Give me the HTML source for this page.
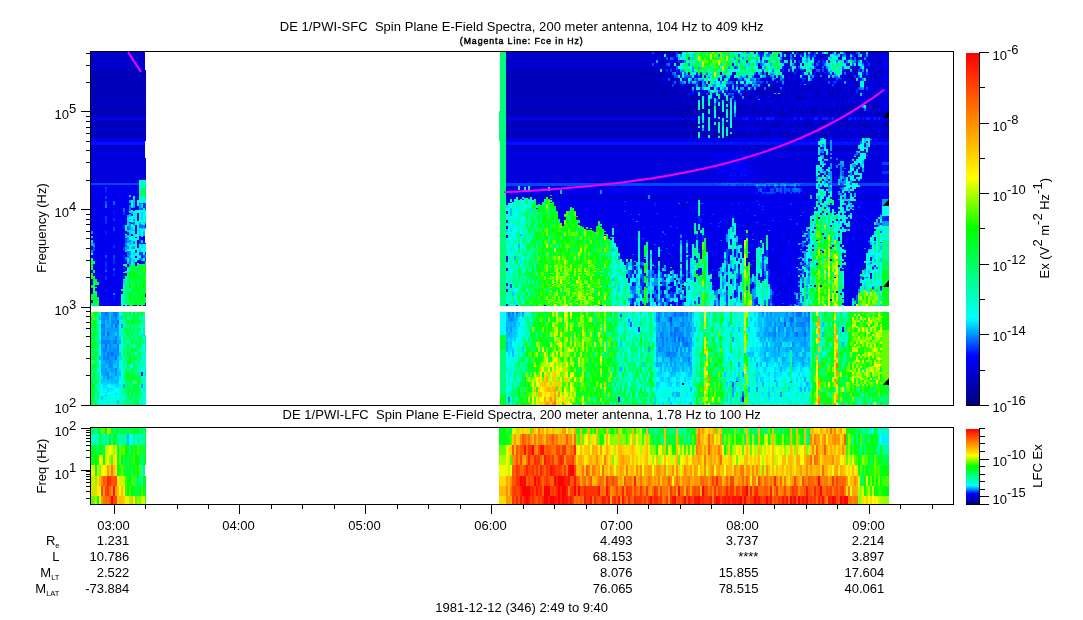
<!DOCTYPE html>
<html><head><meta charset="utf-8"><style>
html,body{margin:0;padding:0;background:#fff;width:1083px;height:620px;overflow:hidden}
#root{position:relative;width:1083px;height:620px}
svg{position:absolute;left:0;top:0}
.p{position:absolute;display:flex}
.p i{display:block;width:2px;height:100%;flex:none}
</style></head><body><div id="root">
<div class="p" style="left:91px;top:52px;height:353px"><i style="background:linear-gradient(#00c 18px,#00b 0 48px,#00c 0 51px,#00b 0 65px,#00e 0 68px,#00b 0 76px,#00c 0 79px,#00b 0 86px,#00e 0 90px,#01f 0 93px,#00c 0 99px,#00d 0 100px,#00e 0 102px,#00d 0 131px,#04f 0 133px,#00e 0 179px,#08f 0 182px,#00e 0 184px,#0cf 0 186px,#00e 0 188px,#0cf 0 190px,#0bf 0 194px,#00e 0 198px,#08f 0 201px,#0ef 0 203px,#00e 0 206px,#0f8 0 208px,#0f6 0 212px,#0f4 0 216px,#0f6 0 218px,#00e 0 221px,#2f0 0 224px,#0f1 0 227px,#00e 0 233px,#0f1 0 236px,#00e 0 242px,#0f4 0 248px,#00e 0 251px,#0f3 0 252px,#0fa 0 254px,#fff 0 260px,#7f0 0 264px,#0f3 0 268px,#2f0 0 272px,#0f3 0 276px,#0f7 0 280px,#0f2 0 292px,#0f0 0 296px,#0f3 0 300px,#0f6 0 304px,#1f0 0 308px,#4f0 0 312px,#0f5 0 316px,#0f4 0 320px,#0f5 0 321px,#0f6 0 324px,#0f3 0 328px,#0f2 0 336px,#0f3 0 340px,#1f0 0 344px,#0f5 0 348px,#0f0 0 352px,#0f3 0)"></i><i style="background:linear-gradient(#00c 18px,#00b 0 48px,#00c 0 51px,#00b 0 65px,#00e 0 68px,#00b 0 76px,#00c 0 79px,#00b 0 86px,#00e 0 90px,#01f 0 93px,#00c 0 99px,#00d 0 100px,#00e 0 102px,#00d 0 131px,#04f 0 133px,#00e 0 191px,#07f 0 193px,#09f 0 195px,#04f 0 199px,#00e 0 201px,#01f 0 203px,#00e 0 209px,#0f4 0 212px,#00e 0 218px,#0f2 0 220px,#0f3 0 221px,#00e 0 224px,#0f2 0 228px,#0f3 0 232px,#0f7 0 236px,#4f0 0 240px,#0f6 0 244px,#0f3 0 248px,#0f4 0 254px,#fff 0 260px,#0f4 0 264px,#6f0 0 268px,#0f1 0 272px,#0f0 0 276px,#0f5 0 280px,#0f2 0 284px,#0f4 0 291px,#0f5 0 292px,#2f0 0 296px,#0f6 0 300px,#0f5 0 303px,#0f6 0 304px,#0f1 0 306px,#0f2 0 308px,#0fc 0 312px,#0f2 0 316px,#0f6 0 320px,#0f2 0 324px,#0f6 0 328px,#0f8 0 332px,#0f0 0 336px,#0f9 0 340px,#0f3 0 344px,#0f5 0 348px,#0f7 0 352px,#0f4 0)"></i><i style="background:linear-gradient(#00c 18px,#00b 0 48px,#00c 0 51px,#00b 0 65px,#00e 0 68px,#00b 0 76px,#00c 0 79px,#00b 0 86px,#00e 0 90px,#01f 0 93px,#00c 0 99px,#00d 0 100px,#00e 0 102px,#00d 0 131px,#04f 0 133px,#00e 0 227px,#0f1 0 228px,#0f3 0 232px,#0f6 0 233px,#00e 0 235px,#0f6 0 236px,#00e 0 239px,#0f5 0 244px,#0f2 0 248px,#0f4 0 252px,#0f7 0 254px,#fff 0 260px,#0f0 0 264px,#0f8 0 268px,#0f5 0 272px,#0f1 0 275px,#0f2 0 276px,#0f4 0 280px,#0f3 0 284px,#0f9 0 288px,#0f2 0 292px,#0f5 0 296px,#0f6 0 299px,#0f7 0 300px,#0f0 0 304px,#0f7 0 308px,#0f4 0 312px,#0f3 0 316px,#0f4 0 320px,#0f8 0 328px,#0f1 0 332px,#0f9 0 336px,#0f4 0 340px,#0f9 0 344px,#0fa 0 348px,#0f6 0 352px,#0f2 0)"></i><i style="background:linear-gradient(#00c 18px,#00b 0 48px,#00c 0 51px,#00b 0 65px,#00e 0 68px,#00b 0 76px,#00c 0 79px,#00b 0 86px,#00e 0 90px,#01f 0 93px,#00c 0 99px,#00d 0 100px,#00e 0 102px,#00d 0 131px,#04f 0 133px,#00e 0 230px,#0f4 0 232px,#0f1 0 233px,#00e 0 245px,#0f2 0 248px,#0f3 0 254px,#fff 0 260px,#0f7 0 263px,#0f8 0 268px,#0fb 0 272px,#0f8 0 276px,#0fa 0 280px,#0f7 0 288px,#0f8 0 292px,#0f5 0 296px,#0f7 0 304px,#0f6 0 306px,#0f7 0 308px,#0fa 0 312px,#0f7 0 316px,#0fe 0 320px,#0f7 0 324px,#0f8 0 332px,#0fa 0 336px,#0f9 0 340px,#0f5 0 344px,#0f7 0 348px,#0fd 0 352px,#0f8 0)"></i><i style="background:linear-gradient(#00c 18px,#00b 0 48px,#00c 0 51px,#00b 0 65px,#00e 0 68px,#00b 0 76px,#00c 0 79px,#00b 0 86px,#00e 0 90px,#01f 0 93px,#00c 0 99px,#00d 0 100px,#00e 0 102px,#00d 0 131px,#04f 0 133px,#00e 0 254px,#fff 0 260px,#0fb 0 262px,#0fc 0 264px,#0cf 0 267px,#0bf 0 268px,#0fe 0 270px,#0ff 0 272px,#0fb 0 274px,#0fc 0 276px,#0fd 0 284px,#0ff 0 288px,#0ef 0 289px,#0df 0 292px,#0fd 0 295px,#0fe 0 298px,#0ff 0 304px,#0bf 0 308px,#0ff 0 312px,#0fd 0 320px,#0fe 0 323px,#0fd 0 324px,#0fb 0 328px,#0fc 0 332px,#0fd 0 336px,#0ff 0 337px,#0fe 0 340px,#0ef 0 341px,#0ff 0 344px,#0fd 0 348px,#0fe 0 352px,#0fb 0)"></i><i style="background:linear-gradient(#00c 18px,#00b 0 48px,#00c 0 51px,#00b 0 65px,#00e 0 68px,#00b 0 76px,#00c 0 79px,#00b 0 86px,#00e 0 90px,#01f 0 93px,#00c 0 99px,#00d 0 100px,#00e 0 102px,#00d 0 131px,#04f 0 133px,#00e 0 254px,#fff 0 260px,#08f 0 264px,#09f 0 268px,#0af 0 272px,#06f 0 276px,#09f 0 280px,#08f 0 288px,#07f 0 292px,#09f 0 300px,#0af 0 304px,#0bf 0 312px,#09f 0 314px,#0af 0 316px,#09f 0 320px,#0af 0 321px,#0bf 0 324px,#0df 0 328px,#0bf 0 330px,#0cf 0 332px,#0ef 0 334px,#0ff 0 339px,#0fe 0 340px,#0ff 0 344px,#0bf 0 346px,#0cf 0 348px,#0fe 0 352px,#0ef 0)"></i><i style="background:linear-gradient(#00c 18px,#00b 0 48px,#00c 0 51px,#00b 0 65px,#00e 0 68px,#00b 0 76px,#00c 0 79px,#00b 0 86px,#00e 0 90px,#01f 0 93px,#00c 0 99px,#00d 0 100px,#00e 0 102px,#00d 0 131px,#04f 0 133px,#00e 0 254px,#fff 0 260px,#09f 0 264px,#08f 0 272px,#07f 0 276px,#08f 0 280px,#07f 0 284px,#0af 0 288px,#07f 0 292px,#0af 0 296px,#07f 0 300px,#08f 0 304px,#07f 0 308px,#0af 0 310px,#0bf 0 312px,#09f 0 315px,#0af 0 320px,#09f 0 322px,#0af 0 328px,#0cf 0 331px,#0df 0 332px,#0cf 0 333px,#0df 0 336px,#0ef 0 339px,#0ff 0 340px,#0ef 0 341px,#0ff 0 343px,#0ef 0 344px,#0fc 0 348px,#0fe 0 352px,#0fd 0)"></i><i style="background:linear-gradient(#00c 18px,#00b 0 48px,#00c 0 51px,#00b 0 65px,#00e 0 68px,#00b 0 76px,#00c 0 79px,#00b 0 86px,#00e 0 90px,#01f 0 93px,#00c 0 99px,#00d 0 100px,#00e 0 102px,#00d 0 131px,#04f 0 133px,#00e 0 135px,#03f 0 137px,#02f 0 140px,#00e 0 144px,#04f 0 147px,#00e 0 149px,#05f 0 152px,#07f 0 156px,#00e 0 158px,#00f 0 161px,#00e 0 164px,#04f 0 166px,#03f 0 172px,#00e 0 179px,#02f 0 182px,#00e 0 200px,#00f 0 203px,#05f 0 206px,#00e 0 209px,#02f 0 211px,#03f 0 214px,#02f 0 218px,#06f 0 220px,#00f 0 224px,#03f 0 228px,#00f 0 234px,#00e 0 237px,#01f 0 240px,#00e 0 246px,#01f 0 248px,#00e 0 254px,#fff 0 260px,#06f 0 264px,#09f 0 268px,#0bf 0 276px,#0af 0 280px,#0bf 0 284px,#09f 0 288px,#08f 0 292px,#06f 0 296px,#08f 0 300px,#0af 0 304px,#08f 0 308px,#09f 0 312px,#0bf 0 315px,#0cf 0 316px,#09f 0 324px,#0bf 0 326px,#0cf 0 331px,#0df 0 332px,#0cf 0 333px,#0df 0 336px,#0ef 0 338px,#0ff 0 340px,#0df 0 341px,#0ef 0 343px,#0bf 0 344px,#0fd 0 347px,#0fc 0 348px,#0fe 0 352px,#0fd 0)"></i><i style="background:linear-gradient(#00c 18px,#00b 0 48px,#00c 0 51px,#00b 0 65px,#00e 0 68px,#00b 0 76px,#00c 0 79px,#00b 0 86px,#00e 0 90px,#01f 0 93px,#00c 0 99px,#00d 0 100px,#00e 0 102px,#00d 0 131px,#04f 0 133px,#00e 0 254px,#fff 0 260px,#08f 0 268px,#09f 0 272px,#0bf 0 276px,#09f 0 280px,#06f 0 284px,#09f 0 288px,#07f 0 292px,#0af 0 300px,#07f 0 307px,#08f 0 308px,#09f 0 312px,#0af 0 316px,#0bf 0 320px,#08f 0 328px,#0bf 0 330px,#0cf 0 332px,#0ef 0 333px,#0ff 0 336px,#0cf 0 337px,#0df 0 340px,#0fe 0 343px,#0fd 0 344px,#0fe 0 347px,#0fd 0 349px,#0fc 0 352px,#0fb 0)"></i><i style="background:linear-gradient(#00c 18px,#00b 0 48px,#00c 0 51px,#00b 0 65px,#00e 0 68px,#00b 0 76px,#00c 0 79px,#00b 0 86px,#00e 0 90px,#01f 0 93px,#00c 0 99px,#00d 0 100px,#00e 0 102px,#00d 0 131px,#04f 0 133px,#00e 0 254px,#fff 0 260px,#0bf 0 272px,#0af 0 276px,#09f 0 284px,#0af 0 288px,#08f 0 304px,#09f 0 308px,#08f 0 316px,#0af 0 320px,#0cf 0 324px,#0af 0 327px,#0bf 0 328px,#0cf 0 331px,#0df 0 332px,#0ff 0 336px,#0df 0 338px,#0ef 0 340px,#0ff 0 342px,#0fe 0 344px,#0fd 0 348px,#0fe 0)"></i><i style="background:linear-gradient(#00c 18px,#00b 0 48px,#00c 0 51px,#00b 0 65px,#00e 0 68px,#00b 0 76px,#00c 0 79px,#00b 0 86px,#00e 0 90px,#01f 0 93px,#00c 0 99px,#00d 0 100px,#00e 0 102px,#00d 0 131px,#04f 0 133px,#00e 0 254px,#fff 0 260px,#0af 0 264px,#09f 0 268px,#08f 0 276px,#09f 0 280px,#0af 0 292px,#09f 0 300px,#06f 0 304px,#09f 0 312px,#08f 0 316px,#09f 0 320px,#0af 0 322px,#0bf 0 324px,#0af 0 327px,#0bf 0 328px,#0af 0 330px,#0bf 0 332px,#0df 0 333px,#0ef 0 335px,#0ff 0 336px,#0df 0 338px,#0ef 0 340px,#0ff 0 344px,#0fe 0 345px,#0fd 0 348px,#0ff 0 349px,#0fe 0 352px,#0fb 0)"></i><i style="background:linear-gradient(#00c 18px,#00b 0 48px,#00c 0 51px,#00b 0 65px,#00e 0 68px,#00b 0 76px,#00c 0 79px,#00b 0 86px,#00e 0 90px,#01f 0 93px,#00c 0 99px,#00d 0 100px,#00e 0 102px,#00d 0 131px,#04f 0 133px,#00e 0 149px,#06f 0 153px,#00e 0 159px,#01f 0 163px,#00e 0 166px,#03f 0 169px,#00e 0 175px,#04f 0 179px,#00e 0 185px,#00f 0 193px,#03f 0 196px,#00e 0 203px,#04f 0 206px,#03f 0 210px,#02f 0 212px,#00e 0 216px,#05f 0 219px,#00f 0 221px,#02f 0 224px,#00e 0 229px,#00f 0 231px,#00e 0 237px,#00f 0 241px,#08f 0 243px,#01f 0 248px,#00e 0 254px,#fff 0 260px,#07f 0 264px,#09f 0 268px,#08f 0 272px,#0bf 0 276px,#0af 0 288px,#07f 0 292px,#0af 0 296px,#08f 0 304px,#09f 0 308px,#0af 0 312px,#0cf 0 316px,#0af 0 320px,#0bf 0 330px,#0cf 0 332px,#0ef 0 334px,#0ff 0 336px,#0ef 0 338px,#0ff 0 341px,#0fe 0 344px,#0ff 0 347px,#0fe 0 348px,#0fc 0 352px,#0fd 0)"></i><i style="background:linear-gradient(#00c 18px,#00b 0 48px,#00c 0 51px,#00b 0 65px,#00e 0 68px,#00b 0 76px,#00c 0 79px,#00b 0 86px,#00e 0 90px,#01f 0 93px,#00c 0 99px,#00d 0 100px,#00e 0 102px,#00d 0 131px,#04f 0 133px,#00e 0 254px,#fff 0 260px,#06f 0 264px,#07f 0 268px,#09f 0 272px,#06f 0 276px,#09f 0 280px,#0cf 0 284px,#08f 0 288px,#07f 0 292px,#0af 0 296px,#09f 0 304px,#06f 0 308px,#0bf 0 312px,#0cf 0 316px,#07f 0 318px,#08f 0 324px,#0cf 0 328px,#0af 0 330px,#0bf 0 332px,#0df 0 335px,#0ef 0 336px,#0ff 0 340px,#0ef 0 341px,#0df 0 343px,#0ef 0 344px,#0fc 0 347px,#0fb 0 352px,#0fc 0)"></i><i style="background:linear-gradient(#00c 18px,#00b 0 48px,#00c 0 51px,#00b 0 65px,#00e 0 68px,#00b 0 76px,#00c 0 79px,#00b 0 86px,#00e 0 90px,#01f 0 93px,#00c 0 99px,#00d 0 100px,#00e 0 102px,#00d 0 131px,#04f 0 133px,#00e 0 254px,#fff 0 260px,#09f 0 264px,#0bf 0 268px,#05f 0 272px,#09f 0 284px,#0af 0 292px,#07f 0 300px,#08f 0 304px,#0bf 0 308px,#0af 0 310px,#0bf 0 312px,#0af 0 316px,#0bf 0 330px,#0cf 0 334px,#0df 0 336px,#0ff 0 339px,#0fe 0 340px,#0ff 0 341px,#0ef 0 342px,#0ff 0 345px,#0fe 0 348px,#0bf 0 351px,#0cf 0 352px,#0fd 0)"></i><i style="background:linear-gradient(#00c 18px,#00b 0 48px,#00c 0 51px,#00b 0 65px,#00e 0 68px,#00b 0 76px,#00c 0 79px,#00b 0 86px,#00e 0 90px,#01f 0 93px,#00c 0 99px,#00d 0 100px,#00e 0 102px,#00d 0 131px,#04f 0 133px,#00e 0 254px,#fff 0 260px,#0ff 0 264px,#0df 0 268px,#0ef 0 272px,#0ff 0 276px,#0ef 0 284px,#0cf 0 288px,#0af 0 292px,#0ef 0 300px,#0cf 0 304px,#0df 0 308px,#0ef 0 314px,#0ff 0 316px,#0df 0 320px,#0bf 0 324px,#0ef 0 328px,#0ff 0 332px,#0ef 0 336px,#0fd 0 337px,#0fc 0 344px,#0fd 0 348px,#0fc 0 349px,#0fb 0 352px,#0fa 0)"></i><i style="background:linear-gradient(#00c 18px,#00b 0 48px,#00c 0 51px,#00b 0 65px,#00e 0 68px,#00b 0 76px,#00c 0 79px,#00b 0 86px,#00e 0 90px,#01f 0 93px,#00c 0 99px,#00d 0 100px,#00e 0 102px,#00d 0 131px,#04f 0 133px,#00e 0 237px,#0fb 0 239px,#00e 0 242px,#0fc 0 244px,#0fd 0 248px,#0fc 0 252px,#0fb 0 254px,#fff 0 260px,#0fa 0 264px,#0cf 0 268px,#0fb 0 272px,#08f 0 275px,#07f 0 276px,#0fa 0 280px,#0f9 0 284px,#0fe 0 285px,#0ff 0 288px,#0fd 0 300px,#0fc 0 304px,#0f7 0 308px,#0fe 0 312px,#0fd 0 313px,#0fc 0 316px,#0fd 0 320px,#0fe 0 328px,#0fc 0 332px,#0fa 0 336px,#0fb 0 337px,#0f9 0 340px,#0fa 0 344px,#0fc 0 348px,#0fb 0 352px,#0fe 0)"></i><i style="background:linear-gradient(#00c 18px,#00b 0 48px,#00c 0 51px,#00b 0 65px,#00e 0 68px,#00b 0 76px,#00c 0 79px,#00b 0 86px,#00e 0 90px,#01f 0 93px,#00c 0 99px,#00d 0 100px,#00e 0 102px,#00d 0 131px,#04f 0 133px,#00e 0 156px,#06f 0 160px,#03f 0 163px,#00f 0 171px,#00e 0 173px,#03f 0 177px,#00d 0 180px,#01f 0 182px,#00e 0 191px,#00d 0 195px,#03f 0 199px,#00e 0 203px,#02f 0 206px,#00e 0 212px,#0fa 0 214px,#00e 0 215px,#03f 0 217px,#00f 0 219px,#00e 0 220px,#0fb 0 221px,#00e 0 223px,#02f 0 226px,#01f 0 227px,#0fd 0 228px,#0bf 0 229px,#0cf 0 232px,#0fc 0 236px,#0f9 0 239px,#0f8 0 240px,#0f9 0 244px,#0fb 0 247px,#0fa 0 248px,#0fb 0 252px,#0fa 0 253px,#00e 0 254px,#fff 0 260px,#0f5 0 263px,#0f6 0 267px,#0f7 0 268px,#0fa 0 276px,#0f7 0 280px,#0f9 0 282px,#0fa 0 284px,#0f3 0 288px,#0f6 0 292px,#0f8 0 296px,#0f5 0 303px,#0f6 0 304px,#0fe 0 308px,#0f7 0 312px,#0f9 0 316px,#0fb 0 324px,#0f8 0 328px,#0fd 0 332px,#0af 0 336px,#0f9 0 340px,#0fa 0 344px,#0fc 0 348px,#0f8 0 352px,#0fa 0)"></i><i style="background:linear-gradient(#00c 18px,#00b 0 48px,#00c 0 51px,#00b 0 65px,#00e 0 68px,#00b 0 76px,#00c 0 79px,#00b 0 86px,#00e 0 90px,#01f 0 93px,#00c 0 99px,#00d 0 100px,#00e 0 102px,#00d 0 131px,#04f 0 133px,#00e 0 173px,#0ef 0 176px,#0fc 0 179px,#00e 0 182px,#0ff 0 183px,#0af 0 186px,#05f 0 191px,#08f 0 193px,#05f 0 195px,#0af 0 199px,#0df 0 200px,#00e 0 205px,#09f 0 207px,#04f 0 209px,#00e 0 212px,#0fb 0 213px,#0f7 0 215px,#00e 0 219px,#0fb 0 220px,#0f9 0 221px,#00e 0 224px,#0f8 0 228px,#0f9 0 232px,#0f6 0 236px,#0f7 0 240px,#0f8 0 244px,#0f6 0 252px,#0fa 0 254px,#fff 0 260px,#0f4 0 268px,#0f7 0 272px,#0f9 0 276px,#0f2 0 280px,#0f7 0 284px,#0f9 0 288px,#0f8 0 292px,#0f9 0 296px,#0f7 0 300px,#0f8 0 304px,#0f7 0 308px,#0f8 0 312px,#0fc 0 316px,#0f6 0 320px,#0f3 0 328px,#0f6 0 340px,#0fa 0 344px,#0f9 0 352px,#0fa 0)"></i><i style="background:linear-gradient(#00c 18px,#00b 0 48px,#00c 0 51px,#00b 0 65px,#00e 0 68px,#00b 0 76px,#00c 0 79px,#00b 0 86px,#00e 0 90px,#01f 0 93px,#00c 0 99px,#00d 0 100px,#00e 0 102px,#00d 0 131px,#04f 0 133px,#00e 0 163px,#0bf 0 166px,#0ef 0 168px,#0cf 0 171px,#0df 0 174px,#06f 0 178px,#0bf 0 180px,#01f 0 183px,#09f 0 184px,#0fd 0 185px,#09f 0 191px,#0ef 0 194px,#08f 0 197px,#0fe 0 199px,#07f 0 206px,#0ef 0 210px,#0bf 0 212px,#00e 0 215px,#0f5 0 216px,#0fd 0 220px,#0f6 0 229px,#0f5 0 232px,#0fa 0 236px,#0f8 0 240px,#0f4 0 244px,#0f7 0 253px,#00e 0 254px,#fff 0 260px,#0f8 0 264px,#0fa 0 268px,#0f1 0 272px,#0f7 0 276px,#0f6 0 280px,#0f3 0 284px,#0f6 0 288px,#0f9 0 292px,#0f4 0 296px,#0f5 0 300px,#0f2 0 304px,#0f7 0 308px,#0f3 0 312px,#0f4 0 316px,#0f7 0 320px,#0f1 0 324px,#0f2 0 328px,#0f5 0 332px,#0f4 0 336px,#0f5 0 340px,#0f1 0 344px,#0f8 0 348px,#0f6 0 352px,#0f7 0)"></i><i style="background:linear-gradient(#00c 18px,#00b 0 48px,#00c 0 51px,#00b 0 65px,#00e 0 68px,#00b 0 76px,#00c 0 79px,#00b 0 86px,#00e 0 90px,#01f 0 93px,#00c 0 99px,#00d 0 100px,#00e 0 102px,#00d 0 131px,#04f 0 133px,#00e 0 143px,#0cf 0 145px,#00e 0 148px,#0af 0 151px,#00e 0 153px,#07f 0 159px,#0df 0 161px,#00e 0 162px,#0bf 0 165px,#0ff 0 167px,#09f 0 168px,#0fe 0 170px,#00e 0 171px,#09f 0 175px,#08f 0 178px,#0df 0 181px,#0bf 0 183px,#0cf 0 185px,#0fe 0 188px,#07f 0 190px,#0bf 0 193px,#0ef 0 195px,#0fe 0 199px,#08f 0 203px,#0bf 0 206px,#08f 0 208px,#07f 0 212px,#0af 0 214px,#0f3 0 216px,#0f5 0 220px,#0f1 0 224px,#0f2 0 228px,#0f5 0 230px,#0f4 0 232px,#0f1 0 236px,#0f8 0 239px,#0f7 0 240px,#0f2 0 244px,#0f0 0 248px,#0f2 0 252px,#0f1 0 254px,#fff 0 260px,#0f2 0 264px,#0f7 0 268px,#0f6 0 272px,#0f4 0 276px,#0f5 0 280px,#0f7 0 284px,#0f5 0 288px,#0f9 0 292px,#0f8 0 300px,#0f6 0 304px,#0f1 0 312px,#0fb 0 316px,#0f8 0 320px,#0f5 0 324px,#0f4 0 332px,#0f5 0 333px,#0f6 0 336px,#0f2 0 340px,#0f8 0 344px,#0f4 0 348px,#0f8 0 352px,#0fa 0)"></i><i style="background:linear-gradient(#00c 18px,#00b 0 48px,#00c 0 51px,#00b 0 65px,#00e 0 68px,#00b 0 76px,#00c 0 79px,#00b 0 86px,#00e 0 90px,#01f 0 93px,#00c 0 99px,#00d 0 100px,#00e 0 102px,#00d 0 131px,#04f 0 133px,#00e 0 148px,#0fd 0 151px,#0fc 0 155px,#0bf 0 156px,#00e 0 158px,#0fc 0 160px,#0af 0 162px,#00e 0 164px,#0ff 0 166px,#0fd 0 170px,#0af 0 171px,#00e 0 172px,#0fd 0 175px,#0cf 0 179px,#0fb 0 182px,#00e 0 184px,#0ef 0 186px,#0fe 0 188px,#0df 0 194px,#0ef 0 195px,#0af 0 197px,#0fc 0 198px,#0ff 0 200px,#0fd 0 204px,#0fe 0 206px,#0cf 0 208px,#0fc 0 210px,#0fd 0 213px,#0f5 0 216px,#0f3 0 220px,#0f1 0 224px,#0f4 0 225px,#0f3 0 228px,#0f6 0 232px,#3f0 0 233px,#4f0 0 236px,#0f6 0 240px,#0f1 0 244px,#0f6 0 246px,#0f5 0 252px,#0f2 0 254px,#fff 0 260px,#0fc 0 264px,#0f6 0 268px,#0f1 0 272px,#0f7 0 276px,#0f6 0 280px,#0f2 0 284px,#0f7 0 288px,#0f2 0 292px,#0f8 0 296px,#0f1 0 300px,#0f7 0 304px,#0f4 0 308px,#0f6 0 312px,#0fd 0 316px,#0f3 0 320px,#0f2 0 324px,#0f1 0 328px,#0f5 0 332px,#0f9 0 336px,#0f6 0 340px,#0f4 0 344px,#0f6 0 348px,#0f9 0 352px,#0f7 0)"></i><i style="background:linear-gradient(#00c 18px,#00b 0 48px,#00c 0 51px,#00b 0 65px,#00e 0 68px,#00b 0 76px,#00c 0 79px,#00b 0 86px,#00e 0 90px,#01f 0 93px,#00c 0 99px,#00d 0 100px,#00e 0 102px,#00d 0 131px,#04f 0 133px,#00e 0 144px,#0fd 0 147px,#0bf 0 149px,#0cf 0 151px,#0bf 0 155px,#08f 0 156px,#00e 0 159px,#0ef 0 167px,#09f 0 169px,#0df 0 170px,#06f 0 172px,#08f 0 173px,#0fe 0 177px,#0cf 0 179px,#0fd 0 182px,#0df 0 185px,#0ff 0 189px,#07f 0 190px,#06f 0 192px,#0fe 0 194px,#09f 0 197px,#0fe 0 200px,#0df 0 203px,#0ef 0 208px,#0bf 0 211px,#0df 0 212px,#0f4 0 216px,#0f5 0 220px,#0f0 0 224px,#0f2 0 228px,#0f6 0 232px,#0f8 0 236px,#0f1 0 240px,#0f6 0 244px,#0f0 0 246px,#1f0 0 248px,#0f3 0 252px,#0f1 0 253px,#00e 0 254px,#fff 0 260px,#0f1 0 268px,#0f0 0 269px,#0f1 0 272px,#0f5 0 276px,#0f4 0 280px,#0f9 0 284px,#0f6 0 288px,#0f7 0 292px,#0fc 0 296px,#0f4 0 300px,#0f5 0 304px,#2f0 0 308px,#0f6 0 316px,#0f7 0 320px,#0f6 0 324px,#1f0 0 328px,#0fd 0 332px,#0f1 0 336px,#0f2 0 340px,#0f7 0 344px,#0f6 0 345px,#0f7 0 348px,#0f5 0 352px,#0f4 0)"></i><i style="background:linear-gradient(#00c 18px,#00b 0 48px,#00c 0 51px,#00b 0 65px,#00e 0 68px,#00b 0 76px,#00c 0 79px,#00b 0 86px,#00e 0 90px,#01f 0 93px,#00c 0 99px,#00d 0 100px,#00e 0 102px,#00d 0 131px,#04f 0 133px,#00e 0 158px,#0fa 0 162px,#0fb 0 169px,#0fc 0 173px,#00e 0 182px,#0ff 0 184px,#0fe 0 185px,#00e 0 186px,#0fc 0 194px,#0fd 0 198px,#00e 0 200px,#05f 0 201px,#0fc 0 204px,#00e 0 206px,#0fc 0 210px,#00e 0 214px,#0f5 0 216px,#0f4 0 220px,#0f2 0 224px,#0f3 0 228px,#0f1 0 236px,#0f4 0 240px,#0f3 0 244px,#0f5 0 248px,#0f0 0 252px,#0f4 0 253px,#00e 0 254px,#fff 0 260px,#0fa 0 264px,#0f5 0 266px,#0f6 0 272px,#0f9 0 276px,#0fb 0 280px,#0f7 0 284px,#0f8 0 288px,#0f4 0 292px,#0f7 0 296px,#0f3 0 300px,#0fb 0 304px,#0f4 0 308px,#0f9 0 312px,#0f6 0 320px,#0f9 0 324px,#0f6 0 328px,#5f0 0 332px,#0f4 0 336px,#0f5 0 344px,#0f4 0 346px,#0f5 0 352px,#0f4 0)"></i><i style="background:linear-gradient(#00c 18px,#00b 0 48px,#00c 0 51px,#00b 0 65px,#00e 0 68px,#00b 0 76px,#00c 0 79px,#00b 0 86px,#00e 0 90px,#01f 0 93px,#00c 0 99px,#00d 0 100px,#00e 0 102px,#00d 0 131px,#04f 0 133px,#00e 0 148px,#0fd 0 154px,#00e 0 158px,#0fe 0 161px,#00e 0 169px,#0fd 0 173px,#0fe 0 175px,#0ef 0 179px,#0fe 0 183px,#0ff 0 185px,#0fe 0 188px,#00e 0 196px,#0fd 0 200px,#0fe 0 204px,#0ff 0 206px,#0fd 0 208px,#00e 0 211px,#0fe 0 212px,#0f7 0 216px,#0f4 0 224px,#0f2 0 228px,#0f5 0 232px,#0f3 0 236px,#0f1 0 240px,#0f3 0 244px,#0f2 0 248px,#0f4 0 252px,#0f0 0 254px,#fff 0 260px,#0f2 0 264px,#0f4 0 268px,#0f3 0 272px,#0f6 0 276px,#0f3 0 280px,#0f5 0 283px,#0f6 0 284px,#0f7 0 288px,#0f6 0 292px,#0f4 0 296px,#0f8 0 300px,#0f5 0 304px,#0f8 0 308px,#0f9 0 312px,#0fa 0 316px,#0fb 0 320px,#0f7 0 324px,#0f5 0 332px,#0f3 0 336px,#0f5 0 340px,#0f1 0 343px,#0f2 0 344px,#0f8 0 348px,#0f4 0 352px,#0f1 0)"></i><i style="background:linear-gradient(#00c 18px,#00b 0 48px,#00c 0 51px,#00b 0 65px,#00e 0 68px,#00b 0 76px,#00c 0 79px,#00b 0 86px,#00e 0 90px,#01f 0 93px,#00c 0 99px,#00d 0 100px,#00e 0 102px,#00d 0 128px,#0fd 0 132px,#0fb 0 136px,#0f8 0 144px,#0fb 0 148px,#0fd 0 151px,#04f 0 152px,#09f 0 156px,#07f 0 158px,#0ff 0 160px,#0fe 0 164px,#0ff 0 168px,#0fe 0 170px,#0af 0 172px,#06f 0 176px,#0df 0 180px,#0cf 0 184px,#00e 0 188px,#03f 0 192px,#0fe 0 196px,#0df 0 200px,#04f 0 203px,#0bf 0 204px,#0fe 0 206px,#07f 0 208px,#00e 0 212px,#0f5 0 213px,#0f4 0 216px,#0f3 0 224px,#0f1 0 228px,#0f3 0 232px,#0f4 0 236px,#0f5 0 240px,#0f1 0 244px,#0f2 0 252px,#0f4 0 253px,#00e 0 254px,#fff 0 260px,#0f6 0 264px,#0fb 0 268px,#0f5 0 272px,#0fa 0 274px,#0fb 0 276px,#0f7 0 280px,#0fc 0 284px,#0f4 0 288px,#0f2 0 292px,#0f4 0 296px,#0fa 0 300px,#0f3 0 304px,#0f5 0 308px,#0f8 0 312px,#0f9 0 316px,#0fb 0 320px,#0f5 0 324px,#0f2 0 328px,#0f4 0 332px,#0fb 0 336px,#0f5 0 340px,#0f6 0 344px,#0f9 0 348px,#0fc 0 352px,#0f4 0)"></i><i style="background:linear-gradient(#00c 18px,#00b 0 48px,#00c 0 51px,#00b 0 65px,#00e 0 68px,#00b 0 76px,#00c 0 79px,#00b 0 86px,#00e 0 90px,#01f 0 93px,#00c 0 99px,#00d 0 100px,#00e 0 102px,#00d 0 128px,#0f9 0 132px,#0fd 0 136px,#0f6 0 144px,#0fc 0 151px,#08f 0 152px,#0cf 0 156px,#06f 0 158px,#0ff 0 160px,#0df 0 168px,#0fe 0 172px,#0bf 0 173px,#06f 0 176px,#0af 0 177px,#0ff 0 180px,#0fe 0 182px,#0fc 0 184px,#0ef 0 185px,#00f 0 188px,#0cf 0 191px,#00e 0 192px,#0df 0 196px,#0ff 0 197px,#0fe 0 200px,#03f 0 204px,#01f 0 206px,#07f 0 208px,#0df 0 209px,#00e 0 212px,#0f4 0 216px,#0f3 0 220px,#0f6 0 224px,#0f2 0 228px,#0f5 0 232px,#0f1 0 236px,#0f2 0 240px,#0f7 0 244px,#0f0 0 248px,#0f3 0 254px,#fff 0 260px,#0f1 0 261px,#0f2 0 264px,#0fa 0 268px,#0f8 0 270px,#0f9 0 272px,#0fc 0 275px,#0fd 0 276px,#0fe 0 280px,#0ff 0 281px,#0ef 0 283px,#0df 0 284px,#0f6 0 288px,#0fb 0 292px,#0fa 0 296px,#0fb 0 298px,#0fc 0 304px,#0ef 0 308px,#0fc 0 312px,#0fb 0 316px,#0ff 0 320px,#01f 0 324px,#0fd 0 328px,#0f9 0 332px,#09f 0 336px,#0ff 0 340px,#0f9 0 344px,#0fb 0 348px,#0fc 0 352px,#0f9 0)"></i><i style="background:linear-gradient(#00c 18px,#00b 0 48px,#00c 0 51px,#00b 0 65px,#00e 0 68px,#00b 0 76px,#00c 0 79px,#00b 0 86px,#00e 0 90px,#01f 0 93px,#00c 0 99px,#00d 0 100px,#00e 0 102px,#00d 0 128px,#0fc 0 132px,#0fb 0 136px,#0f6 0 144px,#0fb 0 148px,#0ef 0 151px,#00f 0 152px,#03f 0 156px,#0df 0 158px,#0fc 0 160px,#0fe 0 164px,#0fd 0 168px,#0fc 0 170px,#0fa 0 172px,#0ff 0 173px,#08f 0 176px,#0df 0 180px,#0bf 0 184px,#00f 0 188px,#01f 0 192px,#0fe 0 194px,#0fb 0 196px,#0fd 0 197px,#0fe 0 200px,#0ff 0 203px,#06f 0 206px,#0ff 0 208px,#0fd 0 209px,#00e 0 212px,#0f4 0 216px,#5f0 0 220px,#0f2 0 224px,#0f3 0 228px,#0f1 0 232px,#0f0 0 236px,#0f3 0 240px,#0f0 0 244px,#0f2 0 248px,#0f3 0 250px,#0f2 0 252px,#4f0 0 253px,#00e 0 254px,#fff 0 260px,#0f9 0 264px,#0fa 0 267px,#0fb 0 268px,#0f9 0 269px,#0fa 0 272px,#0fb 0 275px,#0fc 0 276px,#0f6 0 278px,#0f7 0 284px,#0fd 0 288px,#0f8 0 291px,#0f9 0 292px,#0fe 0 295px,#0fd 0 296px,#0fe 0 300px,#0fc 0 304px,#0fa 0 305px,#0fb 0 308px,#0fc 0 312px,#0fe 0 316px,#0fc 0 328px,#0fd 0 332px,#0fa 0 336px,#0fb 0 340px,#0ff 0 344px,#0fc 0 348px,#0fe 0 352px,#0fa 0)"></i><i style="width:1px;background:linear-gradient(#fff 18px,#00b 0 48px,#00c 0 51px,#00b 0 65px,#00e 0 68px,#00b 0 76px,#00c 0 79px,#00b 0 86px,#00e 0 89px,#fff 0 106px,#00d 0 128px,#0fa 0 136px,#0f7 0 140px,#0f5 0 144px,#0fa 0 148px,#0fc 0 151px,#07f 0 152px,#05f 0 158px,#0ef 0 160px,#0fe 0 170px,#09f 0 172px,#02f 0 176px,#0af 0 177px,#fff 0 191px,#00d 0 192px,#0ff 0 200px,#02f 0 203px,#09f 0 204px,#08f 0 206px,#02f 0 208px,#00e 0 209px,#0df 0 210px,#0f4 0 212px,#0f3 0 216px,#0f0 0 220px,#0f5 0 224px,#4f0 0 228px,#2f0 0 230px,#3f0 0 232px,#0f6 0 234px,#0f5 0 236px,#0f4 0 240px,#0f0 0 242px,#00e 0 245px,#0f4 0 248px,#0f5 0 251px,#00e 0 254px,#fff 0 283px,#0fd 0 284px,#0fa 0 288px,#0fb 0 296px,#0fc 0 300px,#0fe 0 312px,#0fd 0 316px,#0fe 0 320px,#0df 0 324px,#0fe 0 328px,#0ff 0 332px,#0fe 0 336px,#0fc 0 340px,#0fe 0 344px,#0fd 0 348px,#0fe 0 352px,#0fc 0)"></i><i style="width:353px"></i><i style="width:1px;background:linear-gradient(#fff 59px,#0f7 0 89px,#fff 0)"></i><i style="width:6px;background:linear-gradient(#0f7 254px,#fff 0 260px,#0ff 0 283px,#0f3 0 298px,#0f7 0 343px,#0f2 0)"></i><i style="background:linear-gradient(#00c 18px,#00b 0 48px,#00c 0 51px,#00b 0 65px,#00e 0 68px,#00b 0 76px,#00c 0 79px,#00b 0 86px,#00e 0 90px,#01f 0 93px,#00c 0 99px,#00d 0 100px,#00e 0 102px,#00d 0 131px,#04f 0 134px,#00d 0 136px,#00e 0 142px,#00d 0 148px,#00e 0 153px,#0df 0 156px,#0fe 0 159px,#00e 0 162px,#0ff 0 164px,#0fc 0 168px,#00e 0 171px,#0ef 0 172px,#0fc 0 174px,#00e 0 177px,#0cf 0 180px,#0fb 0 183px,#00e 0 186px,#0fc 0 192px,#0fd 0 196px,#0fa 0 204px,#00e 0 205px,#00d 0 208px,#00e 0 210px,#0fb 0 212px,#0fc 0 216px,#00d 0 217px,#00e 0 219px,#0fc 0 224px,#0fd 0 231px,#00e 0 234px,#0df 0 235px,#0ef 0 236px,#0fa 0 237px,#00e 0 240px,#0fa 0 244px,#0fb 0 248px,#0fd 0 252px,#00e 0 254px,#fff 0 260px,#0bf 0 270px,#0af 0 275px,#09f 0 280px,#0bf 0 287px,#0cf 0 290px,#0af 0 292px,#0bf 0 295px,#0af 0 298px,#0bf 0 300px,#0ff 0 305px,#0ef 0 306px,#0ff 0 310px,#0fe 0 314px,#0fd 0 315px,#0ef 0 320px,#0fe 0 325px,#0ff 0 328px,#0fe 0 330px,#0fd 0 332px,#0fc 0 335px,#0ff 0 337px,#0fe 0 340px,#0fc 0 341px,#0fb 0 345px,#0ef 0 348px,#0ff 0 350px,#0f9 0)"></i><i style="background:linear-gradient(#00c 18px,#00b 0 48px,#00c 0 51px,#00b 0 65px,#00e 0 68px,#00b 0 76px,#00c 0 79px,#00b 0 86px,#00e 0 90px,#01f 0 93px,#00c 0 99px,#00d 0 100px,#00e 0 102px,#00d 0 131px,#04f 0 134px,#00d 0 136px,#00e 0 142px,#00d 0 148px,#00e 0 151px,#0fe 0 152px,#0fc 0 153px,#0fb 0 156px,#0fd 0 160px,#0fb 0 164px,#0fd 0 168px,#0fa 0 172px,#0fd 0 176px,#0fe 0 180px,#0fd 0 184px,#0fc 0 188px,#0fa 0 192px,#0fd 0 196px,#0fc 0 200px,#0fe 0 204px,#0fb 0 206px,#0fa 0 208px,#0fd 0 216px,#0fc 0 220px,#0f9 0 224px,#0fe 0 226px,#0fd 0 228px,#0fa 0 232px,#0fb 0 236px,#0fc 0 248px,#0fb 0 252px,#0f8 0 254px,#fff 0 260px,#07f 0 265px,#09f 0 270px,#0bf 0 278px,#0cf 0 280px,#0af 0 285px,#0cf 0 286px,#0df 0 290px,#0cf 0 292px,#0df 0 295px,#0cf 0 296px,#0df 0 300px,#0cf 0 302px,#0df 0 305px,#0fe 0 306px,#0fd 0 310px,#0fe 0 315px,#0fc 0 320px,#0fa 0 325px,#0fb 0 326px,#0fa 0 330px,#0fc 0 335px,#0fd 0 336px,#0fe 0 340px,#0f9 0 341px,#0f8 0 345px,#06f 0 347px,#07f 0 349px,#08f 0 350px,#0f5 0)"></i><i style="background:linear-gradient(#00c 18px,#00b 0 48px,#00c 0 51px,#00b 0 65px,#00e 0 68px,#00b 0 76px,#00c 0 79px,#00b 0 86px,#00e 0 90px,#01f 0 93px,#00c 0 99px,#00d 0 100px,#00e 0 102px,#00d 0 131px,#04f 0 134px,#00d 0 136px,#00e 0 142px,#00d 0 147px,#0df 0 148px,#0ff 0 150px,#00e 0 151px,#0ff 0 156px,#0bf 0 164px,#0fe 0 168px,#0fd 0 172px,#0fe 0 176px,#0df 0 180px,#0fd 0 184px,#0ef 0 185px,#0ff 0 188px,#0fe 0 189px,#0fd 0 192px,#0fc 0 196px,#0df 0 200px,#0fc 0 208px,#0fb 0 212px,#0fa 0 216px,#0ef 0 218px,#0ff 0 222px,#0fe 0 224px,#0fc 0 227px,#0fb 0 232px,#03f 0 234px,#04f 0 236px,#0fa 0 240px,#0f8 0 244px,#0fe 0 248px,#0f8 0 252px,#0fc 0 254px,#fff 0 260px,#0af 0 265px,#08f 0 269px,#09f 0 270px,#0af 0 275px,#09f 0 280px,#0bf 0 286px,#0cf 0 290px,#0bf 0 292px,#0cf 0 296px,#0df 0 299px,#0ef 0 300px,#0ff 0 301px,#0fe 0 305px,#0ff 0 306px,#0fe 0 310px,#0fc 0 315px,#0fb 0 320px,#0df 0 321px,#0ef 0 325px,#0ff 0 330px,#0fc 0 335px,#0fe 0 337px,#0fd 0 340px,#0f8 0 345px,#0fc 0 348px,#0fb 0 350px,#0fe 0 351px,#0fd 0)"></i><i style="background:linear-gradient(#00c 18px,#00b 0 48px,#00c 0 51px,#00b 0 65px,#00e 0 68px,#00b 0 76px,#00c 0 79px,#00b 0 86px,#00e 0 90px,#01f 0 93px,#00c 0 99px,#00d 0 100px,#00e 0 102px,#00d 0 131px,#04f 0 134px,#00d 0 136px,#00e 0 142px,#00d 0 148px,#00e 0 150px,#0fc 0 152px,#0fb 0 154px,#0fa 0 156px,#0fc 0 160px,#0fd 0 168px,#0fc 0 172px,#0ef 0 176px,#0fd 0 180px,#0fe 0 184px,#0fb 0 188px,#0fc 0 192px,#0fb 0 200px,#0fc 0 204px,#0fa 0 208px,#0fd 0 212px,#0fb 0 220px,#0f9 0 224px,#0f8 0 228px,#0f6 0 232px,#0fc 0 236px,#0ef 0 240px,#0bf 0 244px,#0f8 0 246px,#0f7 0 248px,#0f8 0 252px,#0fd 0 254px,#fff 0 260px,#07f 0 262px,#08f 0 265px,#09f 0 270px,#0bf 0 276px,#0cf 0 285px,#0df 0 288px,#0ef 0 290px,#0ff 0 293px,#0fe 0 295px,#0df 0 297px,#0bf 0 300px,#0af 0 303px,#0bf 0 305px,#0fd 0 307px,#0fc 0 310px,#0fd 0 315px,#0fc 0 330px,#0f7 0 333px,#0f6 0 335px,#0f7 0 337px,#0f6 0 341px,#0f5 0 348px,#0f4 0 350px,#0f9 0 352px,#0f8 0)"></i><i style="background:linear-gradient(#00c 18px,#00b 0 48px,#00c 0 51px,#00b 0 65px,#00e 0 68px,#00b 0 76px,#00c 0 79px,#00b 0 86px,#00e 0 90px,#01f 0 93px,#00c 0 99px,#00d 0 100px,#00e 0 102px,#00d 0 131px,#04f 0 134px,#00d 0 136px,#00e 0 142px,#00d 0 147px,#0fa 0 148px,#0fd 0 152px,#0ff 0 156px,#0fd 0 160px,#0fe 0 164px,#0fc 0 168px,#0fb 0 172px,#0fc 0 176px,#0ff 0 180px,#0fd 0 184px,#0fe 0 188px,#0fa 0 192px,#0fe 0 196px,#0fc 0 200px,#0fb 0 204px,#09f 0 207px,#0af 0 208px,#0f7 0 212px,#0fa 0 216px,#0f9 0 220px,#0f7 0 224px,#0f9 0 228px,#0f8 0 232px,#0f7 0 236px,#0fe 0 240px,#0f9 0 244px,#0fd 0 248px,#0df 0 252px,#0f9 0 254px,#fff 0 260px,#0cf 0 265px,#0af 0 269px,#0bf 0 270px,#0af 0 275px,#0cf 0 280px,#0bf 0 282px,#0cf 0 288px,#0df 0 290px,#0ff 0 292px,#0fe 0 294px,#0fd 0 295px,#0ff 0 296px,#0fe 0 303px,#0fd 0 310px,#0fc 0 315px,#0fb 0 317px,#0fa 0 320px,#0f6 0 325px,#0f8 0 330px,#0fd 0 335px,#0f8 0 339px,#0f7 0 340px,#0f6 0 345px,#0f9 0 347px,#0f8 0 350px,#0fa 0)"></i><i style="background:linear-gradient(#00c 18px,#00b 0 48px,#00c 0 51px,#00b 0 65px,#00e 0 68px,#00b 0 76px,#00c 0 79px,#00b 0 86px,#00e 0 90px,#01f 0 93px,#00c 0 99px,#00d 0 100px,#00e 0 102px,#00d 0 131px,#04f 0 134px,#00d 0 136px,#00e 0 142px,#00d 0 145px,#0fd 0 152px,#0fa 0 156px,#0ef 0 158px,#0ff 0 160px,#0fe 0 164px,#0fd 0 168px,#0fa 0 172px,#0fd 0 176px,#0fc 0 180px,#0fb 0 184px,#0fa 0 188px,#0fc 0 196px,#0fd 0 200px,#0fa 0 204px,#0f8 0 206px,#0f7 0 208px,#0f4 0 212px,#0ef 0 216px,#0fa 0 220px,#0fb 0 224px,#0fa 0 228px,#0f9 0 232px,#0f6 0 236px,#0ff 0 238px,#0fe 0 240px,#0fa 0 248px,#0fb 0 252px,#0fa 0 253px,#00e 0 254px,#fff 0 260px,#07f 0 262px,#08f 0 265px,#0bf 0 269px,#0cf 0 270px,#0df 0 275px,#0cf 0 277px,#0df 0 280px,#0cf 0 281px,#0df 0 285px,#0ff 0 290px,#0fe 0 295px,#0fd 0 297px,#0fc 0 300px,#0fe 0 302px,#0fd 0 307px,#0fc 0 310px,#0f9 0 311px,#0f6 0 315px,#0f9 0 318px,#0f8 0 320px,#0fa 0 323px,#0f9 0 325px,#0fb 0 330px,#0f9 0 331px,#0f8 0 335px,#0f6 0 337px,#0f5 0 342px,#0f4 0 345px,#0fc 0 350px,#0f1 0)"></i><i style="background:linear-gradient(#00c 18px,#00b 0 48px,#00c 0 51px,#00b 0 65px,#00e 0 68px,#00b 0 76px,#00c 0 79px,#00b 0 86px,#00e 0 90px,#01f 0 93px,#00c 0 99px,#00d 0 100px,#00e 0 102px,#00d 0 131px,#04f 0 134px,#0ff 0 138px,#00e 0 142px,#00d 0 148px,#0fa 0 152px,#0fb 0 156px,#0fc 0 158px,#0fb 0 160px,#0fa 0 164px,#0fb 0 168px,#0f9 0 172px,#0fb 0 174px,#0fa 0 180px,#0f8 0 184px,#0f9 0 188px,#0f6 0 192px,#0af 0 196px,#0f3 0 200px,#0fb 0 204px,#0f8 0 208px,#0fc 0 212px,#0f6 0 217px,#0f5 0 220px,#0f6 0 224px,#0f5 0 228px,#0f9 0 232px,#0fa 0 236px,#0f9 0 239px,#0f8 0 244px,#0f4 0 248px,#0f8 0 252px,#0f9 0 254px,#fff 0 260px,#0af 0 262px,#0bf 0 265px,#0ef 0 269px,#0ff 0 270px,#0cf 0 273px,#0df 0 275px,#0ff 0 279px,#0fe 0 285px,#0ff 0 289px,#0fe 0 290px,#0fd 0 291px,#0fc 0 295px,#0fb 0 298px,#0fa 0 300px,#0fd 0 302px,#0fc 0 305px,#0fa 0 306px,#0f8 0 310px,#0f4 0 314px,#0f3 0 315px,#0fa 0 317px,#0f9 0 320px,#0f7 0 325px,#0fb 0 329px,#0fa 0 330px,#0f9 0 333px,#0f8 0 335px,#0f1 0 345px,#0f3 0 347px,#0f2 0 350px,#2f0 0 352px,#3f0 0)"></i><i style="background:linear-gradient(#00c 18px,#00b 0 48px,#00c 0 51px,#00b 0 65px,#00e 0 68px,#00b 0 76px,#00c 0 79px,#00b 0 86px,#00e 0 90px,#01f 0 93px,#00c 0 99px,#00d 0 100px,#00e 0 102px,#00d 0 131px,#04f 0 134px,#00d 0 136px,#00e 0 142px,#00d 0 147px,#0fa 0 148px,#0fd 0 152px,#0fc 0 168px,#0fe 0 172px,#0fc 0 176px,#0fd 0 180px,#0ff 0 182px,#0af 0 184px,#0fc 0 185px,#0fb 0 188px,#0fd 0 192px,#0fe 0 196px,#0fd 0 200px,#0fc 0 204px,#0ef 0 208px,#0df 0 211px,#0ef 0 212px,#0fd 0 216px,#0f7 0 220px,#0f5 0 224px,#0fa 0 228px,#0f9 0 235px,#0f8 0 236px,#0f6 0 240px,#0f7 0 244px,#0fb 0 248px,#0f7 0 252px,#0f4 0 254px,#fff 0 260px,#0df 0 263px,#0ef 0 265px,#0ff 0 269px,#0ef 0 270px,#0fe 0 273px,#0fd 0 275px,#0fe 0 280px,#0fd 0 285px,#0fc 0 290px,#0fe 0 295px,#0f9 0 298px,#0f8 0 300px,#0fd 0 305px,#0f6 0 309px,#0f5 0 310px,#0fa 0 312px,#0f9 0 315px,#0f7 0 316px,#0f6 0 320px,#0f7 0 322px,#0f6 0 325px,#0fd 0 329px,#0fc 0 330px,#0f0 0 331px,#1f0 0 334px,#2f0 0 335px,#0f9 0 337px,#0f8 0 340px,#0f6 0 345px,#0f1 0 350px,#0f3 0)"></i><i style="background:linear-gradient(#00c 18px,#00b 0 48px,#00c 0 51px,#00b 0 65px,#00e 0 68px,#00b 0 76px,#00c 0 79px,#00b 0 86px,#00e 0 90px,#01f 0 93px,#00c 0 99px,#00d 0 100px,#00e 0 102px,#00d 0 131px,#04f 0 134px,#00d 0 136px,#00e 0 142px,#00d 0 145px,#0fd 0 147px,#00d 0 148px,#0fe 0 152px,#0fd 0 160px,#0f8 0 164px,#0ff 0 168px,#0fc 0 172px,#0fb 0 176px,#0f9 0 180px,#0ef 0 184px,#0f9 0 188px,#0f7 0 192px,#0fb 0 196px,#0f8 0 204px,#0fd 0 208px,#0fc 0 212px,#0f9 0 216px,#0fb 0 220px,#0f9 0 224px,#0f8 0 228px,#0f7 0 232px,#0f6 0 236px,#0f5 0 240px,#0fa 0 244px,#0f8 0 247px,#0f7 0 248px,#0fd 0 252px,#0f5 0 254px,#fff 0 260px,#09f 0 264px,#0af 0 265px,#0fd 0 270px,#0ff 0 275px,#0fc 0 276px,#0fb 0 280px,#0fe 0 281px,#0ff 0 285px,#0fb 0 288px,#0fa 0 295px,#0bf 0 297px,#0cf 0 300px,#0f8 0 301px,#0f7 0 305px,#0f1 0 310px,#0f9 0 313px,#0f8 0 315px,#0fb 0 317px,#0fa 0 320px,#0f6 0 321px,#0f5 0 325px,#0f3 0 330px,#0f5 0 331px,#0f4 0 335px,#3f0 0 338px,#4f0 0 340px,#2f0 0 342px,#3f0 0 345px,#0f3 0 349px,#0f2 0 350px,#0f1 0)"></i><i style="background:linear-gradient(#00c 18px,#00b 0 48px,#00c 0 51px,#00b 0 65px,#00e 0 68px,#00b 0 76px,#00c 0 79px,#00b 0 86px,#00e 0 90px,#01f 0 93px,#00c 0 99px,#00d 0 100px,#00e 0 102px,#00d 0 131px,#04f 0 134px,#00d 0 135px,#0fc 0 139px,#00e 0 142px,#00d 0 146px,#0fa 0 148px,#0f9 0 152px,#0ff 0 156px,#0fd 0 160px,#0f6 0 164px,#0fc 0 166px,#0fb 0 172px,#0fa 0 176px,#0fd 0 180px,#0f9 0 184px,#0f8 0 188px,#0f7 0 192px,#0fc 0 200px,#0f6 0 204px,#0f9 0 208px,#0f6 0 212px,#0f9 0 216px,#0fa 0 220px,#0f5 0 224px,#0f9 0 232px,#0f6 0 236px,#0f3 0 240px,#0f7 0 246px,#0f6 0 248px,#0f4 0 252px,#0f6 0 254px,#fff 0 260px,#0fb 0 264px,#0f9 0 265px,#0ef 0 268px,#0ff 0 270px,#0fe 0 274px,#0fd 0 275px,#0fb 0 280px,#0fc 0 285px,#0f9 0 286px,#0f8 0 290px,#0f5 0 292px,#0f4 0 295px,#0fb 0 298px,#0fa 0 300px,#0f6 0 305px,#0f7 0 310px,#0fa 0 311px,#0f9 0 315px,#0f8 0 316px,#0f7 0 325px,#0f1 0 335px,#0f7 0 340px,#0f4 0 345px,#3f0 0 349px,#4f0 0 350px,#0f0 0)"></i><i style="background:linear-gradient(#00c 18px,#00b 0 48px,#00c 0 51px,#00b 0 65px,#00e 0 68px,#00b 0 76px,#00c 0 79px,#00b 0 86px,#00e 0 90px,#01f 0 93px,#00c 0 99px,#00d 0 100px,#00e 0 102px,#00d 0 131px,#04f 0 134px,#00d 0 136px,#00e 0 142px,#00d 0 146px,#0f9 0 147px,#0f8 0 148px,#0f6 0 152px,#0fc 0 156px,#0f8 0 159px,#0f7 0 160px,#0f5 0 164px,#0f4 0 168px,#0f9 0 172px,#0f5 0 175px,#0f4 0 176px,#0f9 0 180px,#0fa 0 184px,#0fb 0 188px,#0f8 0 191px,#0f7 0 192px,#0f5 0 196px,#0f6 0 200px,#0f8 0 204px,#0fb 0 208px,#0f8 0 216px,#0f4 0 220px,#0f5 0 224px,#0f7 0 228px,#0f4 0 232px,#0f5 0 236px,#0fc 0 240px,#1f0 0 244px,#0f8 0 248px,#0f2 0 252px,#0f3 0 254px,#fff 0 260px,#0ff 0 262px,#0fe 0 265px,#0f5 0 270px,#0f9 0 275px,#0fc 0 280px,#0fa 0 285px,#0fd 0 288px,#0fc 0 290px,#2f0 0 294px,#3f0 0 295px,#0f2 0 300px,#0f1 0 301px,#0f0 0 305px,#0fc 0 310px,#0f5 0 311px,#0f4 0 315px,#0f7 0 318px,#0f6 0 320px,#8f0 0 322px,#9f0 0 325px,#4f0 0 328px,#5f0 0 330px,#0f4 0 335px,#3f0 0 337px,#4f0 0 340px,#2f0 0 344px,#3f0 0 345px,#0f2 0 348px,#0f1 0 350px,#1f0 0 351px,#2f0 0)"></i><i style="background:linear-gradient(#00c 18px,#00b 0 48px,#00c 0 51px,#00b 0 65px,#00e 0 68px,#00b 0 76px,#00c 0 79px,#00b 0 86px,#00e 0 90px,#01f 0 93px,#00c 0 99px,#00d 0 100px,#00e 0 102px,#00d 0 131px,#04f 0 134px,#0ff 0 138px,#00e 0 142px,#00d 0 147px,#0f6 0 148px,#0fc 0 156px,#0f7 0 160px,#0f8 0 161px,#0f7 0 164px,#0fa 0 168px,#0f8 0 172px,#0f9 0 176px,#0f2 0 180px,#0fa 0 187px,#0f9 0 188px,#0fc 0 192px,#0f3 0 196px,#0f5 0 199px,#0f4 0 200px,#0fb 0 204px,#0fa 0 208px,#0f5 0 212px,#0f6 0 216px,#0f8 0 220px,#0f3 0 224px,#0f5 0 228px,#0fb 0 232px,#0f3 0 236px,#0f6 0 238px,#0f5 0 240px,#0fc 0 244px,#0f5 0 248px,#0f3 0 252px,#0f5 0 253px,#0f4 0 254px,#fff 0 260px,#0fe 0 263px,#0fd 0 265px,#0f8 0 270px,#0f6 0 274px,#0f5 0 275px,#0f9 0 280px,#0fb 0 285px,#0f5 0 290px,#0f9 0 295px,#0f2 0 300px,#3f0 0 304px,#4f0 0 305px,#0f6 0 309px,#0f5 0 310px,#0f2 0 312px,#0f1 0 315px,#0f2 0 320px,#0f8 0 321px,#0f7 0 325px,#af0 0 326px,#bf0 0 329px,#cf0 0 330px,#0f1 0 331px,#0f0 0 335px,#0f1 0 340px,#4f0 0 345px,#fe0 0 350px,#2f0 0)"></i><i style="background:linear-gradient(#00c 18px,#00b 0 48px,#00c 0 51px,#00b 0 65px,#00e 0 68px,#00b 0 76px,#00c 0 79px,#00b 0 86px,#00e 0 90px,#01f 0 93px,#00c 0 99px,#00d 0 100px,#00e 0 102px,#00d 0 131px,#04f 0 134px,#00d 0 136px,#00e 0 142px,#00d 0 145px,#0f9 0 148px,#0fb 0 152px,#0fc 0 155px,#0fb 0 156px,#0df 0 160px,#0f8 0 164px,#0f5 0 168px,#0f7 0 172px,#0f5 0 180px,#0f7 0 184px,#0f9 0 188px,#0f4 0 189px,#0f3 0 192px,#0f4 0 196px,#0f9 0 201px,#0f8 0 204px,#0f6 0 208px,#0f5 0 212px,#0f6 0 216px,#0f9 0 220px,#0f4 0 228px,#0f5 0 232px,#0f6 0 236px,#0f5 0 240px,#0f4 0 248px,#4f0 0 252px,#0f2 0 254px,#fff 0 260px,#0fa 0 264px,#0f9 0 265px,#0fc 0 270px,#0fa 0 275px,#0f5 0 277px,#0f4 0 282px,#0f3 0 285px,#0fa 0 287px,#0f9 0 290px,#0f5 0 295px,#0f4 0 300px,#4f0 0 303px,#5f0 0 305px,#0f6 0 307px,#0f5 0 310px,#0f2 0 312px,#0f1 0 315px,#0f3 0 318px,#0f2 0 320px,#4f0 0 322px,#5f0 0 327px,#6f0 0 330px,#4f0 0 332px,#5f0 0 335px,#0f2 0 340px,#6f0 0 345px,#0f2 0 350px,#5f0 0)"></i><i style="background:linear-gradient(#00c 18px,#00b 0 48px,#00c 0 51px,#00b 0 65px,#00e 0 68px,#00b 0 76px,#00c 0 79px,#00b 0 86px,#00e 0 90px,#01f 0 93px,#00c 0 99px,#00d 0 100px,#00e 0 102px,#00d 0 131px,#04f 0 134px,#00d 0 136px,#00e 0 142px,#00d 0 148px,#0fc 0 152px,#0f2 0 153px,#0f1 0 156px,#0f6 0 157px,#0f5 0 160px,#0f8 0 164px,#0f3 0 168px,#0f4 0 176px,#0f8 0 180px,#0f9 0 184px,#0f5 0 188px,#0f2 0 192px,#0f5 0 196px,#0f8 0 198px,#0f7 0 204px,#0f9 0 208px,#0f7 0 212px,#0f4 0 216px,#0f0 0 220px,#0f3 0 224px,#0f4 0 228px,#0f8 0 232px,#0f4 0 236px,#0f6 0 240px,#0f4 0 244px,#2f0 0 245px,#3f0 0 248px,#0f3 0 254px,#fff 0 260px,#0f3 0 265px,#0f8 0 270px,#0f4 0 273px,#0f3 0 275px,#8f0 0 277px,#9f0 0 280px,#0f2 0 285px,#0f0 0 286px,#1f0 0 290px,#0f5 0 293px,#0f4 0 295px,#0f6 0 297px,#0f5 0 300px,#0f1 0 302px,#0f0 0 305px,#3f0 0 308px,#4f0 0 310px,#0f3 0 314px,#0f2 0 315px,#0f4 0 318px,#0f3 0 320px,#0f2 0 324px,#0f1 0 325px,#9f0 0 326px,#af0 0 328px,#bf0 0 330px,#cf0 0 331px,#df0 0 335px,#8f0 0 336px,#9f0 0 340px,#af0 0 342px,#bf0 0 345px,#ef0 0 350px,#fe0 0)"></i><i style="background:linear-gradient(#00c 18px,#00b 0 48px,#00c 0 51px,#00b 0 65px,#00e 0 68px,#00b 0 76px,#00c 0 79px,#00b 0 86px,#00e 0 90px,#01f 0 93px,#00c 0 99px,#00d 0 100px,#00e 0 102px,#00d 0 131px,#04f 0 134px,#00d 0 136px,#00e 0 142px,#00d 0 147px,#0f9 0 148px,#0f3 0 152px,#0f4 0 156px,#0f6 0 164px,#0f9 0 168px,#0f6 0 169px,#0f5 0 172px,#0f9 0 176px,#0f6 0 180px,#0f4 0 188px,#0f3 0 192px,#0f2 0 196px,#0f6 0 199px,#0f5 0 200px,#0f4 0 203px,#0f3 0 204px,#1f0 0 206px,#2f0 0 208px,#0f6 0 212px,#0fa 0 220px,#2f0 0 224px,#0f4 0 232px,#0f5 0 236px,#0f2 0 240px,#0f4 0 244px,#0f3 0 248px,#1f0 0 252px,#0f7 0 254px,#fff 0 260px,#0f8 0 264px,#0f7 0 265px,#0f5 0 270px,#0f2 0 275px,#0f5 0 279px,#0f4 0 280px,#0f3 0 285px,#0f2 0 290px,#0f3 0 295px,#0f4 0 300px,#4f0 0 301px,#5f0 0 305px,#0f3 0 307px,#0f2 0 310px,#af0 0 311px,#bf0 0 314px,#cf0 0 315px,#1f0 0 318px,#2f0 0 320px,#bf0 0 323px,#cf0 0 325px,#9f0 0 327px,#af0 0 330px,#5f0 0 335px,#fc0 0 337px,#fb0 0 340px,#fd0 0 343px,#fc0 0 345px,#4f0 0 350px,#6f0 0)"></i><i style="background:linear-gradient(#00c 18px,#00b 0 48px,#00c 0 51px,#00b 0 65px,#00e 0 68px,#00b 0 76px,#00c 0 79px,#00b 0 86px,#00e 0 90px,#01f 0 93px,#00c 0 99px,#00d 0 100px,#00e 0 102px,#00d 0 131px,#04f 0 134px,#00d 0 136px,#00e 0 142px,#00d 0 148px,#00e 0 153px,#0f9 0 156px,#00e 0 157px,#0f2 0 160px,#0f9 0 164px,#0f7 0 168px,#0fa 0 172px,#0f5 0 176px,#0f9 0 179px,#0f8 0 180px,#0f1 0 188px,#0f5 0 192px,#0f9 0 194px,#0f8 0 208px,#0f7 0 212px,#0f1 0 216px,#0f3 0 220px,#0fa 0 224px,#0f1 0 228px,#0f8 0 232px,#0f6 0 236px,#0f3 0 244px,#0f4 0 248px,#0f2 0 252px,#0f1 0 254px,#fff 0 260px,#2f0 0 265px,#0f1 0 270px,#0f2 0 275px,#0f1 0 280px,#0fa 0 281px,#0f9 0 285px,#0f5 0 290px,#9f0 0 291px,#af0 0 295px,#0f1 0 297px,#0f0 0 300px,#bf0 0 304px,#cf0 0 305px,#0f3 0 306px,#0f2 0 310px,#0f0 0 312px,#1f0 0 314px,#2f0 0 315px,#0f2 0 317px,#0f1 0 320px,#2f0 0 321px,#3f0 0 323px,#4f0 0 325px,#ef0 0 326px,#ff0 0 335px,#0f0 0 340px,#7f0 0 343px,#8f0 0 345px,#fe0 0 350px,#cf0 0)"></i><i style="background:linear-gradient(#00c 18px,#00b 0 48px,#00c 0 51px,#00b 0 65px,#00e 0 68px,#00b 0 76px,#00c 0 79px,#00b 0 86px,#00e 0 90px,#01f 0 93px,#00c 0 99px,#00d 0 100px,#00e 0 102px,#00d 0 131px,#04f 0 134px,#00d 0 136px,#00e 0 142px,#00d 0 148px,#00e 0 152px,#0f3 0 156px,#0f1 0 160px,#0f5 0 164px,#0f1 0 168px,#0f3 0 176px,#2f0 0 180px,#0f3 0 188px,#0f6 0 192px,#0f4 0 196px,#6f0 0 200px,#1f0 0 204px,#6f0 0 208px,#1f0 0 212px,#0f3 0 216px,#0f0 0 220px,#1f0 0 224px,#0f6 0 228px,#0f1 0 232px,#2f0 0 236px,#0f2 0 240px,#0f1 0 244px,#3f0 0 248px,#0f3 0 252px,#5f0 0 254px,#fff 0 260px,#0f2 0 265px,#0f1 0 270px,#0f0 0 275px,#0f3 0 280px,#0f2 0 282px,#0f1 0 285px,#2f0 0 289px,#3f0 0 290px,#7f0 0 294px,#8f0 0 295px,#af0 0 299px,#bf0 0 300px,#0f1 0 301px,#0f0 0 305px,#0f1 0 310px,#0f0 0 312px,#1f0 0 314px,#2f0 0 317px,#3f0 0 319px,#4f0 0 320px,#5f0 0 322px,#6f0 0 324px,#7f0 0 325px,#fd0 0 328px,#fc0 0 330px,#df0 0 335px,#fc0 0 340px,#fb0 0 345px,#9f0 0 347px,#af0 0 350px,#fd0 0)"></i><i style="background:linear-gradient(#00c 18px,#00b 0 48px,#00c 0 51px,#00b 0 65px,#00e 0 68px,#00b 0 76px,#00c 0 79px,#00b 0 86px,#00e 0 90px,#01f 0 93px,#00c 0 99px,#00d 0 100px,#00e 0 102px,#00d 0 131px,#04f 0 134px,#00d 0 136px,#00e 0 142px,#00d 0 148px,#00e 0 153px,#0f2 0 156px,#0f4 0 160px,#0f5 0 161px,#0f4 0 164px,#0f5 0 168px,#0f6 0 172px,#0f1 0 176px,#0f6 0 180px,#0f2 0 188px,#0f4 0 192px,#0f5 0 196px,#0f3 0 208px,#0f0 0 211px,#1f0 0 212px,#0f2 0 216px,#0f3 0 219px,#0f2 0 220px,#3f0 0 224px,#2f0 0 228px,#0f5 0 232px,#0f4 0 236px,#0f2 0 240px,#7f0 0 244px,#0f0 0 248px,#2f0 0 252px,#7f0 0 254px,#fff 0 260px,#0f4 0 262px,#0f3 0 265px,#6f0 0 267px,#7f0 0 270px,#0f1 0 275px,#1f0 0 280px,#0f8 0 281px,#0f7 0 285px,#0f0 0 290px,#0f5 0 291px,#0f4 0 295px,#0f5 0 299px,#0f4 0 300px,#0f5 0 305px,#0f2 0 306px,#0f1 0 310px,#5f0 0 312px,#6f0 0 314px,#7f0 0 315px,#fc0 0 320px,#ff0 0 323px,#fe0 0 330px,#fc0 0 335px,#ef0 0 339px,#ff0 0 340px,#fb0 0 345px,#ff0 0 350px,#fc0 0)"></i><i style="background:linear-gradient(#00c 18px,#00b 0 48px,#00c 0 51px,#00b 0 65px,#00e 0 68px,#00b 0 76px,#00c 0 79px,#00b 0 86px,#00e 0 90px,#01f 0 93px,#00c 0 99px,#00d 0 100px,#00e 0 102px,#00d 0 131px,#04f 0 134px,#00d 0 136px,#00e 0 142px,#00d 0 148px,#00e 0 150px,#0f6 0 152px,#0f4 0 156px,#0f1 0 160px,#0f4 0 162px,#0f3 0 164px,#0f1 0 172px,#0f6 0 176px,#0f3 0 178px,#0f2 0 180px,#3f0 0 182px,#4f0 0 184px,#0f4 0 188px,#0f0 0 192px,#0f1 0 196px,#0f0 0 199px,#1f0 0 200px,#0f0 0 204px,#0f2 0 208px,#0f3 0 212px,#0f1 0 216px,#0f2 0 220px,#6f0 0 224px,#2f0 0 228px,#1f0 0 232px,#4f0 0 236px,#1f0 0 244px,#0f2 0 248px,#1f0 0 252px,#0f4 0 254px,#fff 0 260px,#1f0 0 266px,#2f0 0 270px,#0f1 0 272px,#0f0 0 275px,#6f0 0 276px,#7f0 0 280px,#0f0 0 281px,#1f0 0 290px,#0f0 0 292px,#1f0 0 295px,#ff0 0 300px,#3f0 0 303px,#4f0 0 305px,#2f0 0 307px,#3f0 0 309px,#4f0 0 310px,#8f0 0 311px,#9f0 0 313px,#af0 0 315px,#ff0 0 316px,#fe0 0 320px,#0f1 0 324px,#0f0 0 325px,#5f0 0 327px,#6f0 0 329px,#7f0 0 330px,#fd0 0 331px,#fc0 0 335px,#fe0 0 340px,#df0 0 342px,#ef0 0 345px,#ff0 0 350px,#fd0 0)"></i><i style="background:linear-gradient(#00c 18px,#00b 0 48px,#00c 0 51px,#00b 0 65px,#00e 0 68px,#00b 0 76px,#00c 0 79px,#00b 0 86px,#00e 0 90px,#01f 0 93px,#00c 0 99px,#00d 0 100px,#00e 0 102px,#00d 0 131px,#04f 0 134px,#00d 0 136px,#00e 0 142px,#00d 0 147px,#0f4 0 148px,#0f6 0 152px,#0f5 0 156px,#0f3 0 164px,#0f1 0 167px,#0f0 0 168px,#0f2 0 172px,#0f0 0 176px,#3f0 0 179px,#4f0 0 180px,#0f2 0 184px,#0f1 0 188px,#6f0 0 192px,#0f1 0 193px,#0f0 0 196px,#0f4 0 204px,#0f0 0 208px,#1f0 0 212px,#4f0 0 216px,#3f0 0 220px,#0f3 0 224px,#8f0 0 228px,#0f1 0 232px,#0f0 0 236px,#3f0 0 240px,#0f5 0 244px,#3f0 0 248px,#0f2 0 253px,#00e 0 254px,#fff 0 260px,#0f2 0 265px,#0f4 0 270px,#0f5 0 275px,#0f0 0 280px,#0f2 0 284px,#0f1 0 285px,#0f4 0 290px,#0f2 0 295px,#0f3 0 299px,#0f2 0 300px,#df0 0 304px,#ef0 0 305px,#9f0 0 306px,#af0 0 309px,#bf0 0 310px,#af0 0 313px,#bf0 0 315px,#5f0 0 316px,#6f0 0 318px,#7f0 0 320px,#fe0 0 322px,#fd0 0 325px,#fc0 0 329px,#fb0 0 335px,#fd0 0 336px,#fc0 0 340px,#fe0 0 345px,#fa0 0 350px,#fb0 0)"></i><i style="background:linear-gradient(#00c 18px,#00b 0 48px,#00c 0 51px,#00b 0 65px,#00e 0 68px,#00b 0 76px,#00c 0 79px,#00b 0 86px,#00e 0 90px,#01f 0 93px,#00c 0 99px,#00d 0 100px,#00e 0 102px,#00d 0 131px,#04f 0 134px,#00d 0 136px,#00e 0 142px,#00d 0 145px,#0f1 0 152px,#af0 0 155px,#bf0 0 156px,#4f0 0 160px,#1f0 0 168px,#0f2 0 172px,#0f3 0 176px,#7f0 0 180px,#8f0 0 184px,#0f1 0 188px,#4f0 0 192px,#cf0 0 196px,#1f0 0 200px,#6f0 0 204px,#5f0 0 208px,#0f1 0 212px,#9f0 0 215px,#af0 0 216px,#9f0 0 220px,#0f2 0 224px,#0f1 0 228px,#2f0 0 232px,#1f0 0 236px,#0f5 0 240px,#0f1 0 244px,#8f0 0 248px,#3f0 0 252px,#2f0 0 254px,#fff 0 260px,#0f3 0 265px,#0f1 0 270px,#5f0 0 275px,#4f0 0 280px,#3f0 0 285px,#1f0 0 289px,#2f0 0 290px,#0f1 0 292px,#0f0 0 295px,#5f0 0 296px,#6f0 0 300px,#7f0 0 302px,#8f0 0 305px,#cf0 0 307px,#df0 0 309px,#ef0 0 310px,#cf0 0 311px,#df0 0 313px,#ef0 0 315px,#5f0 0 317px,#6f0 0 319px,#7f0 0 320px,#fc0 0 324px,#fb0 0 325px,#fa0 0 329px,#f90 0 330px,#fd0 0 335px,#fc0 0 336px,#fb0 0 340px,#fe0 0 349px,#fd0 0 350px,#f90 0)"></i><i style="background:linear-gradient(#00c 18px,#00b 0 48px,#00c 0 51px,#00b 0 65px,#00e 0 68px,#00b 0 76px,#00c 0 79px,#00b 0 86px,#00e 0 90px,#01f 0 93px,#00c 0 99px,#00d 0 100px,#00e 0 102px,#00d 0 131px,#04f 0 134px,#00d 0 135px,#0fd 0 139px,#00e 0 142px,#00d 0 147px,#0f1 0 148px,#5f0 0 152px,#0f3 0 156px,#0f4 0 160px,#0f7 0 164px,#2f0 0 168px,#0f1 0 172px,#0f0 0 176px,#0f3 0 180px,#1f0 0 182px,#2f0 0 184px,#0f8 0 188px,#0f7 0 192px,#0f5 0 196px,#0f2 0 200px,#0f6 0 204px,#2f0 0 208px,#3f0 0 209px,#4f0 0 212px,#0f5 0 216px,#0f2 0 220px,#0f1 0 224px,#0f4 0 226px,#af0 0 227px,#0f4 0 228px,#0f0 0 232px,#3f0 0 236px,#0f7 0 240px,#3f0 0 244px,#2f0 0 248px,#7f0 0 252px,#1f0 0 254px,#fff 0 260px,#0f3 0 265px,#9f0 0 270px,#0f2 0 280px,#0f5 0 288px,#0f4 0 290px,#0f2 0 295px,#0f3 0 300px,#0f1 0 302px,#0f0 0 305px,#0f7 0 309px,#0f6 0 310px,#9f0 0 312px,#af0 0 314px,#bf0 0 315px,#ef0 0 316px,#ff0 0 320px,#6f0 0 321px,#7f0 0 323px,#8f0 0 325px,#9f0 0 326px,#af0 0 328px,#bf0 0 330px,#fe0 0 331px,#fd0 0 335px,#fa0 0 340px,#ff0 0 342px,#fe0 0 345px,#fc0 0 350px,#fa0 0)"></i><i style="background:linear-gradient(#00c 18px,#00b 0 48px,#00c 0 51px,#00b 0 65px,#00e 0 68px,#00b 0 76px,#00c 0 79px,#00b 0 86px,#00e 0 90px,#01f 0 93px,#00c 0 99px,#00d 0 100px,#00e 0 102px,#00d 0 131px,#04f 0 134px,#00d 0 136px,#00e 0 142px,#00d 0 143px,#0f1 0 144px,#00d 0 146px,#2f0 0 147px,#00d 0 148px,#0f9 0 150px,#00e 0 151px,#0f9 0 152px,#0f3 0 156px,#0f2 0 160px,#0f3 0 163px,#0f2 0 172px,#0f8 0 176px,#0f2 0 180px,#0f5 0 188px,#0f2 0 192px,#3f0 0 196px,#0f1 0 200px,#0f0 0 204px,#0f5 0 208px,#1f0 0 212px,#0f4 0 213px,#0f3 0 214px,#af0 0 215px,#0f3 0 216px,#0f1 0 220px,#0f0 0 221px,#af0 0 222px,#0f0 0 224px,#6f0 0 228px,#0f2 0 232px,#0f3 0 235px,#af0 0 236px,#0f1 0 238px,#af0 0 240px,#3f0 0 244px,#0f4 0 247px,#af0 0 248px,#0f4 0 249px,#af0 0 250px,#0f4 0 252px,#6f0 0 254px,#fff 0 260px,#0f0 0 265px,#0f3 0 270px,#0f0 0 275px,#1f0 0 280px,#9f0 0 284px,#af0 0 285px,#0f3 0 289px,#0f2 0 290px,#af0 0 292px,#bf0 0 295px,#0f4 0 297px,#0f3 0 300px,#6f0 0 302px,#7f0 0 305px,#0f0 0 308px,#1f0 0 309px,#2f0 0 310px,#ef0 0 311px,#ff0 0 315px,#1f0 0 316px,#2f0 0 318px,#3f0 0 319px,#4f0 0 320px,#cf0 0 321px,#df0 0 323px,#ef0 0 325px,#fe0 0 329px,#fd0 0 330px,#7f0 0 331px,#8f0 0 333px,#9f0 0 335px,#fc0 0 339px,#fb0 0 340px,#fc0 0 345px,#f90 0 350px,#fc0 0)"></i><i style="background:linear-gradient(#00c 18px,#00b 0 48px,#00c 0 51px,#00b 0 65px,#00e 0 68px,#00b 0 76px,#00c 0 79px,#00b 0 86px,#00e 0 90px,#01f 0 93px,#00c 0 99px,#00d 0 100px,#00e 0 102px,#00d 0 131px,#04f 0 134px,#00d 0 136px,#00e 0 142px,#00d 0 148px,#00e 0 150px,#0f1 0 156px,#0f5 0 160px,#0f3 0 164px,#0f0 0 168px,#0f4 0 172px,#3f0 0 176px,#0f0 0 180px,#2f0 0 184px,#0f3 0 188px,#6f0 0 192px,#0f6 0 196px,#0f3 0 197px,#0f2 0 200px,#0f5 0 204px,#3f0 0 205px,#4f0 0 208px,#0f2 0 212px,#0f1 0 214px,#0f0 0 216px,#0f3 0 220px,#0f1 0 221px,#af0 0 222px,#0f1 0 224px,#5f0 0 225px,#af0 0 226px,#5f0 0 228px,#af0 0 232px,#1f0 0 233px,#af0 0 234px,#1f0 0 236px,#0f1 0 240px,#0f4 0 244px,#2f0 0 245px,#af0 0 246px,#2f0 0 248px,#af0 0 249px,#2f0 0 252px,#0f3 0 254px,#fff 0 260px,#bf0 0 265px,#0f2 0 270px,#bf0 0 275px,#4f0 0 280px,#6f0 0 285px,#0f4 0 287px,#0f3 0 290px,#3f0 0 292px,#4f0 0 295px,#3f0 0 298px,#4f0 0 300px,#bf0 0 301px,#cf0 0 305px,#9f0 0 306px,#af0 0 308px,#bf0 0 310px,#ff0 0 311px,#fe0 0 319px,#fd0 0 323px,#fc0 0 325px,#8f0 0 326px,#9f0 0 328px,#af0 0 330px,#fd0 0 333px,#fc0 0 335px,#fb0 0 340px,#fd0 0 341px,#fc0 0 345px,#fd0 0 348px,#fc0 0 350px,#f90 0)"></i><i style="background:linear-gradient(#00c 18px,#00b 0 48px,#00c 0 51px,#00b 0 65px,#00e 0 68px,#00b 0 76px,#00c 0 79px,#00b 0 86px,#00e 0 90px,#01f 0 93px,#00c 0 99px,#00d 0 100px,#00e 0 102px,#00d 0 131px,#04f 0 134px,#00d 0 136px,#00e 0 142px,#00d 0 148px,#00e 0 154px,#0f0 0 156px,#0f1 0 160px,#0f2 0 164px,#0f5 0 168px,#0f4 0 172px,#2f0 0 176px,#0f3 0 180px,#2f0 0 184px,#1f0 0 186px,#2f0 0 188px,#5f0 0 192px,#0f4 0 196px,#bf0 0 200px,#0f2 0 204px,#9f0 0 208px,#3f0 0 212px,#5f0 0 213px,#6f0 0 214px,#af0 0 215px,#6f0 0 216px,#5f0 0 220px,#0f3 0 224px,#3f0 0 227px,#4f0 0 228px,#0f2 0 230px,#af0 0 231px,#0f2 0 232px,#af0 0 233px,#2f0 0 236px,#0f1 0 240px,#5f0 0 243px,#af0 0 244px,#8f0 0 246px,#af0 0 247px,#8f0 0 248px,#1f0 0 250px,#af0 0 251px,#1f0 0 252px,#ef0 0 254px,#fff 0 260px,#5f0 0 265px,#0f1 0 270px,#8f0 0 275px,#9f0 0 280px,#cf0 0 282px,#df0 0 285px,#af0 0 287px,#bf0 0 290px,#3f0 0 292px,#4f0 0 295px,#7f0 0 296px,#8f0 0 300px,#4f0 0 302px,#5f0 0 305px,#ef0 0 308px,#ff0 0 310px,#6f0 0 312px,#7f0 0 314px,#8f0 0 317px,#9f0 0 319px,#af0 0 320px,#fc0 0 329px,#fb0 0 330px,#fd0 0 331px,#fc0 0 335px,#fa0 0 338px,#f90 0 340px,#fa0 0 342px,#f90 0 348px,#f80 0 350px,#f60 0)"></i><i style="background:linear-gradient(#00c 18px,#00b 0 48px,#00c 0 51px,#00b 0 65px,#00e 0 68px,#00b 0 76px,#00c 0 79px,#00b 0 86px,#00e 0 90px,#01f 0 93px,#00c 0 99px,#00d 0 100px,#00e 0 102px,#00d 0 131px,#04f 0 134px,#00d 0 136px,#00e 0 142px,#00d 0 148px,#00e 0 159px,#0f1 0 160px,#0f3 0 164px,#0f0 0 168px,#0f1 0 172px,#0f2 0 176px,#0f3 0 180px,#0f0 0 184px,#0f2 0 188px,#0f1 0 192px,#0fa 0 196px,#0f2 0 200px,#4f0 0 204px,#3f0 0 208px,#1f0 0 212px,#7f0 0 214px,#8f0 0 216px,#af0 0 225px,#bf0 0 228px,#af0 0 232px,#2f0 0 234px,#af0 0 235px,#2f0 0 236px,#0f3 0 238px,#af0 0 239px,#0f3 0 240px,#9f0 0 242px,#af0 0 243px,#9f0 0 244px,#0f1 0 248px,#2f0 0 250px,#af0 0 251px,#2f0 0 252px,#4f0 0 254px,#fff 0 260px,#fd0 0 263px,#bf0 0 269px,#cf0 0 272px,#2f0 0 273px,#3f0 0 275px,#fe0 0 279px,#cf0 0 284px,#0f1 0 285px,#9f0 0 289px,#5f0 0 291px,#cf0 0 293px,#0f4 0 295px,#0f1 0 296px,#0f0 0 299px,#fe0 0 302px,#bf0 0 308px,#fd0 0 311px,#bf0 0 314px,#ef0 0 318px,#fe0 0 322px,#bf0 0 327px,#9f0 0 330px,#fc0 0 334px,#3f0 0 339px,#cf0 0 342px,#af0 0 348px,#fe0 0)"></i><i style="background:linear-gradient(#00c 18px,#00b 0 48px,#00c 0 51px,#00b 0 65px,#00e 0 68px,#00b 0 76px,#00c 0 79px,#00b 0 86px,#00e 0 90px,#01f 0 93px,#00c 0 99px,#00d 0 100px,#00e 0 102px,#00d 0 131px,#04f 0 134px,#00d 0 136px,#00e 0 142px,#00d 0 148px,#00e 0 167px,#0f5 0 172px,#3f0 0 174px,#4f0 0 176px,#3f0 0 180px,#0f0 0 184px,#0f1 0 188px,#0f3 0 192px,#0f4 0 196px,#1f0 0 200px,#0f2 0 204px,#cf0 0 208px,#4f0 0 216px,#af0 0 217px,#0f1 0 220px,#9f0 0 224px,#5f0 0 225px,#af0 0 226px,#5f0 0 228px,#1f0 0 232px,#7f0 0 236px,#0f0 0 240px,#0f3 0 244px,#7f0 0 248px,#5f0 0 252px,#0f1 0 254px,#fff 0 260px,#0f7 0 265px,#7f0 0 270px,#1f0 0 273px,#2f0 0 275px,#0f0 0 277px,#1f0 0 285px,#8f0 0 286px,#9f0 0 290px,#af0 0 292px,#bf0 0 295px,#5f0 0 297px,#6f0 0 300px,#0f0 0 302px,#1f0 0 305px,#5f0 0 306px,#6f0 0 309px,#7f0 0 312px,#8f0 0 315px,#bf0 0 316px,#cf0 0 319px,#df0 0 320px,#cf0 0 321px,#df0 0 323px,#ef0 0 325px,#7f0 0 327px,#8f0 0 330px,#fc0 0 339px,#fb0 0 340px,#f90 0 345px,#cf0 0 346px,#df0 0 349px,#ef0 0 350px,#fd0 0)"></i><i style="background:linear-gradient(#00c 18px,#00b 0 48px,#00c 0 51px,#00b 0 65px,#00e 0 68px,#00b 0 76px,#00c 0 79px,#00b 0 86px,#00e 0 90px,#01f 0 93px,#00c 0 99px,#00d 0 100px,#00e 0 102px,#00d 0 131px,#04f 0 134px,#00d 0 136px,#00e 0 138px,#0cf 0 142px,#00d 0 148px,#00e 0 171px,#6f0 0 176px,#2f0 0 180px,#0f1 0 184px,#4f0 0 188px,#0f2 0 192px,#3f0 0 196px,#0f0 0 200px,#0f1 0 204px,#2f0 0 208px,#1f0 0 212px,#6f0 0 215px,#af0 0 216px,#9f0 0 220px,#0f1 0 224px,#af0 0 228px,#fe0 0 232px,#1f0 0 233px,#af0 0 234px,#2f0 0 236px,#af0 0 240px,#0f3 0 244px,#0f0 0 248px,#6f0 0 252px,#af0 0 253px,#5f0 0 254px,#fff 0 260px,#2f0 0 265px,#9f0 0 267px,#af0 0 270px,#1f0 0 275px,#3f0 0 280px,#df0 0 282px,#ef0 0 285px,#4f0 0 289px,#5f0 0 290px,#ff0 0 292px,#fe0 0 295px,#bf0 0 298px,#cf0 0 300px,#ef0 0 303px,#ff0 0 305px,#2f0 0 308px,#3f0 0 310px,#af0 0 313px,#bf0 0 315px,#ff0 0 319px,#fe0 0 320px,#5f0 0 323px,#6f0 0 325px,#fe0 0 330px,#9f0 0 331px,#af0 0 334px,#bf0 0 335px,#9f0 0 336px,#af0 0 339px,#bf0 0 340px,#df0 0 343px,#ef0 0 345px,#fe0 0 349px,#fd0 0 350px,#fe0 0)"></i><i style="background:linear-gradient(#00c 18px,#00b 0 48px,#00c 0 51px,#00b 0 65px,#00e 0 68px,#00b 0 76px,#00c 0 79px,#00b 0 86px,#00e 0 90px,#01f 0 93px,#00c 0 99px,#00d 0 100px,#00e 0 102px,#00d 0 131px,#04f 0 134px,#00d 0 136px,#00e 0 142px,#00d 0 148px,#00e 0 174px,#3f0 0 176px,#0f2 0 180px,#0f5 0 186px,#0f4 0 188px,#0f0 0 196px,#1f0 0 200px,#3f0 0 204px,#6f0 0 208px,#2f0 0 210px,#3f0 0 212px,#0f2 0 214px,#af0 0 215px,#0f1 0 216px,#0f0 0 217px,#1f0 0 220px,#0f5 0 221px,#af0 0 222px,#0f5 0 224px,#af0 0 225px,#6f0 0 228px,#2f0 0 232px,#af0 0 233px,#0f3 0 236px,#0f5 0 244px,#6f0 0 248px,#0f5 0 252px,#6f0 0 254px,#fff 0 260px,#0f2 0 265px,#0f5 0 275px,#0f1 0 280px,#5f0 0 285px,#0f2 0 288px,#0f1 0 290px,#4f0 0 294px,#5f0 0 295px,#0f2 0 300px,#7f0 0 305px,#0f2 0 310px,#6f0 0 311px,#7f0 0 315px,#8f0 0 316px,#9f0 0 320px,#6f0 0 323px,#7f0 0 325px,#4f0 0 329px,#5f0 0 330px,#3f0 0 332px,#4f0 0 335px,#0f1 0 338px,#0f0 0 340px,#8f0 0 343px,#9f0 0 345px,#fd0 0 349px,#fc0 0 350px,#1f0 0)"></i><i style="background:linear-gradient(#00c 18px,#00b 0 48px,#00c 0 51px,#00b 0 65px,#00e 0 68px,#00b 0 76px,#00c 0 79px,#00b 0 86px,#00e 0 90px,#01f 0 93px,#00c 0 99px,#00d 0 100px,#00e 0 102px,#00d 0 131px,#04f 0 134px,#00d 0 136px,#00e 0 142px,#00d 0 148px,#00e 0 162px,#7f0 0 164px,#0f0 0 165px,#00e 0 168px,#9f0 0 172px,#1f0 0 176px,#0f1 0 180px,#8f0 0 181px,#9f0 0 184px,#0f0 0 188px,#2f0 0 192px,#0f5 0 196px,#0f2 0 203px,#0f1 0 204px,#6f0 0 208px,#ef0 0 212px,#7f0 0 215px,#af0 0 216px,#9f0 0 219px,#af0 0 220px,#8f0 0 224px,#6f0 0 227px,#af0 0 228px,#3f0 0 232px,#8f0 0 234px,#af0 0 235px,#8f0 0 236px,#4f0 0 238px,#af0 0 239px,#4f0 0 240px,#0f0 0 243px,#1f0 0 244px,#bf0 0 245px,#cf0 0 246px,#af0 0 248px,#bf0 0 250px,#af0 0 251px,#bf0 0 252px,#af0 0 253px,#fe0 0 254px,#fff 0 260px,#ef0 0 269px,#ff0 0 270px,#5f0 0 275px,#8f0 0 280px,#2f0 0 285px,#7f0 0 290px,#af0 0 295px,#7f0 0 298px,#8f0 0 300px,#7f0 0 301px,#8f0 0 305px,#9f0 0 306px,#af0 0 310px,#8f0 0 314px,#9f0 0 315px,#fc0 0 320px,#af0 0 323px,#bf0 0 325px,#fd0 0 326px,#fc0 0 330px,#3f0 0 331px,#4f0 0 334px,#5f0 0 335px,#ff0 0 340px,#df0 0 343px,#ef0 0 345px,#fe0 0 347px,#fd0 0 350px,#fc0 0)"></i><i style="background:linear-gradient(#00c 18px,#00b 0 48px,#00c 0 51px,#00b 0 65px,#00e 0 68px,#00b 0 76px,#00c 0 79px,#00b 0 86px,#00e 0 90px,#01f 0 93px,#00c 0 99px,#00d 0 100px,#00e 0 102px,#00d 0 131px,#04f 0 134px,#00d 0 136px,#00e 0 142px,#00d 0 148px,#00e 0 159px,#2f0 0 160px,#5f0 0 161px,#6f0 0 164px,#0f3 0 165px,#0f2 0 168px,#0f0 0 172px,#2f0 0 176px,#0f2 0 178px,#0f1 0 180px,#1f0 0 184px,#0f1 0 188px,#1f0 0 192px,#8f0 0 196px,#4f0 0 200px,#0f3 0 204px,#0f0 0 208px,#5f0 0 212px,#2f0 0 215px,#af0 0 216px,#5f0 0 218px,#af0 0 219px,#5f0 0 220px,#9f0 0 224px,#2f0 0 228px,#3f0 0 229px,#af0 0 230px,#3f0 0 232px,#1f0 0 236px,#7f0 0 240px,#5f0 0 244px,#0f2 0 245px,#0f1 0 248px,#1f0 0 252px,#df0 0 254px,#fff 0 260px,#cf0 0 263px,#df0 0 265px,#9f0 0 270px,#df0 0 275px,#bf0 0 280px,#2f0 0 285px,#bf0 0 290px,#3f0 0 294px,#4f0 0 295px,#8f0 0 298px,#9f0 0 302px,#af0 0 305px,#5f0 0 310px,#ff0 0 315px,#8f0 0 318px,#9f0 0 320px,#ff0 0 325px,#fd0 0 326px,#fc0 0 330px,#9f0 0 332px,#af0 0 335px,#8f0 0 339px,#9f0 0 340px,#df0 0 341px,#ef0 0 345px,#9f0 0 347px,#af0 0 350px,#df0 0 352px,#ef0 0)"></i><i style="background:linear-gradient(#00c 18px,#00b 0 48px,#00c 0 51px,#00b 0 65px,#00e 0 68px,#00b 0 76px,#00c 0 79px,#00b 0 86px,#00e 0 90px,#01f 0 93px,#00c 0 99px,#00d 0 100px,#00e 0 102px,#00d 0 131px,#04f 0 134px,#00d 0 136px,#00e 0 142px,#00d 0 148px,#00e 0 159px,#0f3 0 160px,#0f4 0 164px,#0f6 0 168px,#0f1 0 173px,#0f0 0 176px,#4f0 0 177px,#5f0 0 180px,#4f0 0 184px,#0f0 0 186px,#1f0 0 190px,#2f0 0 192px,#4f0 0 195px,#5f0 0 196px,#0f0 0 204px,#1f0 0 212px,#0f2 0 216px,#5f0 0 217px,#af0 0 218px,#5f0 0 219px,#6f0 0 220px,#2f0 0 222px,#af0 0 223px,#2f0 0 224px,#3f0 0 225px,#af0 0 226px,#3f0 0 230px,#4f0 0 231px,#af0 0 232px,#0f1 0 236px,#af0 0 237px,#0f3 0 238px,#af0 0 241px,#7f0 0 244px,#0f4 0 248px,#4f0 0 252px,#0f1 0 254px,#fff 0 260px,#0f0 0 265px,#0f1 0 270px,#3f0 0 275px,#0f3 0 285px,#1f0 0 289px,#2f0 0 290px,#1f0 0 295px,#df0 0 297px,#ef0 0 300px,#7f0 0 305px,#0f1 0 310px,#3f0 0 312px,#4f0 0 315px,#3f0 0 316px,#4f0 0 320px,#0f0 0 325px,#af0 0 327px,#bf0 0 330px,#1f0 0 332px,#2f0 0 335px,#3f0 0 339px,#4f0 0 340px,#8f0 0 345px,#fd0 0 350px,#ff0 0 351px,#fe0 0)"></i><i style="background:linear-gradient(#00c 18px,#00b 0 48px,#00c 0 51px,#00b 0 65px,#00e 0 68px,#00b 0 76px,#00c 0 79px,#00b 0 86px,#00e 0 90px,#01f 0 93px,#00c 0 99px,#00d 0 100px,#00e 0 102px,#00d 0 131px,#04f 0 134px,#00d 0 136px,#00e 0 142px,#00d 0 148px,#00e 0 155px,#2f0 0 156px,#0f6 0 160px,#0f2 0 164px,#3f0 0 168px,#1f0 0 172px,#0f3 0 176px,#1f0 0 180px,#4f0 0 184px,#0f4 0 186px,#0f3 0 196px,#0f4 0 200px,#3f0 0 204px,#0f4 0 208px,#0f2 0 212px,#7f0 0 213px,#af0 0 214px,#8f0 0 215px,#af0 0 216px,#5f0 0 220px,#0f2 0 224px,#0f1 0 228px,#0f2 0 232px,#0f0 0 233px,#af0 0 234px,#0f0 0 236px,#0f4 0 240px,#0f1 0 244px,#5f0 0 248px,#0f4 0 251px,#af0 0 252px,#7f0 0 254px,#fff 0 260px,#ff0 0 263px,#df0 0 267px,#0f5 0 270px,#0f3 0 271px,#af0 0 277px,#ff0 0 279px,#3f0 0 284px,#8f0 0 290px,#ff0 0 292px,#9f0 0 294px,#0f2 0 295px,#3f0 0 297px,#cf0 0 300px,#2f0 0 305px,#df0 0 309px,#af0 0 313px,#3f0 0 315px,#1f0 0 320px,#af0 0 321px,#ff0 0 327px,#3f0 0 330px,#fe0 0 333px,#ff0 0 339px,#fe0 0 340px,#af0 0 341px,#df0 0 347px,#6f0 0 351px,#ff0 0)"></i><i style="background:linear-gradient(#00c 18px,#00b 0 48px,#00c 0 51px,#00b 0 65px,#00e 0 68px,#00b 0 76px,#00c 0 79px,#00b 0 86px,#00e 0 90px,#01f 0 93px,#00c 0 99px,#00d 0 100px,#00e 0 102px,#00d 0 131px,#04f 0 134px,#00d 0 136px,#00e 0 142px,#00d 0 148px,#00e 0 156px,#0f2 0 160px,#0f3 0 164px,#0f1 0 169px,#0f0 0 172px,#2f0 0 176px,#0f1 0 180px,#6f0 0 184px,#0f3 0 185px,#0f2 0 188px,#2f0 0 192px,#3f0 0 196px,#0f6 0 200px,#2f0 0 204px,#0f4 0 207px,#0f3 0 208px,#1f0 0 212px,#0f0 0 220px,#0f2 0 224px,#4f0 0 228px,#1f0 0 232px,#af0 0 233px,#0f6 0 236px,#0f0 0 240px,#5f0 0 241px,#af0 0 242px,#5f0 0 244px,#af0 0 245px,#0f0 0 250px,#af0 0 251px,#0f0 0 252px,#1f0 0 254px,#fff 0 260px,#0f1 0 265px,#0f2 0 270px,#6f0 0 275px,#2f0 0 280px,#0f4 0 285px,#0f6 0 290px,#0f1 0 295px,#cf0 0 300px,#0f1 0 305px,#5f0 0 309px,#6f0 0 310px,#af0 0 315px,#0f0 0 317px,#1f0 0 320px,#df0 0 322px,#ef0 0 325px,#1f0 0 330px,#8f0 0 335px,#cf0 0 340px,#6f0 0 341px,#7f0 0 345px,#bf0 0 350px,#2f0 0 352px,#3f0 0)"></i><i style="background:linear-gradient(#00c 18px,#00b 0 48px,#00c 0 51px,#00b 0 65px,#00e 0 68px,#00b 0 76px,#00c 0 79px,#00b 0 86px,#00e 0 90px,#01f 0 93px,#00c 0 99px,#00d 0 100px,#00e 0 102px,#00d 0 131px,#04f 0 134px,#00d 0 136px,#00e 0 142px,#00d 0 148px,#00e 0 159px,#1f0 0 160px,#6f0 0 164px,#1f0 0 168px,#0f0 0 169px,#1f0 0 176px,#0f1 0 180px,#5f0 0 184px,#2f0 0 188px,#0f4 0 192px,#1f0 0 196px,#0f3 0 200px,#2f0 0 204px,#8f0 0 208px,#2f0 0 212px,#1f0 0 213px,#af0 0 214px,#1f0 0 216px,#7f0 0 219px,#af0 0 221px,#9f0 0 223px,#af0 0 224px,#0f2 0 228px,#1f0 0 232px,#5f0 0 236px,#0f1 0 237px,#af0 0 238px,#0f1 0 240px,#af0 0 242px,#3f0 0 244px,#0f1 0 248px,#4f0 0 252px,#0f1 0 254px,#fff 0 260px,#0f2 0 264px,#0f1 0 265px,#0f0 0 270px,#0f2 0 275px,#0f1 0 280px,#8f0 0 284px,#9f0 0 285px,#8f0 0 290px,#cf0 0 295px,#1f0 0 298px,#2f0 0 300px,#9f0 0 305px,#0f2 0 310px,#0f1 0 315px,#6f0 0 317px,#7f0 0 320px,#2f0 0 322px,#3f0 0 325px,#ef0 0 327px,#ff0 0 330px,#1f0 0 335px,#7f0 0 340px,#bf0 0 345px,#6f0 0 350px,#2f0 0)"></i><i style="background:linear-gradient(#00c 18px,#00b 0 48px,#00c 0 51px,#00b 0 65px,#00e 0 68px,#00b 0 76px,#00c 0 79px,#00b 0 86px,#00e 0 90px,#01f 0 93px,#00c 0 99px,#00d 0 100px,#00e 0 102px,#00d 0 131px,#04f 0 134px,#00d 0 136px,#00e 0 142px,#00d 0 148px,#00e 0 164px,#0f1 0 165px,#00e 0 168px,#0f4 0 172px,#0f3 0 176px,#0f8 0 180px,#5f0 0 182px,#6f0 0 184px,#0f4 0 188px,#0f0 0 192px,#0f2 0 196px,#0f4 0 204px,#0f3 0 212px,#3f0 0 216px,#1f0 0 220px,#0f0 0 224px,#0f1 0 228px,#ef0 0 231px,#af0 0 232px,#0f2 0 233px,#af0 0 234px,#0f2 0 236px,#5f0 0 240px,#4f0 0 242px,#5f0 0 244px,#3f0 0 246px,#af0 0 247px,#4f0 0 248px,#af0 0 249px,#0f3 0 251px,#af0 0 252px,#0f2 0 254px,#fff 0 260px,#0f1 0 265px,#4f0 0 270px,#0f3 0 275px,#0f2 0 280px,#0f0 0 285px,#5f0 0 290px,#4f0 0 295px,#6f0 0 300px,#0f1 0 305px,#0f4 0 310px,#0f3 0 315px,#0f2 0 320px,#0f1 0 323px,#0f0 0 325px,#5f0 0 330px,#3f0 0 335px,#0f2 0 340px,#0f4 0 345px,#1f0 0 346px,#0f0 0 350px,#0f7 0)"></i><i style="background:linear-gradient(#00c 18px,#00b 0 48px,#00c 0 51px,#00b 0 65px,#00e 0 68px,#00b 0 76px,#00c 0 79px,#00b 0 86px,#00e 0 90px,#01f 0 93px,#00c 0 99px,#00d 0 100px,#00e 0 102px,#00d 0 131px,#04f 0 134px,#00d 0 136px,#00e 0 142px,#00d 0 148px,#00e 0 168px,#0f3 0 171px,#00e 0 173px,#5f0 0 176px,#0f2 0 184px,#0f4 0 188px,#0f1 0 192px,#0f0 0 194px,#1f0 0 200px,#bf0 0 204px,#4f0 0 205px,#5f0 0 208px,#0f0 0 212px,#2f0 0 216px,#7f0 0 218px,#af0 0 220px,#2f0 0 222px,#af0 0 223px,#2f0 0 224px,#cf0 0 228px,#5f0 0 230px,#af0 0 231px,#5f0 0 235px,#6f0 0 236px,#3f0 0 238px,#4f0 0 239px,#af0 0 240px,#bf0 0 244px,#af0 0 245px,#df0 0 248px,#0f0 0 252px,#4f0 0 254px,#fff 0 260px,#0f1 0 267px,#0f0 0 270px,#8f0 0 275px,#0f3 0 280px,#3f0 0 285px,#2f0 0 290px,#9f0 0 295px,#0f0 0 300px,#0f2 0 305px,#df0 0 310px,#cf0 0 315px,#0f7 0 317px,#0f6 0 320px,#0f2 0 325px,#4f0 0 330px,#0f3 0 335px,#0f0 0 340px,#0f1 0 345px,#3f0 0 350px,#0f3 0)"></i><i style="background:linear-gradient(#00c 18px,#00b 0 48px,#00c 0 51px,#00b 0 65px,#00e 0 68px,#00b 0 76px,#00c 0 79px,#00b 0 86px,#00e 0 90px,#01f 0 93px,#00c 0 99px,#00d 0 100px,#00e 0 102px,#00d 0 131px,#04f 0 134px,#00d 0 136px,#00e 0 142px,#00d 0 148px,#00e 0 174px,#0f4 0 176px,#0f1 0 177px,#0f0 0 180px,#0f1 0 184px,#4f0 0 186px,#5f0 0 188px,#0f1 0 192px,#4f0 0 196px,#ef0 0 198px,#ff0 0 200px,#4f0 0 204px,#0f0 0 208px,#0f1 0 212px,#6f0 0 213px,#af0 0 214px,#6f0 0 219px,#af0 0 220px,#0f0 0 221px,#af0 0 222px,#0f0 0 224px,#2f0 0 228px,#7f0 0 229px,#af0 0 230px,#7f0 0 231px,#8f0 0 232px,#af0 0 236px,#8f0 0 240px,#af0 0 244px,#9f0 0 248px,#8f0 0 252px,#af0 0 253px,#0f0 0 254px,#fff 0 260px,#5f0 0 265px,#9f0 0 270px,#7f0 0 275px,#0f3 0 280px,#0f0 0 285px,#0f2 0 290px,#5f0 0 295px,#4f0 0 300px,#bf0 0 305px,#4f0 0 310px,#7f0 0 315px,#0f3 0 320px,#2f0 0 325px,#fe0 0 330px,#5f0 0 332px,#4f0 0 340px,#1f0 0 345px,#4f0 0 350px,#1f0 0)"></i><i style="background:linear-gradient(#00c 18px,#00b 0 48px,#00c 0 51px,#00b 0 65px,#00e 0 68px,#00b 0 76px,#00c 0 79px,#00b 0 86px,#00e 0 90px,#01f 0 93px,#00c 0 99px,#00d 0 100px,#00e 0 102px,#00d 0 131px,#04f 0 134px,#00d 0 136px,#00e 0 142px,#00d 0 148px,#00e 0 175px,#0f5 0 176px,#0f3 0 180px,#0f6 0 184px,#0f2 0 188px,#2f0 0 196px,#0f1 0 200px,#0f3 0 204px,#0f6 0 207px,#0f5 0 208px,#2f0 0 212px,#0f3 0 216px,#0f0 0 220px,#0f2 0 223px,#af0 0 224px,#0f5 0 228px,#1f0 0 231px,#2f0 0 232px,#af0 0 233px,#1f0 0 234px,#2f0 0 235px,#af0 0 236px,#2f0 0 238px,#af0 0 239px,#3f0 0 240px,#5f0 0 244px,#af0 0 245px,#4f0 0 247px,#af0 0 248px,#0f2 0 249px,#af0 0 250px,#0f2 0 252px,#6f0 0 254px,#fff 0 260px,#2f0 0 263px,#df0 0 265px,#6f0 0 269px,#cf0 0 270px,#7f0 0 272px,#9f0 0 278px,#ff0 0 284px,#6f0 0 287px,#cf0 0 293px,#af0 0 296px,#fe0 0 298px,#7f0 0 300px,#0f3 0 305px,#0f5 0 306px,#cf0 0 309px,#9f0 0 315px,#7f0 0 320px,#cf0 0 325px,#7f0 0 328px,#5f0 0 331px,#9f0 0 334px,#4f0 0 339px,#0f0 0 340px,#0f7 0 344px,#fe0 0 348px,#bf0 0 350px,#ff0 0)"></i><i style="background:linear-gradient(#00c 18px,#00b 0 48px,#00c 0 51px,#00b 0 65px,#00e 0 68px,#00b 0 76px,#00c 0 79px,#00b 0 86px,#00e 0 90px,#01f 0 93px,#00c 0 99px,#00d 0 100px,#00e 0 102px,#00d 0 131px,#04f 0 134px,#00d 0 136px,#00e 0 142px,#00d 0 148px,#00e 0 177px,#7f0 0 180px,#af0 0 182px,#bf0 0 184px,#3f0 0 188px,#0f7 0 192px,#4f0 0 194px,#5f0 0 196px,#7f0 0 200px,#4f0 0 206px,#5f0 0 208px,#3f0 0 212px,#1f0 0 216px,#cf0 0 220px,#0f1 0 221px,#af0 0 222px,#0f1 0 223px,#0f0 0 224px,#2f0 0 228px,#7f0 0 232px,#0f1 0 236px,#0f0 0 238px,#1f0 0 240px,#3f0 0 244px,#9f0 0 245px,#af0 0 246px,#9f0 0 248px,#8f0 0 251px,#af0 0 252px,#6f0 0 254px,#fff 0 260px,#0f0 0 265px,#0f2 0 270px,#0f3 0 275px,#3f0 0 280px,#7f0 0 285px,#8f0 0 290px,#0f1 0 295px,#2f0 0 305px,#3f0 0 310px,#2f0 0 315px,#4f0 0 320px,#0f2 0 325px,#0f0 0 330px,#3f0 0 333px,#2f0 0 335px,#5f0 0 338px,#4f0 0 340px,#0f1 0 341px,#0f2 0 345px,#0f4 0 350px,#6f0 0 351px,#5f0 0)"></i><i style="background:linear-gradient(#00c 18px,#00b 0 48px,#00c 0 51px,#00b 0 65px,#00e 0 68px,#00b 0 76px,#00c 0 79px,#00b 0 86px,#00e 0 90px,#01f 0 93px,#00c 0 99px,#00d 0 100px,#00e 0 102px,#00d 0 131px,#04f 0 134px,#00d 0 136px,#00e 0 142px,#00d 0 148px,#00e 0 175px,#0f4 0 176px,#0f3 0 177px,#00e 0 178px,#0f3 0 180px,#0f0 0 181px,#1f0 0 184px,#0f4 0 188px,#0f0 0 192px,#5f0 0 195px,#6f0 0 196px,#0f2 0 200px,#0f3 0 203px,#0f2 0 204px,#0f0 0 208px,#4f0 0 212px,#0f2 0 216px,#3f0 0 219px,#af0 0 220px,#5f0 0 222px,#af0 0 223px,#5f0 0 224px,#0f1 0 228px,#7f0 0 232px,#0f4 0 234px,#af0 0 235px,#0f4 0 236px,#1f0 0 238px,#af0 0 239px,#1f0 0 240px,#6f0 0 242px,#af0 0 243px,#6f0 0 244px,#0f0 0 248px,#9f0 0 252px,#5f0 0 254px,#fff 0 260px,#7f0 0 265px,#0f2 0 270px,#3f0 0 275px,#0f1 0 280px,#0f2 0 285px,#8f0 0 290px,#6f0 0 295px,#8f0 0 300px,#2f0 0 305px,#5f0 0 310px,#0f2 0 315px,#0f3 0 320px,#0f6 0 325px,#0f4 0 330px,#2f0 0 334px,#1f0 0 336px,#0f0 0 340px,#2f0 0 344px,#1f0 0 345px,#0f4 0 350px,#0f5 0)"></i><i style="background:linear-gradient(#00c 18px,#00b 0 48px,#00c 0 51px,#00b 0 65px,#00e 0 68px,#00b 0 76px,#00c 0 79px,#00b 0 86px,#00e 0 90px,#01f 0 93px,#00c 0 99px,#00d 0 100px,#00e 0 102px,#00d 0 131px,#04f 0 134px,#00d 0 136px,#00e 0 142px,#00d 0 148px,#00e 0 178px,#0f3 0 180px,#0f0 0 184px,#4f0 0 186px,#5f0 0 188px,#0f5 0 192px,#0f1 0 196px,#1f0 0 200px,#5f0 0 201px,#6f0 0 204px,#3f0 0 208px,#8f0 0 211px,#9f0 0 212px,#0f2 0 213px,#af0 0 215px,#0f2 0 216px,#5f0 0 217px,#6f0 0 220px,#7f0 0 224px,#0f1 0 228px,#0f0 0 232px,#9f0 0 236px,#0f8 0 237px,#0f7 0 238px,#af0 0 239px,#0f7 0 240px,#0f1 0 241px,#af0 0 242px,#0f1 0 244px,#af0 0 245px,#8f0 0 248px,#5f0 0 250px,#6f0 0 252px,#0f3 0 253px,#0f2 0 254px,#fff 0 260px,#0f5 0 265px,#7f0 0 270px,#1f0 0 275px,#3f0 0 280px,#0f5 0 285px,#7f0 0 290px,#3f0 0 295px,#0f4 0 300px,#0f2 0 305px,#0f3 0 310px,#0f6 0 315px,#0f1 0 320px,#0fa 0 325px,#0f3 0 330px,#0f6 0 331px,#0f7 0 335px,#0f2 0 337px,#0f3 0 340px,#2f0 0 345px,#6f0 0 346px,#5f0 0 350px,#0f3 0)"></i><i style="background:linear-gradient(#00c 18px,#00b 0 48px,#00c 0 51px,#00b 0 65px,#00e 0 68px,#00b 0 76px,#00c 0 79px,#00b 0 86px,#00e 0 90px,#01f 0 93px,#00c 0 99px,#00d 0 100px,#00e 0 102px,#00d 0 131px,#04f 0 134px,#00d 0 136px,#00e 0 142px,#00d 0 148px,#00e 0 176px,#3f0 0 177px,#00e 0 178px,#3f0 0 180px,#0f0 0 184px,#0f1 0 188px,#6f0 0 190px,#7f0 0 192px,#0f1 0 200px,#0f6 0 204px,#0f0 0 208px,#5f0 0 212px,#6f0 0 213px,#af0 0 214px,#6f0 0 216px,#0f0 0 220px,#3f0 0 223px,#4f0 0 224px,#7f0 0 227px,#af0 0 228px,#2f0 0 229px,#af0 0 230px,#3f0 0 232px,#4f0 0 236px,#6f0 0 240px,#af0 0 241px,#2f0 0 242px,#af0 0 243px,#2f0 0 244px,#af0 0 248px,#3f0 0 252px,#6f0 0 254px,#fff 0 260px,#1f0 0 265px,#cf0 0 270px,#1f0 0 275px,#4f0 0 280px,#bf0 0 285px,#3f0 0 290px,#5f0 0 295px,#0f0 0 300px,#3f0 0 305px,#0f2 0 315px,#0f1 0 320px,#1f0 0 325px,#5f0 0 330px,#0f0 0 332px,#0f1 0 335px,#2f0 0 337px,#1f0 0 340px,#0f0 0 345px,#0f5 0 347px,#0f6 0 350px,#0f4 0)"></i><i style="background:linear-gradient(#00c 18px,#00b 0 48px,#00c 0 51px,#00b 0 65px,#00e 0 68px,#00b 0 76px,#00c 0 79px,#00b 0 86px,#00e 0 90px,#01f 0 93px,#00c 0 99px,#00d 0 100px,#00e 0 102px,#00d 0 131px,#04f 0 134px,#00d 0 136px,#00e 0 142px,#00d 0 148px,#00e 0 179px,#0f6 0 180px,#1f0 0 184px,#2f0 0 188px,#0f1 0 192px,#0f4 0 196px,#0f3 0 200px,#0f1 0 208px,#1f0 0 212px,#6f0 0 215px,#af0 0 216px,#4f0 0 219px,#5f0 0 220px,#2f0 0 222px,#af0 0 224px,#1f0 0 228px,#3f0 0 230px,#af0 0 231px,#4f0 0 232px,#0f4 0 236px,#af0 0 237px,#8f0 0 240px,#af0 0 241px,#0f0 0 245px,#af0 0 247px,#1f0 0 248px,#af0 0 249px,#0f0 0 252px,#0f2 0 254px,#fff 0 260px,#1f0 0 265px,#0f7 0 270px,#0f0 0 275px,#3f0 0 280px,#0f6 0 285px,#0f3 0 290px,#0f5 0 295px,#4f0 0 300px,#0f4 0 305px,#2f0 0 310px,#1f0 0 315px,#2f0 0 320px,#0f3 0 325px,#0f1 0 332px,#0f2 0 335px,#0f5 0 340px,#3f0 0 341px,#2f0 0 345px,#0f6 0 350px,#1f0 0 352px,#0f0 0)"></i><i style="background:linear-gradient(#00c 18px,#00b 0 48px,#00c 0 51px,#00b 0 65px,#00e 0 68px,#00b 0 76px,#00c 0 79px,#00b 0 86px,#00e 0 90px,#01f 0 93px,#00c 0 99px,#00d 0 100px,#00e 0 102px,#00d 0 131px,#04f 0 134px,#00d 0 136px,#00e 0 142px,#00d 0 148px,#00e 0 180px,#0f3 0 184px,#0f4 0 188px,#0f3 0 192px,#0f1 0 196px,#0f6 0 200px,#0f0 0 204px,#2f0 0 208px,#0f6 0 212px,#0f0 0 214px,#af0 0 215px,#0f0 0 216px,#af0 0 217px,#1f0 0 219px,#af0 0 220px,#0f4 0 224px,#0f1 0 228px,#0f2 0 231px,#af0 0 232px,#3f0 0 236px,#0f6 0 240px,#0f3 0 244px,#0f2 0 248px,#0f0 0 252px,#0f4 0 253px,#af0 0 254px,#fff 0 260px,#0f8 0 265px,#0f4 0 270px,#0f8 0 275px,#0f0 0 285px,#0f3 0 290px,#cf0 0 295px,#0f4 0 300px,#0f9 0 305px,#0f0 0 310px,#0f5 0 315px,#0f0 0 320px,#2f0 0 325px,#0f0 0 330px,#0f2 0 334px,#0f3 0 335px,#4f0 0 338px,#3f0 0 340px,#0f1 0 342px,#0f2 0 345px,#0fa 0 350px,#2f0 0)"></i><i style="background:linear-gradient(#00c 18px,#00b 0 48px,#00c 0 51px,#00b 0 65px,#00e 0 68px,#00b 0 76px,#00c 0 79px,#00b 0 86px,#00e 0 90px,#01f 0 93px,#00c 0 99px,#00d 0 100px,#00e 0 102px,#00d 0 131px,#04f 0 134px,#00d 0 136px,#00e 0 142px,#00d 0 148px,#00e 0 174px,#0f0 0 180px,#4f0 0 184px,#0f4 0 186px,#0f3 0 188px,#2f0 0 192px,#0f5 0 196px,#2f0 0 200px,#0f2 0 204px,#1f0 0 208px,#0f0 0 212px,#0f3 0 216px,#0f5 0 220px,#0f2 0 224px,#1f0 0 228px,#3f0 0 232px,#2f0 0 234px,#3f0 0 236px,#0f2 0 240px,#0f3 0 244px,#2f0 0 248px,#0f0 0 252px,#0f1 0 253px,#af0 0 254px,#fff 0 260px,#3f0 0 265px,#0f6 0 270px,#0f0 0 275px,#1f0 0 280px,#0f8 0 285px,#0f0 0 290px,#0f6 0 295px,#1f0 0 300px,#4f0 0 305px,#0f1 0 310px,#2f0 0 315px,#0f5 0 320px,#1f0 0 330px,#8f0 0 332px,#7f0 0 335px,#0f0 0 340px,#0f3 0 344px,#0f4 0 345px,#0f2 0 350px,#0f4 0)"></i><i style="background:linear-gradient(#00c 18px,#00b 0 48px,#00c 0 51px,#00b 0 65px,#00e 0 68px,#00b 0 76px,#00c 0 79px,#00b 0 86px,#00e 0 90px,#01f 0 93px,#00c 0 99px,#00d 0 100px,#00e 0 102px,#00d 0 131px,#04f 0 134px,#00d 0 136px,#00e 0 142px,#00d 0 148px,#00e 0 169px,#0f4 0 172px,#0f3 0 176px,#0f0 0 184px,#0f1 0 188px,#0f3 0 192px,#0f2 0 196px,#3f0 0 200px,#0f5 0 204px,#0f2 0 211px,#0f1 0 212px,#0f4 0 216px,#2f0 0 217px,#af0 0 218px,#2f0 0 220px,#0f2 0 227px,#af0 0 228px,#6f0 0 232px,#3f0 0 235px,#af0 0 236px,#3f0 0 240px,#bf0 0 243px,#cf0 0 244px,#0f3 0 248px,#af0 0 252px,#0f0 0 254px,#fff 0 260px,#4f0 0 265px,#2f0 0 270px,#0f3 0 275px,#0f7 0 280px,#df0 0 285px,#6f0 0 290px,#1f0 0 295px,#0f0 0 300px,#0f1 0 305px,#1f0 0 314px,#0f0 0 315px,#0f1 0 320px,#0f2 0 325px,#0f1 0 330px,#1f0 0 335px,#0f1 0 337px,#0f2 0 340px,#2f0 0 344px,#1f0 0 345px,#0f1 0 347px,#0f2 0 352px,#0f3 0)"></i><i style="background:linear-gradient(#00c 18px,#00b 0 48px,#00c 0 51px,#00b 0 65px,#00e 0 68px,#00b 0 76px,#00c 0 79px,#00b 0 86px,#00e 0 90px,#01f 0 93px,#00c 0 99px,#00d 0 100px,#00e 0 102px,#00d 0 131px,#04f 0 134px,#00d 0 136px,#00e 0 138px,#09f 0 142px,#00d 0 148px,#00e 0 172px,#0f7 0 174px,#00e 0 175px,#0f7 0 176px,#0f0 0 184px,#0f3 0 188px,#0f5 0 196px,#3f0 0 198px,#4f0 0 200px,#0f6 0 208px,#0f2 0 216px,#0f0 0 219px,#af0 0 220px,#0f5 0 223px,#af0 0 224px,#0f1 0 228px,#0f3 0 232px,#0f4 0 234px,#af0 0 235px,#0f4 0 236px,#0f0 0 244px,#0f5 0 248px,#0f0 0 252px,#0f3 0 253px,#00e 0 254px,#fff 0 260px,#1f0 0 266px,#6f0 0 270px,#0f2 0 272px,#6f0 0 276px,#ff0 0 278px,#5f0 0 283px,#2f0 0 285px,#0f2 0 286px,#af0 0 292px,#7f0 0 295px,#0f1 0 297px,#4f0 0 304px,#ff0 0 309px,#bf0 0 314px,#0f4 0 315px,#0f9 0 316px,#cf0 0 321px,#9f0 0 325px,#1f0 0 326px,#0f2 0 331px,#cf0 0 337px,#0f1 0 346px,#bf0 0 350px,#0f0 0)"></i><i style="background:linear-gradient(#00c 18px,#00b 0 48px,#00c 0 51px,#00b 0 65px,#00e 0 68px,#00b 0 76px,#00c 0 79px,#00b 0 86px,#00e 0 90px,#01f 0 93px,#00c 0 99px,#00d 0 100px,#00e 0 102px,#00d 0 131px,#04f 0 134px,#00d 0 136px,#00e 0 142px,#00d 0 148px,#00e 0 177px,#0f1 0 180px,#0f6 0 184px,#0f7 0 188px,#0f1 0 192px,#0f3 0 196px,#0f5 0 197px,#0f4 0 200px,#0f7 0 201px,#0f6 0 204px,#0f2 0 208px,#0f4 0 210px,#0f3 0 216px,#0f8 0 220px,#0f6 0 224px,#0f2 0 232px,#0f3 0 236px,#0f5 0 240px,#0f4 0 244px,#2f0 0 248px,#3f0 0 252px,#0f6 0 254px,#fff 0 260px,#0f2 0 265px,#0f5 0 275px,#0f8 0 280px,#0f6 0 285px,#3f0 0 290px,#0f7 0 295px,#0f2 0 300px,#0f9 0 305px,#0f4 0 310px,#1f0 0 315px,#0f2 0 320px,#0f4 0 325px,#0f1 0 330px,#0f2 0 335px,#0f5 0 338px,#0f6 0 340px,#0f5 0 345px,#0f2 0 346px,#0f3 0 350px,#0fb 0 351px,#0fc 0)"></i><i style="background:linear-gradient(#00c 18px,#00b 0 48px,#00c 0 51px,#00b 0 65px,#00e 0 68px,#00b 0 76px,#00c 0 79px,#00b 0 86px,#00e 0 90px,#01f 0 93px,#00c 0 99px,#00d 0 100px,#00e 0 102px,#00d 0 131px,#04f 0 134px,#00d 0 136px,#00e 0 142px,#00d 0 148px,#00e 0 179px,#0f4 0 180px,#00e 0 182px,#0f1 0 183px,#00e 0 184px,#ef0 0 188px,#2f0 0 192px,#0f4 0 196px,#af0 0 198px,#bf0 0 200px,#2f0 0 204px,#0f2 0 208px,#2f0 0 212px,#8f0 0 216px,#0f4 0 217px,#0f3 0 220px,#0f4 0 221px,#0f3 0 224px,#0f1 0 228px,#1f0 0 232px,#0f7 0 236px,#0f1 0 240px,#7f0 0 244px,#cf0 0 248px,#0f4 0 252px,#9f0 0 254px,#fff 0 260px,#8f0 0 265px,#6f0 0 270px,#9f0 0 275px,#bf0 0 280px,#2f0 0 285px,#1f0 0 290px,#cf0 0 300px,#0f4 0 305px,#3f0 0 308px,#2f0 0 310px,#3f0 0 315px,#0f0 0 325px,#0f1 0 330px,#fb0 0 335px,#bf0 0 339px,#af0 0 340px,#5f0 0 341px,#4f0 0 345px,#3f0 0 350px,#0f0 0)"></i><i style="background:linear-gradient(#00c 18px,#00b 0 48px,#00c 0 51px,#00b 0 65px,#00e 0 68px,#00b 0 76px,#00c 0 79px,#00b 0 86px,#00e 0 90px,#01f 0 93px,#00c 0 99px,#00d 0 100px,#00e 0 102px,#00d 0 131px,#04f 0 134px,#00d 0 136px,#00e 0 142px,#00d 0 148px,#00e 0 182px,#0f7 0 184px,#0f1 0 188px,#0f4 0 192px,#3f0 0 193px,#4f0 0 196px,#3f0 0 200px,#0f8 0 204px,#0f3 0 206px,#0f2 0 208px,#3f0 0 212px,#1f0 0 216px,#0f4 0 220px,#0f2 0 224px,#0f7 0 228px,#2f0 0 232px,#0f0 0 236px,#0f1 0 240px,#3f0 0 244px,#0f2 0 248px,#0f4 0 252px,#0f1 0 254px,#fff 0 260px,#0f3 0 266px,#0f6 0 270px,#0f3 0 273px,#0f6 0 284px,#0f3 0 286px,#0f4 0 288px,#0f9 0 294px,#0f8 0 300px,#0f6 0 306px,#0f2 0 310px,#0f3 0 315px,#0f1 0 324px,#0f4 0 330px,#0f1 0 335px,#0f6 0 337px,#0f1 0 342px,#0f7 0 348px,#0f1 0)"></i><i style="background:linear-gradient(#00c 18px,#00b 0 48px,#00c 0 51px,#00b 0 65px,#00e 0 68px,#00b 0 76px,#00c 0 79px,#00b 0 86px,#00e 0 90px,#01f 0 93px,#00c 0 99px,#00d 0 100px,#00e 0 102px,#00d 0 131px,#04f 0 134px,#00d 0 136px,#00e 0 142px,#00d 0 148px,#00e 0 187px,#0f6 0 188px,#0f4 0 196px,#0f6 0 200px,#0f8 0 204px,#0f7 0 208px,#0f0 0 212px,#0f5 0 216px,#0f6 0 220px,#0fa 0 224px,#0f1 0 228px,#0f5 0 232px,#0f9 0 236px,#3f0 0 240px,#0f2 0 244px,#0f6 0 248px,#0f2 0 252px,#0f1 0 254px,#fff 0 260px,#0f5 0 265px,#0fa 0 270px,#1f0 0 275px,#0f1 0 280px,#0f9 0 285px,#3f0 0 290px,#9f0 0 295px,#0f3 0 300px,#0f4 0 305px,#0f0 0 310px,#0f2 0 315px,#7f0 0 320px,#0f6 0 325px,#af0 0 330px,#0f6 0 335px,#0f0 0 340px,#7f0 0 343px,#6f0 0 345px,#0f4 0 350px,#2f0 0 351px,#1f0 0)"></i><i style="background:linear-gradient(#00c 18px,#00b 0 48px,#00c 0 51px,#00b 0 65px,#00e 0 68px,#00b 0 76px,#00c 0 79px,#00b 0 86px,#00e 0 90px,#01f 0 93px,#00c 0 99px,#00d 0 100px,#00e 0 102px,#00d 0 131px,#04f 0 134px,#00d 0 136px,#00e 0 142px,#00d 0 148px,#00e 0 185px,#0f8 0 186px,#00e 0 188px,#0f7 0 191px,#0f6 0 192px,#0f8 0 196px,#0f6 0 200px,#0f8 0 203px,#0f7 0 204px,#0f5 0 208px,#0f6 0 212px,#0fd 0 216px,#0f6 0 220px,#0f8 0 224px,#0fb 0 228px,#0f7 0 232px,#0f8 0 236px,#0f6 0 240px,#0f8 0 246px,#0f7 0 248px,#0f6 0 252px,#0f3 0 254px,#fff 0 260px,#0f0 0 265px,#0f7 0 270px,#0f1 0 275px,#0f4 0 280px,#0f8 0 285px,#4f0 0 290px,#0f1 0 295px,#0f2 0 300px,#5f0 0 305px,#0f0 0 310px,#0f5 0 315px,#0f6 0 316px,#0f7 0 320px,#cf0 0 324px,#bf0 0 325px,#4f0 0 330px,#0f4 0 335px,#0f1 0 336px,#0f2 0 345px,#0f4 0 350px,#0fa 0)"></i><i style="background:linear-gradient(#00c 18px,#00b 0 48px,#00c 0 51px,#00b 0 65px,#00e 0 68px,#00b 0 76px,#00c 0 79px,#00b 0 86px,#00e 0 90px,#01f 0 93px,#00c 0 99px,#00d 0 100px,#00e 0 102px,#00d 0 131px,#04f 0 134px,#00d 0 136px,#00e 0 142px,#00d 0 148px,#00e 0 176px,#0fc 0 178px,#0f9 0 180px,#0fc 0 183px,#00e 0 185px,#0fb 0 188px,#0fd 0 190px,#0fe 0 195px,#0f9 0 197px,#0bf 0 199px,#0fc 0 201px,#0fd 0 203px,#0fe 0 205px,#0fd 0 207px,#0fe 0 209px,#0fc 0 216px,#0fa 0 219px,#0fc 0 223px,#0fe 0 226px,#0bf 0 229px,#0fe 0 234px,#0df 0 236px,#0fc 0 237px,#0fb 0 238px,#0fa 0 242px,#0fd 0 244px,#0f9 0 246px,#0ff 0 248px,#0fb 0 252px,#0fe 0 254px,#fff 0 260px,#0f9 0 265px,#0f6 0 275px,#0f2 0 285px,#0f9 0 290px,#0f5 0 295px,#0f3 0 300px,#2f0 0 305px,#0f6 0 310px,#0f2 0 315px,#0fa 0 320px,#0f5 0 330px,#0f9 0 331px,#0fa 0 335px,#0f7 0 345px,#0f3 0 350px,#0f6 0)"></i><i style="background:linear-gradient(#00c 18px,#00b 0 48px,#00c 0 51px,#00b 0 65px,#00e 0 68px,#00b 0 76px,#00c 0 79px,#00b 0 86px,#00e 0 90px,#01f 0 93px,#00c 0 99px,#00d 0 100px,#00e 0 102px,#00d 0 131px,#04f 0 134px,#00d 0 136px,#00e 0 142px,#00d 0 148px,#00e 0 167px,#00f 0 168px,#00e 0 173px,#00f 0 174px,#00e 0 191px,#0fe 0 196px,#0f9 0 199px,#0f8 0 200px,#0ff 0 204px,#0f8 0 208px,#0fc 0 210px,#0fd 0 220px,#0fe 0 224px,#0f8 0 228px,#0f7 0 236px,#0fc 0 240px,#0ff 0 242px,#0fe 0 246px,#0fd 0 250px,#0ff 0 252px,#0f9 0 254px,#fff 0 260px,#0f4 0 265px,#0f5 0 270px,#0f1 0 275px,#0f8 0 280px,#0f6 0 286px,#0f5 0 290px,#4f0 0 295px,#0f6 0 300px,#0f3 0 305px,#0f5 0 310px,#1f0 0 313px,#0f0 0 315px,#0f1 0 325px,#0f9 0 330px,#0f4 0 335px,#0fa 0 340px,#0f5 0 345px,#0f4 0 350px,#0f9 0)"></i><i style="background:linear-gradient(#00c 18px,#00b 0 48px,#00c 0 51px,#00b 0 65px,#00e 0 68px,#00b 0 76px,#00c 0 79px,#00b 0 86px,#00e 0 90px,#01f 0 93px,#00c 0 99px,#00d 0 100px,#00e 0 102px,#00d 0 131px,#04f 0 134px,#00d 0 136px,#00e 0 142px,#00d 0 148px,#00e 0 168px,#00f 0 169px,#00e 0 195px,#0fe 0 196px,#0fb 0 200px,#0f8 0 204px,#0fb 0 208px,#0f7 0 212px,#0fc 0 216px,#0fa 0 220px,#0fb 0 224px,#0f8 0 232px,#0f9 0 240px,#0f8 0 244px,#0f1 0 248px,#0fc 0 254px,#fff 0 260px,#0f5 0 265px,#0f6 0 270px,#0f5 0 275px,#0f8 0 280px,#0f6 0 285px,#0f9 0 290px,#0f5 0 298px,#0f4 0 300px,#0f9 0 310px,#0f5 0 315px,#0f8 0 320px,#0f6 0 330px,#0fb 0 335px,#0f6 0 340px,#0f7 0 345px,#0f4 0 350px,#0f2 0)"></i><i style="background:linear-gradient(#00c 18px,#00b 0 48px,#00c 0 51px,#00b 0 65px,#00e 0 68px,#00b 0 76px,#00c 0 79px,#00b 0 86px,#00e 0 90px,#01f 0 93px,#00c 0 99px,#00d 0 100px,#00e 0 102px,#00d 0 131px,#04f 0 134px,#00d 0 136px,#00e 0 142px,#00d 0 148px,#00e 0 149px,#00f 0 150px,#00e 0 201px,#0fc 0 204px,#08f 0 208px,#0fb 0 212px,#0fa 0 216px,#0fb 0 217px,#0fa 0 220px,#0fb 0 224px,#0ff 0 226px,#0fe 0 228px,#0f9 0 232px,#0df 0 236px,#0cf 0 239px,#0df 0 240px,#0fe 0 244px,#0fa 0 246px,#0f9 0 248px,#0f7 0 252px,#0f9 0 254px,#fff 0 260px,#0fb 0 275px,#0ff 0 279px,#0fe 0 280px,#0fb 0 285px,#0fe 0 288px,#0fd 0 290px,#0fc 0 292px,#0fb 0 295px,#0f8 0 300px,#0fc 0 304px,#0fb 0 310px,#0fa 0 315px,#0f6 0 320px,#0fb 0 325px,#0f8 0 330px,#0fd 0 335px,#0f7 0 340px,#0f5 0 345px,#00f 0 348px,#01f 0 350px,#0f6 0)"></i><i style="background:linear-gradient(#00c 18px,#00b 0 48px,#00c 0 51px,#00b 0 65px,#00e 0 68px,#00b 0 76px,#00c 0 79px,#00b 0 86px,#00e 0 90px,#01f 0 93px,#00c 0 99px,#00d 0 100px,#00e 0 102px,#00d 0 131px,#04f 0 134px,#00d 0 136px,#00e 0 142px,#00d 0 148px,#00e 0 205px,#00d 0 207px,#0fe 0 208px,#0fd 0 211px,#0fc 0 212px,#0fe 0 213px,#0ef 0 216px,#0f8 0 220px,#0fa 0 224px,#0fe 0 226px,#0fd 0 230px,#0fe 0 236px,#0fd 0 240px,#0fe 0 244px,#0fb 0 248px,#0ff 0 249px,#0fe 0 252px,#0ff 0 254px,#fff 0 260px,#0df 0 262px,#04f 0 265px,#0f6 0 270px,#0fc 0 277px,#0fb 0 280px,#0fd 0 281px,#0fc 0 285px,#0f4 0 290px,#0cf 0 295px,#0fa 0 300px,#0f6 0 305px,#0fa 0 309px,#0f9 0 310px,#0fb 0 315px,#0af 0 317px,#0bf 0 320px,#0fd 0 325px,#0fb 0 330px,#0f6 0 333px,#0f5 0 335px,#0f4 0 340px,#0f6 0 345px,#0f8 0 350px,#0f6 0)"></i><i style="background:linear-gradient(#00c 18px,#00b 0 48px,#00c 0 51px,#00b 0 65px,#00e 0 68px,#00b 0 76px,#00c 0 79px,#00b 0 86px,#00e 0 90px,#01f 0 93px,#00c 0 99px,#00d 0 100px,#00e 0 102px,#00d 0 131px,#04f 0 134px,#00d 0 136px,#00e 0 142px,#00d 0 148px,#00e 0 205px,#00d 0 208px,#00e 0 209px,#02f 0 210px,#0fb 0 212px,#0fc 0 216px,#0fe 0 218px,#0fd 0 220px,#0f8 0 224px,#0fc 0 228px,#0fb 0 232px,#0fc 0 236px,#0fa 0 242px,#0f9 0 244px,#0f8 0 248px,#0f7 0 252px,#0fd 0 254px,#fff 0 260px,#0f9 0 263px,#0f6 0 265px,#0fb 0 275px,#0fe 0 280px,#0f8 0 281px,#0f7 0 285px,#0f9 0 290px,#0fd 0 294px,#0fc 0 295px,#0f9 0 298px,#0f8 0 300px,#0fd 0 305px,#0fc 0 310px,#0f8 0 315px,#0ef 0 319px,#0ff 0 320px,#0f2 0 325px,#0f6 0 330px,#0fb 0 340px,#0f3 0 345px,#0fc 0 350px,#0f6 0 351px,#0f5 0)"></i><i style="background:linear-gradient(#00c 18px,#00b 0 48px,#00c 0 51px,#00b 0 65px,#00e 0 68px,#00b 0 76px,#00c 0 79px,#00b 0 86px,#00e 0 90px,#01f 0 93px,#00c 0 99px,#00d 0 100px,#00e 0 102px,#00d 0 131px,#04f 0 134px,#00d 0 136px,#00e 0 142px,#00d 0 148px,#00e 0 149px,#03f 0 150px,#00e 0 152px,#00f 0 153px,#00e 0 159px,#05f 0 160px,#00e 0 205px,#00d 0 208px,#00e 0 212px,#00d 0 213px,#0f9 0 228px,#0fb 0 232px,#0fa 0 234px,#0fb 0 236px,#0f7 0 244px,#0fb 0 248px,#0f1 0 252px,#0f7 0 254px,#fff 0 260px,#0fa 0 265px,#0fc 0 270px,#0f8 0 279px,#0f7 0 280px,#0f5 0 282px,#0f4 0 285px,#0f5 0 286px,#0f4 0 290px,#0fc 0 295px,#0fb 0 300px,#0f7 0 305px,#0f5 0 310px,#0fb 0 315px,#0f0 0 320px,#0f8 0 325px,#0fe 0 326px,#0fd 0 330px,#0f7 0 335px,#0f3 0 340px,#0f2 0 345px,#0f6 0 350px,#0f7 0)"></i><i style="background:linear-gradient(#00c 18px,#00b 0 48px,#00c 0 51px,#00b 0 65px,#00e 0 68px,#00b 0 76px,#00c 0 79px,#00b 0 86px,#00e 0 90px,#01f 0 93px,#00c 0 99px,#00d 0 100px,#00e 0 102px,#00d 0 131px,#04f 0 134px,#00d 0 136px,#00e 0 142px,#00d 0 148px,#00e 0 184px,#00f 0 185px,#00e 0 205px,#00d 0 207px,#0f8 0 210px,#00e 0 211px,#07f 0 214px,#06f 0 218px,#0fd 0 219px,#0bf 0 222px,#00e 0 224px,#00d 0 226px,#0fc 0 228px,#0fa 0 234px,#0f9 0 236px,#0fc 0 244px,#0f9 0 248px,#0ff 0 252px,#0fc 0 254px,#fff 0 260px,#0fa 0 265px,#0fd 0 266px,#0fe 0 270px,#0fc 0 278px,#0fb 0 280px,#0fd 0 285px,#0ff 0 286px,#0fe 0 290px,#0f7 0 295px,#0fb 0 300px,#0f8 0 305px,#0f7 0 307px,#0f6 0 310px,#0f9 0 315px,#0fe 0 320px,#0f8 0 325px,#0fb 0 330px,#0f5 0 335px,#0f9 0 340px,#0fb 0 345px,#0f1 0 350px,#0f6 0)"></i><i style="background:linear-gradient(#00c 18px,#00b 0 48px,#00c 0 51px,#00b 0 65px,#00e 0 68px,#00b 0 76px,#00c 0 79px,#00b 0 86px,#00e 0 90px,#01f 0 93px,#00c 0 99px,#00d 0 100px,#00e 0 102px,#00d 0 131px,#04f 0 134px,#00d 0 136px,#00e 0 142px,#00d 0 148px,#00e 0 154px,#00f 0 155px,#00e 0 176px,#01f 0 177px,#00e 0 205px,#00d 0 208px,#00e 0 210px,#0bf 0 214px,#0ff 0 218px,#06f 0 222px,#07f 0 226px,#00e 0 231px,#0fe 0 232px,#0fb 0 234px,#0ff 0 235px,#0fb 0 237px,#0ff 0 238px,#0fa 0 242px,#0fb 0 244px,#0fa 0 246px,#08f 0 249px,#0fb 0 252px,#0fc 0 254px,#fff 0 260px,#0fd 0 265px,#0ef 0 267px,#06f 0 270px,#0df 0 275px,#0fe 0 280px,#0f8 0 285px,#0fc 0 290px,#0fa 0 295px,#0ff 0 298px,#0fe 0 305px,#0fa 0 310px,#0f7 0 312px,#0f6 0 320px,#0fc 0 325px,#0fa 0 330px,#0fe 0 335px,#0ef 0 339px,#0ff 0 340px,#0f5 0 345px,#0f8 0 350px,#0f5 0)"></i><i style="background:linear-gradient(#00c 18px,#00b 0 48px,#00c 0 51px,#00b 0 65px,#00e 0 68px,#00b 0 76px,#00c 0 79px,#00b 0 86px,#00e 0 90px,#01f 0 93px,#00c 0 99px,#00d 0 100px,#00e 0 102px,#00d 0 131px,#04f 0 134px,#00d 0 136px,#00e 0 142px,#00d 0 148px,#00e 0 162px,#03f 0 163px,#00e 0 205px,#00d 0 207px,#0ef 0 210px,#0bf 0 214px,#0fb 0 218px,#02f 0 220px,#03f 0 226px,#0fe 0 230px,#0fd 0 234px,#07f 0 236px,#06f 0 238px,#0bf 0 242px,#0fc 0 246px,#06f 0 250px,#05f 0 252px,#00e 0 254px,#fff 0 260px,#0fd 0 267px,#0fc 0 269px,#0fd 0 270px,#05f 0 275px,#0fd 0 286px,#0fc 0 290px,#0f9 0 295px,#0f7 0 300px,#0fa 0 305px,#0ef 0 310px,#0f6 0 315px,#0f7 0 320px,#0fc 0 330px,#0f9 0 335px,#0f3 0 340px,#0fc 0 345px,#0fb 0 350px,#0f6 0)"></i><i style="background:linear-gradient(#00c 18px,#00b 0 48px,#00c 0 51px,#00b 0 65px,#00e 0 68px,#00b 0 76px,#00c 0 79px,#00b 0 86px,#00e 0 90px,#01f 0 93px,#00c 0 99px,#00d 0 100px,#00e 0 102px,#00d 0 131px,#04f 0 134px,#00d 0 136px,#00e 0 142px,#00d 0 148px,#00e 0 167px,#03f 0 168px,#00e 0 202px,#06f 0 203px,#00e 0 205px,#00d 0 208px,#00e 0 210px,#03f 0 214px,#05f 0 218px,#00f 0 222px,#0ef 0 226px,#0fe 0 230px,#00f 0 234px,#05f 0 238px,#07f 0 242px,#0bf 0 246px,#00e 0 250px,#01f 0 252px,#00f 0 253px,#00e 0 254px,#fff 0 260px,#0f8 0 263px,#0f7 0 265px,#0fa 0 270px,#0ff 0 275px,#0fc 0 285px,#0f8 0 290px,#0f3 0 295px,#0f5 0 300px,#0f6 0 305px,#0f8 0 310px,#0f5 0 315px,#0f6 0 320px,#0f9 0 325px,#0fa 0 330px,#0f6 0 335px,#0f4 0 340px,#0f0 0 345px,#0f3 0 350px,#0f1 0)"></i><i style="background:linear-gradient(#00c 18px,#00b 0 48px,#00c 0 51px,#00b 0 65px,#00e 0 68px,#00b 0 76px,#00c 0 79px,#00b 0 86px,#00e 0 90px,#01f 0 93px,#00c 0 99px,#00d 0 100px,#00e 0 102px,#00d 0 131px,#04f 0 134px,#00d 0 136px,#00e 0 142px,#00d 0 148px,#00e 0 154px,#00f 0 155px,#00e 0 205px,#00d 0 208px,#00e 0 209px,#0df 0 210px,#00e 0 212px,#00d 0 213px,#0fd 0 214px,#00f 0 216px,#00e 0 218px,#0df 0 222px,#00f 0 224px,#00e 0 226px,#0fe 0 230px,#03f 0 232px,#02f 0 234px,#06f 0 238px,#08f 0 242px,#02f 0 244px,#03f 0 246px,#04f 0 248px,#05f 0 250px,#0fe 0 254px,#fff 0 260px,#0fc 0 265px,#0fe 0 270px,#0fa 0 271px,#0f8 0 275px,#0ff 0 280px,#0fa 0 285px,#0f9 0 290px,#0fa 0 295px,#0f7 0 296px,#0f6 0 300px,#0fb 0 301px,#0fa 0 305px,#0fb 0 310px,#0f5 0 315px,#0f8 0 318px,#0f7 0 325px,#0f5 0 330px,#0f8 0 335px,#0f6 0 340px,#0f7 0 345px,#0f9 0 347px,#0f8 0 350px,#0f2 0)"></i><i style="background:linear-gradient(#00c 18px,#00b 0 48px,#00c 0 51px,#00b 0 65px,#00e 0 68px,#00b 0 76px,#00c 0 79px,#00b 0 86px,#00e 0 90px,#01f 0 93px,#00c 0 99px,#00d 0 100px,#00e 0 102px,#00d 0 131px,#04f 0 134px,#00d 0 136px,#00e 0 142px,#00d 0 148px,#00e 0 152px,#01f 0 153px,#00e 0 169px,#09f 0 170px,#00e 0 187px,#02f 0 188px,#00e 0 205px,#00d 0 208px,#00e 0 210px,#0cf 0 214px,#08f 0 218px,#03f 0 220px,#04f 0 222px,#0df 0 226px,#0af 0 230px,#0cf 0 234px,#0fe 0 238px,#0df 0 242px,#07f 0 244px,#06f 0 246px,#0fd 0 250px,#09f 0 253px,#00e 0 254px,#fff 0 260px,#0fd 0 265px,#0fa 0 270px,#0fd 0 273px,#0fe 0 275px,#0fd 0 280px,#0ff 0 285px,#0f6 0 290px,#0fc 0 295px,#0f7 0 300px,#0f9 0 305px,#0f8 0 310px,#0fd 0 315px,#0f7 0 320px,#0f2 0 325px,#0fc 0 330px,#0fa 0 335px,#0f9 0 340px,#0fe 0 345px,#0f7 0 349px,#0f6 0 350px,#0f3 0)"></i><i style="background:linear-gradient(#00c 18px,#00b 0 48px,#00c 0 51px,#00b 0 65px,#00e 0 68px,#00b 0 76px,#00c 0 79px,#00b 0 86px,#00e 0 90px,#01f 0 93px,#00c 0 99px,#00d 0 100px,#00e 0 102px,#00d 0 131px,#04f 0 134px,#00d 0 136px,#00e 0 142px,#00d 0 148px,#00e 0 162px,#06f 0 163px,#00e 0 179px,#0fc 0 182px,#0f8 0 185px,#0fa 0 188px,#0fc 0 192px,#0fb 0 196px,#0fd 0 199px,#0fe 0 203px,#0fc 0 209px,#0fb 0 213px,#0af 0 214px,#0fd 0 216px,#0fe 0 218px,#0fc 0 222px,#0fe 0 223px,#0ff 0 226px,#0f9 0 229px,#0fd 0 234px,#0bf 0 236px,#0fd 0 238px,#0f8 0 244px,#09f 0 246px,#0fb 0 248px,#0fc 0 250px,#0fa 0 252px,#0fe 0 254px,#fff 0 260px,#0fd 0 265px,#0ff 0 267px,#0fe 0 270px,#0fb 0 274px,#0fa 0 275px,#02f 0 280px,#0fb 0 285px,#0fd 0 289px,#0fc 0 290px,#0f9 0 295px,#0fc 0 300px,#0fe 0 305px,#0fc 0 310px,#0fb 0 315px,#0f7 0 330px,#0fc 0 340px,#0f3 0 342px,#0f2 0 345px,#0fa 0 350px,#0f7 0)"></i><i style="background:linear-gradient(#00c 18px,#00b 0 48px,#00c 0 51px,#00b 0 65px,#00e 0 68px,#00b 0 76px,#00c 0 79px,#00b 0 86px,#00e 0 90px,#01f 0 93px,#00c 0 99px,#00d 0 100px,#00e 0 102px,#00d 0 131px,#04f 0 134px,#00d 0 136px,#00e 0 142px,#00d 0 148px,#00e 0 205px,#00d 0 208px,#00e 0 210px,#06f 0 213px,#00d 0 216px,#09f 0 218px,#0fd 0 222px,#07f 0 226px,#02f 0 228px,#01f 0 230px,#03f 0 234px,#08f 0 238px,#04f 0 242px,#0ff 0 246px,#0ef 0 249px,#00e 0 252px,#02f 0 254px,#fff 0 260px,#0f4 0 262px,#0fb 0 266px,#0f8 0 270px,#0f3 0 274px,#0fa 0 275px,#0fd 0 279px,#0f5 0 282px,#0f7 0 286px,#0f0 0 291px,#0f5 0 297px,#0f7 0 302px,#0f6 0 306px,#0f7 0 311px,#0f6 0 315px,#0f2 0 321px,#0fe 0 325px,#0fa 0 329px,#0f5 0 332px,#0fd 0 334px,#0f6 0 337px,#0f1 0 341px,#0f8 0 344px,#0f4 0 348px,#0f8 0 351px,#0f2 0)"></i><i style="background:linear-gradient(#00c 18px,#00b 0 48px,#00c 0 51px,#00b 0 65px,#00e 0 68px,#00b 0 76px,#00c 0 79px,#00b 0 86px,#00e 0 90px,#01f 0 93px,#00c 0 99px,#00d 0 100px,#00e 0 102px,#00d 0 131px,#04f 0 134px,#00d 0 136px,#00e 0 142px,#00d 0 148px,#00e 0 186px,#05f 0 187px,#00e 0 192px,#00f 0 193px,#00e 0 205px,#00d 0 208px,#00e 0 210px,#08f 0 214px,#00e 0 217px,#00f 0 218px,#00e 0 222px,#04f 0 224px,#05f 0 230px,#02f 0 234px,#01f 0 236px,#00f 0 238px,#08f 0 242px,#03f 0 246px,#0f6 0 250px,#0af 0 252px,#00e 0 254px,#fff 0 260px,#0ff 0 265px,#0fc 0 270px,#0fb 0 277px,#0fa 0 280px,#0f9 0 285px,#0fa 0 295px,#0ff 0 297px,#0fe 0 300px,#0f7 0 305px,#0fb 0 310px,#0cf 0 315px,#0fe 0 320px,#0f5 0 322px,#0f4 0 325px,#0f9 0 329px,#0f8 0 330px,#0f9 0 332px,#0f8 0 335px,#0fd 0 340px,#0f3 0 345px,#0f7 0 350px,#0f6 0)"></i><i style="background:linear-gradient(#00c 18px,#00b 0 48px,#00c 0 51px,#00b 0 65px,#00e 0 68px,#00b 0 76px,#00c 0 79px,#00b 0 86px,#00e 0 90px,#01f 0 93px,#00c 0 99px,#00d 0 100px,#00e 0 102px,#00d 0 131px,#04f 0 134px,#00d 0 136px,#00e 0 142px,#00d 0 148px,#00e 0 175px,#02f 0 176px,#00e 0 193px,#0f0 0 195px,#4f0 0 197px,#1f0 0 199px,#0f0 0 202px,#0f2 0 205px,#00d 0 206px,#0ff 0 207px,#00d 0 208px,#00e 0 211px,#4f0 0 213px,#1f0 0 217px,#3f0 0 221px,#00e 0 223px,#00d 0 224px,#0f1 0 227px,#0f2 0 231px,#00e 0 234px,#05f 0 235px,#1f0 0 239px,#2f0 0 243px,#4f0 0 245px,#0f0 0 248px,#0f1 0 254px,#fff 0 260px,#0fc 0 265px,#0f8 0 270px,#0fb 0 275px,#0fc 0 278px,#0fd 0 279px,#0fc 0 280px,#0f8 0 285px,#0f7 0 290px,#0f5 0 295px,#0f7 0 300px,#0fb 0 310px,#0f2 0 315px,#0f8 0 320px,#0fa 0 325px,#0f4 0 330px,#0f8 0 335px,#0f5 0 338px,#0f4 0 340px,#0f5 0 348px,#0f4 0 350px,#0f1 0)"></i><i style="background:linear-gradient(#00c 18px,#00b 0 48px,#00c 0 51px,#00b 0 65px,#00e 0 68px,#00b 0 76px,#00c 0 79px,#00b 0 86px,#00e 0 90px,#01f 0 93px,#00c 0 99px,#00d 0 100px,#00e 0 102px,#00d 0 131px,#04f 0 134px,#00d 0 136px,#00e 0 142px,#00d 0 148px,#00e 0 190px,#0f9 0 192px,#0f8 0 197px,#0f7 0 199px,#0fc 0 201px,#0f9 0 204px,#0ff 0 207px,#0f9 0 210px,#0f8 0 214px,#0f6 0 216px,#0f5 0 218px,#0fd 0 220px,#0f9 0 224px,#06f 0 226px,#0f4 0 228px,#0f6 0 231px,#0fb 0 233px,#0fd 0 234px,#08f 0 236px,#0f5 0 239px,#0fa 0 243px,#0f7 0 247px,#0f6 0 251px,#02f 0 252px,#01f 0 254px,#fff 0 260px,#0fe 0 265px,#0fc 0 269px,#0fb 0 270px,#0fc 0 279px,#0fb 0 280px,#0f9 0 285px,#0fa 0 290px,#0f9 0 291px,#0f8 0 300px,#0fa 0 305px,#0f2 0 310px,#0f9 0 315px,#0fa 0 320px,#0f6 0 325px,#0fc 0 330px,#0f8 0 333px,#0f7 0 335px,#0fd 0 340px,#0f5 0 343px,#0f4 0 345px,#0f8 0 350px,#0f9 0)"></i><i style="background:linear-gradient(#00c 18px,#00b 0 48px,#00c 0 51px,#00b 0 65px,#00e 0 68px,#00b 0 76px,#00c 0 79px,#00b 0 86px,#00e 0 90px,#01f 0 93px,#00c 0 99px,#00d 0 100px,#00e 0 102px,#00d 0 131px,#04f 0 134px,#00d 0 136px,#00e 0 142px,#00d 0 143px,#09f 0 147px,#00d 0 148px,#00e 0 205px,#00d 0 208px,#00e 0 210px,#00f 0 211px,#00e 0 212px,#00d 0 213px,#01f 0 214px,#00e 0 216px,#00f 0 218px,#08f 0 222px,#06f 0 226px,#08f 0 228px,#07f 0 230px,#0af 0 234px,#0df 0 238px,#0bf 0 242px,#01f 0 246px,#08f 0 250px,#02f 0 254px,#fff 0 260px,#0f8 0 265px,#0fc 0 267px,#0fb 0 270px,#0fa 0 275px,#0fb 0 276px,#0fa 0 280px,#0fb 0 285px,#0fc 0 290px,#0f3 0 295px,#08f 0 296px,#09f 0 300px,#0f4 0 305px,#0f5 0 310px,#0fa 0 315px,#0f6 0 320px,#0fc 0 325px,#0f5 0 327px,#0f4 0 330px,#0f7 0 335px,#0fb 0 340px,#0fa 0 350px,#0f9 0)"></i><i style="background:linear-gradient(#00c 18px,#00b 0 48px,#00c 0 51px,#00b 0 65px,#00e 0 68px,#00b 0 76px,#00c 0 79px,#00b 0 86px,#00e 0 90px,#01f 0 93px,#00c 0 99px,#00d 0 100px,#00e 0 102px,#00d 0 131px,#04f 0 134px,#00d 0 136px,#00e 0 142px,#00d 0 148px,#00e 0 173px,#00f 0 174px,#00e 0 198px,#0fc 0 202px,#0bf 0 206px,#0fa 0 214px,#0ff 0 216px,#0fa 0 218px,#0af 0 222px,#09f 0 224px,#0bf 0 226px,#0fd 0 229px,#0df 0 231px,#0fc 0 235px,#0fe 0 237px,#0f9 0 241px,#0ff 0 242px,#0f9 0 246px,#0fb 0 250px,#0ff 0 252px,#0fe 0 254px,#fff 0 260px,#0f8 0 265px,#0f6 0 268px,#0f8 0 271px,#0f4 0 275px,#0f7 0 280px,#0f6 0 286px,#0f8 0 290px,#0fb 0 294px,#0f3 0 299px,#0fa 0 304px,#0f8 0 305px,#0f9 0 306px,#0f6 0 312px,#0f9 0 314px,#0f1 0 318px,#0f5 0 320px,#0f2 0 322px,#0f1 0 328px,#0f3 0 336px,#0f8 0 338px,#0f7 0 344px,#0f5 0 347px,#0f2 0 350px,#0f9 0)"></i><i style="background:linear-gradient(#04f 2px,#00c 0 5px,#00e 0 8px,#00c 0 11px,#05f 0 14px,#00c 0 18px,#00b 0 48px,#00c 0 51px,#00b 0 65px,#00e 0 68px,#00b 0 76px,#00c 0 79px,#00b 0 86px,#00e 0 90px,#01f 0 93px,#00c 0 99px,#00d 0 100px,#00e 0 102px,#00d 0 131px,#04f 0 134px,#00d 0 136px,#00e 0 142px,#00d 0 148px,#00e 0 174px,#02f 0 175px,#00e 0 193px,#00f 0 194px,#00e 0 205px,#00d 0 208px,#00e 0 212px,#05f 0 213px,#0fd 0 214px,#00f 0 216px,#00e 0 217px,#00f 0 218px,#06f 0 222px,#01f 0 224px,#02f 0 226px,#0fe 0 230px,#0af 0 234px,#0ef 0 238px,#0bf 0 242px,#00e 0 246px,#0bf 0 250px,#0ef 0 254px,#fff 0 260px,#0fc 0 265px,#0fe 0 270px,#0fb 0 275px,#0f9 0 280px,#0fc 0 281px,#0fb 0 285px,#0fe 0 290px,#0f5 0 291px,#0f4 0 295px,#0f7 0 300px,#0f9 0 305px,#0fa 0 315px,#0fb 0 320px,#0f5 0 325px,#0fb 0 330px,#0f0 0 335px,#0fd 0 340px,#0f1 0 345px,#0f9 0 350px,#0f4 0)"></i><i style="background:linear-gradient(#00d 2px,#00c 0 8px,#00d 0 11px,#00c 0 18px,#00b 0 48px,#00c 0 51px,#00b 0 65px,#00e 0 68px,#00b 0 76px,#00c 0 79px,#00b 0 86px,#00e 0 90px,#01f 0 93px,#00c 0 99px,#00d 0 100px,#00e 0 102px,#00d 0 131px,#04f 0 134px,#00d 0 136px,#00e 0 142px,#00d 0 148px,#00e 0 151px,#03f 0 152px,#00e 0 153px,#03f 0 154px,#00e 0 192px,#06f 0 193px,#00e 0 205px,#00d 0 208px,#00e 0 212px,#00d 0 213px,#02f 0 214px,#03f 0 216px,#00d 0 217px,#00e 0 222px,#08f 0 226px,#09f 0 230px,#08f 0 234px,#00f 0 236px,#00e 0 238px,#05f 0 240px,#06f 0 246px,#00e 0 250px,#0ff 0 254px,#fff 0 260px,#0ef 0 265px,#0df 0 270px,#0fe 0 275px,#0df 0 279px,#0ef 0 280px,#0fe 0 285px,#0ff 0 290px,#0fd 0 291px,#0fc 0 295px,#0ff 0 300px,#0fd 0 305px,#0ff 0 308px,#0fe 0 310px,#0df 0 314px,#0ef 0 315px,#0fc 0 325px,#0fd 0 330px,#0fc 0 332px,#0fb 0 335px,#0fe 0 336px,#0fd 0 340px,#0fa 0 342px,#0f9 0 343px,#0f8 0 345px,#0cf 0 352px,#0df 0)"></i><i style="background:linear-gradient(#00c 8px,#0af 0 11px,#00f 0 14px,#00c 0 18px,#00b 0 20px,#00f 0 22px,#00e 0 23px,#00b 0 48px,#00c 0 51px,#00b 0 65px,#00e 0 68px,#00b 0 76px,#00c 0 79px,#00b 0 86px,#00e 0 90px,#01f 0 93px,#00c 0 99px,#00d 0 100px,#00e 0 102px,#00d 0 131px,#04f 0 134px,#00d 0 136px,#00e 0 142px,#00d 0 148px,#00e 0 161px,#03f 0 162px,#00e 0 205px,#00d 0 208px,#00e 0 214px,#00d 0 216px,#00f 0 217px,#00e 0 222px,#04f 0 224px,#03f 0 226px,#09f 0 230px,#08f 0 234px,#04f 0 238px,#00f 0 240px,#00e 0 242px,#07f 0 246px,#05f 0 250px,#00e 0 252px,#06f 0 254px,#fff 0 260px,#09f 0 265px,#08f 0 270px,#0bf 0 275px,#0af 0 285px,#08f 0 290px,#0af 0 295px,#0bf 0 300px,#09f 0 305px,#0bf 0 309px,#0cf 0 310px,#09f 0 314px,#0af 0 315px,#0ef 0 316px,#0ff 0 320px,#0df 0 325px,#0ff 0 327px,#0fe 0 330px,#0bf 0 332px,#0cf 0 335px,#0df 0 337px,#0ef 0 340px,#0fe 0 343px,#0fd 0 345px,#0fb 0 348px,#0fa 0 350px,#0fe 0)"></i><i style="background:linear-gradient(#00c 14px,#00d 0 17px,#00c 0 18px,#00b 0 48px,#00c 0 51px,#00b 0 65px,#00e 0 68px,#00b 0 76px,#00c 0 79px,#00b 0 86px,#00e 0 90px,#01f 0 93px,#00c 0 99px,#00d 0 100px,#00e 0 102px,#00d 0 131px,#04f 0 134px,#00d 0 136px,#00e 0 142px,#00d 0 148px,#00e 0 188px,#01f 0 189px,#00e 0 195px,#0fc 0 198px,#0ff 0 201px,#0fe 0 203px,#0fb 0 205px,#00d 0 208px,#00e 0 209px,#0f8 0 211px,#0fb 0 214px,#0bf 0 218px,#0fb 0 221px,#0ff 0 224px,#0fc 0 228px,#0fd 0 231px,#0fe 0 234px,#0fd 0 238px,#0df 0 242px,#0fd 0 248px,#09f 0 251px,#0fe 0 254px,#fff 0 260px,#08f 0 265px,#06f 0 270px,#0af 0 275px,#09f 0 280px,#0bf 0 285px,#0af 0 289px,#0bf 0 290px,#09f 0 295px,#07f 0 300px,#0bf 0 305px,#0ef 0 310px,#0bf 0 315px,#0ef 0 320px,#0cf 0 323px,#0df 0 325px,#0ff 0 330px,#0cf 0 332px,#0df 0 335px,#0fe 0 343px,#0fd 0 345px,#0ff 0 347px,#0fe 0 350px,#0fb 0)"></i><i style="background:linear-gradient(#00c 17px,#0fc 0 18px,#0fd 0 20px,#00c 0 23px,#00b 0 48px,#00c 0 51px,#00b 0 65px,#00e 0 68px,#00b 0 76px,#00c 0 79px,#00b 0 86px,#00e 0 90px,#01f 0 93px,#00c 0 99px,#00d 0 100px,#00e 0 102px,#00d 0 131px,#04f 0 134px,#00d 0 136px,#00e 0 142px,#00d 0 148px,#00e 0 184px,#02f 0 185px,#00e 0 198px,#08f 0 199px,#00e 0 205px,#00d 0 208px,#00e 0 212px,#00d 0 217px,#00e 0 220px,#08f 0 222px,#06f 0 226px,#0df 0 228px,#0cf 0 230px,#00e 0 232px,#0fe 0 234px,#00e 0 238px,#06f 0 242px,#03f 0 244px,#01f 0 246px,#05f 0 250px,#08f 0 254px,#fff 0 260px,#09f 0 265px,#0bf 0 270px,#0af 0 275px,#0bf 0 280px,#07f 0 285px,#08f 0 286px,#09f 0 290px,#0af 0 295px,#08f 0 300px,#0af 0 303px,#0bf 0 305px,#0ef 0 310px,#09f 0 313px,#0af 0 315px,#0bf 0 320px,#0cf 0 322px,#0df 0 325px,#0cf 0 329px,#0df 0 330px,#0ff 0 344px,#0fe 0 345px,#0ff 0 350px,#0fd 0)"></i><i style="background:linear-gradient(#00c 17px,#00e 0 20px,#00b 0 26px,#00e 0 29px,#00b 0 48px,#00c 0 51px,#00b 0 65px,#00e 0 68px,#00b 0 76px,#00c 0 79px,#00b 0 86px,#00e 0 90px,#01f 0 93px,#00c 0 99px,#00d 0 100px,#00e 0 102px,#00d 0 131px,#04f 0 134px,#00d 0 136px,#00e 0 142px,#00d 0 148px,#00e 0 179px,#05f 0 181px,#00e 0 189px,#02f 0 190px,#00e 0 205px,#00d 0 208px,#00e 0 209px,#00f 0 210px,#00e 0 212px,#00d 0 216px,#0cf 0 218px,#0fd 0 219px,#00e 0 222px,#02f 0 226px,#07f 0 230px,#05f 0 234px,#00e 0 246px,#0ef 0 250px,#03f 0 253px,#02f 0 254px,#fff 0 260px,#0cf 0 265px,#0bf 0 270px,#09f 0 275px,#08f 0 285px,#06f 0 286px,#07f 0 295px,#09f 0 300px,#0af 0 305px,#09f 0 310px,#0cf 0 312px,#0df 0 315px,#0ef 0 320px,#0df 0 321px,#0ef 0 325px,#0cf 0 330px,#0ff 0 336px,#0fe 0 340px,#0fd 0 341px,#0fb 0 345px,#0ff 0 349px,#0fe 0 350px,#0df 0)"></i><i style="background:linear-gradient(#00c 2px,#0ff 0 5px,#00c 0 17px,#00d 0 20px,#00b 0 29px,#00f 0 30px,#00e 0 32px,#00b 0 48px,#00c 0 51px,#00b 0 65px,#00e 0 68px,#00b 0 76px,#00c 0 79px,#00b 0 86px,#00e 0 90px,#01f 0 93px,#00c 0 99px,#00d 0 100px,#00e 0 102px,#00d 0 131px,#04f 0 134px,#00d 0 136px,#00e 0 142px,#00d 0 148px,#00e 0 182px,#04f 0 183px,#00e 0 202px,#01f 0 203px,#00e 0 205px,#00d 0 208px,#00e 0 212px,#00d 0 213px,#0cf 0 214px,#09f 0 218px,#0fc 0 219px,#00e 0 222px,#0fe 0 225px,#00d 0 228px,#09f 0 230px,#03f 0 234px,#00f 0 238px,#0fe 0 242px,#05f 0 246px,#00e 0 250px,#0cf 0 254px,#fff 0 260px,#09f 0 265px,#0bf 0 270px,#08f 0 275px,#09f 0 280px,#0af 0 300px,#09f 0 302px,#0af 0 305px,#0bf 0 306px,#0cf 0 310px,#0bf 0 312px,#0cf 0 315px,#0bf 0 320px,#0ef 0 324px,#0ff 0 325px,#0ef 0 330px,#0fe 0 335px,#0ff 0 336px,#0fe 0 340px,#0fd 0 341px,#0fb 0 345px,#0fe 0 350px,#0fd 0)"></i><i style="background:linear-gradient(#00c 5px,#05f 0 8px,#00c 0 11px,#04f 0 14px,#00c 0 17px,#03f 0 19px,#02f 0 20px,#00b 0 23px,#00e 0 26px,#00b 0 48px,#00c 0 51px,#00b 0 65px,#00e 0 68px,#00b 0 76px,#00c 0 79px,#00b 0 86px,#00e 0 90px,#01f 0 93px,#00c 0 99px,#00d 0 100px,#00e 0 102px,#00d 0 131px,#04f 0 134px,#00d 0 136px,#00e 0 142px,#00d 0 148px,#00e 0 178px,#00f 0 179px,#00e 0 196px,#04f 0 197px,#00e 0 205px,#00d 0 208px,#00e 0 209px,#00f 0 210px,#00e 0 212px,#00d 0 217px,#00e 0 222px,#07f 0 226px,#0fd 0 230px,#0cf 0 234px,#09f 0 238px,#0bf 0 239px,#0cf 0 246px,#05f 0 250px,#07f 0 254px,#fff 0 260px,#09f 0 265px,#0af 0 270px,#0bf 0 275px,#0af 0 280px,#09f 0 285px,#07f 0 290px,#09f 0 300px,#07f 0 305px,#0cf 0 309px,#0df 0 310px,#09f 0 311px,#0af 0 315px,#0df 0 318px,#0ef 0 320px,#0ff 0 325px,#0cf 0 326px,#0df 0 331px,#0ef 0 335px,#0fd 0 340px,#0ff 0 345px,#0fe 0 350px,#0f8 0)"></i><i style="background:linear-gradient(#00c 11px,#08f 0 13px,#07f 0 14px,#00c 0 18px,#00b 0 20px,#00d 0 21px,#00c 0 23px,#00b 0 26px,#05f 0 27px,#04f 0 29px,#00b 0 48px,#00c 0 51px,#00b 0 65px,#00e 0 68px,#00b 0 76px,#00c 0 79px,#00b 0 86px,#00e 0 90px,#01f 0 93px,#00c 0 99px,#00d 0 100px,#00e 0 102px,#00d 0 131px,#04f 0 134px,#00d 0 136px,#00e 0 142px,#00d 0 148px,#00e 0 153px,#00f 0 154px,#00e 0 201px,#04f 0 202px,#00e 0 205px,#00d 0 208px,#00e 0 212px,#00d 0 217px,#00e 0 222px,#0ef 0 225px,#0df 0 226px,#0ff 0 230px,#0cf 0 232px,#00e 0 234px,#0cf 0 237px,#0bf 0 238px,#00e 0 242px,#0af 0 246px,#07f 0 250px,#00e 0 254px,#fff 0 260px,#0af 0 265px,#07f 0 270px,#0bf 0 285px,#0af 0 290px,#09f 0 291px,#0af 0 295px,#08f 0 300px,#06f 0 302px,#07f 0 305px,#0bf 0 308px,#0cf 0 311px,#0df 0 315px,#0bf 0 320px,#0ef 0 325px,#0af 0 327px,#0bf 0 330px,#0cf 0 331px,#0df 0 335px,#0fe 0 345px,#0bf 0 348px,#0cf 0 350px,#0fb 0)"></i><i style="background:linear-gradient(#00f 2px,#00c 0 5px,#05f 0 6px,#06f 0 8px,#00f 0 11px,#00d 0 14px,#00e 0 17px,#04f 0 18px,#03f 0 19px,#02f 0 20px,#00b 0 23px,#00c 0 25px,#00b 0 48px,#00c 0 51px,#00b 0 65px,#00e 0 68px,#00b 0 76px,#00c 0 79px,#00b 0 86px,#00e 0 90px,#01f 0 93px,#00c 0 99px,#00d 0 100px,#00e 0 102px,#00d 0 131px,#04f 0 134px,#00d 0 136px,#00e 0 142px,#00d 0 148px,#00e 0 161px,#01f 0 162px,#00e 0 174px,#05f 0 175px,#00e 0 198px,#00f 0 199px,#00e 0 205px,#00f 0 206px,#00d 0 208px,#00e 0 212px,#00d 0 215px,#0cf 0 216px,#00d 0 217px,#00e 0 219px,#0ff 0 222px,#00e 0 223px,#04f 0 224px,#0ff 0 226px,#0af 0 230px,#00e 0 234px,#07f 0 236px,#00e 0 238px,#00f 0 239px,#02f 0 240px,#03f 0 246px,#0ef 0 250px,#00e 0 252px,#0fb 0 254px,#fff 0 260px,#0af 0 265px,#03f 0 270px,#06f 0 275px,#08f 0 280px,#06f 0 284px,#07f 0 285px,#09f 0 290px,#0af 0 293px,#0bf 0 300px,#08f 0 305px,#07f 0 307px,#08f 0 310px,#09f 0 314px,#0af 0 315px,#0df 0 320px,#0af 0 322px,#0bf 0 325px,#0ef 0 330px,#0cf 0 334px,#0df 0 335px,#0ff 0 336px,#0fe 0 340px,#0fd 0 345px,#0fe 0 350px,#0cf 0)"></i><i style="background:linear-gradient(#00c 5px,#04f 0 8px,#00d 0 11px,#00c 0 14px,#00d 0 17px,#00c 0 18px,#00b 0 20px,#06f 0 21px,#05f 0 22px,#04f 0 23px,#00b 0 32px,#04f 0 33px,#03f 0 35px,#00b 0 48px,#00c 0 51px,#00b 0 65px,#00e 0 68px,#00b 0 76px,#00c 0 79px,#00b 0 86px,#00e 0 90px,#01f 0 93px,#00c 0 99px,#00d 0 100px,#00e 0 102px,#00d 0 131px,#04f 0 134px,#00d 0 136px,#00e 0 142px,#00d 0 148px,#00e 0 192px,#02f 0 194px,#00e 0 205px,#00d 0 208px,#00e 0 212px,#00d 0 217px,#00e 0 218px,#0bf 0 222px,#09f 0 226px,#08f 0 230px,#00e 0 234px,#01f 0 238px,#00e 0 240px,#02f 0 242px,#03f 0 246px,#0cf 0 249px,#00e 0 252px,#02f 0 254px,#fff 0 260px,#09f 0 275px,#0af 0 280px,#08f 0 290px,#09f 0 295px,#08f 0 305px,#09f 0 307px,#0af 0 310px,#0cf 0 315px,#0af 0 319px,#0bf 0 324px,#0cf 0 325px,#0ff 0 328px,#0fe 0 330px,#0ef 0 332px,#0ff 0 335px,#0ef 0 337px,#0ff 0 339px,#0ef 0 340px,#0bf 0 344px,#0cf 0 345px,#0ff 0 350px,#0fe 0)"></i><i style="background:linear-gradient(#00d 5px,#00f 0 8px,#00c 0 11px,#0fe 0 12px,#0ff 0 14px,#00d 0 15px,#00c 0 17px,#00e 0 18px,#00d 0 20px,#09f 0 21px,#08f 0 22px,#07f 0 23px,#05f 0 24px,#04f 0 25px,#03f 0 26px,#00b 0 29px,#06f 0 30px,#05f 0 31px,#04f 0 32px,#00d 0 34px,#00c 0 35px,#00b 0 48px,#00c 0 51px,#00b 0 65px,#00e 0 68px,#00b 0 76px,#00c 0 79px,#00b 0 86px,#00e 0 90px,#01f 0 93px,#00c 0 99px,#00d 0 100px,#00e 0 102px,#00d 0 131px,#04f 0 134px,#00d 0 136px,#00e 0 142px,#00d 0 148px,#00e 0 164px,#02f 0 165px,#00e 0 205px,#00d 0 208px,#00e 0 212px,#00d 0 217px,#00e 0 222px,#0ff 0 226px,#00d 0 228px,#0fb 0 230px,#0ff 0 234px,#00e 0 240px,#05f 0 242px,#0df 0 246px,#0fd 0 250px,#00f 0 252px,#00e 0 254px,#fff 0 260px,#06f 0 265px,#09f 0 270px,#0bf 0 275px,#06f 0 290px,#09f 0 295px,#0af 0 300px,#07f 0 305px,#0af 0 309px,#0bf 0 310px,#08f 0 311px,#09f 0 315px,#0af 0 320px,#0bf 0 323px,#0cf 0 325px,#0ff 0 329px,#0fe 0 330px,#0ff 0 334px,#0fe 0 335px,#0ff 0 340px,#0cf 0 341px,#0df 0 347px,#0ef 0 350px,#0ff 0)"></i><i style="background:linear-gradient(#03f 1px,#04f 0 2px,#06f 0 3px,#07f 0 5px,#00d 0 8px,#00c 0 14px,#06f 0 16px,#05f 0 17px,#04f 0 18px,#02f 0 20px,#00b 0 23px,#06f 0 24px,#05f 0 26px,#00d 0 29px,#00e 0 31px,#00d 0 32px,#00b 0 48px,#00c 0 51px,#00b 0 65px,#00e 0 68px,#00b 0 76px,#00c 0 79px,#00b 0 86px,#00e 0 90px,#01f 0 93px,#00c 0 99px,#00d 0 100px,#00e 0 102px,#00d 0 131px,#04f 0 134px,#00d 0 136px,#00e 0 142px,#00d 0 148px,#00e 0 151px,#00f 0 152px,#00e 0 169px,#00f 0 170px,#00e 0 175px,#03f 0 176px,#00e 0 205px,#00d 0 208px,#00e 0 212px,#00d 0 217px,#00e 0 222px,#0af 0 226px,#0df 0 228px,#00e 0 230px,#07f 0 234px,#0df 0 238px,#0ef 0 242px,#00e 0 245px,#06f 0 246px,#0ff 0 250px,#07f 0 254px,#fff 0 260px,#08f 0 265px,#09f 0 270px,#0af 0 275px,#06f 0 280px,#08f 0 284px,#09f 0 285px,#0bf 0 290px,#08f 0 292px,#09f 0 295px,#06f 0 297px,#07f 0 300px,#0af 0 306px,#0bf 0 320px,#0ef 0 325px,#0cf 0 327px,#0df 0 330px,#0bf 0 333px,#0cf 0 335px,#0fe 0 336px,#0fd 0 338px,#0fb 0 340px,#09f 0 342px,#0af 0 345px,#0fe 0 350px,#0fd 0)"></i><i style="background:linear-gradient(#00f 2px,#0fa 0 5px,#0cf 0 8px,#03f 0 11px,#00c 0 14px,#0fe 0 17px,#00e 0 18px,#00d 0 21px,#00c 0 23px,#0fa 0 24px,#0fb 0 26px,#00b 0 29px,#00c 0 31px,#00b 0 38px,#00d 0 41px,#00b 0 48px,#00c 0 51px,#00b 0 65px,#00e 0 68px,#00b 0 76px,#00c 0 79px,#00b 0 86px,#00e 0 90px,#01f 0 93px,#00c 0 99px,#00d 0 100px,#00e 0 102px,#00d 0 131px,#04f 0 134px,#00d 0 136px,#00e 0 142px,#00d 0 148px,#00e 0 151px,#07f 0 152px,#00e 0 205px,#00d 0 208px,#00e 0 212px,#00d 0 217px,#00e 0 223px,#00d 0 226px,#0bf 0 230px,#0fe 0 232px,#00e 0 236px,#0fe 0 238px,#09f 0 242px,#00e 0 246px,#01f 0 248px,#00e 0 254px,#fff 0 260px,#08f 0 265px,#0af 0 275px,#08f 0 285px,#05f 0 290px,#08f 0 295px,#0bf 0 296px,#0cf 0 305px,#0af 0 308px,#0bf 0 312px,#0cf 0 315px,#0bf 0 320px,#0df 0 324px,#0ef 0 325px,#0df 0 328px,#0ef 0 330px,#0cf 0 331px,#0df 0 335px,#0ff 0 337px,#0fe 0 340px,#09f 0 341px,#0af 0 345px,#0fe 0 350px,#0df 0 351px,#0ef 0)"></i><i style="background:linear-gradient(#00c 2px,#09f 0 4px,#0af 0 5px,#0fd 0 6px,#0fc 0 8px,#00d 0 11px,#0fe 0 15px,#0ff 0 17px,#0bf 0 18px,#0af 0 19px,#09f 0 20px,#04f 0 21px,#03f 0 22px,#02f 0 23px,#00e 0 24px,#00d 0 26px,#0fb 0 28px,#0fc 0 29px,#06f 0 30px,#05f 0 31px,#03f 0 32px,#00b 0 35px,#00d 0 37px,#00c 0 38px,#00b 0 48px,#00c 0 51px,#00b 0 65px,#00e 0 68px,#00b 0 76px,#00c 0 79px,#00b 0 86px,#00e 0 90px,#01f 0 93px,#00c 0 99px,#00d 0 100px,#00e 0 102px,#00d 0 131px,#04f 0 134px,#00d 0 136px,#00e 0 142px,#00d 0 148px,#00e 0 182px,#04f 0 183px,#09f 0 186px,#00f 0 188px,#09f 0 192px,#0df 0 194px,#0ff 0 197px,#0fe 0 202px,#0cf 0 205px,#0fc 0 208px,#0cf 0 210px,#00e 0 212px,#0fd 0 216px,#0af 0 218px,#0bf 0 219px,#0fd 0 222px,#0ef 0 224px,#0af 0 228px,#05f 0 232px,#0bf 0 240px,#08f 0 241px,#00e 0 242px,#0cf 0 243px,#0ff 0 246px,#0bf 0 248px,#00e 0 252px,#01f 0 254px,#fff 0 260px,#07f 0 265px,#0bf 0 270px,#08f 0 275px,#0af 0 280px,#07f 0 285px,#08f 0 288px,#09f 0 290px,#0df 0 295px,#08f 0 299px,#09f 0 300px,#08f 0 304px,#09f 0 305px,#0df 0 308px,#0ef 0 310px,#0af 0 314px,#0bf 0 315px,#0df 0 319px,#0ef 0 325px,#0ff 0 330px,#0fe 0 335px,#0ff 0 339px,#0fe 0 340px,#0fd 0 345px,#0fc 0 346px,#0fb 0)"></i><i style="background:linear-gradient(#0fc 2px,#0fd 0 4px,#0fc 0 5px,#0fb 0 8px,#00f 0 9px,#01f 0 11px,#0fb 0 14px,#0fa 0 16px,#0fb 0 17px,#0bf 0 18px,#09f 0 19px,#08f 0 20px,#0fe 0 21px,#0ff 0 22px,#0ef 0 23px,#0ff 0 25px,#0df 0 26px,#00c 0 27px,#00b 0 29px,#09f 0 30px,#08f 0 31px,#06f 0 32px,#02f 0 33px,#00f 0 34px,#00e 0 35px,#00b 0 47px,#00e 0 48px,#00c 0 51px,#00b 0 65px,#00e 0 68px,#00b 0 76px,#00c 0 79px,#00b 0 86px,#00e 0 90px,#01f 0 93px,#00c 0 99px,#00d 0 100px,#00e 0 102px,#00d 0 131px,#04f 0 134px,#00d 0 136px,#00e 0 142px,#00d 0 148px,#00e 0 191px,#00f 0 192px,#00e 0 205px,#00d 0 208px,#00e 0 209px,#02f 0 210px,#00e 0 212px,#00d 0 217px,#00e 0 222px,#06f 0 225px,#00d 0 228px,#04f 0 230px,#00e 0 231px,#06f 0 232px,#0fd 0 234px,#08f 0 236px,#00e 0 238px,#0fe 0 242px,#08f 0 248px,#00e 0 250px,#06f 0 254px,#fff 0 260px,#07f 0 265px,#08f 0 270px,#07f 0 275px,#09f 0 280px,#08f 0 285px,#06f 0 290px,#07f 0 295px,#0cf 0 300px,#09f 0 307px,#0af 0 314px,#0bf 0 315px,#09f 0 317px,#0af 0 320px,#0ff 0 330px,#0ef 0 333px,#0ff 0 337px,#0fe 0 340px,#0fd 0 345px,#0ff 0 347px,#0fe 0 350px,#0fd 0)"></i><i style="background:linear-gradient(#0ef 1px,#0ff 0 2px,#0fe 0 3px,#0fd 0 6px,#0fc 0 8px,#08f 0 9px,#09f 0 11px,#0f5 0 14px,#0fc 0 17px,#0f2 0 19px,#0f3 0 20px,#07f 0 21px,#06f 0 22px,#05f 0 23px,#08f 0 24px,#06f 0 25px,#05f 0 26px,#04f 0 27px,#03f 0 28px,#01f 0 29px,#0df 0 30px,#0bf 0 31px,#09f 0 32px,#00b 0 35px,#00f 0 37px,#00e 0 38px,#00b 0 44px,#00d 0 47px,#00b 0 48px,#00c 0 51px,#00b 0 65px,#00e 0 68px,#00b 0 76px,#00c 0 79px,#00b 0 86px,#00e 0 90px,#01f 0 93px,#00c 0 99px,#00d 0 100px,#00e 0 102px,#00d 0 131px,#04f 0 134px,#00d 0 136px,#00e 0 142px,#00d 0 148px,#00e 0 205px,#00d 0 208px,#00e 0 212px,#00d 0 217px,#00e 0 223px,#00d 0 228px,#00f 0 230px,#0ff 0 234px,#03f 0 238px,#00e 0 244px,#0af 0 246px,#00e 0 250px,#0fd 0 254px,#fff 0 260px,#09f 0 265px,#0af 0 270px,#09f 0 275px,#0bf 0 285px,#08f 0 290px,#07f 0 295px,#09f 0 300px,#0bf 0 305px,#09f 0 310px,#0bf 0 311px,#0cf 0 319px,#0df 0 320px,#0ef 0 323px,#0ff 0 325px,#0cf 0 330px,#0ef 0 332px,#0ff 0 335px,#0fe 0 336px,#0fc 0 340px,#0ff 0 341px,#0fe 0 345px,#0df 0 346px,#0ef 0 350px,#0fc 0)"></i><i style="background:linear-gradient(#0cf 1px,#0df 0 2px,#0f2 0 3px,#0f1 0 5px,#0f6 0 8px,#0fb 0 11px,#0f5 0 14px,#0f8 0 15px,#0f9 0 17px,#0f8 0 19px,#0f9 0 20px,#0df 0 21px,#0cf 0 22px,#0af 0 23px,#07f 0 24px,#06f 0 25px,#04f 0 26px,#00d 0 27px,#00c 0 28px,#00b 0 29px,#00e 0 30px,#00d 0 32px,#00b 0 38px,#00e 0 39px,#00d 0 41px,#00b 0 48px,#00c 0 51px,#00b 0 65px,#00e 0 68px,#00b 0 76px,#00c 0 79px,#00b 0 86px,#00e 0 90px,#01f 0 93px,#00c 0 99px,#00d 0 100px,#00e 0 102px,#00d 0 131px,#04f 0 134px,#00d 0 136px,#00e 0 142px,#00d 0 148px,#00e 0 150px,#04f 0 151px,#00e 0 175px,#00f 0 176px,#00e 0 177px,#00f 0 178px,#00e 0 188px,#04f 0 191px,#0fd 0 195px,#0af 0 199px,#0fe 0 201px,#00e 0 203px,#0ff 0 205px,#06f 0 208px,#0ef 0 211px,#0ff 0 215px,#0fe 0 218px,#09f 0 222px,#0bf 0 224px,#08f 0 226px,#0fd 0 230px,#08f 0 231px,#0fd 0 234px,#0fc 0 237px,#0fb 0 250px,#0fe 0 254px,#fff 0 260px,#07f 0 265px,#09f 0 270px,#0af 0 275px,#08f 0 280px,#09f 0 285px,#08f 0 290px,#06f 0 295px,#0df 0 300px,#0af 0 304px,#0bf 0 305px,#09f 0 307px,#0af 0 310px,#0bf 0 314px,#0cf 0 320px,#0df 0 325px,#0ef 0 330px,#0ff 0 335px,#0fe 0 340px,#0df 0 342px,#0ef 0 345px,#0ff 0 350px,#0ef 0 351px,#0ff 0)"></i><i style="background:linear-gradient(#0fe 2px,#0f4 0 3px,#0f3 0 5px,#03f 0 6px,#04f 0 7px,#05f 0 8px,#0f9 0 11px,#08f 0 13px,#07f 0 14px,#0fa 0 17px,#0f1 0 18px,#0f2 0 20px,#00d 0 21px,#00c 0 23px,#07f 0 24px,#05f 0 25px,#03f 0 26px,#0fd 0 28px,#0fe 0 29px,#0cf 0 30px,#0af 0 31px,#08f 0 32px,#00c 0 33px,#00b 0 35px,#00c 0 36px,#00b 0 41px,#02f 0 42px,#01f 0 43px,#00f 0 44px,#00b 0 48px,#00c 0 51px,#00b 0 65px,#00e 0 68px,#00b 0 76px,#00c 0 79px,#00b 0 86px,#00e 0 90px,#01f 0 93px,#00c 0 99px,#00d 0 100px,#00e 0 102px,#00d 0 131px,#04f 0 134px,#00d 0 136px,#00e 0 142px,#00d 0 148px,#00e 0 203px,#06f 0 204px,#00e 0 205px,#00d 0 208px,#00e 0 212px,#00d 0 217px,#00e 0 220px,#05f 0 221px,#00e 0 223px,#00f 0 226px,#0fe 0 230px,#0fc 0 234px,#07f 0 238px,#0fd 0 242px,#0fe 0 248px,#0ff 0 252px,#0fc 0 254px,#fff 0 260px,#0bf 0 270px,#08f 0 275px,#09f 0 280px,#08f 0 284px,#09f 0 285px,#0af 0 290px,#08f 0 300px,#09f 0 302px,#0af 0 305px,#07f 0 310px,#09f 0 312px,#0af 0 315px,#0df 0 319px,#0ef 0 320px,#0bf 0 325px,#0df 0 328px,#0ef 0 330px,#0df 0 332px,#0ef 0 335px,#0fe 0 336px,#0fd 0 339px,#0fc 0 340px,#0ff 0 344px,#0fe 0 345px,#0ff 0 350px,#0fa 0)"></i><i style="background:linear-gradient(#0fc 1px,#0fb 0 2px,#0fd 0 5px,#0f5 0 8px,#0fa 0 10px,#0fb 0 11px,#0f8 0 14px,#0fe 0 16px,#0ff 0 17px,#0f8 0 18px,#0f9 0 20px,#0f7 0 22px,#0f8 0 23px,#07f 0 24px,#05f 0 25px,#04f 0 26px,#0df 0 27px,#0bf 0 28px,#09f 0 29px,#04f 0 30px,#03f 0 31px,#01f 0 32px,#00b 0 38px,#00d 0 39px,#00c 0 41px,#00d 0 44px,#00b 0 48px,#00c 0 51px,#00b 0 65px,#00e 0 68px,#00b 0 76px,#00c 0 79px,#00b 0 86px,#00e 0 90px,#01f 0 93px,#00c 0 99px,#00d 0 100px,#00e 0 102px,#00d 0 131px,#04f 0 134px,#00d 0 136px,#00e 0 142px,#00d 0 148px,#00e 0 192px,#02f 0 193px,#00e 0 205px,#00d 0 206px,#0df 0 221px,#0af 0 228px,#0fe 0 248px,#0df 0 252px,#0bf 0 254px,#fff 0 260px,#09f 0 270px,#0bf 0 275px,#09f 0 280px,#0cf 0 285px,#08f 0 290px,#09f 0 292px,#0af 0 300px,#0cf 0 305px,#0bf 0 308px,#0cf 0 310px,#09f 0 313px,#0af 0 315px,#09f 0 318px,#0af 0 320px,#0bf 0 323px,#0cf 0 325px,#0ef 0 328px,#0ff 0 335px,#0af 0 338px,#0bf 0 340px,#0fe 0 345px,#0ff 0 348px,#0fe 0 350px,#0bf 0)"></i><i style="background:linear-gradient(#0fd 1px,#0fc 0 2px,#0bf 0 3px,#0cf 0 4px,#0df 0 5px,#0bf 0 8px,#0fa 0 11px,#0f9 0 12px,#0fa 0 14px,#0bf 0 15px,#09f 0 16px,#08f 0 17px,#0bf 0 18px,#09f 0 19px,#07f 0 20px,#0f8 0 21px,#0f9 0 23px,#0fe 0 24px,#0ff 0 25px,#0ef 0 26px,#00b 0 29px,#0df 0 30px,#0cf 0 31px,#0af 0 32px,#00b 0 35px,#0cf 0 36px,#0bf 0 37px,#0af 0 38px,#04f 0 39px,#03f 0 40px,#01f 0 41px,#00c 0 43px,#00b 0 48px,#00c 0 51px,#00b 0 65px,#00e 0 68px,#00b 0 76px,#00c 0 79px,#00b 0 86px,#00e 0 90px,#01f 0 93px,#00c 0 99px,#00d 0 100px,#00e 0 102px,#00d 0 131px,#04f 0 134px,#00d 0 136px,#00e 0 142px,#00d 0 148px,#00e 0 192px,#0fc 0 195px,#0fb 0 200px,#0fc 0 204px,#0fe 0 207px,#0fc 0 212px,#0df 0 217px,#0fe 0 224px,#0cf 0 228px,#0fa 0 232px,#0fc 0 239px,#0fb 0 246px,#0fd 0 253px,#0fa 0 254px,#fff 0 260px,#0cf 0 265px,#0ef 0 270px,#0cf 0 285px,#0ef 0 290px,#0bf 0 291px,#0cf 0 295px,#0ff 0 300px,#0fe 0 305px,#0ff 0 306px,#0fe 0 315px,#0fc 0 320px,#0fd 0 325px,#0fc 0 330px,#0fa 0 335px,#0fe 0 338px,#0fd 0 339px,#0ff 0 340px,#0fd 0 345px,#0fb 0 347px,#0fa 0 350px,#0fe 0)"></i><i style="background:linear-gradient(#0f7 1px,#0f6 0 2px,#1f0 0 5px,#0f7 0 8px,#0f9 0 11px,#0f3 0 12px,#0f4 0 14px,#0f0 0 17px,#0fe 0 18px,#0ff 0 19px,#0df 0 20px,#0fb 0 21px,#0fc 0 22px,#0fd 0 23px,#00f 0 24px,#00e 0 25px,#00d 0 26px,#09f 0 27px,#07f 0 28px,#05f 0 29px,#0ef 0 30px,#0cf 0 31px,#0af 0 32px,#02f 0 33px,#01f 0 35px,#00b 0 41px,#00e 0 42px,#00d 0 44px,#00b 0 48px,#00c 0 51px,#00b 0 65px,#00e 0 68px,#00b 0 76px,#00c 0 79px,#00b 0 86px,#00e 0 90px,#01f 0 93px,#00c 0 99px,#00d 0 100px,#00e 0 102px,#00d 0 131px,#04f 0 134px,#00d 0 136px,#00e 0 142px,#00d 0 148px,#00e 0 171px,#0f8 0 174px,#0f9 0 177px,#0f6 0 182px,#02f 0 183px,#00e 0 190px,#01f 0 196px,#0f7 0 204px,#01f 0 208px,#0f7 0 213px,#0fc 0 219px,#0f3 0 225px,#02f 0 230px,#0fa 0 238px,#0fb 0 248px,#0fd 0 249px,#04f 0 252px,#0bf 0 253px,#0f9 0 254px,#fff 0 260px,#0ff 0 263px,#0fe 0 270px,#0ff 0 275px,#0af 0 280px,#0fe 0 285px,#0fd 0 290px,#0fe 0 295px,#0fd 0 297px,#0fc 0 300px,#0fb 0 305px,#0fe 0 310px,#0fc 0 315px,#0fd 0 320px,#0fc 0 322px,#0fb 0 325px,#0f8 0 329px,#0f7 0 330px,#0f8 0 332px,#0f7 0 335px,#0fb 0 340px,#0f7 0 344px,#0f6 0 345px,#0fc 0 350px,#0fb 0)"></i><i style="background:linear-gradient(#0f5 1px,#0f4 0 2px,#0fa 0 4px,#0f9 0 5px,#0fb 0 8px,#0f3 0 11px,#0f6 0 13px,#0f7 0 14px,#1f0 0 16px,#0f0 0 17px,#0f9 0 18px,#0fa 0 19px,#0fb 0 20px,#06f 0 21px,#04f 0 22px,#01f 0 23px,#02f 0 24px,#00f 0 25px,#00e 0 26px,#07f 0 27px,#04f 0 28px,#02f 0 29px,#08f 0 30px,#06f 0 31px,#04f 0 32px,#09f 0 35px,#0fc 0 36px,#0fd 0 38px,#00e 0 40px,#00d 0 41px,#00b 0 48px,#00c 0 51px,#00b 0 65px,#00e 0 68px,#00b 0 76px,#00c 0 79px,#00b 0 86px,#00e 0 90px,#01f 0 93px,#00c 0 99px,#00d 0 100px,#00e 0 102px,#00d 0 131px,#04f 0 134px,#00d 0 136px,#00e 0 142px,#00d 0 148px,#00e 0 151px,#00f 0 158px,#00e 0 165px,#02f 0 166px,#00e 0 168px,#00f 0 175px,#00e 0 179px,#0fa 0 182px,#03f 0 188px,#0f9 0 196px,#0fa 0 206px,#03f 0 211px,#0f8 0 218px,#00e 0 222px,#0f3 0 227px,#0fc 0 230px,#0fd 0 234px,#0fb 0 241px,#0df 0 244px,#0fd 0 249px,#0f8 0 252px,#0f5 0 254px,#fff 0 260px,#0fe 0 269px,#0fd 0 270px,#0fa 0 275px,#0fc 0 280px,#0fe 0 285px,#0f8 0 287px,#0f4 0 290px,#0fe 0 293px,#0fd 0 295px,#0f8 0 305px,#0fc 0 310px,#0fa 0 315px,#0f7 0 320px,#0f6 0 324px,#0f5 0 325px,#0ff 0 330px,#0f5 0 334px,#0f4 0 335px,#0f8 0 343px,#0f7 0 345px,#0f1 0 348px,#0f0 0)"></i><i style="background:linear-gradient(#0fc 1px,#0fb 0 2px,#3f0 0 4px,#df0 0 9px,#2f0 0 11px,#0f7 0 12px,#0f8 0 14px,#0df 0 15px,#0bf 0 16px,#09f 0 17px,#1f0 0 18px,#0f0 0 19px,#0f1 0 20px,#0f2 0 21px,#0f3 0 22px,#0f4 0 23px,#06f 0 24px,#04f 0 25px,#01f 0 26px,#0ef 0 27px,#0cf 0 28px,#09f 0 29px,#00c 0 30px,#00b 0 32px,#00d 0 35px,#0fe 0 36px,#0ff 0 38px,#00e 0 40px,#0fc 0 44px,#00b 0 48px,#0f8 0 51px,#0fa 0 54px,#0f8 0 58px,#00b 0 64px,#0f9 0 69px,#0fc 0 72px,#00b 0 74px,#0fe 0 76px,#00c 0 79px,#00b 0 80px,#0fb 0 83px,#0f9 0 86px,#00e 0 90px,#01f 0 93px,#00c 0 99px,#00d 0 100px,#00e 0 102px,#00d 0 131px,#04f 0 134px,#00d 0 136px,#00e 0 142px,#00d 0 148px,#0f7 0 155px,#0f9 0 161px,#0f5 0 164px,#01f 0 172px,#0f8 0 178px,#00e 0 182px,#02f 0 183px,#00e 0 189px,#01f 0 197px,#05f 0 198px,#00e 0 201px,#0f6 0 205px,#0f7 0 210px,#0f6 0 216px,#01f 0 217px,#02f 0 218px,#01f 0 224px,#0f7 0 232px,#0fa 0 245px,#02f 0 252px,#0f6 0 254px,#fff 0 260px,#0fd 0 265px,#0fc 0 270px,#0ff 0 275px,#0fb 0 280px,#0fa 0 290px,#0fb 0 295px,#0fa 0 305px,#0fb 0 308px,#0fa 0 310px,#0fb 0 320px,#0f7 0 325px,#0fd 0 330px,#0f4 0 331px,#0f3 0 335px,#0f1 0 345px,#0fa 0 348px,#0f9 0 350px,#0f4 0 351px,#0f3 0)"></i><i style="background:linear-gradient(#0f2 1px,#0f1 0 2px,#0f0 0 3px,#1f0 0 4px,#2f0 0 5px,#3f0 0 8px,#0fc 0 11px,#0f7 0 13px,#0f8 0 14px,#0f3 0 15px,#0f4 0 17px,#0f3 0 18px,#0f4 0 19px,#0f5 0 20px,#03f 0 21px,#01f 0 22px,#00e 0 23px,#00d 0 24px,#00c 0 25px,#00b 0 26px,#0ef 0 27px,#0bf 0 28px,#08f 0 29px,#00d 0 30px,#00c 0 35px,#04f 0 36px,#03f 0 37px,#02f 0 38px,#00f 0 39px,#00e 0 40px,#00d 0 41px,#01f 0 42px,#00e 0 44px,#00b 0 48px,#00c 0 51px,#00b 0 65px,#00e 0 68px,#00b 0 76px,#00c 0 79px,#00b 0 86px,#00e 0 90px,#01f 0 93px,#00c 0 99px,#00d 0 100px,#00e 0 102px,#00d 0 131px,#04f 0 134px,#00d 0 136px,#00e 0 142px,#00d 0 148px,#00e 0 151px,#06f 0 152px,#00e 0 166px,#00f 0 167px,#04f 0 168px,#00f 0 169px,#04f 0 170px,#00f 0 171px,#00e 0 178px,#0fc 0 181px,#00f 0 189px,#00e 0 192px,#01f 0 195px,#00e 0 205px,#00d 0 207px,#0fa 0 213px,#0f8 0 216px,#00f 0 223px,#0f7 0 234px,#0fb 0 240px,#0f5 0 243px,#0f9 0 248px,#0fb 0 253px,#0f6 0 254px,#fff 0 260px,#0f8 0 265px,#0f7 0 275px,#0f6 0 280px,#0ff 0 285px,#0fe 0 288px,#0fd 0 295px,#0fb 0 300px,#0f5 0 310px,#0f1 0 315px,#0f5 0 320px,#0f6 0 321px,#0f5 0 325px,#0f3 0 329px,#0f2 0 335px,#5f0 0 337px,#6f0 0 340px,#0f2 0 345px,#0f6 0 350px,#0fa 0)"></i><i style="background:linear-gradient(#0f3 1px,#0f2 0 4px,#0f1 0 5px,#0f0 0 7px,#1f0 0 8px,#4f0 0 10px,#df0 0 15px,#0f1 0 16px,#0f2 0 17px,#0f7 0 18px,#0f8 0 19px,#0f9 0 20px,#0f5 0 21px,#0f6 0 22px,#0f7 0 23px,#0f4 0 24px,#0f6 0 25px,#0f7 0 26px,#0cf 0 27px,#09f 0 28px,#06f 0 29px,#0af 0 30px,#09f 0 31px,#0af 0 32px,#09f 0 35px,#0cf 0 36px,#0bf 0 37px,#0af 0 38px,#00c 0 40px,#00b 0 41px,#00c 0 43px,#00b 0 44px,#0fb 0 47px,#0fe 0 50px,#0fb 0 53px,#0f9 0 57px,#00b 0 61px,#0fd 0 65px,#0fc 0 68px,#0cf 0 71px,#00b 0 73px,#0fd 0 76px,#09f 0 79px,#00b 0 86px,#00e 0 90px,#01f 0 93px,#00c 0 99px,#00d 0 100px,#00e 0 102px,#00d 0 131px,#04f 0 134px,#00d 0 136px,#00e 0 142px,#00d 0 148px,#00e 0 151px,#03f 0 152px,#00e 0 162px,#03f 0 163px,#00e 0 176px,#0f7 0 183px,#02f 0 190px,#6f0 0 197px,#0f1 0 201px,#1f0 0 204px,#2f0 0 212px,#0fb 0 215px,#0f7 0 220px,#0f1 0 227px,#af0 0 235px,#0ef 0 238px,#0fd 0 241px,#6f0 0 248px,#3f0 0 253px,#5f0 0 254px,#fff 0 260px,#0fa 0 265px,#0df 0 270px,#0f7 0 272px,#0f6 0 275px,#0f8 0 279px,#0f7 0 280px,#0f8 0 285px,#0f7 0 292px,#0f6 0 295px,#0f3 0 305px,#0f8 0 310px,#0f5 0 315px,#0f9 0 320px,#0f7 0 324px,#0f6 0 325px,#0f7 0 330px,#0f5 0 332px,#0f4 0 335px,#1f0 0 339px,#2f0 0 340px,#0f2 0 345px,#8f0 0 348px,#9f0 0 350px,#0f2 0)"></i><i style="background:linear-gradient(#0f7 1px,#0f6 0 2px,#0f3 0 4px,#0f2 0 5px,#3f0 0 7px,#4f0 0 8px,#5f0 0 9px,#4f0 0 11px,#2f0 0 12px,#1f0 0 13px,#0f0 0 14px,#4f0 0 16px,#2f0 0 17px,#0f4 0 18px,#0f5 0 19px,#0f6 0 20px,#0f5 0 21px,#0f6 0 22px,#0f7 0 23px,#03f 0 24px,#00f 0 25px,#00e 0 26px,#0fa 0 27px,#0fc 0 28px,#0fd 0 29px,#02f 0 30px,#03f 0 31px,#04f 0 32px,#07f 0 33px,#08f 0 35px,#0fe 0 36px,#0ff 0 38px,#01f 0 39px,#00e 0 41px,#00c 0 42px,#00b 0 44px,#00d 0 45px,#00c 0 46px,#00b 0 48px,#00c 0 51px,#00b 0 65px,#00e 0 68px,#00b 0 76px,#00c 0 79px,#00b 0 86px,#00e 0 90px,#01f 0 93px,#00c 0 99px,#00d 0 100px,#00e 0 102px,#00d 0 131px,#04f 0 134px,#00d 0 136px,#00e 0 142px,#00d 0 148px,#00e 0 186px,#0f4 0 194px,#0f0 0 199px,#2f0 0 204px,#0f9 0 208px,#0f2 0 211px,#0f0 0 215px,#0f2 0 223px,#0f1 0 230px,#0f3 0 235px,#0f5 0 238px,#0f8 0 241px,#2f0 0 247px,#0f4 0 253px,#0f5 0 254px,#fff 0 260px,#fe0 0 265px,#ff0 0 270px,#af0 0 272px,#df0 0 277px,#0f9 0 279px,#0f8 0 280px,#0f6 0 285px,#df0 0 290px,#ff0 0 296px,#fc0 0 302px,#0f5 0 305px,#0f9 0 309px,#7f0 0 315px,#fd0 0 320px,#df0 0 326px,#5f0 0 328px,#9f0 0 334px,#fb0 0 339px,#ef0 0 342px,#9f0 0)"></i><i style="background:linear-gradient(#0f7 1px,#0f6 0 2px,#6f0 0 4px,#5f0 0 5px,#0f3 0 8px,#5f0 0 11px,#0f2 0 13px,#0f3 0 14px,#0f7 0 15px,#0f8 0 16px,#0f9 0 17px,#0f6 0 18px,#0f8 0 19px,#0f9 0 20px,#09f 0 21px,#06f 0 22px,#03f 0 23px,#0f5 0 24px,#0f6 0 25px,#0f7 0 26px,#0f5 0 27px,#0f6 0 28px,#0f8 0 29px,#0f9 0 30px,#0f8 0 32px,#00d 0 35px,#0fd 0 37px,#0fe 0 38px,#00e 0 39px,#00d 0 40px,#00c 0 41px,#05f 0 42px,#02f 0 43px,#00f 0 44px,#00b 0 47px,#00e 0 50px,#00c 0 51px,#00b 0 65px,#00e 0 68px,#00b 0 76px,#00c 0 79px,#00b 0 86px,#00e 0 90px,#01f 0 93px,#00c 0 99px,#00d 0 100px,#00e 0 102px,#00d 0 131px,#04f 0 134px,#00d 0 136px,#00e 0 142px,#00d 0 148px,#00e 0 200px,#0fb 0 206px,#0f9 0 217px,#0fb 0 222px,#0fe 0 227px,#0fc 0 234px,#0fd 0 240px,#0f5 0 248px,#0f9 0 254px,#fff 0 260px,#0fd 0 265px,#0f5 0 270px,#0f7 0 275px,#0f9 0 280px,#0f7 0 281px,#0f6 0 285px,#0f4 0 288px,#0f3 0 289px,#6f0 0 292px,#2f0 0 295px,#6f0 0 299px,#ff0 0 303px,#af0 0 309px,#fe0 0 314px,#4f0 0 319px,#ff0 0 323px,#5f0 0 326px,#7f0 0 331px,#ff0 0 334px,#bf0 0 338px,#8f0 0 342px,#2f0 0 345px,#fe0 0 349px,#0f0 0 352px,#af0 0)"></i><i style="background:linear-gradient(#1f0 1px,#2f0 0 2px,#0f4 0 3px,#0f3 0 4px,#0f2 0 5px,#0f1 0 7px,#0f0 0 8px,#0f3 0 11px,#0f0 0 13px,#0f1 0 14px,#0f6 0 15px,#0f7 0 16px,#0f8 0 17px,#0fa 0 18px,#0fb 0 19px,#0fc 0 20px,#0f8 0 21px,#0f9 0 22px,#0fb 0 23px,#0ef 0 24px,#0af 0 25px,#07f 0 26px,#0fd 0 27px,#0fe 0 28px,#0ef 0 29px,#00b 0 30px,#00c 0 32px,#0fc 0 35px,#0fd 0 37px,#0fe 0 38px,#0af 0 39px,#08f 0 40px,#05f 0 41px,#00b 0 43px,#0ff 0 47px,#0f5 0 51px,#0fb 0 54px,#00b 0 57px,#0f9 0 62px,#00b 0 65px,#0fa 0 68px,#0f7 0 72px,#0ef 0 75px,#0fb 0 79px,#00b 0 83px,#0fe 0 86px,#00e 0 90px,#01f 0 93px,#00c 0 99px,#00d 0 100px,#00e 0 102px,#00d 0 131px,#04f 0 134px,#00d 0 136px,#00e 0 142px,#00d 0 148px,#00e 0 205px,#00d 0 207px,#00f 0 208px,#00e 0 212px,#00d 0 217px,#00e 0 223px,#0fc 0 228px,#0f8 0 235px,#0f9 0 240px,#0fb 0 245px,#0f9 0 252px,#0fc 0 254px,#fff 0 260px,#0f7 0 265px,#0fb 0 270px,#0f9 0 272px,#0f8 0 275px,#0fa 0 280px,#0f5 0 285px,#0f8 0 289px,#0f7 0 290px,#0f9 0 295px,#0f3 0 300px,#0f8 0 303px,#0f7 0 305px,#0f5 0 310px,#0f1 0 315px,#0f6 0 320px,#0f1 0 324px,#f80 0 326px,#f90 0 329px,#0f2 0 330px,#0f1 0 331px,#fc0 0 334px,#0f1 0 335px,#0f4 0 336px,#0f3 0 340px,#0f1 0 342px,#0f0 0 345px,#0f5 0 350px,#7f0 0 351px,#ff0 0)"></i><i style="background:linear-gradient(#0f5 2px,#df0 0 7px,#0f5 0 8px,#0f2 0 11px,#5f0 0 14px,#0f5 0 15px,#0f6 0 16px,#0f7 0 17px,#0f4 0 18px,#0f5 0 19px,#0f6 0 20px,#0fe 0 21px,#0ef 0 22px,#0bf 0 23px,#0fa 0 24px,#0fb 0 25px,#0fc 0 26px,#0fb 0 27px,#0fc 0 28px,#0fe 0 29px,#0fb 0 30px,#0fa 0 31px,#0f9 0 32px,#0f8 0 35px,#00c 0 37px,#00b 0 38px,#0ff 0 39px,#0ef 0 40px,#0bf 0 41px,#0f7 0 42px,#0f9 0 43px,#0fa 0 44px,#0ff 0 45px,#0df 0 46px,#0bf 0 47px,#00e 0 49px,#00d 0 50px,#00c 0 51px,#00b 0 65px,#00e 0 68px,#00b 0 76px,#00c 0 79px,#00b 0 86px,#00e 0 90px,#01f 0 93px,#00c 0 99px,#00d 0 100px,#00e 0 102px,#00d 0 131px,#04f 0 134px,#00d 0 136px,#00e 0 142px,#00d 0 148px,#00e 0 171px,#03f 0 172px,#00e 0 199px,#02f 0 200px,#00e 0 205px,#00d 0 208px,#00e 0 212px,#00d 0 217px,#00e 0 222px,#0f9 0 227px,#01f 0 230px,#0fb 0 234px,#0ef 0 240px,#0fe 0 243px,#0fb 0 249px,#0fe 0 254px,#fff 0 260px,#0fd 0 265px,#0fe 0 270px,#0fc 0 275px,#0f6 0 280px,#0fc 0 285px,#0fa 0 289px,#0f9 0 290px,#0f8 0 294px,#0f7 0 295px,#0f3 0 297px,#0f2 0 300px,#0f7 0 305px,#5f0 0 308px,#6f0 0 310px,#0f9 0 315px,#0f3 0 316px,#0f2 0 320px,#0f4 0 322px,#0f3 0 325px,#0f4 0 330px,#0f3 0 331px,#0f2 0 335px,#4f0 0 339px,#5f0 0 340px,#2f0 0 344px,#3f0 0 347px,#4f0 0 350px,#0f1 0)"></i><i style="background:linear-gradient(#7f0 1px,#6f0 0 2px,#0f1 0 3px,#0f0 0 4px,#1f0 0 5px,#0f0 0 6px,#1f0 0 8px,#6f0 0 10px,#5f0 0 11px,#0f8 0 12px,#0f9 0 14px,#0f6 0 15px,#0f7 0 16px,#0f8 0 17px,#0f4 0 18px,#0f5 0 19px,#0f6 0 20px,#0f4 0 21px,#0f6 0 22px,#0f7 0 23px,#0f2 0 24px,#0f3 0 25px,#0f5 0 26px,#0f6 0 27px,#0f7 0 28px,#0f8 0 29px,#0fc 0 30px,#0fb 0 32px,#0af 0 35px,#00f 0 36px,#00e 0 38px,#0fd 0 39px,#0ff 0 40px,#0df 0 41px,#00b 0 48px,#00c 0 51px,#00b 0 65px,#00e 0 68px,#00b 0 76px,#00c 0 79px,#00b 0 86px,#00e 0 90px,#01f 0 93px,#00c 0 99px,#00d 0 100px,#00e 0 102px,#00d 0 131px,#04f 0 134px,#00d 0 136px,#00e 0 142px,#00d 0 148px,#00e 0 162px,#03f 0 163px,#00e 0 205px,#00d 0 208px,#00e 0 212px,#00d 0 217px,#01f 0 218px,#02f 0 219px,#00e 0 223px,#00d 0 228px,#00e 0 234px,#04f 0 235px,#00e 0 238px,#0fb 0 245px,#0fc 0 252px,#0f9 0 254px,#fff 0 260px,#0fa 0 265px,#0f7 0 267px,#0f6 0 270px,#0f9 0 272px,#0f8 0 275px,#0f3 0 280px,#0fb 0 285px,#0f2 0 290px,#0f6 0 295px,#0f5 0 300px,#0f8 0 303px,#0f7 0 305px,#0f3 0 309px,#0f2 0 310px,#0f7 0 315px,#0f4 0 320px,#0f5 0 325px,#0f2 0 330px,#0f6 0 331px,#0f5 0 335px,#0f4 0 339px,#0f3 0 340px,#0f0 0 341px,#1f0 0 345px,#ff0 0 350px,#0f4 0)"></i><i style="background:linear-gradient(#1f0 1px,#2f0 0 2px,#6f0 0 5px,#1f0 0 8px,#6f0 0 10px,#5f0 0 11px,#4f0 0 12px,#3f0 0 13px,#2f0 0 14px,#5f0 0 15px,#4f0 0 16px,#2f0 0 17px,#0f5 0 18px,#0f6 0 19px,#0f7 0 20px,#df0 0 25px,#0f8 0 27px,#0f9 0 28px,#0fb 0 29px,#09f 0 30px,#0bf 0 31px,#0df 0 32px,#08f 0 33px,#09f 0 35px,#0f9 0 37px,#0fa 0 38px,#0ef 0 39px,#0cf 0 40px,#09f 0 41px,#01f 0 42px,#00e 0 43px,#00d 0 45px,#00c 0 46px,#0ef 0 48px,#0fb 0 51px,#08f 0 54px,#0f8 0 58px,#0ff 0 62px,#0fd 0 66px,#00e 0 68px,#00b 0 70px,#0fc 0 73px,#00b 0 76px,#00c 0 79px,#00b 0 86px,#00e 0 90px,#01f 0 93px,#00c 0 99px,#00d 0 100px,#00e 0 106px,#00d 0 122px,#00e 0 125px,#00d 0 131px,#05f 0 132px,#04f 0 134px,#00d 0 136px,#00e 0 142px,#00d 0 148px,#00e 0 205px,#00d 0 208px,#00e 0 212px,#00d 0 217px,#00e 0 223px,#00d 0 228px,#00e 0 239px,#06f 0 243px,#0fa 0 248px,#06f 0 253px,#01f 0 254px,#fff 0 260px,#0f4 0 265px,#0f5 0 270px,#0f9 0 275px,#0fc 0 277px,#0fb 0 280px,#0f8 0 290px,#0f3 0 291px,#0f2 0 295px,#0f4 0 300px,#0f3 0 305px,#0f7 0 310px,#0f0 0 315px,#0f7 0 317px,#0f6 0 320px,#0f7 0 325px,#0f2 0 330px,#5f0 0 335px,#2f0 0 336px,#3f0 0 340px,#7f0 0 344px,#8f0 0 345px,#1f0 0 350px,#0f4 0)"></i><i style="background:linear-gradient(#0f7 1px,#0f6 0 2px,#6f0 0 5px,#0f4 0 6px,#0f3 0 8px,#6f0 0 9px,#5f0 0 11px,#1f0 0 12px,#0f0 0 13px,#0f1 0 14px,#5f0 0 15px,#4f0 0 16px,#2f0 0 17px,#0f5 0 18px,#0f6 0 19px,#0f7 0 20px,#0f4 0 21px,#0f6 0 22px,#0f7 0 23px,#0f6 0 24px,#0f7 0 25px,#0f9 0 26px,#0fb 0 27px,#0fd 0 28px,#0fe 0 29px,#0ff 0 30px,#0fe 0 31px,#0fd 0 32px,#0fe 0 33px,#0fd 0 35px,#08f 0 36px,#07f 0 37px,#05f 0 38px,#0ff 0 39px,#0df 0 40px,#0bf 0 41px,#0fd 0 42px,#0fe 0 43px,#0ef 0 44px,#00c 0 45px,#00b 0 47px,#04f 0 48px,#03f 0 49px,#02f 0 50px,#00c 0 51px,#00b 0 65px,#00e 0 68px,#00b 0 76px,#00c 0 79px,#00b 0 86px,#00e 0 90px,#01f 0 93px,#00c 0 99px,#00d 0 100px,#00e 0 106px,#00d 0 124px,#00e 0 127px,#00d 0 131px,#05f 0 133px,#04f 0 134px,#00d 0 136px,#00e 0 142px,#00d 0 148px,#00e 0 191px,#02f 0 192px,#00e 0 205px,#00d 0 208px,#00e 0 212px,#00d 0 217px,#02f 0 218px,#00e 0 223px,#00d 0 228px,#00e 0 238px,#08f 0 246px,#0cf 0 254px,#fff 0 260px,#0fa 0 262px,#0f9 0 265px,#0f7 0 270px,#0fd 0 275px,#0f9 0 285px,#0ff 0 290px,#0fa 0 295px,#0f8 0 300px,#0f4 0 305px,#0f5 0 310px,#0f1 0 315px,#0f8 0 320px,#0f4 0 324px,#0f3 0 325px,#1f0 0 330px,#0f3 0 334px,#0f2 0 335px,#0f6 0 340px,#0f0 0 342px,#1f0 0 345px,#0f5 0 350px,#0f2 0)"></i><i style="background:linear-gradient(#5f0 1px,#6f0 0 2px,#07f 0 3px,#09f 0 4px,#0af 0 5px,#0f6 0 8px,#df0 0 13px,#0fd 0 14px,#0f0 0 15px,#0f1 0 16px,#0f2 0 17px,#0fa 0 18px,#0fc 0 19px,#0fd 0 20px,#0f2 0 21px,#0f3 0 22px,#0f5 0 23px,#0fd 0 24px,#0ff 0 25px,#0cf 0 26px,#00b 0 29px,#0ff 0 30px,#0fe 0 31px,#0fd 0 32px,#0fc 0 35px,#00f 0 37px,#00e 0 38px,#07f 0 39px,#05f 0 40px,#02f 0 41px,#00e 0 42px,#0f4 0 45px,#0fb 0 47px,#00b 0 48px,#00c 0 50px,#0fb 0 54px,#00b 0 65px,#0fb 0 67px,#00e 0 68px,#00b 0 70px,#0f7 0 72px,#0fa 0 76px,#0f8 0 78px,#0fa 0 81px,#00b 0 84px,#0f6 0 86px,#00e 0 90px,#01f 0 93px,#00c 0 99px,#00d 0 100px,#00e 0 128px,#00d 0 131px,#04f 0 132px,#05f 0 133px,#04f 0 134px,#00d 0 136px,#00e 0 142px,#00d 0 148px,#00e 0 171px,#02f 0 172px,#00e 0 174px,#04f 0 175px,#00e 0 205px,#00d 0 208px,#00e 0 212px,#00d 0 216px,#05f 0 217px,#00e 0 219px,#09f 0 225px,#00d 0 228px,#00e 0 237px,#0ef 0 242px,#00e 0 248px,#05f 0 254px,#fff 0 260px,#0f9 0 265px,#0f7 0 270px,#0fc 0 280px,#4f0 0 281px,#5f0 0 285px,#0f7 0 290px,#0f8 0 295px,#0fc 0 299px,#0fb 0 300px,#0f7 0 304px,#0f6 0 305px,#0f1 0 307px,#0f0 0 310px,#0f5 0 313px,#0f4 0 315px,#0f6 0 320px,#6f0 0 324px,#7f0 0 325px,#0f7 0 330px,#4f0 0 335px,#2f0 0 340px,#0f4 0 342px,#0f3 0 345px,#8f0 0 350px,#0f1 0)"></i><i style="background:linear-gradient(#6f0 5px,#5f0 0 11px,#0f4 0 12px,#0f5 0 14px,#0fe 0 15px,#0ff 0 16px,#0ef 0 17px,#0f3 0 18px,#0f4 0 19px,#0f5 0 20px,#00c 0 21px,#00b 0 23px,#0fb 0 24px,#0fd 0 25px,#0fe 0 27px,#0ff 0 28px,#0cf 0 29px,#04f 0 30px,#07f 0 31px,#08f 0 32px,#0cf 0 33px,#0df 0 35px,#0fe 0 36px,#0ff 0 37px,#0ef 0 38px,#06f 0 39px,#03f 0 40px,#01f 0 41px,#00d 0 42px,#00c 0 43px,#00b 0 44px,#00d 0 45px,#00c 0 46px,#00b 0 47px,#00e 0 49px,#00d 0 50px,#00c 0 51px,#00b 0 65px,#00e 0 68px,#00b 0 76px,#00c 0 79px,#00b 0 86px,#00e 0 90px,#01f 0 93px,#00c 0 99px,#00d 0 100px,#00e 0 108px,#00d 0 112px,#00e 0 116px,#00f 0 118px,#00e 0 128px,#00d 0 131px,#05f 0 134px,#00d 0 136px,#00e 0 142px,#00d 0 148px,#00e 0 169px,#05f 0 170px,#00e 0 188px,#06f 0 189px,#00e 0 199px,#00f 0 200px,#00e 0 205px,#00d 0 206px,#00f 0 207px,#00d 0 208px,#00e 0 212px,#00d 0 215px,#0bf 0 222px,#0fb 0 230px,#0fe 0 237px,#0cf 0 245px,#0fd 0 250px,#0fe 0 253px,#0fd 0 254px,#fff 0 260px,#0f6 0 264px,#0f5 0 269px,#0f3 0 272px,#0f5 0 275px,#0f9 0 279px,#0fc 0 280px,#0fa 0 284px,#0f0 0 288px,#0f5 0 294px,#0f1 0 296px,#5f0 0 297px,#6f0 0 300px,#2f0 0 303px,#0f5 0 306px,#0f1 0 309px,#0f0 0 311px,#0f4 0 316px,#0f5 0 322px,#0f1 0 325px,#6f0 0 327px,#0f7 0 331px,#0f0 0 337px,#0f3 0 340px,#0f0 0 341px,#0f2 0 344px,#0f0 0 345px,#0f3 0 348px,#0f8 0 352px,#0f2 0)"></i><i style="background:linear-gradient(#0f1 1px,#0f0 0 2px,#0fb 0 3px,#0fa 0 4px,#0f9 0 5px,#5f0 0 9px,#4f0 0 11px,#0f8 0 12px,#0f9 0 14px,#df0 0 19px,#0fe 0 20px,#0f7 0 21px,#0f8 0 22px,#0f9 0 23px,#07f 0 24px,#04f 0 25px,#02f 0 26px,#00e 0 27px,#00d 0 28px,#00c 0 29px,#0fd 0 30px,#0fc 0 31px,#0fb 0 32px,#0fd 0 35px,#0cf 0 36px,#0bf 0 37px,#09f 0 38px,#0fd 0 39px,#0fe 0 40px,#0ff 0 41px,#03f 0 42px,#01f 0 43px,#00e 0 44px,#00b 0 48px,#0f7 0 50px,#0fc 0 55px,#0fd 0 57px,#0fe 0 60px,#00b 0 65px,#00e 0 66px,#0fd 0 69px,#0cf 0 73px,#0f6 0 75px,#0fd 0 77px,#0fb 0 81px,#0fa 0 84px,#0f8 0 86px,#00e 0 90px,#01f 0 93px,#00c 0 99px,#00d 0 100px,#00e 0 116px,#00f 0 120px,#00e 0 122px,#00f 0 124px,#00d 0 128px,#00e 0 131px,#07f 0 132px,#05f 0 134px,#00e 0 135px,#00d 0 136px,#00e 0 142px,#00d 0 148px,#00e 0 167px,#03f 0 168px,#00e 0 197px,#01f 0 198px,#00e 0 205px,#00d 0 208px,#00e 0 211px,#0fd 0 220px,#02f 0 224px,#0bf 0 230px,#08f 0 237px,#0fc 0 241px,#0df 0 245px,#0fd 0 250px,#0fc 0 254px,#fff 0 260px,#0f7 0 265px,#0f1 0 270px,#0fc 0 275px,#0f9 0 276px,#0f8 0 280px,#0fc 0 285px,#0f9 0 290px,#0fb 0 297px,#0fa 0 300px,#0f7 0 301px,#0f6 0 306px,#0f5 0 310px,#0f9 0 315px,#1f0 0 320px,#0fb 0 325px,#0fa 0 327px,#0f9 0 330px,#0f7 0 332px,#0f6 0 335px,#0f7 0 336px,#0f6 0 340px,#0f0 0 345px,#0f3 0 346px,#0f2 0 350px,#0f6 0)"></i><i style="background:linear-gradient(#0f2 2px,#0f8 0 3px,#0f7 0 5px,#0f0 0 6px,#1f0 0 8px,#0fa 0 11px,#4f0 0 13px,#3f0 0 17px,#0f5 0 18px,#0f6 0 19px,#0f7 0 20px,#2f0 0 22px,#0f0 0 23px,#02f 0 24px,#00f 0 25px,#00e 0 26px,#0f7 0 27px,#0f9 0 28px,#0fa 0 29px,#0f7 0 31px,#0f6 0 32px,#0fd 0 35px,#09f 0 36px,#08f 0 37px,#07f 0 38px,#00c 0 39px,#00b 0 41px,#0fe 0 42px,#0ef 0 43px,#0cf 0 44px,#01f 0 45px,#00e 0 47px,#00b 0 48px,#00c 0 51px,#00b 0 65px,#00e 0 68px,#00b 0 76px,#00c 0 79px,#00b 0 86px,#00e 0 90px,#01f 0 93px,#00c 0 98px,#00d 0 99px,#00e 0 108px,#00d 0 112px,#00e 0 116px,#00f 0 120px,#00d 0 131px,#05f 0 132px,#06f 0 133px,#05f 0 134px,#00e 0 142px,#00d 0 148px,#00e 0 198px,#01f 0 199px,#00e 0 200px,#0fe 0 206px,#09f 0 209px,#0ef 0 215px,#0bf 0 222px,#0ff 0 226px,#0cf 0 233px,#0ff 0 240px,#0af 0 243px,#0cf 0 250px,#0fd 0 253px,#09f 0 254px,#fff 0 260px,#0fe 0 275px,#0fc 0 280px,#0fe 0 285px,#0fc 0 290px,#0fd 0 310px,#0fc 0 320px,#0bf 0 321px,#0cf 0 325px,#0f9 0 329px,#0f5 0 330px,#0f9 0 345px,#0f8 0 350px,#0fd 0 352px,#0fc 0)"></i><i style="background:linear-gradient(#0f3 1px,#0f2 0 2px,#0fa 0 3px,#0f9 0 4px,#df0 0 9px,#0f2 0 12px,#0f3 0 14px,#0f7 0 16px,#0f8 0 17px,#0f2 0 18px,#0f3 0 19px,#0f4 0 20px,#0fa 0 21px,#0fb 0 22px,#0fc 0 23px,#0ef 0 24px,#0bf 0 25px,#09f 0 26px,#0fb 0 27px,#0fc 0 28px,#0fd 0 29px,#07f 0 30px,#09f 0 31px,#0af 0 32px,#00f 0 33px,#01f 0 35px,#0fd 0 36px,#0fe 0 38px,#04f 0 39px,#02f 0 40px,#00f 0 42px,#00e 0 43px,#0fd 0 46px,#0f5 0 49px,#00c 0 50px,#00e 0 51px,#00b 0 52px,#0fb 0 55px,#00b 0 57px,#0f7 0 59px,#0fc 0 62px,#0f8 0 66px,#00e 0 68px,#0fc 0 70px,#00b 0 75px,#0fa 0 78px,#0fe 0 80px,#0f8 0 84px,#00b 0 86px,#00e 0 90px,#01f 0 93px,#00c 0 98px,#00d 0 99px,#00e 0 122px,#00f 0 124px,#00e 0 131px,#07f 0 132px,#06f 0 133px,#05f 0 134px,#00e 0 135px,#00d 0 136px,#00e 0 142px,#00d 0 148px,#00e 0 155px,#00f 0 156px,#00e 0 182px,#09f 0 190px,#00e 0 197px,#04f 0 209px,#07f 0 213px,#02f 0 220px,#0bf 0 223px,#00f 0 227px,#02f 0 228px,#00f 0 230px,#0fe 0 234px,#02f 0 235px,#00f 0 238px,#06f 0 243px,#03f 0 248px,#04f 0 254px,#fff 0 260px,#0fe 0 265px,#0fd 0 270px,#0fc 0 275px,#0fd 0 285px,#0fc 0 290px,#0fd 0 295px,#0fe 0 300px,#0ff 0 307px,#0fe 0 310px,#0fb 0 315px,#0f9 0 320px,#0fc 0 325px,#0fd 0 330px,#0cf 0 332px,#0df 0 335px,#0fd 0 340px,#0f7 0 345px,#0df 0 350px,#0fb 0)"></i><i style="background:linear-gradient(#0f6 1px,#0f5 0 2px,#0f2 0 8px,#0f9 0 11px,#0f2 0 13px,#0f3 0 14px,#0af 0 15px,#09f 0 16px,#07f 0 17px,#0f9 0 18px,#0fa 0 19px,#0fb 0 20px,#0fc 0 21px,#0fd 0 22px,#0fe 0 23px,#0f7 0 24px,#0f8 0 25px,#0f9 0 26px,#07f 0 27px,#05f 0 28px,#02f 0 29px,#04f 0 30px,#06f 0 31px,#07f 0 32px,#01f 0 35px,#00f 0 36px,#00e 0 38px,#00b 0 41px,#07f 0 42px,#05f 0 43px,#03f 0 44px,#00b 0 47px,#00d 0 50px,#00c 0 51px,#00b 0 65px,#00e 0 68px,#00b 0 76px,#00c 0 79px,#00b 0 86px,#00e 0 90px,#01f 0 93px,#00c 0 98px,#00d 0 99px,#00e 0 108px,#00d 0 112px,#00e 0 116px,#00d 0 122px,#00e 0 131px,#07f 0 132px,#04f 0 134px,#00d 0 136px,#00e 0 142px,#00d 0 148px,#00e 0 177px,#0df 0 189px,#0ff 0 197px,#02f 0 204px,#00e 0 205px,#00d 0 208px,#00e 0 212px,#0fe 0 220px,#0fc 0 228px,#0fa 0 235px,#0fc 0 238px,#0f9 0 245px,#0fe 0 254px,#fff 0 260px,#0fd 0 265px,#0fc 0 270px,#0cf 0 275px,#0fd 0 285px,#0fe 0 290px,#0fb 0 295px,#0fe 0 297px,#0fd 0 300px,#0ff 0 305px,#0df 0 308px,#0ef 0 310px,#0fb 0 315px,#0fc 0 320px,#0fd 0 325px,#0fc 0 330px,#0fd 0 335px,#0f8 0 340px,#0fe 0 350px,#0fd 0 351px,#0fc 0)"></i><i style="background:linear-gradient(#0f8 1px,#0f7 0 2px,#0f9 0 4px,#0f8 0 5px,#0fc 0 7px,#0fb 0 8px,#0f4 0 11px,#0f7 0 14px,#0f3 0 16px,#0f4 0 17px,#0fd 0 18px,#0fe 0 19px,#0ff 0 20px,#0fd 0 21px,#0fe 0 22px,#0ff 0 23px,#04f 0 24px,#02f 0 25px,#00f 0 26px,#00b 0 29px,#06f 0 30px,#07f 0 31px,#08f 0 32px,#00c 0 35px,#00d 0 36px,#00e 0 37px,#00d 0 38px,#02f 0 39px,#00f 0 40px,#00e 0 41px,#05f 0 42px,#02f 0 43px,#00f 0 44px,#00b 0 46px,#0df 0 50px,#0fc 0 54px,#0f9 0 58px,#0fd 0 62px,#0fb 0 65px,#0fd 0 76px,#00c 0 79px,#00b 0 80px,#0fb 0 82px,#00b 0 86px,#00e 0 90px,#01f 0 93px,#00c 0 99px,#00d 0 100px,#00e 0 110px,#00f 0 112px,#00e 0 116px,#00f 0 122px,#01f 0 124px,#00e 0 130px,#00d 0 131px,#06f 0 134px,#00e 0 142px,#00d 0 148px,#00e 0 164px,#01f 0 165px,#00e 0 175px,#0f9 0 182px,#0fe 0 187px,#00e 0 193px,#0fb 0 197px,#00e 0 203px,#0fd 0 208px,#0bf 0 216px,#00d 0 217px,#00e 0 219px,#07f 0 220px,#0fa 0 227px,#00d 0 228px,#00e 0 232px,#0fd 0 244px,#00e 0 247px,#0fa 0 254px,#fff 0 260px,#0f2 0 262px,#0f3 0 267px,#0f0 0 273px,#0fd 0 275px,#0fc 0 278px,#0fa 0 281px,#0f2 0 286px,#0fa 0 291px,#0f5 0 294px,#0f2 0 298px,#0f1 0 301px,#0fd 0 309px,#1f0 0 313px,#0f6 0 319px,#0fa 0 320px,#0fd 0 321px,#0f7 0 325px,#0ff 0 329px,#09f 0 330px,#0fc 0 331px,#0f6 0 341px,#0f7 0 345px,#0f2 0 349px,#0f8 0)"></i><i style="background:linear-gradient(#0f8 2px,#0f3 0 4px,#0f2 0 5px,#0fb 0 8px,#0f8 0 11px,#00e 0 12px,#00d 0 14px,#0fa 0 16px,#0fb 0 17px,#0fc 0 18px,#0fd 0 19px,#0fe 0 20px,#00e 0 21px,#00d 0 22px,#00c 0 24px,#00b 0 26px,#00c 0 28px,#00b 0 29px,#04f 0 30px,#02f 0 31px,#03f 0 32px,#08f 0 33px,#0af 0 34px,#0cf 0 35px,#0bf 0 38px,#00b 0 41px,#07f 0 42px,#04f 0 43px,#01f 0 44px,#09f 0 45px,#07f 0 46px,#05f 0 47px,#00b 0 48px,#00c 0 56px,#00b 0 65px,#00e 0 68px,#00b 0 76px,#00c 0 80px,#00b 0 86px,#00e 0 90px,#01f 0 93px,#00c 0 99px,#00d 0 100px,#00e 0 102px,#00d 0 104px,#00e 0 112px,#00f 0 116px,#00e 0 120px,#00d 0 124px,#00f 0 128px,#00e 0 131px,#07f 0 132px,#06f 0 134px,#00e 0 142px,#00d 0 148px,#00e 0 152px,#02f 0 153px,#00e 0 166px,#0ff 0 170px,#0fe 0 174px,#09f 0 180px,#0fd 0 186px,#0ff 0 192px,#0fa 0 199px,#0cf 0 206px,#0f9 0 212px,#0fd 0 217px,#05f 0 222px,#0fe 0 226px,#0af 0 234px,#0fc 0 241px,#0bf 0 246px,#0fc 0 252px,#0ef 0 254px,#fff 0 260px,#0fd 0 265px,#0fe 0 270px,#0fc 0 275px,#0df 0 280px,#0ef 0 285px,#08f 0 290px,#0ff 0 295px,#0fc 0 300px,#0ef 0 305px,#0fe 0 310px,#0fd 0 320px,#0ff 0 325px,#0fd 0 329px,#0fe 0 330px,#04f 0 335px,#0af 0 340px,#09f 0 345px,#0fe 0 350px,#0fc 0)"></i><i style="background:linear-gradient(#0fd 1px,#0fc 0 2px,#0fa 0 4px,#0f9 0 5px,#0af 0 8px,#0fd 0 11px,#0fc 0 14px,#04f 0 15px,#03f 0 16px,#01f 0 17px,#0fe 0 18px,#0ff 0 19px,#0ef 0 20px,#00b 0 23px,#0fd 0 25px,#0fe 0 26px,#00d 0 27px,#00c 0 28px,#00b 0 29px,#00d 0 30px,#00c 0 31px,#00b 0 33px,#00c 0 35px,#00d 0 38px,#04f 0 39px,#02f 0 40px,#00f 0 41px,#00c 0 44px,#00f 0 45px,#00e 0 46px,#00d 0 47px,#00c 0 48px,#06f 0 50px,#0cf 0 53px,#0ff 0 57px,#0ef 0 61px,#08f 0 65px,#00e 0 68px,#00c 0 72px,#00b 0 76px,#00d 0 77px,#00c 0 84px,#00b 0 86px,#00e 0 90px,#01f 0 93px,#00c 0 99px,#00d 0 100px,#00e 0 102px,#00d 0 104px,#00e 0 106px,#00d 0 108px,#00e 0 116px,#00f 0 120px,#00e 0 122px,#00f 0 124px,#00e 0 131px,#07f 0 132px,#06f 0 134px,#00e 0 142px,#00d 0 148px,#00e 0 165px,#01f 0 166px,#00e 0 171px,#0fd 0 177px,#0fc 0 183px,#03f 0 186px,#0ff 0 189px,#0fc 0 197px,#00f 0 205px,#0fd 0 212px,#07f 0 219px,#0fa 0 226px,#0ff 0 234px,#0fe 0 238px,#00f 0 246px,#0fe 0 250px,#0cf 0 254px,#fff 0 260px,#0fa 0 265px,#0fc 0 270px,#0f9 0 275px,#0fc 0 280px,#0fd 0 285px,#0fc 0 287px,#0fb 0 290px,#0fe 0 292px,#0fd 0 295px,#0fc 0 300px,#0fb 0 305px,#0fc 0 315px,#0fa 0 320px,#0df 0 324px,#0ef 0 325px,#0fb 0 329px,#0fa 0 330px,#0df 0 334px,#0ef 0 335px,#0cf 0 337px,#0df 0 340px,#0fc 0 348px,#0fb 0 350px,#0f9 0)"></i><i style="background:linear-gradient(#0fc 1px,#0fb 0 3px,#0fa 0 5px,#0f8 0 7px,#0f7 0 8px,#0f6 0 11px,#0f3 0 14px,#07f 0 15px,#06f 0 16px,#05f 0 17px,#0fd 0 19px,#0fe 0 20px,#0f5 0 21px,#0f6 0 22px,#0f7 0 23px,#0fe 0 24px,#0ff 0 25px,#0df 0 26px,#00c 0 27px,#00b 0 29px,#0fd 0 30px,#0fe 0 31px,#0ff 0 32px,#03f 0 33px,#05f 0 34px,#07f 0 35px,#0df 0 36px,#0ef 0 37px,#0df 0 38px,#03f 0 39px,#01f 0 40px,#00e 0 41px,#00d 0 42px,#00c 0 43px,#00b 0 44px,#00c 0 45px,#00b 0 48px,#00c 0 51px,#00b 0 52px,#00c 0 60px,#00b 0 65px,#00e 0 68px,#00c 0 72px,#00b 0 76px,#00d 0 79px,#00c 0 80px,#00b 0 84px,#00c 0 86px,#00e 0 90px,#01f 0 93px,#00c 0 99px,#00d 0 100px,#00e 0 106px,#00d 0 108px,#00e 0 109px,#00f 0 120px,#00e 0 124px,#00d 0 128px,#00e 0 131px,#07f 0 132px,#04f 0 134px,#00d 0 136px,#00e 0 142px,#00d 0 148px,#00e 0 184px,#0cf 0 190px,#04f 0 194px,#0df 0 197px,#09f 0 203px,#0af 0 206px,#01f 0 209px,#0ff 0 213px,#0fa 0 216px,#0ff 0 221px,#08f 0 227px,#00d 0 228px,#00e 0 231px,#08f 0 234px,#05f 0 240px,#02f 0 245px,#0bf 0 250px,#0fe 0 254px,#fff 0 260px,#0fb 0 265px,#0fc 0 270px,#0fe 0 275px,#0fd 0 280px,#0fc 0 285px,#0fb 0 290px,#0fc 0 295px,#0fe 0 300px,#0fd 0 305px,#0fc 0 310px,#0fe 0 315px,#0ff 0 320px,#0fe 0 325px,#0af 0 329px,#00e 0 330px,#0fa 0 335px,#0fd 0 340px,#0f5 0 345px,#0fa 0 350px,#0fc 0)"></i><i style="background:linear-gradient(#0fd 1px,#0fc 0 2px,#02f 0 3px,#03f 0 4px,#05f 0 5px,#0f1 0 7px,#0f0 0 8px,#06f 0 9px,#07f 0 11px,#0fb 0 16px,#0fc 0 17px,#0fd 0 18px,#0fe 0 20px,#0f5 0 21px,#0f6 0 22px,#0f7 0 23px,#0f8 0 25px,#0f9 0 26px,#08f 0 27px,#06f 0 28px,#04f 0 29px,#00f 0 30px,#00e 0 31px,#00d 0 32px,#00b 0 33px,#00c 0 34px,#00d 0 35px,#00b 0 36px,#00c 0 38px,#0fe 0 39px,#0ff 0 40px,#0cf 0 41px,#02f 0 42px,#00f 0 43px,#00e 0 44px,#00b 0 48px,#00d 0 52px,#00b 0 60px,#00c 0 65px,#00f 0 68px,#00c 0 72px,#00d 0 79px,#00c 0 80px,#00b 0 86px,#00e 0 90px,#01f 0 93px,#00c 0 98px,#00d 0 99px,#00e 0 108px,#00d 0 112px,#00e 0 116px,#00f 0 120px,#00d 0 124px,#00f 0 128px,#00e 0 131px,#06f 0 132px,#05f 0 134px,#00e 0 135px,#00d 0 136px,#00e 0 142px,#00d 0 148px,#00e 0 150px,#02f 0 151px,#00e 0 152px,#02f 0 153px,#00e 0 172px,#02f 0 173px,#00e 0 193px,#0fd 0 201px,#00e 0 205px,#00d 0 206px,#0fc 0 212px,#00d 0 216px,#04f 0 223px,#02f 0 230px,#03f 0 234px,#0fe 0 242px,#0fc 0 249px,#0fd 0 254px,#fff 0 260px,#0fe 0 265px,#0fc 0 270px,#0fb 0 275px,#0bf 0 280px,#0ff 0 285px,#0fd 0 286px,#0fc 0 291px,#0fb 0 295px,#0f9 0 300px,#0f7 0 305px,#0fb 0 306px,#0fa 0 310px,#0af 0 315px,#0ef 0 320px,#0f5 0 325px,#0cf 0 330px,#0fb 0 335px,#0fd 0 340px,#0fc 0 345px,#0fd 0 350px,#0f8 0)"></i><i style="background:linear-gradient(#0ef 1px,#0ff 0 2px,#0f9 0 4px,#0f8 0 5px,#0df 0 6px,#0ff 0 8px,#0f8 0 10px,#0f7 0 11px,#0f4 0 14px,#0f5 0 15px,#0f6 0 17px,#0f5 0 18px,#0f6 0 20px,#0f7 0 22px,#0f8 0 23px,#0bf 0 24px,#09f 0 25px,#07f 0 26px,#09f 0 27px,#07f 0 28px,#04f 0 29px,#0fe 0 30px,#0ff 0 31px,#0df 0 32px,#00d 0 34px,#00e 0 35px,#0af 0 37px,#09f 0 38px,#04f 0 39px,#02f 0 40px,#00f 0 41px,#09f 0 42px,#06f 0 43px,#03f 0 44px,#00d 0 48px,#00c 0 50px,#00d 0 51px,#00c 0 56px,#00b 0 64px,#00c 0 65px,#00f 0 68px,#00d 0 72px,#00c 0 76px,#00d 0 79px,#00c 0 80px,#00b 0 84px,#00c 0 86px,#00f 0 87px,#00e 0 90px,#01f 0 93px,#00d 0 94px,#00c 0 99px,#00e 0 109px,#00f 0 122px,#01f 0 124px,#00f 0 128px,#00d 0 131px,#05f 0 132px,#04f 0 134px,#00d 0 136px,#00e 0 142px,#00d 0 148px,#00e 0 161px,#02f 0 162px,#00e 0 186px,#04f 0 187px,#00e 0 193px,#0fd 0 196px,#02f 0 200px,#0fd 0 207px,#04f 0 211px,#0fe 0 219px,#0f9 0 222px,#04f 0 230px,#0fb 0 240px,#02f 0 248px,#09f 0 251px,#0fd 0 254px,#fff 0 260px,#0fc 0 265px,#0fd 0 275px,#0fb 0 280px,#0fc 0 290px,#0fd 0 295px,#0fc 0 300px,#0fb 0 305px,#0fe 0 310px,#0fc 0 315px,#0fd 0 316px,#0fc 0 320px,#0fd 0 325px,#0fa 0 330px,#0f9 0 334px,#0f6 0 335px,#0f8 0 340px,#0f7 0 345px,#0af 0 350px,#0fa 0)"></i><i style="background:linear-gradient(#0bf 1px,#0df 0 2px,#0fc 0 4px,#0fb 0 5px,#07f 0 6px,#09f 0 7px,#0af 0 8px,#0fb 0 11px,#0f8 0 14px,#0f2 0 16px,#0f3 0 17px,#0f8 0 19px,#0f9 0 20px,#0f4 0 21px,#0f5 0 22px,#0f6 0 23px,#0ef 0 24px,#0cf 0 25px,#09f 0 26px,#01f 0 27px,#00f 0 28px,#00e 0 29px,#0fd 0 30px,#0fe 0 31px,#0ff 0 32px,#00f 0 33px,#00e 0 35px,#0af 0 38px,#00f 0 39px,#00e 0 41px,#00c 0 44px,#0bf 0 45px,#09f 0 46px,#07f 0 47px,#00c 0 48px,#00e 0 51px,#00d 0 52px,#00b 0 56px,#00d 0 60px,#00b 0 64px,#00d 0 65px,#01f 0 68px,#00b 0 76px,#00d 0 80px,#00c 0 86px,#00e 0 90px,#01f 0 93px,#00c 0 99px,#00e 0 109px,#00f 0 112px,#00e 0 116px,#00f 0 120px,#00e 0 124px,#00d 0 128px,#00e 0 130px,#00d 0 131px,#06f 0 132px,#04f 0 134px,#00d 0 136px,#00e 0 142px,#00d 0 148px,#00e 0 151px,#02f 0 152px,#00e 0 168px,#01f 0 169px,#00e 0 173px,#03f 0 174px,#00e 0 205px,#00d 0 206px,#0ff 0 213px,#0fb 0 218px,#0fe 0 221px,#0f6 0 230px,#0f5 0 235px,#0fa 0 243px,#0f4 0 251px,#0f8 0 254px,#fff 0 260px,#0fe 0 265px,#0fd 0 270px,#0ff 0 275px,#0fb 0 280px,#0fd 0 285px,#0ff 0 290px,#0fd 0 300px,#0fc 0 305px,#0fb 0 310px,#0fe 0 315px,#0fd 0 320px,#0af 0 325px,#0ef 0 330px,#0fc 0 335px,#0ff 0 339px,#09f 0 340px,#05f 0 345px,#00d 0 350px,#0f8 0)"></i><i style="background:linear-gradient(#0f9 1px,#0f8 0 2px,#0fb 0 3px,#0fa 0 4px,#0f9 0 5px,#0f5 0 6px,#0f4 0 8px,#0f8 0 9px,#0f7 0 11px,#0f9 0 12px,#0f8 0 14px,#0cf 0 16px,#0bf 0 17px,#0f6 0 19px,#0f7 0 20px,#0f9 0 22px,#0fa 0 23px,#0df 0 24px,#0bf 0 25px,#09f 0 26px,#0ef 0 27px,#0cf 0 28px,#09f 0 29px,#00e 0 31px,#00d 0 32px,#0af 0 33px,#08f 0 34px,#06f 0 35px,#00c 0 38px,#00b 0 39px,#00c 0 40px,#00b 0 44px,#00c 0 48px,#00d 0 51px,#00c 0 56px,#00b 0 60px,#00c 0 65px,#01f 0 68px,#00d 0 76px,#00c 0 80px,#00b 0 84px,#00c 0 86px,#00f 0 88px,#00e 0 90px,#01f 0 93px,#00c 0 99px,#00d 0 100px,#00e 0 112px,#00d 0 116px,#00f 0 122px,#01f 0 124px,#00f 0 125px,#00e 0 131px,#07f 0 132px,#06f 0 134px,#00e 0 142px,#00d 0 148px,#00e 0 178px,#03f 0 179px,#00e 0 181px,#00f 0 188px,#bf0 0 196px,#6f0 0 202px,#cf0 0 214px,#4f0 0 217px,#bf0 0 226px,#5f0 0 233px,#6f0 0 241px,#ff0 0 245px,#9f0 0 249px,#6f0 0 252px,#2f0 0 254px,#fff 0 260px,#af0 0 265px,#ef0 0 271px,#ff0 0 273px,#af0 0 279px,#4f0 0 281px,#8f0 0 284px,#cf0 0 290px,#af0 0 295px,#df0 0 301px,#0f2 0 307px,#3f0 0 312px,#9f0 0 317px,#fe0 0 322px,#5f0 0 327px,#0fb 0 330px,#0fa 0 331px,#6f0 0 334px,#4f0 0 340px,#0f8 0 343px,#0f4 0 345px,#0fa 0 346px,#6f0 0 352px,#0fa 0)"></i><i style="background:linear-gradient(#08f 1px,#0af 0 2px,#0f9 0 3px,#0f8 0 4px,#0f7 0 5px,#0bf 0 6px,#0df 0 7px,#0ef 0 8px,#02f 0 10px,#03f 0 11px,#0cf 0 12px,#0df 0 13px,#0cf 0 14px,#0fd 0 15px,#0fe 0 17px,#0fb 0 18px,#0fc 0 20px,#0f7 0 22px,#0f8 0 23px,#03f 0 24px,#01f 0 25px,#00f 0 26px,#0fb 0 27px,#0fc 0 28px,#0fd 0 30px,#0fe 0 31px,#0ff 0 32px,#09f 0 33px,#07f 0 34px,#05f 0 35px,#00c 0 36px,#00b 0 38px,#01f 0 39px,#00f 0 40px,#00e 0 41px,#00c 0 42px,#00b 0 44px,#00c 0 45px,#00d 0 48px,#00e 0 51px,#00d 0 52px,#00b 0 56px,#00c 0 60px,#00b 0 64px,#00d 0 65px,#02f 0 68px,#00d 0 76px,#00e 0 79px,#00d 0 80px,#00c 0 84px,#00b 0 86px,#00e 0 90px,#01f 0 93px,#00c 0 99px,#00d 0 100px,#00e 0 106px,#00d 0 107px,#00e 0 108px,#00d 0 112px,#00f 0 116px,#00d 0 120px,#00f 0 124px,#00e 0 130px,#00d 0 131px,#06f 0 132px,#04f 0 134px,#00d 0 136px,#00e 0 142px,#00d 0 148px,#00e 0 157px,#02f 0 158px,#00e 0 159px,#00f 0 160px,#00e 0 178px,#4f0 0 181px,#02f 0 186px,#7f0 0 189px,#0f2 0 202px,#0f0 0 206px,#00d 0 208px,#00e 0 212px,#00d 0 214px,#0f4 0 221px,#5f0 0 229px,#0f2 0 234px,#05f 0 237px,#03f 0 238px,#0f1 0 249px,#2f0 0 254px,#fff 0 260px,#cf0 0 265px,#0f1 0 270px,#3f0 0 273px,#0f2 0 276px,#0fe 0 282px,#2f0 0 288px,#7f0 0 293px,#0fc 0 294px,#0fb 0 295px,#0ff 0 300px,#0df 0 304px,#1f0 0 306px,#0f2 0 308px,#0f1 0 314px,#5f0 0 319px,#0fb 0 320px,#0fe 0 323px,#9f0 0 327px,#7f0 0 333px,#0fb 0 337px,#0f0 0 339px,#3f0 0 345px,#6f0 0)"></i><i style="background:linear-gradient(#09f 1px,#0bf 0 2px,#0f8 0 3px,#0f7 0 4px,#0f6 0 5px,#0f5 0 7px,#0f4 0 8px,#0f2 0 11px,#0cf 0 14px,#0f7 0 15px,#0f8 0 17px,#0f6 0 18px,#0f7 0 20px,#0fa 0 21px,#0fb 0 22px,#0fc 0 23px,#0f8 0 24px,#0f9 0 25px,#0fa 0 26px,#0fc 0 27px,#0fd 0 28px,#0fe 0 30px,#0ef 0 31px,#0cf 0 32px,#00f 0 33px,#00e 0 34px,#00d 0 35px,#0fd 0 36px,#0fe 0 37px,#0ff 0 38px,#00c 0 44px,#00b 0 48px,#00c 0 51px,#00b 0 52px,#00c 0 60px,#00d 0 64px,#00b 0 65px,#00e 0 68px,#00d 0 72px,#00c 0 76px,#00d 0 79px,#00c 0 84px,#00b 0 86px,#00e 0 90px,#02f 0 91px,#01f 0 93px,#00d 0 94px,#00c 0 99px,#00d 0 100px,#00e 0 108px,#00d 0 116px,#00f 0 120px,#00d 0 122px,#00e 0 124px,#00f 0 125px,#00e 0 131px,#06f 0 132px,#05f 0 134px,#00d 0 136px,#00e 0 142px,#00d 0 148px,#00e 0 200px,#0af 0 201px,#00e 0 205px,#00d 0 208px,#00e 0 210px,#1f0 0 213px,#5f0 0 224px,#0f2 0 228px,#2f0 0 240px,#7f0 0 243px,#4f0 0 248px,#9f0 0 254px,#fff 0 260px,#0fc 0 265px,#0fe 0 270px,#0ef 0 275px,#0cf 0 280px,#0fe 0 285px,#0ef 0 290px,#0fd 0 295px,#0fe 0 300px,#0bf 0 304px,#0cf 0 305px,#0fc 0 310px,#0fe 0 315px,#0fb 0 320px,#0fd 0 325px,#0fe 0 330px,#0fd 0 331px,#0fc 0 335px,#0af 0 336px,#0bf 0 340px,#0fe 0 344px,#0fd 0 345px,#0fc 0 347px,#0fb 0 350px,#0fd 0 352px,#0fe 0)"></i><i style="background:linear-gradient(#0fd 2px,#0f8 0 3px,#0f7 0 5px,#0f6 0 6px,#0f5 0 8px,#0fc 0 9px,#0fb 0 11px,#0f8 0 19px,#0f9 0 20px,#0fc 0 22px,#0fd 0 23px,#0f9 0 24px,#0fa 0 25px,#0fb 0 26px,#08f 0 27px,#06f 0 28px,#04f 0 29px,#0fa 0 30px,#0fb 0 31px,#0fc 0 32px,#00b 0 35px,#06f 0 36px,#04f 0 37px,#02f 0 38px,#00d 0 40px,#00c 0 48px,#00d 0 51px,#00c 0 52px,#00d 0 56px,#00c 0 64px,#00b 0 65px,#00e 0 68px,#00d 0 80px,#00b 0 84px,#00c 0 86px,#00f 0 87px,#00e 0 90px,#02f 0 91px,#01f 0 93px,#00c 0 99px,#00e 0 106px,#00d 0 108px,#00e 0 124px,#00f 0 125px,#00e 0 131px,#06f 0 132px,#05f 0 134px,#00d 0 136px,#00e 0 142px,#00d 0 148px,#00e 0 205px,#00d 0 208px,#00e 0 212px,#05f 0 213px,#00d 0 217px,#00e 0 223px,#00d 0 226px,#08f 0 232px,#00f 0 239px,#04f 0 242px,#4f0 0 248px,#bf0 0 253px,#4f0 0 254px,#fff 0 260px,#0fd 0 265px,#0cf 0 270px,#0fe 0 275px,#0ff 0 280px,#0fd 0 285px,#0ff 0 288px,#0fe 0 295px,#0df 0 300px,#0cf 0 305px,#0df 0 310px,#0fc 0 325px,#0fb 0 330px,#0fd 0 340px,#0fc 0 345px,#0fd 0 350px,#0fb 0)"></i><i style="background:linear-gradient(#0fa 2px,#0fb 0 4px,#0fa 0 5px,#0bf 0 6px,#0cf 0 7px,#0df 0 8px,#0fc 0 9px,#0fb 0 11px,#0f3 0 14px,#0f9 0 17px,#0f2 0 20px,#0fa 0 21px,#0fb 0 22px,#0fc 0 23px,#09f 0 24px,#07f 0 25px,#05f 0 26px,#0af 0 27px,#08f 0 28px,#06f 0 29px,#0af 0 30px,#08f 0 31px,#06f 0 32px,#0df 0 33px,#0bf 0 34px,#09f 0 35px,#00b 0 38px,#00e 0 41px,#00c 0 44px,#00b 0 48px,#00d 0 51px,#00c 0 56px,#00b 0 64px,#00c 0 65px,#00f 0 68px,#00c 0 72px,#00d 0 76px,#00e 0 79px,#00d 0 80px,#00c 0 83px,#00b 0 84px,#00c 0 86px,#00f 0 87px,#00e 0 90px,#01f 0 93px,#00c 0 99px,#00d 0 100px,#00e 0 102px,#00d 0 104px,#00e 0 106px,#00d 0 108px,#00e 0 112px,#00d 0 116px,#00e 0 129px,#00d 0 131px,#05f 0 132px,#04f 0 134px,#00d 0 136px,#00e 0 143px,#00d 0 148px,#00e 0 150px,#01f 0 151px,#00e 0 163px,#00f 0 164px,#00e 0 170px,#01f 0 171px,#00e 0 182px,#03f 0 183px,#00e 0 187px,#07f 0 188px,#00e 0 205px,#00d 0 208px,#04f 0 209px,#00e 0 212px,#00d 0 217px,#00e 0 222px,#0ef 0 230px,#00e 0 236px,#02f 0 237px,#09f 0 244px,#07f 0 250px,#09f 0 254px,#fff 0 260px,#0fe 0 270px,#0ff 0 280px,#0fe 0 285px,#0ef 0 290px,#0fc 0 295px,#0df 0 300px,#0bf 0 305px,#0fe 0 310px,#0fd 0 315px,#0fe 0 320px,#0fb 0 325px,#0fc 0 345px,#0fd 0 350px,#0fa 0)"></i><i style="background:linear-gradient(#00f 1px,#01f 0 2px,#0fe 0 3px,#0fd 0 5px,#0f5 0 7px,#0f4 0 8px,#0fd 0 10px,#0fc 0 14px,#0fe 0 15px,#0ff 0 17px,#0f6 0 18px,#0f7 0 20px,#08f 0 21px,#07f 0 22px,#05f 0 23px,#00f 0 25px,#00e 0 26px,#0df 0 27px,#0cf 0 28px,#0af 0 29px,#0bf 0 30px,#09f 0 31px,#07f 0 32px,#08f 0 33px,#06f 0 34px,#05f 0 35px,#0cf 0 36px,#0bf 0 37px,#0af 0 38px,#00f 0 40px,#00e 0 41px,#00c 0 51px,#00b 0 56px,#00c 0 64px,#00b 0 65px,#00e 0 68px,#00d 0 72px,#00b 0 76px,#00c 0 79px,#00b 0 80px,#00d 0 84px,#00b 0 86px,#00e 0 90px,#02f 0 91px,#01f 0 93px,#00c 0 99px,#00d 0 100px,#00e 0 106px,#00d 0 120px,#00e 0 125px,#00d 0 131px,#05f 0 132px,#06f 0 133px,#07f 0 134px,#00e 0 140px,#00f 0 141px,#00e 0 144px,#00d 0 148px,#00e 0 152px,#00f 0 153px,#00e 0 163px,#04f 0 164px,#00e 0 205px,#00d 0 208px,#00e 0 212px,#00d 0 217px,#00e 0 221px,#00f 0 222px,#00e 0 223px,#00d 0 224px,#0af 0 232px,#04f 0 235px,#09f 0 239px,#0af 0 247px,#03f 0 254px,#fff 0 260px,#0df 0 265px,#0ff 0 270px,#0cf 0 275px,#0ff 0 285px,#0fe 0 290px,#0ff 0 295px,#0ef 0 300px,#0fe 0 305px,#0bf 0 306px,#0cf 0 310px,#0fe 0 315px,#0fc 0 320px,#0fa 0 325px,#0fc 0 330px,#0fe 0 335px,#0fd 0 348px,#0fc 0 350px,#0fb 0)"></i><i style="background:linear-gradient(#0fc 1px,#0fb 0 2px,#0f8 0 3px,#0f7 0 5px,#0f2 0 8px,#0af 0 9px,#0bf 0 11px,#0af 0 14px,#0fe 0 17px,#0fc 0 19px,#0fd 0 20px,#00b 0 23px,#02f 0 24px,#00f 0 26px,#04f 0 27px,#02f 0 28px,#01f 0 29px,#05f 0 30px,#03f 0 31px,#01f 0 32px,#08f 0 33px,#06f 0 34px,#05f 0 35px,#00b 0 36px,#00c 0 38px,#00b 0 39px,#00c 0 40px,#00b 0 44px,#02f 0 45px,#01f 0 47px,#00c 0 51px,#00b 0 52px,#00d 0 56px,#00c 0 65px,#01f 0 68px,#00b 0 76px,#00e 0 79px,#00d 0 80px,#00b 0 84px,#00c 0 86px,#00e 0 90px,#01f 0 93px,#00c 0 99px,#00d 0 100px,#00e 0 102px,#00d 0 104px,#00e 0 106px,#00d 0 116px,#00e 0 118px,#00d 0 122px,#00e 0 124px,#00d 0 131px,#05f 0 132px,#0af 0 133px,#0bf 0 134px,#04f 0 136px,#00e 0 140px,#02f 0 141px,#00f 0 142px,#00e 0 144px,#00d 0 148px,#00e 0 149px,#03f 0 150px,#00e 0 170px,#05f 0 171px,#00e 0 196px,#0fa 0 199px,#0fb 0 206px,#0fa 0 210px,#0f8 0 215px,#0fd 0 219px,#0fb 0 227px,#0f9 0 232px,#0fd 0 239px,#0fb 0 245px,#01f 0 253px,#0fd 0 254px,#fff 0 260px,#0ff 0 265px,#0ef 0 280px,#0cf 0 285px,#0ff 0 290px,#0ef 0 295px,#0df 0 300px,#0ff 0 305px,#0fe 0 310px,#0df 0 311px,#09f 0 314px,#0af 0 315px,#0df 0 325px,#0bf 0 329px,#0cf 0 330px,#0df 0 333px,#0ef 0 335px,#07f 0 338px,#08f 0 340px,#0fb 0 345px,#0fc 0 350px,#0fe 0)"></i><i style="background:linear-gradient(#02f 1px,#03f 0 2px,#04f 0 3px,#06f 0 4px,#07f 0 5px,#0fc 0 6px,#0fb 0 8px,#0ff 0 9px,#0fe 0 11px,#00d 0 14px,#00c 0 17px,#0fa 0 19px,#0fb 0 20px,#0df 0 21px,#0cf 0 22px,#0bf 0 23px,#00f 0 24px,#00e 0 26px,#06f 0 27px,#04f 0 28px,#03f 0 29px,#04f 0 30px,#03f 0 31px,#01f 0 32px,#0bf 0 33px,#0af 0 34px,#08f 0 35px,#00b 0 37px,#00c 0 38px,#00d 0 40px,#00c 0 41px,#00b 0 42px,#00c 0 44px,#00d 0 46px,#00c 0 47px,#09f 0 48px,#00e 0 51px,#00d 0 52px,#00b 0 56px,#00c 0 60px,#00b 0 64px,#00c 0 65px,#00f 0 68px,#00b 0 72px,#00d 0 76px,#00e 0 78px,#00d 0 80px,#00c 0 84px,#00b 0 86px,#00e 0 90px,#01f 0 93px,#00c 0 99px,#00d 0 100px,#00e 0 104px,#00d 0 122px,#00e 0 124px,#00d 0 131px,#04f 0 132px,#08f 0 133px,#0af 0 134px,#02f 0 136px,#04f 0 139px,#03f 0 140px,#00e 0 145px,#00d 0 148px,#00e 0 152px,#04f 0 153px,#00e 0 169px,#01f 0 170px,#00e 0 188px,#01f 0 195px,#0fd 0 202px,#0fc 0 208px,#0fb 0 218px,#0fa 0 221px,#05f 0 222px,#00f 0 228px,#0fa 0 231px,#0f8 0 236px,#0fc 0 241px,#0ff 0 247px,#0fb 0 252px,#02f 0 254px,#fff 0 260px,#0bf 0 275px,#0df 0 280px,#0af 0 285px,#0df 0 287px,#0ef 0 291px,#0ff 0 295px,#0ef 0 300px,#0df 0 305px,#0ff 0 310px,#0ef 0 315px,#0fe 0 316px,#0fd 0 320px,#0cf 0 322px,#0df 0 325px,#0ff 0 329px,#0fe 0 330px,#0fb 0 335px,#0fd 0 340px,#0fc 0 344px,#0fb 0 345px,#0fc 0 350px,#0fb 0)"></i><i style="background:linear-gradient(#01f 1px,#02f 0 2px,#00f 0 3px,#01f 0 4px,#02f 0 5px,#00e 0 8px,#07f 0 10px,#08f 0 11px,#05f 0 14px,#00e 0 17px,#0fe 0 18px,#0ff 0 20px,#09f 0 21px,#08f 0 22px,#07f 0 23px,#0ff 0 25px,#0df 0 26px,#00d 0 28px,#00c 0 29px,#06f 0 30px,#05f 0 31px,#03f 0 32px,#00d 0 34px,#00c 0 35px,#00b 0 41px,#00c 0 48px,#00e 0 51px,#00d 0 52px,#00c 0 56px,#00b 0 64px,#00d 0 65px,#02f 0 68px,#00d 0 80px,#00b 0 84px,#00c 0 86px,#00f 0 87px,#00e 0 90px,#02f 0 91px,#01f 0 93px,#00c 0 99px,#00d 0 100px,#00e 0 102px,#00d 0 131px,#06f 0 132px,#07f 0 133px,#08f 0 134px,#00f 0 136px,#06f 0 140px,#00f 0 142px,#00e 0 145px,#00d 0 148px,#00e 0 188px,#0fb 0 191px,#00e 0 192px,#02f 0 193px,#00e 0 196px,#0f9 0 201px,#0f8 0 205px,#0ff 0 210px,#0af 0 217px,#0fe 0 225px,#01f 0 231px,#0ff 0 236px,#0fb 0 244px,#0ef 0 247px,#0fe 0 254px,#fff 0 260px,#0bf 0 265px,#0cf 0 270px,#0bf 0 280px,#0cf 0 285px,#0af 0 290px,#0ef 0 292px,#0ff 0 295px,#0cf 0 305px,#0df 0 310px,#0bf 0 314px,#0cf 0 315px,#0ff 0 320px,#0fe 0 321px,#0fc 0 325px,#0bf 0 326px,#0cf 0 330px,#0fd 0 335px,#0fe 0 336px,#0fd 0 345px,#0ff 0 350px,#0fc 0)"></i><i style="background:linear-gradient(#00e 1px,#00f 0 2px,#04f 0 3px,#05f 0 4px,#06f 0 5px,#0fd 0 7px,#0fc 0 8px,#0ff 0 10px,#0fe 0 11px,#08f 0 14px,#0fd 0 15px,#0fe 0 17px,#05f 0 18px,#04f 0 19px,#03f 0 20px,#00b 0 23px,#0cf 0 24px,#0af 0 25px,#09f 0 26px,#00b 0 29px,#03f 0 30px,#02f 0 31px,#00f 0 32px,#00b 0 35px,#00e 0 36px,#00d 0 38px,#00b 0 44px,#00c 0 48px,#00d 0 51px,#00c 0 56px,#00d 0 60px,#00c 0 64px,#00b 0 65px,#00e 0 68px,#00d 0 76px,#00c 0 79px,#00b 0 86px,#00e 0 90px,#02f 0 91px,#01f 0 93px,#00d 0 94px,#00c 0 99px,#00d 0 100px,#00e 0 102px,#00d 0 131px,#05f 0 132px,#08f 0 133px,#09f 0 134px,#01f 0 136px,#00f 0 140px,#05f 0 141px,#03f 0 142px,#00f 0 143px,#00e 0 145px,#00d 0 148px,#00e 0 154px,#04f 0 155px,#00e 0 157px,#04f 0 158px,#00e 0 186px,#02f 0 187px,#00e 0 191px,#0f7 0 196px,#0fe 0 202px,#01f 0 205px,#06f 0 206px,#01f 0 209px,#04f 0 217px,#00e 0 221px,#00f 0 229px,#0f8 0 247px,#0f9 0 252px,#0f5 0 254px,#fff 0 260px,#08f 0 265px,#0df 0 275px,#0cf 0 280px,#0bf 0 288px,#0cf 0 290px,#0bf 0 295px,#0cf 0 303px,#0df 0 305px,#0cf 0 310px,#0ff 0 315px,#0df 0 316px,#0ef 0 320px,#0ff 0 321px,#0fe 0 325px,#0df 0 330px,#0af 0 333px,#0bf 0 335px,#0fd 0 340px,#0df 0 342px,#0ef 0 345px,#0fd 0 348px,#0fc 0 350px,#0fd 0)"></i><i style="background:linear-gradient(#0fa 1px,#0f9 0 2px,#0ef 0 3px,#0ff 0 4px,#0fe 0 5px,#0fa 0 7px,#0f9 0 8px,#04f 0 9px,#05f 0 11px,#0f9 0 14px,#0bf 0 15px,#0af 0 17px,#0f9 0 19px,#0fa 0 20px,#09f 0 21px,#08f 0 22px,#06f 0 23px,#0cf 0 24px,#0af 0 25px,#08f 0 26px,#00d 0 27px,#00c 0 29px,#00b 0 35px,#07f 0 36px,#06f 0 37px,#05f 0 38px,#00b 0 42px,#00c 0 44px,#00b 0 48px,#00c 0 52px,#00d 0 56px,#00c 0 64px,#00b 0 65px,#00e 0 68px,#00c 0 86px,#00f 0 87px,#00e 0 90px,#01f 0 93px,#00d 0 94px,#00c 0 99px,#00d 0 100px,#00e 0 102px,#00d 0 131px,#05f 0 132px,#09f 0 133px,#0bf 0 134px,#03f 0 136px,#01f 0 140px,#03f 0 141px,#01f 0 142px,#00e 0 145px,#00d 0 148px,#00e 0 172px,#02f 0 173px,#00e 0 190px,#02f 0 191px,#00e 0 198px,#00f 0 204px,#0bf 0 208px,#0fe 0 211px,#0cf 0 219px,#06f 0 224px,#02f 0 227px,#0fc 0 235px,#0ef 0 248px,#07f 0 253px,#00f 0 254px,#fff 0 260px,#0df 0 265px,#0bf 0 275px,#0af 0 280px,#09f 0 285px,#0af 0 288px,#0bf 0 290px,#0df 0 295px,#0bf 0 300px,#09f 0 304px,#0af 0 309px,#0bf 0 310px,#0ff 0 314px,#0fe 0 315px,#0cf 0 320px,#0ef 0 323px,#0ff 0 330px,#0fe 0 335px,#0fb 0 340px,#0fc 0 350px,#0fd 0)"></i><i style="background:linear-gradient(#0fe 1px,#0fd 0 2px,#06f 0 3px,#08f 0 4px,#09f 0 5px,#0ef 0 6px,#0ff 0 7px,#0fe 0 8px,#02f 0 10px,#03f 0 11px,#0fd 0 14px,#0f8 0 15px,#0f9 0 17px,#0f3 0 20px,#00b 0 23px,#00e 0 25px,#00d 0 26px,#00e 0 27px,#00d 0 29px,#07f 0 30px,#05f 0 31px,#04f 0 32px,#00b 0 40px,#00c 0 48px,#00d 0 49px,#00e 0 51px,#00d 0 52px,#00b 0 56px,#00c 0 60px,#00b 0 64px,#00d 0 65px,#02f 0 68px,#00d 0 72px,#00b 0 76px,#00c 0 79px,#00b 0 80px,#00c 0 86px,#00f 0 88px,#00e 0 90px,#01f 0 93px,#00d 0 94px,#00c 0 99px,#00d 0 100px,#00e 0 102px,#00d 0 131px,#08f 0 132px,#05f 0 134px,#00e 0 140px,#05f 0 141px,#03f 0 142px,#00f 0 143px,#00e 0 145px,#00d 0 148px,#00e 0 183px,#0f5 0 189px,#0f8 0 195px,#0fb 0 198px,#03f 0 205px,#0f9 0 212px,#02f 0 219px,#0fc 0 222px,#0ff 0 223px,#0cf 0 227px,#0f8 0 235px,#0f9 0 242px,#0fa 0 250px,#0f7 0 254px,#fff 0 260px,#09f 0 270px,#0af 0 275px,#09f 0 280px,#0af 0 285px,#0df 0 286px,#0ef 0 290px,#0af 0 300px,#0ff 0 305px,#0af 0 310px,#0bf 0 315px,#0ef 0 319px,#0ff 0 320px,#0ef 0 324px,#0ff 0 325px,#0ef 0 326px,#0ff 0 329px,#0ef 0 330px,#0fe 0 332px,#0fd 0 335px,#0ff 0 340px,#0ef 0 345px,#0fb 0 350px,#0fd 0)"></i><i style="background:linear-gradient(#03f 1px,#05f 0 3px,#07f 0 4px,#08f 0 5px,#0fc 0 6px,#0fb 0 8px,#0f4 0 11px,#0fd 0 14px,#0fe 0 17px,#0fd 0 18px,#0fe 0 20px,#0f7 0 22px,#0f8 0 23px,#00c 0 24px,#00b 0 26px,#00c 0 28px,#00b 0 29px,#00c 0 31px,#00b 0 32px,#0fe 0 33px,#0ff 0 34px,#08f 0 35px,#00b 0 40px,#00c 0 44px,#01f 0 45px,#00c 0 48px,#00e 0 51px,#00d 0 52px,#00c 0 60px,#00b 0 64px,#00d 0 65px,#02f 0 68px,#00d 0 76px,#00c 0 79px,#00b 0 86px,#00e 0 90px,#01f 0 93px,#00c 0 99px,#00d 0 100px,#00e 0 102px,#00d 0 131px,#08f 0 132px,#07f 0 133px,#09f 0 134px,#01f 0 136px,#00e 0 140px,#05f 0 141px,#03f 0 142px,#00f 0 143px,#00e 0 145px,#00d 0 148px,#00e 0 169px,#01f 0 170px,#00e 0 178px,#07f 0 179px,#00e 0 200px,#00f 0 201px,#00e 0 205px,#00d 0 208px,#00e 0 212px,#00d 0 214px,#00f 0 215px,#00d 0 217px,#03f 0 225px,#01f 0 232px,#0df 0 235px,#0ff 0 239px,#0fe 0 247px,#03f 0 254px,#fff 0 260px,#0bf 0 265px,#0af 0 270px,#09f 0 275px,#0bf 0 280px,#08f 0 285px,#0af 0 288px,#0bf 0 290px,#0ff 0 295px,#0bf 0 300px,#0df 0 305px,#0af 0 307px,#0bf 0 310px,#0df 0 312px,#0ef 0 315px,#0ff 0 317px,#0fe 0 320px,#0cf 0 324px,#0df 0 325px,#0ef 0 329px,#0cf 0 330px,#0fb 0 333px,#0fa 0 335px,#0df 0 340px,#0bf 0 345px,#0df 0 348px,#0ef 0 350px,#0fd 0)"></i><i style="background:linear-gradient(#00f 1px,#02f 0 2px,#0f8 0 3px,#0f7 0 5px,#0fa 0 6px,#0f9 0 8px,#0f8 0 11px,#09f 0 12px,#0af 0 13px,#09f 0 14px,#0f8 0 17px,#0fb 0 18px,#0fc 0 19px,#0fd 0 20px,#0cf 0 21px,#0af 0 22px,#07f 0 23px,#08f 0 24px,#06f 0 25px,#04f 0 26px,#00e 0 28px,#00d 0 29px,#01f 0 30px,#00f 0 31px,#00e 0 32px,#00d 0 33px,#00c 0 34px,#00b 0 35px,#00d 0 36px,#00c 0 38px,#00b 0 39px,#00c 0 45px,#00d 0 48px,#00e 0 51px,#00d 0 52px,#00b 0 60px,#00d 0 64px,#00c 0 65px,#01f 0 68px,#00d 0 72px,#00b 0 76px,#00d 0 79px,#00c 0 82px,#00b 0 86px,#00e 0 90px,#01f 0 93px,#00c 0 99px,#00d 0 100px,#00e 0 102px,#00d 0 131px,#08f 0 132px,#06f 0 134px,#00e 0 136px,#04f 0 140px,#05f 0 141px,#03f 0 142px,#00f 0 143px,#00e 0 145px,#00d 0 148px,#00e 0 184px,#00f 0 186px,#00e 0 205px,#00d 0 208px,#00e 0 212px,#00d 0 217px,#00e 0 223px,#00d 0 228px,#00e 0 229px,#00f 0 230px,#00e 0 237px,#09f 0 243px,#05f 0 251px,#09f 0 254px,#fff 0 260px,#08f 0 265px,#0af 0 270px,#09f 0 275px,#0cf 0 280px,#09f 0 284px,#0af 0 285px,#0cf 0 290px,#0bf 0 305px,#0cf 0 307px,#0df 0 312px,#0ef 0 315px,#0ff 0 320px,#0ef 0 321px,#0ff 0 335px,#0fd 0 343px,#0fc 0 345px,#0fe 0 350px,#0fb 0)"></i><i style="background:linear-gradient(#0fb 1px,#0fa 0 2px,#0f7 0 4px,#0f6 0 8px,#0fc 0 9px,#0fb 0 11px,#0f6 0 14px,#0ef 0 15px,#0df 0 16px,#0cf 0 17px,#0af 0 18px,#08f 0 19px,#06f 0 20px,#0cf 0 21px,#09f 0 22px,#07f 0 23px,#0cf 0 24px,#0af 0 25px,#07f 0 26px,#0df 0 27px,#0af 0 28px,#07f 0 29px,#00b 0 40px,#00c 0 48px,#00e 0 51px,#00d 0 52px,#00c 0 56px,#00d 0 65px,#02f 0 68px,#00b 0 76px,#00e 0 79px,#00d 0 80px,#00c 0 86px,#00f 0 88px,#00e 0 90px,#01f 0 93px,#00d 0 94px,#00c 0 99px,#00d 0 100px,#00e 0 102px,#00d 0 131px,#07f 0 132px,#05f 0 134px,#00e 0 136px,#04f 0 140px,#05f 0 141px,#03f 0 142px,#00f 0 143px,#00e 0 144px,#00d 0 148px,#00e 0 168px,#03f 0 169px,#00e 0 172px,#00f 0 173px,#00e 0 180px,#00f 0 184px,#00e 0 188px,#00d 0 192px,#00e 0 195px,#00f 0 196px,#01f 0 198px,#00e 0 205px,#00d 0 208px,#00e 0 212px,#00d 0 216px,#00e 0 223px,#00d 0 228px,#00e 0 232px,#00f 0 234px,#00e 0 239px,#04f 0 243px,#00e 0 251px,#02f 0 254px,#fff 0 260px,#0bf 0 265px,#0af 0 270px,#0cf 0 275px,#09f 0 280px,#08f 0 285px,#09f 0 290px,#0cf 0 295px,#0bf 0 300px,#0af 0 301px,#0bf 0 305px,#0df 0 308px,#0ef 0 310px,#0df 0 312px,#0ef 0 315px,#0ff 0 321px,#0fe 0 325px,#0ff 0 328px,#0fe 0 330px,#0fd 0 333px,#0fc 0 335px,#0cf 0 338px,#0df 0 340px,#0fd 0 345px,#0ff 0 350px,#0f9 0)"></i><i style="background:linear-gradient(#0f9 1px,#0f8 0 2px,#0f6 0 3px,#0f5 0 5px,#0f8 0 6px,#0f7 0 8px,#0f9 0 10px,#0f8 0 11px,#0f5 0 16px,#0f6 0 17px,#0f8 0 18px,#0f9 0 20px,#0f8 0 22px,#0f9 0 23px,#02f 0 24px,#00f 0 25px,#00d 0 26px,#07f 0 27px,#03f 0 28px,#00f 0 29px,#00b 0 30px,#00c 0 32px,#00e 0 33px,#00d 0 34px,#00c 0 35px,#00b 0 36px,#00c 0 38px,#00b 0 41px,#0bf 0 42px,#00f 0 43px,#00b 0 44px,#00d 0 51px,#00c 0 52px,#00d 0 56px,#00b 0 60px,#00c 0 64px,#00b 0 65px,#00e 0 68px,#00d 0 72px,#00b 0 76px,#00d 0 79px,#00c 0 86px,#00f 0 88px,#00e 0 90px,#01f 0 93px,#00c 0 99px,#00d 0 100px,#00e 0 102px,#00d 0 131px,#08f 0 132px,#0af 0 133px,#0cf 0 134px,#05f 0 136px,#00e 0 140px,#03f 0 141px,#01f 0 142px,#00f 0 143px,#00e 0 145px,#00d 0 148px,#00e 0 173px,#00f 0 174px,#00e 0 205px,#00d 0 207px,#00e 0 212px,#00d 0 216px,#00e 0 246px,#00d 0 248px,#00c 0 249px,#00e 0 250px,#00f 0 251px,#00e 0 254px,#fff 0 260px,#0af 0 270px,#08f 0 280px,#07f 0 285px,#09f 0 289px,#0af 0 295px,#09f 0 296px,#0af 0 307px,#0bf 0 310px,#0ef 0 311px,#0ff 0 315px,#0cf 0 317px,#0df 0 320px,#0bf 0 321px,#0cf 0 326px,#0df 0 328px,#09f 0 330px,#0fd 0 334px,#0fc 0 340px,#0ef 0 350px,#0ff 0)"></i><i style="background:linear-gradient(#0f8 2px,#0fc 0 3px,#0fb 0 4px,#0fa 0 5px,#0f3 0 11px,#0f5 0 17px,#0fa 0 19px,#0fb 0 20px,#0fd 0 21px,#0fe 0 22px,#0ef 0 23px,#0f8 0 25px,#0f9 0 26px,#00b 0 28px,#00c 0 29px,#05f 0 30px,#02f 0 31px,#00f 0 32px,#00c 0 36px,#00b 0 40px,#00c 0 44px,#00d 0 51px,#00c 0 56px,#00d 0 60px,#00b 0 64px,#00c 0 65px,#00f 0 68px,#00b 0 76px,#00d 0 79px,#00c 0 80px,#00d 0 84px,#00c 0 86px,#00f 0 88px,#00e 0 90px,#01f 0 93px,#00c 0 99px,#00d 0 100px,#00e 0 102px,#00d 0 131px,#06f 0 132px,#08f 0 133px,#0af 0 134px,#02f 0 136px,#07f 0 138px,#06f 0 140px,#00e 0 142px,#00d 0 144px,#00e 0 145px,#00d 0 148px,#00e 0 177px,#00d 0 180px,#00e 0 184px,#00d 0 188px,#00e 0 192px,#00f 0 196px,#00e 0 200px,#00d 0 212px,#00e 0 216px,#00d 0 220px,#00e 0 228px,#00d 0 232px,#00f 0 234px,#00e 0 240px,#00d 0 243px,#02f 0 244px,#00e 0 246px,#00f 0 248px,#00e 0 254px,#fff 0 260px,#0af 0 265px,#0bf 0 270px,#0af 0 275px,#0ef 0 280px,#0bf 0 289px,#0cf 0 290px,#0af 0 295px,#0cf 0 300px,#0bf 0 304px,#0cf 0 305px,#0bf 0 310px,#0df 0 311px,#0ef 0 319px,#0ff 0 320px,#0df 0 324px,#0ef 0 327px,#0ff 0 328px,#0df 0 330px,#0bf 0 335px,#0fc 0 340px,#0fd 0 344px,#0fc 0 345px,#0fd 0 350px,#0fc 0)"></i><i style="background:linear-gradient(#0f3 2px,#00c 0 4px,#00d 0 5px,#0ff 0 6px,#0fe 0 8px,#0fa 0 9px,#0f9 0 11px,#0fd 0 12px,#0fc 0 14px,#0f3 0 15px,#0f4 0 17px,#0fb 0 18px,#0fc 0 19px,#0fd 0 20px,#0f6 0 21px,#0f7 0 23px,#01f 0 24px,#00f 0 25px,#00e 0 26px,#00c 0 29px,#00d 0 31px,#00c 0 35px,#00d 0 38px,#00c 0 40px,#00b 0 41px,#0fe 0 42px,#00b 0 48px,#00c 0 51px,#00b 0 52px,#00d 0 56px,#00c 0 64px,#00b 0 65px,#00e 0 68px,#00c 0 76px,#00d 0 79px,#00c 0 80px,#00b 0 84px,#00c 0 86px,#00f 0 88px,#00e 0 90px,#01f 0 93px,#00d 0 94px,#00c 0 99px,#00d 0 100px,#00e 0 102px,#00d 0 131px,#04f 0 134px,#00d 0 136px,#04f 0 140px,#00f 0 141px,#00e 0 145px,#00d 0 148px,#00e 0 169px,#02f 0 170px,#00e 0 180px,#00d 0 184px,#00e 0 188px,#00d 0 196px,#00e 0 204px,#00d 0 208px,#00e 0 220px,#00d 0 224px,#00e 0 232px,#00d 0 240px,#00e 0 253px,#03f 0 254px,#fff 0 260px,#0af 0 265px,#08f 0 270px,#0af 0 275px,#07f 0 280px,#09f 0 285px,#0af 0 295px,#07f 0 296px,#08f 0 300px,#0af 0 305px,#0ff 0 310px,#0bf 0 311px,#0cf 0 315px,#0df 0 318px,#0ef 0 325px,#0ff 0 327px,#0fe 0 335px,#0ef 0 337px,#0ff 0 340px,#0fc 0 343px,#0fb 0 345px,#0fd 0 350px,#0fe 0 352px,#0fd 0)"></i><i style="background:linear-gradient(#0cf 1px,#0ef 0 2px,#0fe 0 3px,#0fd 0 5px,#08f 0 6px,#09f 0 7px,#0af 0 8px,#02f 0 9px,#03f 0 11px,#0f7 0 12px,#0f8 0 14px,#0fc 0 17px,#00f 0 18px,#00e 0 19px,#00d 0 20px,#0fa 0 22px,#0fb 0 23px,#09f 0 24px,#07f 0 25px,#05f 0 26px,#09f 0 27px,#07f 0 28px,#05f 0 29px,#00c 0 35px,#07f 0 36px,#06f 0 37px,#01f 0 38px,#00c 0 42px,#00d 0 44px,#00c 0 48px,#00d 0 51px,#00c 0 52px,#00d 0 56px,#00c 0 60px,#00b 0 65px,#00e 0 68px,#00c 0 79px,#00b 0 80px,#00c 0 82px,#00b 0 84px,#00c 0 86px,#00f 0 88px,#00e 0 90px,#01f 0 93px,#00c 0 99px,#00d 0 100px,#00e 0 102px,#00d 0 131px,#07f 0 132px,#08f 0 133px,#0af 0 134px,#02f 0 135px,#03f 0 136px,#06f 0 140px,#04f 0 141px,#02f 0 142px,#00f 0 143px,#00e 0 145px,#00d 0 148px,#00e 0 180px,#00d 0 184px,#00e 0 192px,#00d 0 204px,#00e 0 220px,#00d 0 224px,#00e 0 236px,#00d 0 240px,#00e 0 254px,#fff 0 260px,#0af 0 265px,#0df 0 270px,#08f 0 275px,#0af 0 285px,#0cf 0 290px,#08f 0 293px,#09f 0 295px,#0cf 0 305px,#0df 0 309px,#0ef 0 315px,#09f 0 316px,#0af 0 320px,#0df 0 324px,#0ef 0 325px,#0fe 0 327px,#0fd 0 334px,#0fc 0 335px,#0fb 0 339px,#0fa 0 340px,#07f 0 345px,#0fd 0 350px,#0fe 0)"></i><i style="background:linear-gradient(#00c 2px,#01f 0 3px,#02f 0 5px,#00e 0 11px,#0cf 0 12px,#0ef 0 14px,#02f 0 16px,#00f 0 17px,#03f 0 18px,#02f 0 19px,#01f 0 20px,#00c 0 23px,#0fd 0 25px,#0fe 0 26px,#06f 0 27px,#04f 0 29px,#0af 0 30px,#09f 0 31px,#08f 0 32px,#03f 0 33px,#00f 0 35px,#00c 0 36px,#00d 0 40px,#00b 0 44px,#00d 0 48px,#00e 0 51px,#00d 0 52px,#00c 0 56px,#00b 0 65px,#00e 0 68px,#00b 0 72px,#00d 0 76px,#00e 0 79px,#00d 0 80px,#00c 0 84px,#00b 0 86px,#00e 0 90px,#01f 0 93px,#00c 0 99px,#00d 0 100px,#00e 0 102px,#00d 0 131px,#08f 0 133px,#0af 0 134px,#02f 0 136px,#01f 0 141px,#00f 0 142px,#00e 0 145px,#00d 0 148px,#00e 0 179px,#00d 0 180px,#00e 0 184px,#00f 0 188px,#00e 0 192px,#00d 0 196px,#00f 0 200px,#00d 0 204px,#00f 0 208px,#00e 0 220px,#00d 0 224px,#00e 0 232px,#00d 0 240px,#00e 0 248px,#00f 0 250px,#00e 0 251px,#05f 0 252px,#00e 0 254px,#fff 0 260px,#0af 0 265px,#0cf 0 270px,#0af 0 275px,#09f 0 280px,#0af 0 290px,#0ef 0 295px,#0bf 0 300px,#0cf 0 305px,#09f 0 310px,#0bf 0 313px,#0cf 0 315px,#0df 0 317px,#0ef 0 320px,#0ff 0 323px,#0fe 0 326px,#0fd 0 327px,#0fc 0 328px,#0fb 0 330px,#0fe 0 333px,#0fd 0 335px,#0fb 0 337px,#0fa 0 345px,#0fd 0 350px,#0fb 0)"></i><i style="background:linear-gradient(#00c 2px,#0fa 0 4px,#0f9 0 5px,#00d 0 8px,#0fd 0 9px,#0fc 0 11px,#00d 0 12px,#00e 0 14px,#00d 0 24px,#00c 0 29px,#00e 0 32px,#00c 0 36px,#00d 0 40px,#00c 0 44px,#00d 0 48px,#00c 0 51px,#00b 0 52px,#00c 0 56px,#00d 0 60px,#00c 0 65px,#00f 0 68px,#00d 0 72px,#00b 0 76px,#00c 0 79px,#00b 0 86px,#00e 0 90px,#01f 0 93px,#00c 0 99px,#00d 0 100px,#00e 0 102px,#00d 0 131px,#06f 0 132px,#0af 0 133px,#0cf 0 134px,#05f 0 141px,#03f 0 142px,#00f 0 143px,#00e 0 145px,#00d 0 148px,#00e 0 196px,#00d 0 200px,#00e 0 208px,#00f 0 212px,#00e 0 216px,#00f 0 220px,#00e 0 228px,#00f 0 232px,#00d 0 244px,#00e 0 254px,#fff 0 260px,#0af 0 265px,#08f 0 270px,#04f 0 275px,#0df 0 280px,#0cf 0 285px,#09f 0 289px,#0af 0 290px,#0df 0 294px,#0ef 0 295px,#0bf 0 300px,#0df 0 302px,#0ef 0 305px,#0af 0 309px,#0bf 0 310px,#0cf 0 318px,#0df 0 320px,#0ff 0 325px,#0fe 0 327px,#0fd 0 330px,#0fa 0 332px,#0f9 0 335px,#0fa 0 338px,#0f9 0 340px,#0fe 0 345px,#0fd 0)"></i><i style="background:linear-gradient(#00c 3px,#00d 0 4px,#00c 0 8px,#0df 0 11px,#00c 0 12px,#00d 0 24px,#00c 0 28px,#00b 0 32px,#00d 0 36px,#00b 0 40px,#00c 0 48px,#00d 0 64px,#00b 0 65px,#00e 0 68px,#00d 0 76px,#00e 0 79px,#00d 0 80px,#00b 0 86px,#00e 0 90px,#01f 0 93px,#00c 0 99px,#00d 0 100px,#00e 0 102px,#00d 0 131px,#06f 0 133px,#07f 0 134px,#00f 0 136px,#04f 0 139px,#03f 0 140px,#00e 0 142px,#00d 0 144px,#00e 0 145px,#00d 0 148px,#00e 0 182px,#00d 0 192px,#00f 0 208px,#00e 0 216px,#00d 0 220px,#00e 0 232px,#00d 0 236px,#00e 0 254px,#fff 0 260px,#08f 0 265px,#0af 0 270px,#0cf 0 275px,#09f 0 280px,#08f 0 285px,#09f 0 290px,#0cf 0 291px,#0df 0 295px,#09f 0 300px,#0bf 0 305px,#0cf 0 307px,#0df 0 310px,#0bf 0 314px,#0cf 0 315px,#0ef 0 319px,#0ff 0 320px,#0fe 0 326px,#0fd 0 330px,#0fc 0 334px,#0fb 0 339px,#0fa 0 340px,#0fe 0 345px,#0fc 0 347px,#0fb 0 350px,#0fe 0)"></i><i style="background:linear-gradient(#00c 2px,#00d 0 3px,#00e 0 4px,#00f 0 5px,#00c 0 8px,#00d 0 11px,#00e 0 14px,#00d 0 16px,#00c 0 17px,#0bf 0 18px,#09f 0 19px,#08f 0 20px,#00b 0 24px,#00d 0 32px,#00b 0 36px,#00d 0 44px,#00c 0 48px,#00d 0 51px,#00c 0 60px,#00b 0 65px,#00e 0 68px,#00c 0 84px,#00b 0 86px,#00e 0 90px,#01f 0 93px,#00d 0 94px,#00c 0 99px,#00d 0 100px,#00e 0 102px,#00d 0 131px,#05f 0 132px,#07f 0 133px,#08f 0 134px,#00f 0 136px,#05f 0 140px,#00e 0 143px,#00d 0 144px,#00e 0 145px,#00d 0 148px,#00e 0 166px,#01f 0 167px,#00e 0 184px,#00d 0 188px,#01f 0 192px,#00f 0 196px,#00e 0 212px,#00f 0 216px,#00e 0 220px,#01f 0 224px,#00d 0 228px,#00e 0 240px,#00d 0 244px,#00e 0 253px,#04f 0 254px,#fff 0 260px,#0bf 0 265px,#09f 0 270px,#0bf 0 275px,#08f 0 277px,#09f 0 285px,#0af 0 288px,#0bf 0 290px,#0cf 0 295px,#0bf 0 300px,#0cf 0 301px,#0df 0 310px,#0bf 0 312px,#0cf 0 315px,#0ef 0 317px,#0ff 0 320px,#0cf 0 324px,#0df 0 325px,#0ff 0 329px,#0fe 0 330px,#0fd 0 331px,#0fc 0 335px,#0bf 0 336px,#0cf 0 340px,#0ff 0 345px,#0fc 0 347px,#0fb 0 350px,#0df 0 351px,#0ef 0)"></i><i style="background:linear-gradient(#00d 2px,#05f 0 3px,#07f 0 4px,#09f 0 5px,#06f 0 6px,#07f 0 7px,#08f 0 8px,#0f8 0 11px,#0fa 0 13px,#0fb 0 14px,#04f 0 15px,#02f 0 16px,#03f 0 17px,#00d 0 20px,#00c 0 36px,#00b 0 40px,#00c 0 44px,#00d 0 51px,#00c 0 52px,#00d 0 56px,#00b 0 60px,#00c 0 65px,#00f 0 68px,#00c 0 72px,#00b 0 76px,#00e 0 79px,#00d 0 80px,#00c 0 86px,#00e 0 90px,#01f 0 93px,#00c 0 99px,#00d 0 100px,#00e 0 102px,#00d 0 131px,#05f 0 132px,#08f 0 133px,#09f 0 134px,#02f 0 136px,#01f 0 140px,#04f 0 141px,#02f 0 142px,#00f 0 143px,#00e 0 145px,#00d 0 148px,#00e 0 151px,#03f 0 153px,#00e 0 162px,#01f 0 163px,#00e 0 167px,#04f 0 168px,#00e 0 184px,#00f 0 188px,#00d 0 192px,#00e 0 200px,#00d 0 204px,#00e 0 208px,#00d 0 212px,#00e 0 220px,#00d 0 224px,#00e 0 232px,#00f 0 236px,#00e 0 244px,#00f 0 248px,#00e 0 252px,#04f 0 254px,#fff 0 260px,#0af 0 265px,#05f 0 270px,#07f 0 275px,#0af 0 280px,#0bf 0 285px,#0af 0 288px,#0bf 0 290px,#0ef 0 292px,#0ff 0 295px,#08f 0 297px,#09f 0 298px,#0fa 0 308px,#0fc 0 310px,#0f9 0 315px,#0f4 0 317px,#0f9 0 319px,#0f7 0 322px,#0fa 0 325px,#0f7 0 329px,#09f 0 331px,#0f9 0 336px,#0fd 0 346px,#0fe 0 348px,#0f9 0)"></i><i style="background:linear-gradient(#0fd 1px,#0fc 0 2px,#00d 0 3px,#00e 0 4px,#01f 0 6px,#02f 0 7px,#03f 0 8px,#00c 0 11px,#0af 0 12px,#09f 0 13px,#07f 0 14px,#0fe 0 15px,#0ff 0 18px,#0cf 0 19px,#0af 0 20px,#00c 0 24px,#00d 0 40px,#00c 0 44px,#00d 0 48px,#00e 0 51px,#00d 0 52px,#00c 0 60px,#00d 0 64px,#00c 0 65px,#00f 0 68px,#00d 0 76px,#00e 0 79px,#00d 0 80px,#00b 0 84px,#00c 0 86px,#00f 0 88px,#00e 0 90px,#02f 0 91px,#01f 0 93px,#00d 0 94px,#00c 0 99px,#00d 0 100px,#00e 0 102px,#00d 0 131px,#05f 0 132px,#08f 0 133px,#09f 0 134px,#01f 0 136px,#05f 0 140px,#00e 0 143px,#00d 0 144px,#00e 0 145px,#00d 0 148px,#00e 0 200px,#00f 0 204px,#00e 0 208px,#00d 0 212px,#00e 0 216px,#00f 0 220px,#00e 0 232px,#00d 0 236px,#00e 0 248px,#00d 0 252px,#00f 0 254px,#fff 0 260px,#08f 0 262px,#09f 0 265px,#06f 0 270px,#09f 0 275px,#07f 0 280px,#0af 0 287px,#0bf 0 290px,#07f 0 295px,#0af 0 300px,#0bf 0 301px,#0cf 0 305px,#0af 0 307px,#0bf 0 310px,#09f 0 312px,#0af 0 315px,#0cf 0 318px,#0df 0 320px,#0ff 0 324px,#0fe 0 325px,#0ff 0 326px,#0ef 0 330px,#0fc 0 335px,#0fd 0 340px,#0fe 0 345px,#0ff 0 350px,#0fe 0 352px,#0fd 0)"></i><i style="background:linear-gradient(#00c 2px,#0bf 0 3px,#0df 0 4px,#0ff 0 5px,#00c 0 8px,#0df 0 10px,#0cf 0 11px,#00e 0 13px,#00d 0 14px,#0fe 0 15px,#0ff 0 16px,#0bf 0 17px,#00e 0 18px,#00d 0 19px,#00c 0 20px,#03f 0 21px,#02f 0 22px,#01f 0 23px,#00c 0 24px,#00d 0 36px,#00c 0 52px,#00d 0 65px,#02f 0 68px,#00c 0 72px,#00d 0 76px,#00c 0 80px,#00d 0 84px,#00b 0 86px,#00e 0 90px,#01f 0 93px,#00c 0 99px,#00d 0 100px,#00e 0 102px,#00d 0 131px,#07f 0 132px,#0af 0 133px,#0cf 0 134px,#05f 0 136px,#07f 0 138px,#06f 0 140px,#04f 0 141px,#02f 0 142px,#00f 0 143px,#00e 0 144px,#00d 0 148px,#00e 0 161px,#01f 0 162px,#00e 0 180px,#00d 0 184px,#00e 0 196px,#00d 0 200px,#00e 0 224px,#00d 0 228px,#00e 0 240px,#07f 0 243px,#00e 0 244px,#00f 0 248px,#00e 0 252px,#0af 0 254px,#fff 0 260px,#0af 0 265px,#0cf 0 270px,#0af 0 275px,#0bf 0 278px,#0cf 0 280px,#08f 0 285px,#0af 0 299px,#0bf 0 300px,#0af 0 302px,#0bf 0 309px,#0cf 0 315px,#0df 0 318px,#0ef 0 320px,#0ff 0 328px,#0fe 0 341px,#0fd 0 345px,#0fe 0 347px,#0fd 0 350px,#0fb 0)"></i><i style="background:linear-gradient(#02f 1px,#04f 0 2px,#00d 0 4px,#00c 0 6px,#00d 0 8px,#00c 0 11px,#00e 0 12px,#00f 0 14px,#00d 0 17px,#00f 0 18px,#00e 0 20px,#00d 0 24px,#00b 0 32px,#00c 0 40px,#00d 0 44px,#00b 0 48px,#00e 0 51px,#00d 0 52px,#00c 0 56px,#00b 0 60px,#00d 0 64px,#00b 0 65px,#00e 0 68px,#00b 0 72px,#00c 0 76px,#00d 0 79px,#00c 0 84px,#00b 0 86px,#00e 0 90px,#01f 0 93px,#00c 0 99px,#00d 0 100px,#00e 0 102px,#00d 0 131px,#08f 0 132px,#04f 0 134px,#00d 0 136px,#07f 0 138px,#06f 0 140px,#00f 0 141px,#00e 0 145px,#00d 0 148px,#00e 0 171px,#03f 0 173px,#00e 0 192px,#00d 0 193px,#00e 0 195px,#00d 0 196px,#00e 0 213px,#00d 0 215px,#0ff 0 216px,#00e 0 228px,#00f 0 232px,#00e 0 241px,#0cf 0 246px,#0fe 0 247px,#03f 0 252px,#00e 0 253px,#0df 0 254px,#fff 0 260px,#07f 0 265px,#09f 0 270px,#07f 0 275px,#0bf 0 280px,#06f 0 285px,#0af 0 290px,#0bf 0 292px,#0cf 0 295px,#0bf 0 300px,#08f 0 301px,#09f 0 305px,#0bf 0 308px,#0cf 0 311px,#0df 0 315px,#0ef 0 318px,#0ff 0 322px,#0fe 0 325px,#0cf 0 326px,#0df 0 330px,#0fd 0 335px,#0fe 0 340px,#0fa 0 345px,#0fc 0 350px,#0fb 0 352px,#0fa 0)"></i><i style="background:linear-gradient(#00c 1px,#00d 0 2px,#00c 0 5px,#00d 0 6px,#00e 0 8px,#02f 0 9px,#03f 0 10px,#04f 0 11px,#00c 0 12px,#00d 0 14px,#05f 0 15px,#04f 0 16px,#02f 0 17px,#00c 0 20px,#00d 0 32px,#00c 0 44px,#00b 0 48px,#00d 0 52px,#00b 0 56px,#00d 0 64px,#00c 0 65px,#00f 0 68px,#00d 0 72px,#00b 0 76px,#00c 0 79px,#00b 0 80px,#00c 0 86px,#00f 0 88px,#00e 0 90px,#01f 0 93px,#00d 0 94px,#00c 0 99px,#00d 0 100px,#00e 0 102px,#00d 0 131px,#06f 0 132px,#07f 0 133px,#08f 0 134px,#00f 0 136px,#06f 0 140px,#04f 0 141px,#02f 0 142px,#00f 0 143px,#00e 0 145px,#00d 0 148px,#00e 0 164px,#00f 0 165px,#00e 0 184px,#00d 0 188px,#00e 0 191px,#0af 0 193px,#00e 0 200px,#00d 0 201px,#00e 0 205px,#05f 0 206px,#0ef 0 207px,#00e 0 208px,#00f 0 212px,#00d 0 216px,#07f 0 217px,#0fe 0 218px,#02f 0 221px,#00e 0 223px,#0fe 0 225px,#00d 0 228px,#00e 0 229px,#09f 0 230px,#08f 0 231px,#00e 0 232px,#01f 0 233px,#08f 0 234px,#0af 0 235px,#00e 0 237px,#00d 0 240px,#03f 0 243px,#00e 0 246px,#03f 0 248px,#07f 0 249px,#00e 0 250px,#07f 0 254px,#fff 0 260px,#06f 0 265px,#09f 0 270px,#08f 0 275px,#0af 0 280px,#09f 0 287px,#0af 0 290px,#0bf 0 295px,#0af 0 300px,#0cf 0 305px,#0af 0 307px,#0bf 0 310px,#0df 0 311px,#0ef 0 315px,#0ff 0 320px,#0df 0 324px,#0ef 0 325px,#0ff 0 328px,#0fe 0 335px,#0df 0 337px,#0ef 0 340px,#0fd 0 341px,#0fc 0 345px,#0ff 0 348px,#0fe 0 350px,#0fb 0)"></i><i style="background:linear-gradient(#00c 2px,#05f 0 3px,#07f 0 4px,#0af 0 5px,#00d 0 8px,#00e 0 9px,#00f 0 11px,#0fb 0 12px,#0fa 0 13px,#0fb 0 14px,#0ff 0 15px,#0ef 0 16px,#0af 0 17px,#04f 0 18px,#02f 0 19px,#00f 0 20px,#00d 0 23px,#0fe 0 24px,#0ef 0 25px,#0cf 0 26px,#00f 0 27px,#00e 0 29px,#00c 0 32px,#00d 0 36px,#00b 0 40px,#00d 0 44px,#00b 0 48px,#00d 0 56px,#00b 0 60px,#00c 0 64px,#00d 0 65px,#02f 0 68px,#00d 0 79px,#00c 0 80px,#00b 0 84px,#00c 0 86px,#00f 0 88px,#00e 0 90px,#01f 0 93px,#00d 0 94px,#00c 0 99px,#00d 0 100px,#00e 0 102px,#00d 0 131px,#06f 0 132px,#04f 0 134px,#00d 0 136px,#03f 0 140px,#00e 0 142px,#00d 0 144px,#00e 0 145px,#00d 0 148px,#00e 0 163px,#05f 0 164px,#00e 0 188px,#00d 0 191px,#09f 0 192px,#00f 0 195px,#00e 0 197px,#0bf 0 198px,#02f 0 201px,#00e 0 205px,#0bf 0 206px,#04f 0 207px,#00e 0 210px,#0af 0 213px,#00d 0 217px,#0cf 0 218px,#06f 0 219px,#00e 0 221px,#06f 0 222px,#07f 0 223px,#00d 0 225px,#07f 0 226px,#09f 0 227px,#0df 0 230px,#0fd 0 240px,#01f 0 241px,#0ef 0 242px,#05f 0 243px,#0fa 0 251px,#05f 0 254px,#fff 0 260px,#06f 0 265px,#09f 0 270px,#07f 0 275px,#0af 0 280px,#09f 0 285px,#0af 0 290px,#09f 0 294px,#0af 0 300px,#0ef 0 305px,#0af 0 309px,#0bf 0 310px,#0cf 0 313px,#0df 0 315px,#0cf 0 319px,#0df 0 320px,#0ff 0 324px,#0fe 0 325px,#0df 0 326px,#0ef 0 330px,#0df 0 334px,#0ef 0 335px,#0af 0 339px,#0bf 0 340px,#0fd 0 342px,#0fc 0 345px,#0fd 0 346px,#0fc 0 350px,#0ff 0)"></i><i style="background:linear-gradient(#00e 1px,#01f 0 2px,#00d 0 3px,#00e 0 4px,#03f 0 5px,#0cf 0 6px,#0ff 0 7px,#0fe 0 10px,#0fd 0 11px,#00e 0 12px,#00d 0 14px,#0fc 0 15px,#0fd 0 17px,#04f 0 18px,#02f 0 19px,#00f 0 20px,#03f 0 21px,#01f 0 22px,#00e 0 23px,#02f 0 24px,#00e 0 26px,#03f 0 27px,#01f 0 29px,#03f 0 30px,#01f 0 31px,#00f 0 32px,#00d 0 36px,#00c 0 44px,#00b 0 48px,#00e 0 51px,#00d 0 52px,#00c 0 60px,#00b 0 64px,#00c 0 65px,#00f 0 68px,#00b 0 72px,#00d 0 84px,#00c 0 86px,#00e 0 90px,#01f 0 93px,#00c 0 99px,#00d 0 100px,#00e 0 102px,#00d 0 131px,#05f 0 132px,#04f 0 134px,#00d 0 136px,#00e 0 142px,#00d 0 148px,#00e 0 160px,#04f 0 161px,#00e 0 179px,#03f 0 181px,#00e 0 183px,#0df 0 185px,#00e 0 189px,#0bf 0 190px,#07f 0 195px,#00e 0 199px,#0af 0 201px,#00e 0 206px,#0df 0 209px,#00e 0 210px,#00f 0 211px,#05f 0 213px,#00d 0 214px,#0fd 0 217px,#05f 0 221px,#07f 0 222px,#0ff 0 225px,#07f 0 229px,#0bf 0 230px,#09f 0 231px,#02f 0 236px,#0fe 0 244px,#05f 0 249px,#07f 0 250px,#0df 0 254px,#fff 0 260px,#0bf 0 265px,#09f 0 270px,#07f 0 275px,#08f 0 280px,#09f 0 285px,#0af 0 290px,#09f 0 295px,#0df 0 297px,#0ef 0 300px,#0af 0 302px,#0bf 0 305px,#09f 0 307px,#0af 0 310px,#09f 0 314px,#0af 0 315px,#0df 0 316px,#0ef 0 324px,#0df 0 325px,#0fd 0 330px,#0fe 0 334px,#0fd 0 335px,#0fe 0 337px,#0fd 0 340px,#0fa 0 345px,#0fd 0)"></i><i style="background:linear-gradient(#0cf 1px,#0ff 0 2px,#0fe 0 3px,#0fd 0 5px,#0ef 0 6px,#0fe 0 7px,#0fd 0 8px,#0cf 0 9px,#0ef 0 10px,#0ff 0 11px,#0fb 0 12px,#0fc 0 14px,#0f8 0 16px,#0f9 0 17px,#00d 0 18px,#00c 0 20px,#0fc 0 21px,#0fd 0 22px,#0ff 0 23px,#00c 0 24px,#00d 0 26px,#03f 0 27px,#01f 0 28px,#00e 0 29px,#00c 0 32px,#0bf 0 33px,#00b 0 36px,#00d 0 38px,#00c 0 40px,#00d 0 44px,#00c 0 48px,#00e 0 51px,#00d 0 64px,#00c 0 65px,#00f 0 68px,#00c 0 72px,#00b 0 76px,#00e 0 79px,#00d 0 84px,#00c 0 86px,#00f 0 88px,#00e 0 90px,#01f 0 93px,#00d 0 94px,#00c 0 99px,#00d 0 100px,#00e 0 102px,#00d 0 131px,#04f 0 134px,#00d 0 136px,#00e 0 142px,#00d 0 148px,#00e 0 181px,#0ff 0 182px,#0cf 0 185px,#00e 0 189px,#0ff 0 190px,#08f 0 191px,#00e 0 193px,#08f 0 194px,#00f 0 195px,#00e 0 199px,#09f 0 202px,#0af 0 210px,#08f 0 211px,#01f 0 213px,#08f 0 214px,#05f 0 215px,#0fa 0 220px,#00e 0 223px,#00d 0 225px,#0f7 0 230px,#0fa 0 234px,#0f4 0 242px,#0f5 0 250px,#0fa 0 253px,#0f8 0 254px,#fff 0 260px,#08f 0 280px,#06f 0 285px,#08f 0 286px,#09f 0 290px,#08f 0 291px,#09f 0 295px,#0af 0 299px,#0bf 0 300px,#09f 0 305px,#0cf 0 309px,#0df 0 310px,#0bf 0 312px,#0cf 0 315px,#0ff 0 325px,#09f 0 328px,#0af 0 330px,#0ff 0 335px,#0af 0 337px,#0bf 0 340px,#0ff 0 342px,#0fe 0 345px,#0fd 0 350px,#0fc 0)"></i><i style="background:linear-gradient(#00f 1px,#02f 0 2px,#00f 0 3px,#03f 0 4px,#05f 0 5px,#06f 0 6px,#09f 0 7px,#0bf 0 8px,#08f 0 9px,#09f 0 10px,#0bf 0 11px,#0f9 0 14px,#0fb 0 15px,#0fc 0 17px,#0fb 0 18px,#0fc 0 19px,#0fd 0 20px,#0f6 0 21px,#0f7 0 22px,#0f8 0 23px,#00d 0 24px,#00b 0 28px,#00c 0 32px,#00b 0 36px,#00c 0 40px,#00d 0 44px,#00c 0 48px,#00d 0 51px,#00c 0 52px,#00d 0 56px,#00b 0 65px,#00e 0 68px,#00b 0 76px,#00d 0 84px,#00c 0 86px,#00f 0 88px,#00e 0 90px,#01f 0 93px,#00c 0 99px,#00d 0 100px,#00e 0 102px,#00d 0 131px,#04f 0 134px,#00d 0 136px,#00e 0 142px,#00d 0 148px,#00e 0 175px,#0cf 0 178px,#0ef 0 179px,#00e 0 181px,#0ef 0 182px,#05f 0 183px,#00e 0 184px,#00f 0 185px,#05f 0 186px,#0cf 0 189px,#00e 0 193px,#0bf 0 194px,#0fe 0 195px,#00e 0 197px,#0fe 0 198px,#0cf 0 199px,#00e 0 200px,#0ff 0 204px,#0fe 0 212px,#0cf 0 213px,#07f 0 217px,#0af 0 218px,#0fe 0 223px,#0fd 0 226px,#0cf 0 234px,#07f 0 235px,#0bf 0 238px,#09f 0 239px,#0df 0 242px,#09f 0 247px,#0ff 0 249px,#0fe 0 254px,#fff 0 260px,#0bf 0 265px,#07f 0 270px,#0af 0 275px,#0bf 0 280px,#09f 0 284px,#0af 0 285px,#0bf 0 290px,#09f 0 291px,#0af 0 300px,#0df 0 309px,#0ef 0 310px,#0cf 0 313px,#0df 0 315px,#0ff 0 325px,#0fe 0 326px,#0fd 0 330px,#0af 0 334px,#0bf 0 335px,#0ff 0 336px,#0fe 0 340px,#0fc 0 344px,#0fb 0 345px,#0fe 0 346px,#0fd 0 350px,#0f9 0 352px,#0f8 0)"></i><i style="background:linear-gradient(#0fa 1px,#0f9 0 2px,#04f 0 3px,#07f 0 4px,#09f 0 5px,#0bf 0 6px,#0ef 0 7px,#0fe 0 8px,#0f9 0 9px,#0f8 0 11px,#0fe 0 12px,#0ff 0 14px,#0fb 0 16px,#0fc 0 17px,#0f7 0 18px,#0f8 0 19px,#0f9 0 20px,#06f 0 21px,#03f 0 22px,#01f 0 23px,#0fd 0 24px,#0fe 0 25px,#0ef 0 26px,#0fd 0 29px,#02f 0 30px,#00f 0 32px,#00c 0 40px,#00d 0 52px,#00b 0 56px,#00d 0 64px,#00b 0 65px,#00e 0 68px,#00b 0 72px,#00d 0 79px,#00c 0 86px,#00f 0 88px,#00e 0 90px,#01f 0 93px,#00d 0 94px,#00c 0 99px,#00d 0 100px,#00e 0 102px,#00d 0 131px,#04f 0 134px,#00d 0 136px,#00e 0 142px,#00d 0 148px,#00e 0 175px,#0ff 0 177px,#00e 0 179px,#07f 0 186px,#08f 0 187px,#00e 0 189px,#05f 0 192px,#0fd 0 199px,#0fe 0 206px,#07f 0 207px,#02f 0 209px,#07f 0 210px,#09f 0 215px,#04f 0 218px,#05f 0 219px,#0df 0 221px,#05f 0 224px,#0af 0 232px,#0fd 0 233px,#0fc 0 236px,#0f9 0 240px,#0f6 0 241px,#0f5 0 244px,#0fc 0 248px,#0f8 0 250px,#0f7 0 252px,#0f3 0 254px,#fff 0 260px,#06f 0 270px,#07f 0 275px,#08f 0 276px,#09f 0 280px,#0af 0 283px,#0bf 0 285px,#0af 0 290px,#0cf 0 295px,#09f 0 300px,#0df 0 305px,#0af 0 309px,#0bf 0 313px,#0cf 0 315px,#0ef 0 319px,#0ff 0 321px,#0fe 0 325px,#0fd 0 327px,#0fc 0 330px,#0cf 0 334px,#0df 0 335px,#0cf 0 339px,#0df 0 340px,#0fd 0 345px,#0fb 0 347px,#0fa 0 350px,#0fe 0 352px,#0df 0)"></i><i style="background:linear-gradient(#01f 1px,#03f 0 2px,#00d 0 4px,#00c 0 5px,#00d 0 6px,#00e 0 7px,#00f 0 8px,#0fe 0 9px,#0fd 0 11px,#0f9 0 14px,#0ef 0 15px,#0df 0 16px,#09f 0 17px,#0f7 0 18px,#0f8 0 19px,#0f9 0 20px,#0fe 0 21px,#0ff 0 22px,#0cf 0 23px,#05f 0 24px,#03f 0 25px,#01f 0 26px,#09f 0 27px,#07f 0 28px,#08f 0 29px,#00d 0 56px,#00c 0 60px,#00b 0 64px,#00c 0 65px,#00f 0 68px,#00b 0 76px,#00c 0 79px,#00b 0 80px,#00d 0 81px,#00c 0 86px,#00e 0 90px,#02f 0 91px,#01f 0 93px,#00c 0 99px,#00d 0 100px,#00e 0 102px,#00d 0 131px,#04f 0 134px,#00d 0 136px,#00e 0 142px,#00d 0 143px,#0cf 0 147px,#00d 0 148px,#00e 0 164px,#0fd 0 168px,#0f7 0 169px,#0f6 0 172px,#0fa 0 173px,#0f9 0 176px,#0ff 0 180px,#0fa 0 184px,#0ff 0 188px,#0fd 0 192px,#0fe 0 196px,#0fc 0 200px,#0cf 0 202px,#0df 0 204px,#0fe 0 207px,#00d 0 208px,#00e 0 209px,#0f8 0 212px,#0fa 0 213px,#0ff 0 215px,#0fa 0 216px,#0f6 0 220px,#0f7 0 221px,#0f6 0 224px,#0fd 0 228px,#0fa 0 229px,#0f9 0 232px,#0fd 0 233px,#00f 0 234px,#0fe 0 235px,#0fd 0 236px,#0f1 0 240px,#0f7 0 244px,#0f5 0 248px,#0fc 0 251px,#0fb 0 252px,#0f4 0 254px,#fff 0 260px,#0fd 0 265px,#0fe 0 275px,#0fc 0 290px,#0fa 0 291px,#0f9 0 295px,#0f8 0 300px,#0ef 0 305px,#0fa 0 310px,#0fb 0 315px,#0f3 0 320px,#0f9 0 325px,#0f5 0 330px,#0fc 0 335px,#0fb 0 340px,#4f0 0 341px,#5f0 0 345px,#0f8 0 350px,#0f5 0)"></i><i style="background:linear-gradient(#00c 1px,#00d 0 2px,#00f 0 3px,#03f 0 5px,#0bf 0 6px,#0df 0 7px,#0ff 0 9px,#0fe 0 11px,#08f 0 12px,#07f 0 14px,#0fe 0 15px,#0ff 0 16px,#0df 0 17px,#00c 0 18px,#00b 0 23px,#09f 0 25px,#08f 0 26px,#00d 0 32px,#00c 0 40px,#00d 0 51px,#00c 0 52px,#00d 0 56px,#00b 0 64px,#00c 0 65px,#00f 0 68px,#00d 0 72px,#00b 0 76px,#00c 0 79px,#00b 0 80px,#00c 0 85px,#00b 0 86px,#00e 0 90px,#02f 0 91px,#01f 0 93px,#00c 0 99px,#00d 0 100px,#00e 0 102px,#00d 0 131px,#04f 0 134px,#00d 0 136px,#00e 0 142px,#00d 0 148px,#00e 0 154px,#02f 0 155px,#00e 0 160px,#03f 0 161px,#00e 0 163px,#0f7 0 164px,#0fb 0 167px,#00e 0 169px,#0fa 0 172px,#0fb 0 176px,#0fc 0 179px,#00e 0 181px,#0fd 0 183px,#0fc 0 184px,#0f8 0 188px,#0fe 0 192px,#0f8 0 193px,#00e 0 195px,#0f8 0 196px,#0f7 0 197px,#00e 0 199px,#0f6 0 200px,#0f5 0 203px,#0f4 0 204px,#0f5 0 205px,#0f4 0 208px,#0f8 0 212px,#0fb 0 216px,#0f2 0 220px,#0f5 0 221px,#0f4 0 224px,#0f6 0 232px,#0f9 0 236px,#0f1 0 240px,#0f7 0 242px,#0f6 0 244px,#0f5 0 245px,#0ef 0 247px,#0f5 0 248px,#0f4 0 252px,#3f0 0 254px,#fff 0 260px,#0f4 0 265px,#0f1 0 270px,#0f8 0 271px,#0f7 0 275px,#0f8 0 280px,#0f6 0 283px,#0f5 0 285px,#0f4 0 290px,#0f9 0 295px,#0f5 0 300px,#0f2 0 310px,#0f1 0 315px,#0f6 0 320px,#0f4 0 324px,#0f3 0 325px,#0f4 0 330px,#0f2 0 335px,#0f1 0 344px,#0f0 0 345px,#0f2 0 350px,#0f3 0)"></i><i style="background:linear-gradient(#02f 1px,#04f 0 3px,#05f 0 4px,#07f 0 5px,#00f 0 7px,#02f 0 8px,#00c 0 11px,#00d 0 12px,#00e 0 14px,#04f 0 15px,#03f 0 16px,#04f 0 17px,#00d 0 20px,#02f 0 21px,#00f 0 23px,#00d 0 28px,#00c 0 32px,#00d 0 36px,#00c 0 38px,#00b 0 40px,#00d 0 44px,#00b 0 48px,#00e 0 51px,#00d 0 52px,#00c 0 56px,#00b 0 60px,#00c 0 64px,#00d 0 65px,#02f 0 68px,#00d 0 76px,#00c 0 79px,#00b 0 80px,#00c 0 86px,#00f 0 88px,#00e 0 90px,#01f 0 93px,#00d 0 94px,#00c 0 99px,#00d 0 100px,#00e 0 102px,#00d 0 131px,#04f 0 134px,#00d 0 136px,#00e 0 142px,#00d 0 148px,#00e 0 150px,#02f 0 151px,#00e 0 155px,#0fd 0 156px,#0fc 0 157px,#03f 0 158px,#00e 0 159px,#0fc 0 160px,#0fa 0 164px,#0fe 0 168px,#0fc 0 170px,#0fb 0 172px,#0cf 0 173px,#0df 0 175px,#00e 0 177px,#0fc 0 179px,#0fb 0 180px,#0f7 0 184px,#0f9 0 188px,#0fa 0 190px,#0f9 0 192px,#0f8 0 194px,#0f7 0 196px,#0f8 0 200px,#0f7 0 203px,#0f6 0 205px,#0f5 0 208px,#0fe 0 212px,#0f7 0 216px,#0f8 0 220px,#0f1 0 224px,#0f9 0 231px,#0f8 0 232px,#0f4 0 233px,#00e 0 235px,#0f4 0 236px,#0f9 0 240px,#0f1 0 244px,#0f0 0 248px,#0f4 0 249px,#0f3 0 252px,#0f1 0 254px,#fff 0 260px,#0f7 0 262px,#0f6 0 265px,#0f1 0 270px,#0fb 0 273px,#0fa 0 275px,#0f6 0 278px,#0f5 0 280px,#0f3 0 285px,#0f6 0 290px,#0f1 0 300px,#0f6 0 304px,#0f5 0 305px,#0f9 0 310px,#0f1 0 315px,#0f6 0 320px,#3f0 0 324px,#4f0 0 325px,#6f0 0 329px,#7f0 0 330px,#0f1 0 335px,#0f2 0 340px,#5f0 0 345px,#3f0 0 348px,#4f0 0 350px,#8f0 0)"></i><i style="background:linear-gradient(#0bf 1px,#0cf 0 2px,#00c 0 3px,#00d 0 11px,#07f 0 12px,#05f 0 14px,#00c 0 16px,#00d 0 17px,#06f 0 18px,#05f 0 19px,#04f 0 20px,#00c 0 28px,#00d 0 36px,#00b 0 44px,#00c 0 48px,#00d 0 51px,#00c 0 52px,#00b 0 56px,#00c 0 64px,#00d 0 65px,#02f 0 68px,#00d 0 80px,#00c 0 86px,#00e 0 90px,#01f 0 93px,#00c 0 99px,#00d 0 100px,#00e 0 102px,#00d 0 113px,#0ff 0 116px,#0fc 0 120px,#0fa 0 124px,#09f 0 128px,#0fe 0 129px,#00d 0 131px,#0fe 0 132px,#0fd 0 134px,#0fc 0 136px,#0ff 0 137px,#00e 0 141px,#0fc 0 144px,#0f7 0 147px,#00d 0 148px,#00e 0 149px,#0f9 0 152px,#0fb 0 155px,#00e 0 159px,#0ef 0 160px,#0f9 0 163px,#2f0 0 165px,#1f0 0 168px,#0f0 0 172px,#4f0 0 174px,#0f1 0 178px,#4f0 0 182px,#6f0 0 186px,#2f0 0 188px,#00e 0 189px,#0f8 0 192px,#0fa 0 194px,#0f9 0 196px,#0f8 0 197px,#0f7 0 198px,#2f0 0 201px,#0f1 0 204px,#9f0 0 207px,#0f9 0 208px,#0f8 0 211px,#00e 0 212px,#00d 0 213px,#0f2 0 216px,#0f8 0 217px,#0f7 0 218px,#0f2 0 220px,#0f1 0 221px,#6f0 0 223px,#2f0 0 225px,#4f0 0 227px,#2f0 0 230px,#3f0 0 234px,#1f0 0 239px,#0f1 0 240px,#0f0 0 247px,#0f3 0 248px,#0f2 0 252px,#0f0 0 254px,#fff 0 260px,#ff0 0 264px,#0f4 0 265px,#0f3 0 270px,#fb0 0 274px,#0f9 0 275px,#0fa 0 276px,#fe0 0 282px,#0fd 0 285px,#0f7 0 286px,#fe0 0 292px,#0f6 0 295px,#0f8 0 296px,#0f7 0 303px,#fa0 0 308px,#cf0 0 313px,#fe0 0 319px,#ff0 0 328px,#fe0 0 331px,#ef0 0 333px,#bf0 0 337px,#ff0 0 342px,#df0 0 346px,#fc0 0 350px,#fe0 0)"></i><i style="background:linear-gradient(#00f 1px,#01f 0 2px,#00d 0 4px,#00c 0 5px,#00d 0 8px,#04f 0 9px,#05f 0 11px,#00f 0 12px,#02f 0 14px,#00d 0 16px,#00c 0 17px,#07f 0 18px,#06f 0 19px,#05f 0 20px,#00b 0 24px,#00d 0 32px,#00b 0 36px,#00c 0 43px,#00d 0 51px,#00c 0 52px,#00d 0 56px,#00c 0 60px,#00d 0 64px,#00b 0 65px,#00e 0 68px,#00d 0 72px,#00b 0 76px,#00c 0 80px,#00b 0 86px,#02f 0 87px,#00e 0 89px,#0fb 0 92px,#0ef 0 93px,#00c 0 95px,#0ef 0 103px,#00d 0 105px,#0fe 0 108px,#0ef 0 109px,#00d 0 113px,#0fb 0 116px,#0df 0 119px,#00d 0 121px,#0fd 0 123px,#00d 0 125px,#0fa 0 128px,#0fc 0 131px,#0fb 0 132px,#09f 0 136px,#0fa 0 140px,#0fe 0 144px,#0af 0 147px,#0bf 0 148px,#09f 0 149px,#0af 0 151px,#00e 0 153px,#0fc 0 164px,#0f8 0 165px,#00e 0 167px,#0f8 0 168px,#0f9 0 172px,#0f8 0 173px,#9f0 0 175px,#2f0 0 179px,#4f0 0 182px,#6f0 0 186px,#0f1 0 189px,#9f0 0 191px,#2f0 0 195px,#6f0 0 198px,#bf0 0 202px,#8f0 0 204px,#1f0 0 208px,#0f3 0 212px,#0f2 0 214px,#5f0 0 218px,#bf0 0 222px,#6f0 0 228px,#3f0 0 231px,#7f0 0 235px,#df0 0 238px,#bf0 0 242px,#9f0 0 246px,#df0 0 248px,#7f0 0 250px,#9f0 0 252px,#5f0 0 254px,#fff 0 260px,#0fc 0 265px,#f90 0 272px,#fa0 0 274px,#fd0 0 276px,#f90 0 281px,#fb0 0 286px,#f90 0 288px,#fb0 0 291px,#0fa 0 294px,#fb0 0 300px,#0fb 0 309px,#0fa 0 310px,#0f8 0 312px,#f80 0 315px,#0f4 0 316px,#0f3 0 320px,#0f5 0 321px,#0f4 0 325px,#3f0 0 327px,#f90 0 333px,#fb0 0 338px,#0f4 0 340px,#0f6 0 343px,#f90 0 348px,#f80 0)"></i><i style="background:linear-gradient(#00c 1px,#00d 0 4px,#00c 0 12px,#00d 0 23px,#08f 0 24px,#07f 0 25px,#00d 0 36px,#00b 0 40px,#00d 0 44px,#00c 0 48px,#00e 0 51px,#00d 0 52px,#00c 0 56px,#00d 0 60px,#00c 0 64px,#00b 0 65px,#00e 0 68px,#00b 0 72px,#00c 0 79px,#00b 0 80px,#00d 0 83px,#00c 0 84px,#00b 0 86px,#08f 0 88px,#0fc 0 92px,#0df 0 94px,#0ef 0 95px,#00c 0 97px,#09f 0 100px,#06f 0 101px,#00e 0 102px,#00d 0 103px,#06f 0 104px,#0ff 0 108px,#0fc 0 112px,#0fb 0 113px,#00d 0 115px,#0fa 0 116px,#0ef 0 120px,#0fc 0 121px,#00d 0 125px,#0f6 0 128px,#0f7 0 129px,#00d 0 131px,#0f7 0 132px,#0fe 0 135px,#00d 0 136px,#00e 0 137px,#0fe 0 140px,#0f8 0 144px,#0fd 0 147px,#0fc 0 148px,#0f7 0 151px,#0f6 0 152px,#0fb 0 153px,#00e 0 155px,#0fb 0 159px,#0fa 0 160px,#0f8 0 161px,#00e 0 163px,#0f8 0 164px,#0fa 0 166px,#0f9 0 168px,#0f3 0 172px,#0f5 0 173px,#0f4 0 176px,#0f7 0 180px,#0f0 0 184px,#3f0 0 186px,#0f1 0 188px,#0f7 0 191px,#0f3 0 195px,#1f0 0 198px,#00e 0 199px,#0f3 0 200px,#0f1 0 203px,#4f0 0 206px,#0f3 0 208px,#5f0 0 212px,#2f0 0 216px,#0f5 0 220px,#0f6 0 222px,#4f0 0 226px,#0f0 0 228px,#0f3 0 229px,#2f0 0 231px,#0f4 0 233px,#00e 0 235px,#0f2 0 236px,#7f0 0 237px,#0f2 0 239px,#8f0 0 240px,#1f0 0 241px,#0f1 0 242px,#0f0 0 244px,#2f0 0 246px,#1f0 0 248px,#0f2 0 249px,#6f0 0 251px,#0f2 0 254px,#fff 0 260px,#0f9 0 261px,#0fa 0 263px,#0fb 0 265px,#0fc 0 270px,#0fa 0 275px,#0fb 0 285px,#0fa 0 286px,#0f9 0 290px,#0fc 0 295px,#0fe 0 300px,#0f7 0 301px,#0f6 0 305px,#0f5 0 309px,#0f4 0 314px,#0f3 0 315px,#0f5 0 319px,#0f4 0 320px,#0f6 0 321px,#0f5 0 325px,#0f1 0 329px,#0f0 0 330px,#3f0 0 335px,#4f0 0 340px,#0f2 0 345px,#1f0 0 350px,#0f6 0)"></i><i style="background:linear-gradient(#0af 1px,#0bf 0 2px,#00d 0 4px,#00c 0 5px,#00d 0 8px,#03f 0 11px,#01f 0 14px,#07f 0 15px,#06f 0 16px,#03f 0 17px,#05f 0 18px,#04f 0 20px,#00b 0 28px,#00d 0 44px,#00c 0 48px,#00e 0 51px,#00d 0 52px,#00c 0 64px,#00d 0 65px,#02f 0 68px,#00b 0 72px,#00c 0 76px,#00d 0 79px,#00c 0 80px,#00b 0 84px,#00c 0 86px,#0fc 0 88px,#0fe 0 92px,#09f 0 95px,#00c 0 97px,#07f 0 100px,#0af 0 101px,#00e 0 102px,#00d 0 103px,#0af 0 104px,#0bf 0 107px,#00d 0 109px,#0bf 0 112px,#0ff 0 115px,#00d 0 117px,#09f 0 120px,#0fe 0 121px,#00d 0 123px,#0fe 0 124px,#0fc 0 127px,#00d 0 129px,#0ff 0 132px,#0fe 0 133px,#04f 0 134px,#00d 0 136px,#00e 0 137px,#0fa 0 139px,#0f9 0 140px,#0fb 0 144px,#0ef 0 145px,#0ff 0 147px,#00d 0 148px,#00e 0 151px,#0fd 0 152px,#0fb 0 156px,#0f8 0 159px,#00e 0 161px,#0f7 0 164px,#0f8 0 174px,#0f7 0 176px,#0f8 0 180px,#0f9 0 181px,#00e 0 183px,#0f9 0 184px,#0f6 0 188px,#0f7 0 192px,#0f5 0 196px,#0f8 0 199px,#00e 0 201px,#3f0 0 204px,#0fa 0 205px,#0f9 0 208px,#0fb 0 212px,#4f0 0 216px,#0f6 0 228px,#0f1 0 230px,#0f0 0 232px,#4f0 0 234px,#5f0 0 236px,#2f0 0 240px,#0f1 0 244px,#7f0 0 248px,#6f0 0 249px,#7f0 0 252px,#4f0 0 254px,#fff 0 260px,#0f7 0 265px,#0f6 0 270px,#0cf 0 271px,#0bf 0 275px,#0fd 0 277px,#0fe 0 280px,#0bf 0 285px,#0fa 0 289px,#0f9 0 290px,#0fb 0 293px,#0fa 0 295px,#0f4 0 300px,#0fd 0 305px,#0f4 0 306px,#0f3 0 310px,#0f0 0 314px,#1f0 0 315px,#0f8 0 316px,#0f7 0 323px,#0f6 0 325px,#1f0 0 327px,#2f0 0 330px,#4f0 0 335px,#0f8 0 340px,#0f3 0 341px,#0f4 0 345px,#0f0 0 350px,#0f5 0)"></i><i style="background:linear-gradient(#0ff 1px,#0fe 0 2px,#00d 0 8px,#01f 0 9px,#02f 0 11px,#06f 0 12px,#08f 0 14px,#00f 0 15px,#00e 0 16px,#00d 0 17px,#00c 0 20px,#02f 0 21px,#01f 0 22px,#00f 0 23px,#00c 0 26px,#00d 0 27px,#00c 0 29px,#00b 0 32px,#00c 0 40px,#00d 0 44px,#00c 0 48px,#00d 0 51px,#00c 0 52px,#00d 0 56px,#00c 0 60px,#00b 0 64px,#00d 0 65px,#02f 0 68px,#00b 0 76px,#00e 0 79px,#00d 0 80px,#00b 0 84px,#00c 0 86px,#00f 0 87px,#0fd 0 88px,#0fe 0 92px,#0df 0 96px,#0ff 0 99px,#00d 0 100px,#00e 0 102px,#00d 0 107px,#0fe 0 108px,#09f 0 109px,#00d 0 111px,#09f 0 112px,#0fd 0 113px,#00d 0 119px,#0cf 0 120px,#0bf 0 123px,#00d 0 125px,#0fc 0 128px,#09f 0 129px,#0af 0 132px,#0fb 0 135px,#00d 0 136px,#00e 0 139px,#0fe 0 140px,#0fb 0 144px,#06f 0 145px,#00d 0 148px,#00e 0 149px,#0fd 0 152px,#0fb 0 155px,#00e 0 157px,#0f7 0 160px,#0fd 0 164px,#0f8 0 165px,#0f7 0 168px,#0f8 0 173px,#bf0 0 177px,#3f0 0 179px,#0fc 0 180px,#0f9 0 184px,#0f5 0 185px,#00e 0 187px,#0f5 0 188px,#0f2 0 189px,#0f0 0 191px,#0f1 0 192px,#0f4 0 195px,#0f0 0 197px,#af0 0 200px,#2f0 0 201px,#5f0 0 203px,#6f0 0 204px,#3f0 0 206px,#5f0 0 211px,#4f0 0 213px,#8f0 0 216px,#3f0 0 218px,#df0 0 221px,#7f0 0 224px,#bf0 0 228px,#1f0 0 230px,#6f0 0 234px,#1f0 0 236px,#0f0 0 237px,#6f0 0 240px,#7f0 0 242px,#0f1 0 244px,#1f0 0 246px,#af0 0 248px,#0f6 0 251px,#0f5 0 252px,#cf0 0 254px,#fff 0 260px,#0f2 0 265px,#0f4 0 270px,#0f8 0 275px,#0f6 0 280px,#1f0 0 284px,#2f0 0 285px,#0fa 0 288px,#0f9 0 290px,#0f7 0 295px,#0fa 0 296px,#0f9 0 300px,#0fd 0 303px,#0fc 0 305px,#0f5 0 310px,#2f0 0 313px,#3f0 0 315px,#0f6 0 320px,#0f7 0 322px,#0f6 0 325px,#0f3 0 330px,#6f0 0 335px,#0f7 0 340px,#0f1 0 345px,#0f2 0 350px,#1f0 0)"></i><i style="background:linear-gradient(#0f9 2px,#00d 0 4px,#00c 0 6px,#00d 0 8px,#0fe 0 9px,#0fd 0 11px,#0ff 0 12px,#0ef 0 14px,#0af 0 15px,#09f 0 16px,#08f 0 17px,#01f 0 18px,#00f 0 19px,#00e 0 20px,#02f 0 21px,#00f 0 23px,#00d 0 26px,#01f 0 27px,#00f 0 28px,#00e 0 29px,#00c 0 32px,#00d 0 44px,#00c 0 51px,#00b 0 52px,#00d 0 60px,#00c 0 64px,#00d 0 65px,#02f 0 68px,#00c 0 79px,#00b 0 80px,#00d 0 81px,#00c 0 84px,#00b 0 86px,#00e 0 90px,#01f 0 93px,#00c 0 97px,#0fd 0 100px,#0ff 0 103px,#00d 0 107px,#0ff 0 108px,#0bf 0 109px,#00d 0 117px,#0ff 0 119px,#00d 0 123px,#0ff 0 124px,#09f 0 128px,#0fb 0 129px,#00d 0 131px,#0fb 0 132px,#0fc 0 135px,#00d 0 136px,#00e 0 137px,#0fe 0 138px,#0fd 0 139px,#00e 0 142px,#00d 0 145px,#0ef 0 147px,#0ff 0 148px,#0ef 0 149px,#0ff 0 152px,#0bf 0 155px,#0cf 0 156px,#0fc 0 160px,#0fa 0 161px,#00e 0 163px,#0fa 0 164px,#0fc 0 168px,#0fd 0 171px,#0fc 0 172px,#0f7 0 174px,#0f6 0 179px,#0f5 0 180px,#0f8 0 184px,#0f5 0 188px,#1f0 0 190px,#2f0 0 192px,#1f0 0 195px,#2f0 0 196px,#0f2 0 199px,#0f1 0 200px,#0f2 0 204px,#0f7 0 205px,#0f6 0 208px,#3f0 0 211px,#4f0 0 212px,#6f0 0 216px,#0f2 0 220px,#0f9 0 223px,#0f8 0 224px,#0f4 0 232px,#2f0 0 236px,#0f1 0 240px,#0f4 0 244px,#3f0 0 248px,#0f2 0 249px,#0f1 0 252px,#0f2 0 254px,#fff 0 260px,#0f5 0 265px,#0f4 0 270px,#0fa 0 275px,#0f6 0 280px,#0f5 0 285px,#0f1 0 287px,#0f0 0 290px,#0f1 0 295px,#0f6 0 300px,#0f8 0 305px,#1f0 0 307px,#2f0 0 310px,#0fc 0 315px,#1f0 0 316px,#2f0 0 320px,#3f0 0 325px,#0f3 0 326px,#0f2 0 330px,#0f3 0 335px,#3f0 0 343px,#2f0 0 345px,#1f0 0)"></i><i style="background:linear-gradient(#00c 4px,#00d 0 5px,#0ef 0 6px,#0ff 0 7px,#0fe 0 8px,#00e 0 10px,#00f 0 11px,#0df 0 16px,#0cf 0 17px,#0ff 0 18px,#0df 0 19px,#0cf 0 20px,#04f 0 21px,#02f 0 22px,#00f 0 23px,#0fd 0 25px,#0fe 0 26px,#00d 0 29px,#06f 0 30px,#05f 0 31px,#04f 0 32px,#00b 0 36px,#00c 0 38px,#00b 0 44px,#00c 0 48px,#00e 0 51px,#00d 0 56px,#00b 0 60px,#00d 0 64px,#00c 0 65px,#00f 0 68px,#00b 0 76px,#00c 0 79px,#00b 0 80px,#00c 0 86px,#00f 0 87px,#00e 0 90px,#02f 0 91px,#01f 0 93px,#00c 0 99px,#00d 0 100px,#00e 0 102px,#00d 0 115px,#0df 0 116px,#0ef 0 120px,#08f 0 121px,#09f 0 124px,#0fd 0 127px,#00d 0 129px,#0cf 0 131px,#04f 0 133px,#08f 0 137px,#09f 0 140px,#0f7 0 141px,#00e 0 142px,#00d 0 143px,#0f7 0 144px,#0fd 0 148px,#0f8 0 152px,#0f0 0 153px,#00e 0 155px,#1f0 0 156px,#0ef 0 157px,#0ff 0 160px,#0f8 0 164px,#0f5 0 168px,#0f4 0 172px,#0fb 0 174px,#0fa 0 176px,#0f9 0 180px,#0f3 0 183px,#fd0 0 187px,#af0 0 190px,#5f0 0 192px,#cf0 0 194px,#5f0 0 196px,#df0 0 197px,#8f0 0 198px,#ef0 0 201px,#fe0 0 205px,#8f0 0 209px,#fd0 0 210px,#ef0 0 211px,#af0 0 214px,#ef0 0 218px,#df0 0 221px,#ff0 0 225px,#9f0 0 229px,#af0 0 232px,#5f0 0 235px,#7f0 0 237px,#fe0 0 239px,#bf0 0 241px,#fd0 0 242px,#ff0 0 244px,#df0 0 246px,#cf0 0 249px,#fe0 0 254px,#fff 0 260px,#0f7 0 265px,#0f4 0 266px,#0f3 0 273px,#0f2 0 275px,#0f4 0 280px,#0f9 0 282px,#0f8 0 285px,#0f2 0 290px,#0f6 0 295px,#0f9 0 299px,#0f8 0 300px,#0f3 0 305px,#0f9 0 307px,#0f8 0 310px,#4f0 0 313px,#5f0 0 315px,#6f0 0 318px,#7f0 0 320px,#0f0 0 325px,#0f5 0 330px,#ff0 0 335px,#2f0 0 340px,#0fa 0 341px,#0fb 0 345px,#0f1 0)"></i><i style="background:linear-gradient(#00c 1px,#00d 0 2px,#0ef 0 3px,#0fe 0 4px,#0fd 0 5px,#0af 0 6px,#0cf 0 7px,#0ef 0 8px,#0f7 0 10px,#0f6 0 11px,#0fd 0 14px,#0f9 0 15px,#0fa 0 17px,#0df 0 18px,#0bf 0 19px,#09f 0 20px,#0ef 0 21px,#0cf 0 22px,#09f 0 23px,#02f 0 25px,#00f 0 26px,#00d 0 40px,#00c 0 44px,#00d 0 48px,#00c 0 51px,#00b 0 52px,#00d 0 56px,#00c 0 60px,#00b 0 65px,#00e 0 68px,#00d 0 79px,#00c 0 86px,#00f 0 88px,#09f 0 99px,#00d 0 100px,#00e 0 101px,#09f 0 103px,#00d 0 105px,#09f 0 107px,#00d 0 111px,#09f 0 117px,#00d 0 119px,#09f 0 133px,#0fc 0 135px,#09f 0 139px,#0fc 0 140px,#0fe 0 145px,#00d 0 147px,#0fd 0 148px,#0f6 0 151px,#00e 0 152px,#04f 0 153px,#00e 0 161px,#0f5 0 164px,#0fe 0 166px,#0fd 0 168px,#0fe 0 173px,#00e 0 175px,#0fd 0 176px,#0f5 0 179px,#0f4 0 180px,#0f6 0 184px,#0f1 0 185px,#0f0 0 188px,#0f5 0 192px,#0f4 0 195px,#00e 0 197px,#0f3 0 200px,#0f9 0 202px,#0f8 0 204px,#0f3 0 207px,#00d 0 208px,#00e 0 209px,#0f4 0 212px,#0f3 0 216px,#0f0 0 220px,#0f3 0 224px,#0f1 0 228px,#0f9 0 232px,#0f4 0 240px,#0f3 0 244px,#0f1 0 247px,#00e 0 249px,#0f2 0 250px,#0f1 0 252px,#0f0 0 254px,#fff 0 260px,#0f6 0 261px,#0f5 0 265px,#0f6 0 267px,#0f5 0 270px,#0fb 0 275px,#0f4 0 277px,#0f3 0 283px,#0f2 0 285px,#0f1 0 290px,#0fc 0 294px,#0fb 0 295px,#0f3 0 300px,#0f0 0 302px,#1f0 0 305px,#0f2 0 310px,#0f3 0 314px,#0f2 0 315px,#0f1 0 330px,#0f0 0 335px,#0f1 0 340px,#0f6 0 341px,#0f7 0 345px,#0f4 0 350px,#0f1 0)"></i><i style="background:linear-gradient(#03f 1px,#06f 0 2px,#0fe 0 3px,#0fd 0 4px,#0fc 0 5px,#0ff 0 6px,#0fe 0 7px,#0fd 0 8px,#0df 0 9px,#0ff 0 11px,#0f5 0 14px,#0f8 0 16px,#0f9 0 17px,#0f8 0 18px,#0f9 0 19px,#0fa 0 20px,#01f 0 21px,#00e 0 22px,#00d 0 23px,#0ef 0 24px,#0cf 0 25px,#09f 0 26px,#00d 0 29px,#01f 0 30px,#00f 0 31px,#00e 0 32px,#04f 0 33px,#03f 0 34px,#02f 0 35px,#00c 0 36px,#00b 0 44px,#00c 0 48px,#00e 0 51px,#00d 0 56px,#00b 0 64px,#00d 0 65px,#02f 0 68px,#00d 0 84px,#00b 0 86px,#00e 0 90px,#01f 0 93px,#00c 0 99px,#00d 0 100px,#00e 0 102px,#00d 0 131px,#04f 0 134px,#00d 0 136px,#00e 0 142px,#00d 0 148px,#0f6 0 152px,#0fd 0 153px,#00e 0 157px,#0ff 0 160px,#0fe 0 164px,#0fa 0 168px,#0fb 0 169px,#00e 0 170px,#03f 0 171px,#0fb 0 172px,#0f9 0 173px,#0f8 0 179px,#0f7 0 180px,#0f6 0 182px,#0f5 0 184px,#0fb 0 186px,#0fa 0 188px,#0fd 0 191px,#0fc 0 192px,#0f8 0 193px,#00e 0 195px,#0f8 0 196px,#0f7 0 198px,#0f6 0 200px,#3f0 0 203px,#5f0 0 207px,#0f2 0 208px,#0f3 0 209px,#0f2 0 210px,#6f0 0 213px,#9f0 0 216px,#af0 0 220px,#0f6 0 224px,#5f0 0 228px,#0f5 0 230px,#6f0 0 234px,#7f0 0 238px,#0f4 0 240px,#0f2 0 241px,#df0 0 244px,#af0 0 247px,#ef0 0 250px,#3f0 0 254px,#fff 0 260px,#1f0 0 266px,#2f0 0 270px,#0f0 0 272px,#1f0 0 275px,#0f5 0 280px,#0f4 0 290px,#0f2 0 297px,#0f1 0 300px,#0f2 0 302px,#0f1 0 305px,#0f2 0 308px,#0f1 0 310px,#0f5 0 312px,#0f4 0 315px,#9f0 0 319px,#af0 0 320px,#0f3 0 323px,#0f2 0 325px,#cf0 0 330px,#3f0 0 335px,#0f2 0 340px,#5f0 0 341px,#4f0 0 345px,#5f0 0 348px,#4f0 0)"></i><i style="background:linear-gradient(#0ff 1px,#0fe 0 2px,#0af 0 3px,#0df 0 4px,#0fe 0 5px,#0ff 0 6px,#0fd 0 7px,#0fc 0 8px,#0fd 0 9px,#0fc 0 10px,#0fb 0 11px,#0fc 0 13px,#0fd 0 14px,#0f9 0 15px,#0fa 0 16px,#0fb 0 17px,#0f9 0 18px,#0fa 0 19px,#0fb 0 20px,#0df 0 21px,#0af 0 22px,#07f 0 23px,#09f 0 24px,#06f 0 25px,#03f 0 26px,#00c 0 28px,#00b 0 29px,#06f 0 30px,#04f 0 31px,#02f 0 32px,#00c 0 35px,#00d 0 44px,#00b 0 48px,#00e 0 51px,#00d 0 56px,#00c 0 64px,#00b 0 65px,#00e 0 68px,#00c 0 72px,#00d 0 76px,#00e 0 78px,#00d 0 80px,#00c 0 86px,#00e 0 90px,#02f 0 91px,#01f 0 93px,#00c 0 99px,#00d 0 100px,#00e 0 102px,#00d 0 131px,#04f 0 134px,#00d 0 136px,#00e 0 142px,#00d 0 148px,#00e 0 151px,#00f 0 152px,#00e 0 160px,#0fa 0 161px,#00e 0 163px,#0fa 0 164px,#0f8 0 168px,#0fd 0 170px,#0fc 0 175px,#0fb 0 176px,#0ff 0 177px,#0fe 0 180px,#0f7 0 184px,#0cf 0 187px,#0df 0 188px,#8f0 0 192px,#2f0 0 195px,#9f0 0 198px,#1f0 0 202px,#fd0 0 204px,#cf0 0 208px,#6f0 0 211px,#8f0 0 214px,#bf0 0 217px,#5f0 0 220px,#fe0 0 223px,#0f7 0 224px,#0f6 0 225px,#00d 0 226px,#bf0 0 228px,#ff0 0 230px,#df0 0 233px,#5f0 0 237px,#8f0 0 240px,#7f0 0 242px,#0f0 0 246px,#0f7 0 248px,#5f0 0 250px,#af0 0 253px,#ff0 0 254px,#fff 0 260px,#fa0 0 262px,#9f0 0 264px,#fe0 0 268px,#0fc 0 271px,#fd0 0 275px,#fc0 0 282px,#fa0 0 286px,#fb0 0 290px,#fd0 0 294px,#cf0 0 300px,#ff0 0 303px,#cf0 0 308px,#fa0 0 310px,#fd0 0 318px,#df0 0 321px,#bf0 0 327px,#f80 0 329px,#7f0 0 331px,#fc0 0 335px,#0f9 0 340px,#bf0 0 341px,#fc0 0 343px,#fe0 0 351px,#f90 0)"></i><i style="background:linear-gradient(#00c 1px,#00d 0 2px,#07f 0 3px,#0af 0 4px,#0df 0 5px,#0fc 0 6px,#0fb 0 7px,#0fa 0 8px,#06f 0 9px,#07f 0 10px,#09f 0 11px,#0f6 0 14px,#0f7 0 15px,#0f8 0 16px,#0f9 0 17px,#0fe 0 18px,#0ff 0 19px,#0cf 0 20px,#0f9 0 21px,#0fa 0 22px,#0fc 0 23px,#0bf 0 24px,#07f 0 25px,#04f 0 26px,#06f 0 27px,#04f 0 28px,#02f 0 29px,#01f 0 30px,#00f 0 31px,#00e 0 32px,#00c 0 36px,#00b 0 40px,#00c 0 44px,#00d 0 52px,#00b 0 60px,#00d 0 64px,#00c 0 65px,#00f 0 68px,#00d 0 76px,#00c 0 79px,#00b 0 80px,#00d 0 81px,#00c 0 84px,#00b 0 86px,#00e 0 90px,#01f 0 93px,#00d 0 94px,#00c 0 99px,#00d 0 100px,#00e 0 102px,#00d 0 106px,#06f 0 108px,#01f 0 109px,#00d 0 113px,#08f 0 116px,#00d 0 131px,#04f 0 134px,#00d 0 136px,#00e 0 142px,#00d 0 148px,#00e 0 162px,#0fc 0 163px,#0f9 0 164px,#0f5 0 167px,#00e 0 169px,#0fb 0 172px,#0fd 0 175px,#0fc 0 176px,#0fd 0 180px,#0fe 0 181px,#0fd 0 184px,#0fe 0 187px,#0fd 0 188px,#0f4 0 191px,#0f3 0 192px,#0fc 0 196px,#0fb 0 197px,#0fa 0 200px,#6f0 0 204px,#df0 0 207px,#3f0 0 209px,#ef0 0 212px,#bf0 0 216px,#ff0 0 219px,#ef0 0 222px,#fc0 0 225px,#bf0 0 229px,#cf0 0 231px,#af0 0 235px,#8f0 0 239px,#00e 0 241px,#9f0 0 245px,#ff0 0 247px,#df0 0 249px,#5f0 0 252px,#fd0 0 254px,#fff 0 260px,#0fb 0 264px,#0fa 0 265px,#0f8 0 270px,#0f5 0 275px,#0f8 0 277px,#0f7 0 278px,#f80 0 280px,#0f7 0 283px,#fe0 0 287px,#fa0 0 291px,#fd0 0 297px,#fa0 0 301px,#f80 0 306px,#fd0 0 311px,#f60 0 316px,#0f0 0 317px,#1f0 0 318px,#f90 0 324px,#fb0 0 328px,#0f5 0 330px,#f80 0 332px,#fc0 0 334px,#fe0 0 340px,#fd0 0 342px,#fa0 0 348px,#1f0 0 350px,#7f0 0 351px,#ff0 0)"></i><i style="background:linear-gradient(#01f 1px,#05f 0 2px,#0fa 0 3px,#0f9 0 4px,#0f8 0 5px,#00e 0 6px,#00f 0 7px,#03f 0 8px,#0cf 0 9px,#0ef 0 10px,#0ff 0 11px,#0fb 0 12px,#0fa 0 13px,#0fb 0 14px,#0fa 0 16px,#0fb 0 17px,#0f6 0 18px,#0f7 0 19px,#0f8 0 20px,#0fa 0 21px,#0fb 0 22px,#0fc 0 23px,#0ff 0 24px,#0ef 0 25px,#0bf 0 26px,#01f 0 27px,#00e 0 28px,#00d 0 36px,#00c 0 38px,#00b 0 40px,#00c 0 41px,#00d 0 51px,#00c 0 52px,#00d 0 60px,#00b 0 64px,#00c 0 65px,#00f 0 68px,#00c 0 79px,#00b 0 84px,#00c 0 86px,#00f 0 87px,#00e 0 90px,#01f 0 93px,#00d 0 94px,#00c 0 99px,#00d 0 100px,#00e 0 102px,#00d 0 111px,#02f 0 112px,#0bf 0 113px,#00d 0 127px,#0df 0 128px,#0bf 0 132px,#0ef 0 133px,#04f 0 134px,#00d 0 136px,#00e 0 139px,#0cf 0 140px,#09f 0 143px,#00d 0 147px,#0af 0 148px,#00e 0 155px,#0ef 0 156px,#0fe 0 157px,#00e 0 159px,#0fe 0 163px,#0fc 0 168px,#0cf 0 172px,#0fc 0 176px,#0f8 0 179px,#00e 0 181px,#0f8 0 182px,#0f7 0 184px,#0f5 0 185px,#00e 0 189px,#0fa 0 190px,#0f9 0 192px,#0f8 0 196px,#0f9 0 200px,#0f7 0 204px,#0f6 0 208px,#0f2 0 212px,#0f8 0 213px,#00d 0 215px,#0f8 0 216px,#0fa 0 220px,#0f9 0 224px,#0f6 0 228px,#0f9 0 230px,#0f8 0 232px,#0f9 0 234px,#0f8 0 240px,#0f9 0 244px,#0f5 0 248px,#0f3 0 254px,#fff 0 260px,#0fc 0 265px,#0f7 0 270px,#0f5 0 275px,#0fa 0 280px,#0fb 0 290px,#0f7 0 295px,#0f8 0 296px,#0f7 0 300px,#0f5 0 305px,#0f9 0 308px,#0f8 0 310px,#1f0 0 315px,#0f5 0 317px,#0f4 0 320px,#3f0 0 321px,#4f0 0 325px,#0f1 0 335px,#0f5 0 340px,#0f1 0 345px,#0f4 0 350px,#0fa 0)"></i><i style="background:linear-gradient(#0fb 1px,#0f9 0 2px,#00d 0 3px,#00e 0 4px,#00f 0 5px,#00d 0 6px,#00e 0 7px,#01f 0 8px,#0f7 0 10px,#0f6 0 11px,#0fb 0 14px,#0f8 0 15px,#0f9 0 16px,#0fa 0 18px,#0fb 0 19px,#0fc 0 20px,#0fd 0 21px,#0fe 0 22px,#0df 0 23px,#00e 0 25px,#00d 0 26px,#04f 0 27px,#01f 0 28px,#00f 0 29px,#00d 0 32px,#00c 0 36px,#00b 0 40px,#00d 0 52px,#00b 0 60px,#00c 0 64px,#00d 0 65px,#02f 0 68px,#00c 0 72px,#00b 0 76px,#00e 0 79px,#00d 0 80px,#00c 0 86px,#00f 0 87px,#00e 0 90px,#01f 0 93px,#00d 0 94px,#00c 0 99px,#00d 0 100px,#00e 0 102px,#00d 0 109px,#0af 0 112px,#07f 0 120px,#09f 0 124px,#0bf 0 128px,#08f 0 131px,#04f 0 134px,#00d 0 135px,#03f 0 136px,#06f 0 137px,#00e 0 141px,#09f 0 144px,#0ef 0 146px,#0fb 0 148px,#0fd 0 152px,#0fe 0 156px,#0fd 0 160px,#0cf 0 161px,#00e 0 163px,#0cf 0 164px,#0fc 0 167px,#00e 0 169px,#0fe 0 172px,#0fd 0 173px,#0fc 0 175px,#00e 0 177px,#0fd 0 179px,#0fc 0 180px,#0fd 0 188px,#0f9 0 192px,#00e 0 195px,#0f8 0 196px,#0fe 0 198px,#0fd 0 200px,#0f6 0 204px,#0ff 0 208px,#0fa 0 210px,#0f9 0 212px,#0f7 0 216px,#00f 0 219px,#0f5 0 220px,#0f9 0 224px,#0f5 0 228px,#0f8 0 232px,#0f6 0 236px,#0fa 0 240px,#0f3 0 241px,#00e 0 243px,#0f2 0 244px,#0fb 0 248px,#0f7 0 252px,#0f8 0 254px,#fff 0 260px,#0f5 0 265px,#0f8 0 275px,#0fb 0 280px,#0f7 0 284px,#0f6 0 285px,#0fd 0 288px,#0fc 0 290px,#0f6 0 295px,#0f5 0 299px,#0f4 0 300px,#0f0 0 302px,#1f0 0 305px,#0f5 0 309px,#0f4 0 310px,#0f3 0 313px,#0f2 0 315px,#0f6 0 320px,#af0 0 322px,#bf0 0 325px,#0f6 0 329px,#0f5 0 330px,#0f3 0 335px,#6f0 0 340px,#3f0 0 345px,#9f0 0 350px,#0f5 0)"></i><i style="background:linear-gradient(#0af 1px,#0df 0 2px,#03f 0 3px,#05f 0 4px,#08f 0 5px,#0ef 0 6px,#0ff 0 7px,#0fe 0 8px,#0cf 0 9px,#0df 0 10px,#0ef 0 11px,#0cf 0 12px,#0ef 0 14px,#06f 0 15px,#05f 0 16px,#04f 0 18px,#01f 0 19px,#00f 0 20px,#00c 0 23px,#00d 0 28px,#00c 0 29px,#00f 0 30px,#00e 0 31px,#00d 0 44px,#00b 0 48px,#00c 0 51px,#00b 0 52px,#00c 0 56px,#00b 0 64px,#00c 0 65px,#01f 0 68px,#00b 0 76px,#00d 0 79px,#00c 0 80px,#00b 0 84px,#00c 0 86px,#00e 0 90px,#02f 0 91px,#01f 0 93px,#00c 0 99px,#00d 0 100px,#00e 0 102px,#00d 0 109px,#0bf 0 112px,#0af 0 115px,#00d 0 119px,#0bf 0 120px,#04f 0 124px,#09f 0 127px,#00d 0 129px,#08f 0 132px,#07f 0 133px,#04f 0 134px,#00d 0 135px,#07f 0 136px,#09f 0 138px,#0fe 0 140px,#0ef 0 141px,#00e 0 142px,#00d 0 143px,#0ef 0 144px,#0cf 0 145px,#00d 0 147px,#0cf 0 148px,#0fe 0 150px,#0fd 0 152px,#0fe 0 153px,#00e 0 155px,#0fe 0 159px,#0fd 0 160px,#0fb 0 164px,#0fd 0 171px,#00e 0 175px,#0df 0 176px,#0ef 0 179px,#0ff 0 180px,#00d 0 192px,#00e 0 193px,#0fc 0 195px,#00e 0 197px,#0fe 0 199px,#0fd 0 200px,#0bf 0 201px,#00d 0 207px,#0df 0 208px,#0fc 0 209px,#00e 0 211px,#0fc 0 213px,#00e 0 216px,#0fe 0 217px,#00e 0 219px,#0fe 0 220px,#0fc 0 224px,#0fb 0 228px,#0fd 0 232px,#0f8 0 236px,#0f5 0 237px,#00f 0 240px,#0fd 0 244px,#0fe 0 246px,#00d 0 247px,#0fe 0 248px,#0f4 0 251px,#00e 0 253px,#0fb 0 254px,#fff 0 260px,#0fb 0 265px,#0f7 0 270px,#0f8 0 275px,#00f 0 280px,#0fe 0 285px,#0fc 0 288px,#0fb 0 290px,#0af 0 292px,#0bf 0 294px,#0cf 0 295px,#0f5 0 296px,#0f4 0 300px,#0f3 0 305px,#0f7 0 307px,#0f6 0 310px,#0fa 0 313px,#0f9 0 315px,#0f3 0 320px,#0f1 0 325px,#0f4 0 326px,#0f3 0 330px,#0f4 0 335px,#cf0 0 340px,#0f2 0 345px,#0f3 0 350px,#1f0 0)"></i><i style="background:linear-gradient(#02f 1px,#04f 0 2px,#06f 0 3px,#08f 0 4px,#0af 0 5px,#0fd 0 6px,#0fc 0 8px,#00d 0 11px,#0fe 0 14px,#0fd 0 15px,#0fe 0 17px,#01f 0 18px,#00f 0 19px,#00e 0 20px,#08f 0 21px,#06f 0 22px,#04f 0 23px,#00b 0 24px,#00d 0 29px,#0bf 0 30px,#0af 0 31px,#09f 0 32px,#00b 0 36px,#00d 0 38px,#00c 0 40px,#00b 0 44px,#00d 0 48px,#00e 0 51px,#00d 0 52px,#00c 0 56px,#00b 0 60px,#00d 0 64px,#00b 0 65px,#00e 0 68px,#00d 0 80px,#00c 0 86px,#00e 0 90px,#02f 0 91px,#01f 0 93px,#00c 0 99px,#00d 0 100px,#00e 0 102px,#00d 0 116px,#07f 0 117px,#00d 0 125px,#06f 0 128px,#09f 0 132px,#0fe 0 133px,#04f 0 134px,#00d 0 135px,#0fe 0 136px,#0ef 0 139px,#00e 0 141px,#0ef 0 144px,#0bf 0 148px,#0cf 0 149px,#00e 0 151px,#0cf 0 152px,#0df 0 153px,#00e 0 159px,#0cf 0 160px,#0fc 0 161px,#00e 0 163px,#0fc 0 164px,#0ff 0 168px,#0ef 0 172px,#0fe 0 173px,#00e 0 177px,#0fe 0 180px,#00d 0 184px,#00e 0 198px,#0fc 0 200px,#0fe 0 201px,#00e 0 203px,#0fe 0 204px,#0fb 0 205px,#00d 0 207px,#00f 0 208px,#00e 0 210px,#0fe 0 213px,#00e 0 232px,#00d 0 234px,#00e 0 244px,#00f 0 247px,#00e 0 254px,#fff 0 260px,#0fd 0 265px,#0f8 0 270px,#0fb 0 275px,#0f5 0 280px,#0fa 0 289px,#0f9 0 290px,#0fa 0 291px,#0f9 0 295px,#0f1 0 298px,#0f0 0 300px,#0f9 0 309px,#0f8 0 310px,#0f7 0 312px,#0f6 0 315px,#1f0 0 319px,#2f0 0 320px,#0f4 0 323px,#0f3 0 325px,#0f2 0 330px,#0f5 0 334px,#0f6 0 335px,#0f9 0 340px,#0f6 0 345px,#0f4 0 350px,#0f8 0)"></i><i style="background:linear-gradient(#00c 2px,#00d 0 3px,#00e 0 4px,#00f 0 5px,#00d 0 6px,#00e 0 8px,#06f 0 9px,#07f 0 10px,#08f 0 11px,#01f 0 12px,#00e 0 14px,#0fa 0 17px,#00c 0 20px,#00d 0 24px,#00c 0 26px,#00d 0 27px,#00c 0 28px,#00d 0 29px,#00f 0 31px,#00e 0 32px,#00c 0 44px,#00b 0 48px,#00d 0 51px,#00c 0 52px,#00d 0 56px,#00c 0 60px,#00d 0 64px,#00b 0 65px,#00e 0 68px,#00b 0 72px,#00c 0 79px,#00b 0 80px,#00d 0 84px,#00b 0 86px,#00e 0 90px,#02f 0 91px,#01f 0 93px,#00c 0 99px,#00d 0 100px,#00e 0 102px,#00d 0 125px,#0fe 0 127px,#0fd 0 132px,#0fe 0 136px,#0fd 0 139px,#00e 0 142px,#00d 0 147px,#0cf 0 148px,#0fc 0 149px,#00e 0 153px,#0df 0 154px,#0ef 0 159px,#00e 0 165px,#0fd 0 166px,#0fc 0 167px,#00e 0 171px,#0fd 0 172px,#0fb 0 175px,#00e 0 177px,#0af 0 179px,#00e 0 188px,#00f 0 192px,#00e 0 204px,#00f 0 208px,#00e 0 216px,#00f 0 220px,#00d 0 224px,#00e 0 240px,#00f 0 244px,#00d 0 246px,#00e 0 251px,#00f 0 252px,#00e 0 254px,#fff 0 260px,#0f9 0 270px,#0f1 0 275px,#0f5 0 280px,#0fb 0 285px,#0fd 0 290px,#0f9 0 291px,#0f8 0 295px,#0f5 0 296px,#0f4 0 300px,#0f5 0 303px,#0f4 0 310px,#0f5 0 311px,#0f4 0 315px,#4f0 0 318px,#5f0 0 320px,#2f0 0 323px,#3f0 0 325px,#0f7 0 330px,#9f0 0 332px,#8f0 0 335px,#6f0 0 337px,#5f0 0 340px,#0f2 0 344px,#0f3 0 345px,#0f1 0 350px,#0f8 0)"></i><i style="background:linear-gradient(#00c 4px,#00d 0 5px,#00c 0 7px,#00d 0 8px,#0fe 0 11px,#00c 0 12px,#00d 0 14px,#0ff 0 15px,#0df 0 17px,#00d 0 24px,#00b 0 28px,#00d 0 44px,#00c 0 48px,#00e 0 51px,#00d 0 52px,#00b 0 64px,#00d 0 65px,#02f 0 68px,#00d 0 72px,#00b 0 76px,#00d 0 79px,#00c 0 80px,#00d 0 83px,#00c 0 86px,#00e 0 90px,#01f 0 93px,#00d 0 94px,#00c 0 99px,#00d 0 100px,#00e 0 102px,#00d 0 119px,#0fe 0 120px,#0fb 0 121px,#00d 0 123px,#0fb 0 124px,#0cf 0 125px,#00d 0 129px,#0fc 0 132px,#0fe 0 136px,#0af 0 140px,#0cf 0 141px,#00e 0 142px,#00d 0 147px,#0ff 0 148px,#0af 0 152px,#0fd 0 155px,#00e 0 157px,#0fd 0 159px,#00e 0 163px,#0fd 0 164px,#0fe 0 165px,#00e 0 169px,#0fc 0 172px,#0fd 0 175px,#00e 0 177px,#0fd 0 179px,#00e 0 192px,#00f 0 196px,#00d 0 200px,#00f 0 204px,#00e 0 212px,#00f 0 216px,#00e 0 224px,#00f 0 228px,#00e 0 232px,#00f 0 240px,#00d 0 244px,#00e 0 254px,#fff 0 260px,#0f3 0 265px,#0f5 0 274px,#0f4 0 275px,#4f0 0 280px,#0f1 0 290px,#0f0 0 295px,#0f1 0 298px,#0f0 0 300px,#0f5 0 304px,#0f4 0 310px,#6f0 0 314px,#7f0 0 315px,#6f0 0 317px,#7f0 0 320px,#0f0 0 328px,#1f0 0 330px,#7f0 0 332px,#6f0 0 334px,#5f0 0 335px,#7f0 0 337px,#6f0 0 339px,#5f0 0 340px,#0f2 0 343px,#0f3 0 346px,#0f4 0 349px,#0f5 0 350px,#0f2 0 351px,#0f3 0)"></i><i style="background:linear-gradient(#00e 1px,#00f 0 2px,#0af 0 3px,#0df 0 4px,#0fe 0 5px,#04f 0 6px,#06f 0 7px,#07f 0 8px,#0f6 0 9px,#0f7 0 11px,#0fd 0 12px,#0fe 0 13px,#0ff 0 14px,#00c 0 16px,#00d 0 17px,#0df 0 18px,#0bf 0 19px,#09f 0 20px,#00b 0 24px,#00c 0 28px,#00d 0 40px,#00b 0 44px,#00d 0 51px,#00c 0 52px,#00d 0 56px,#00b 0 60px,#00d 0 65px,#02f 0 68px,#00c 0 72px,#00d 0 80px,#00c 0 84px,#00b 0 86px,#00e 0 90px,#01f 0 93px,#00c 0 99px,#00d 0 100px,#00e 0 102px,#00d 0 112px,#0fc 0 116px,#0ff 0 120px,#09f 0 124px,#0fe 0 128px,#0af 0 131px,#04f 0 133px,#0ff 0 135px,#00d 0 136px,#00e 0 137px,#0ff 0 139px,#00e 0 141px,#0ef 0 144px,#0ff 0 148px,#0fd 0 149px,#00e 0 151px,#0fd 0 152px,#0af 0 154px,#0bf 0 156px,#0fd 0 157px,#00e 0 161px,#0ef 0 164px,#0ff 0 167px,#00e 0 208px,#00d 0 220px,#00e 0 224px,#00f 0 228px,#00e 0 254px,#fff 0 260px,#0f2 0 264px,#0f1 0 266px,#0f0 0 271px,#1f0 0 274px,#2f0 0 280px,#0f4 0 285px,#1f0 0 290px,#6f0 0 294px,#0f1 0 297px,#0f2 0 300px,#9f0 0 305px,#0f2 0 313px,#0f1 0 318px,#bf0 0 320px,#0f0 0 325px,#7f0 0 329px,#1f0 0 333px,#0f4 0 335px,#0f1 0 341px,#5f0 0 345px,#0f4 0 349px,#3f0 0)"></i><i style="background:linear-gradient(#00e 1px,#00f 0 2px,#01f 0 3px,#03f 0 4px,#05f 0 5px,#00d 0 6px,#00e 0 8px,#09f 0 10px,#08f 0 12px,#06f 0 13px,#04f 0 14px,#00d 0 15px,#00c 0 17px,#00d 0 18px,#00c 0 19px,#00b 0 20px,#00d 0 24px,#00b 0 28px,#00c 0 32px,#00d 0 36px,#00b 0 40px,#00c 0 44px,#00d 0 51px,#00c 0 56px,#00b 0 60px,#00d 0 64px,#00c 0 65px,#00f 0 68px,#00c 0 76px,#00e 0 79px,#00d 0 80px,#00c 0 83px,#00b 0 84px,#00c 0 86px,#00f 0 88px,#00e 0 90px,#02f 0 91px,#01f 0 93px,#00d 0 94px,#00c 0 99px,#00d 0 100px,#00e 0 102px,#00d 0 107px,#0fe 0 108px,#0cf 0 109px,#00d 0 111px,#0df 0 112px,#0af 0 116px,#0fe 0 119px,#00d 0 123px,#0fe 0 124px,#0fb 0 128px,#0ff 0 129px,#00d 0 131px,#0ff 0 132px,#0fe 0 136px,#0ff 0 137px,#0fe 0 139px,#00e 0 142px,#00d 0 145px,#0fe 0 148px,#0fd 0 149px,#00e 0 153px,#0ff 0 155px,#00e 0 157px,#0fe 0 158px,#00e 0 175px,#00d 0 176px,#00e 0 184px,#01f 0 188px,#00e 0 192px,#00d 0 196px,#00f 0 200px,#00d 0 204px,#00e 0 208px,#00f 0 212px,#00e 0 240px,#00f 0 244px,#00e 0 246px,#0cf 0 250px,#0fb 0 254px,#fff 0 260px,#0f3 0 265px,#af0 0 266px,#ff0 0 268px,#af0 0 270px,#5f0 0 272px,#af0 0 276px,#6f0 0 280px,#9f0 0 284px,#2f0 0 285px,#6f0 0 290px,#3f0 0 295px,#fd0 0 296px,#af0 0 298px,#fd0 0 300px,#0f2 0 310px,#af0 0 314px,#9f0 0 316px,#6f0 0 320px,#ff0 0 322px,#7f0 0 324px,#ff0 0 330px,#bf0 0 331px,#4f0 0 333px,#3f0 0 335px,#6f0 0 336px,#5f0 0 337px,#4f0 0 339px,#3f0 0 340px,#0f1 0 343px,#0f2 0 345px,#8f0 0 346px,#7f0 0 348px,#6f0 0 349px,#5f0 0 350px,#0f2 0 351px,#0f3 0)"></i><i style="background:linear-gradient(#00c 5px,#05f 0 6px,#06f 0 8px,#08f 0 10px,#07f 0 11px,#0fc 0 12px,#0fd 0 14px,#00d 0 18px,#00c 0 20px,#00d 0 23px,#03f 0 24px,#04f 0 26px,#00d 0 28px,#00c 0 32px,#00d 0 36px,#00c 0 40px,#00d 0 44px,#00c 0 48px,#00e 0 51px,#00d 0 60px,#00c 0 64px,#00d 0 65px,#02f 0 68px,#00d 0 72px,#00c 0 76px,#00d 0 79px,#00c 0 86px,#00e 0 90px,#01f 0 93px,#00c 0 99px,#00d 0 100px,#00e 0 102px,#06f 0 104px,#0fc 0 105px,#00d 0 109px,#0fc 0 112px,#09f 0 115px,#00d 0 119px,#0cf 0 120px,#0fd 0 123px,#00d 0 127px,#0fd 0 128px,#0ef 0 129px,#00d 0 131px,#0ef 0 132px,#0fe 0 137px,#00e 0 141px,#0bf 0 144px,#0fc 0 145px,#00d 0 147px,#0fc 0 148px,#0fe 0 149px,#00e 0 155px,#01f 0 156px,#00e 0 177px,#00d 0 180px,#00e 0 196px,#00f 0 200px,#00e 0 220px,#00f 0 224px,#00e 0 248px,#06f 0 249px,#0f2 0 252px,#04f 0 254px,#fff 0 260px,#0f3 0 262px,#bf0 0 264px,#0f3 0 265px,#1f0 0 267px,#2f0 0 268px,#cf0 0 272px,#ff0 0 275px,#0f1 0 280px,#6f0 0 285px,#4f0 0 286px,#8f0 0 288px,#4f0 0 290px,#0f0 0 292px,#df0 0 294px,#0f0 0 295px,#bf0 0 300px,#0f2 0 304px,#0f1 0 305px,#1f0 0 308px,#8f0 0 312px,#0f1 0 315px,#1f0 0 316px,#af0 0 320px,#4f0 0 324px,#9f0 0 326px,#0f3 0 330px,#0f0 0 331px,#0f1 0 332px,#8f0 0 333px,#0f1 0 334px,#0f2 0 335px,#0f0 0 336px,#0f1 0 339px,#0f2 0 340px,#0f3 0 343px,#0f4 0 345px,#0f6 0 348px,#0f7 0 350px,#0f5 0)"></i><i style="background:linear-gradient(#04f 1px,#05f 0 2px,#00c 0 5px,#00d 0 8px,#00f 0 9px,#01f 0 11px,#00d 0 12px,#00c 0 26px,#0ef 0 27px,#0df 0 29px,#00b 0 32px,#00c 0 38px,#03f 0 39px,#02f 0 40px,#03f 0 41px,#00d 0 44px,#00b 0 48px,#00d 0 52px,#00b 0 56px,#00d 0 60px,#00c 0 65px,#00f 0 68px,#00d 0 72px,#00b 0 76px,#00d 0 79px,#00c 0 80px,#00d 0 84px,#00c 0 86px,#00f 0 88px,#00e 0 90px,#02f 0 91px,#01f 0 93px,#00c 0 99px,#0df 0 100px,#07f 0 103px,#00d 0 107px,#0ff 0 108px,#0ef 0 112px,#0fc 0 113px,#00d 0 117px,#0ef 0 120px,#0fd 0 123px,#00d 0 125px,#0fe 0 127px,#00d 0 131px,#0fb 0 132px,#0fe 0 135px,#00d 0 136px,#00e 0 142px,#00d 0 148px,#00e 0 196px,#00d 0 200px,#00e 0 216px,#00f 0 220px,#00d 0 228px,#00e 0 236px,#00d 0 240px,#00e 0 243px,#06f 0 252px,#cf0 0 254px,#fff 0 260px,#1f0 0 264px,#8f0 0 266px,#7f0 0 269px,#8f0 0 270px,#0f1 0 274px,#ff0 0 276px,#0f4 0 278px,#0f3 0 280px,#6f0 0 284px,#2f0 0 285px,#6f0 0 287px,#7f0 0 290px,#bf0 0 292px,#3f0 0 295px,#ef0 0 296px,#af0 0 298px,#ef0 0 300px,#2f0 0 303px,#3f0 0 304px,#9f0 0 306px,#df0 0 310px,#3f0 0 312px,#9f0 0 316px,#1f0 0 320px,#bf0 0 322px,#af0 0 325px,#7f0 0 328px,#af0 0 332px,#8f0 0 333px,#7f0 0 335px,#0f7 0 337px,#0f8 0 340px,#2f0 0 341px,#1f0 0 342px,#0f0 0 344px,#0f1 0 345px,#0f7 0 346px,#0f8 0 349px,#0f9 0 350px,#0f6 0 352px,#0f7 0)"></i><i style="background:linear-gradient(#09f 1px,#0af 0 2px,#09f 0 3px,#0af 0 4px,#0cf 0 5px,#00d 0 8px,#08f 0 9px,#09f 0 11px,#0fc 0 14px,#00f 0 17px,#04f 0 20px,#0fc 0 23px,#04f 0 24px,#05f 0 25px,#04f 0 26px,#00e 0 28px,#00f 0 32px,#00c 0 35px,#04f 0 38px,#00d 0 44px,#00c 0 52px,#00d 0 56px,#00b 0 60px,#00c 0 65px,#01f 0 68px,#00d 0 76px,#00e 0 79px,#00d 0 80px,#00c 0 86px,#00f 0 88px,#00e 0 90px,#01f 0 93px,#0fc 0 96px,#0cf 0 97px,#00c 0 99px,#0df 0 101px,#00e 0 102px,#00d 0 105px,#0fc 0 108px,#0ff 0 111px,#00d 0 115px,#0fd 0 116px,#0fc 0 117px,#00d 0 121px,#0fe 0 123px,#00d 0 125px,#0ff 0 128px,#0cf 0 129px,#00d 0 131px,#04f 0 133px,#0ef 0 135px,#00d 0 136px,#00e 0 142px,#00d 0 148px,#00e 0 154px,#03f 0 156px,#00e 0 188px,#00d 0 196px,#00e 0 212px,#00f 0 216px,#00e 0 231px,#00f 0 232px,#00d 0 236px,#00e 0 237px,#09f 0 241px,#5f0 0 244px,#7f0 0 248px,#2f0 0 252px,#3f0 0 254px,#fff 0 260px,#0f3 0 262px,#ef0 0 264px,#0f3 0 265px,#0f5 0 267px,#0f4 0 268px,#9f0 0 270px,#0f3 0 275px,#7f0 0 276px,#df0 0 280px,#1f0 0 284px,#cf0 0 288px,#7f0 0 290px,#3f0 0 294px,#af0 0 296px,#0f0 0 300px,#0f1 0 302px,#ef0 0 304px,#0f1 0 305px,#0f4 0 308px,#ef0 0 310px,#4f0 0 314px,#3f0 0 315px,#0f4 0 316px,#bf0 0 320px,#9f0 0 323px,#8f0 0 324px,#af0 0 326px,#0f6 0 330px,#0f1 0 332px,#bf0 0 334px,#0f2 0 335px,#0f8 0 336px,#0f9 0 339px,#0fa 0 340px,#0f3 0 343px,#0f4 0 345px,#0f5 0 346px,#0f6 0 349px,#0f7 0 350px,#0fa 0 352px,#0fb 0)"></i><i style="background:linear-gradient(#00d 1px,#00e 0 2px,#0fe 0 3px,#0fd 0 5px,#00d 0 8px,#0fd 0 11px,#0cf 0 12px,#0ff 0 14px,#0bf 0 16px,#0af 0 17px,#00d 0 20px,#0fe 0 24px,#0ff 0 25px,#0ef 0 26px,#00f 0 27px,#00e 0 28px,#02f 0 29px,#0ff 0 31px,#0ef 0 32px,#0fb 0 34px,#0fc 0 35px,#08f 0 36px,#07f 0 37px,#06f 0 38px,#00e 0 40px,#00d 0 41px,#0df 0 42px,#0cf 0 43px,#0bf 0 44px,#00f 0 46px,#00e 0 47px,#00d 0 51px,#00c 0 52px,#00d 0 56px,#00c 0 60px,#00b 0 65px,#00e 0 68px,#00b 0 72px,#00c 0 79px,#00b 0 80px,#00c 0 84px,#00b 0 86px,#00e 0 89px,#07f 0 92px,#0fe 0 97px,#0fd 0 99px,#00d 0 100px,#00e 0 101px,#0fe 0 112px,#0bf 0 115px,#00d 0 121px,#0fe 0 124px,#0fd 0 127px,#00d 0 131px,#04f 0 134px,#00d 0 136px,#00e 0 142px,#00d 0 148px,#00e 0 188px,#00d 0 192px,#00f 0 196px,#00e 0 200px,#00d 0 204px,#00e 0 205px,#00d 0 207px,#00f 0 208px,#00e 0 222px,#0fc 0 224px,#07f 0 227px,#0fc 0 231px,#00e 0 232px,#00d 0 234px,#0fb 0 240px,#4f0 0 244px,#bf0 0 248px,#2f0 0 252px,#0fb 0 254px,#fff 0 260px,#0f1 0 264px,#df0 0 268px,#0f4 0 269px,#0f3 0 270px,#7f0 0 272px,#4f0 0 280px,#1f0 0 282px,#6f0 0 284px,#1f0 0 285px,#3f0 0 288px,#cf0 0 292px,#0f0 0 294px,#1f0 0 295px,#2f0 0 300px,#0f1 0 304px,#ef0 0 306px,#0f0 0 310px,#4f0 0 314px,#9f0 0 316px,#0f5 0 317px,#0f6 0 320px,#8f0 0 324px,#6f0 0 325px,#cf0 0 328px,#5f0 0 332px,#0f4 0 335px,#1f0 0 337px,#0f0 0 339px,#0f1 0 340px,#0f7 0 341px,#0f8 0 344px,#0f9 0 346px,#0fa 0 349px,#0fb 0 350px,#0f9 0)"></i><i style="background:linear-gradient(#00c 3px,#00d 0 5px,#00e 0 6px,#00f 0 8px,#00c 0 9px,#00d 0 11px,#06f 0 12px,#09f 0 13px,#0af 0 14px,#0fe 0 16px,#0ff 0 17px,#08f 0 20px,#02f 0 23px,#00c 0 24px,#00d 0 26px,#09f 0 28px,#08f 0 29px,#0fa 0 32px,#0fd 0 35px,#0af 0 36px,#08f 0 37px,#07f 0 38px,#00c 0 40px,#00b 0 41px,#00d 0 44px,#00e 0 46px,#00d 0 48px,#00e 0 49px,#00d 0 50px,#00c 0 51px,#00b 0 53px,#0bf 0 54px,#0af 0 56px,#00c 0 60px,#00d 0 64px,#00c 0 65px,#01f 0 68px,#00b 0 72px,#00c 0 80px,#00b 0 84px,#00c 0 86px,#0ff 0 92px,#0fe 0 96px,#0ff 0 99px,#00d 0 100px,#00e 0 101px,#0ff 0 104px,#0fd 0 108px,#0bf 0 112px,#0fd 0 116px,#09f 0 120px,#00d 0 131px,#04f 0 134px,#00d 0 136px,#00e 0 142px,#00d 0 148px,#00e 0 177px,#00d 0 184px,#00e 0 188px,#00d 0 192px,#00e 0 196px,#00d 0 200px,#00f 0 201px,#00e 0 205px,#00d 0 207px,#00e 0 212px,#00d 0 217px,#00e 0 218px,#0f8 0 225px,#00e 0 228px,#0fd 0 234px,#0f9 0 238px,#0fe 0 239px,#7f0 0 240px,#0fe 0 242px,#5f0 0 244px,#1f0 0 248px,#8f0 0 252px,#9f0 0 254px,#fff 0 260px,#0f1 0 261px,#9f0 0 262px,#0f1 0 265px,#5f0 0 266px,#6f0 0 270px,#3f0 0 275px,#cf0 0 276px,#ff0 0 280px,#3f0 0 281px,#4f0 0 284px,#7f0 0 288px,#9f0 0 295px,#0f0 0 300px,#0f1 0 302px,#af0 0 304px,#0f1 0 305px,#4f0 0 308px,#bf0 0 312px,#2f0 0 313px,#1f0 0 315px,#0f3 0 318px,#ef0 0 320px,#5f0 0 321px,#4f0 0 325px,#1f0 0 326px,#bf0 0 328px,#1f0 0 330px,#4f0 0 331px,#3f0 0 332px,#af0 0 334px,#1f0 0 335px,#6f0 0 336px,#5f0 0 338px,#4f0 0 339px,#3f0 0 340px,#0f8 0 342px,#0f9 0 345px,#0f4 0 348px,#0f5 0 351px,#0f6 0)"></i><i style="background:linear-gradient(#00e 1px,#00f 0 2px,#00c 0 4px,#00d 0 5px,#08f 0 6px,#09f 0 7px,#0af 0 8px,#00c 0 14px,#00f 0 16px,#01f 0 17px,#00d 0 20px,#00e 0 23px,#00d 0 26px,#0fc 0 29px,#00f 0 32px,#00c 0 36px,#00d 0 47px,#00f 0 48px,#00d 0 50px,#00c 0 51px,#00b 0 52px,#00d 0 53px,#0fd 0 55px,#0fe 0 56px,#07f 0 57px,#06f 0 59px,#00d 0 60px,#00c 0 65px,#00f 0 68px,#00b 0 76px,#00e 0 78px,#00d 0 80px,#00c 0 84px,#00b 0 86px,#0bf 0 88px,#0cf 0 91px,#01f 0 93px,#00c 0 95px,#0bf 0 96px,#0ff 0 97px,#00c 0 99px,#00d 0 100px,#00e 0 101px,#0fe 0 102px,#0fd 0 104px,#0ff 0 107px,#00d 0 131px,#04f 0 134px,#00d 0 136px,#00e 0 142px,#00d 0 148px,#00f 0 149px,#00e 0 164px,#02f 0 165px,#00e 0 196px,#08f 0 197px,#00e 0 205px,#00d 0 208px,#00e 0 209px,#0fc 0 210px,#0fd 0 211px,#00e 0 212px,#00d 0 217px,#0af 0 219px,#0cf 0 222px,#0fd 0 225px,#0cf 0 227px,#0fe 0 229px,#0ef 0 232px,#0cf 0 233px,#0fd 0 234px,#0cf 0 238px,#9f0 0 240px,#6f0 0 244px,#7f0 0 252px,#8f0 0 254px,#fff 0 260px,#0f3 0 263px,#0f2 0 265px,#0f1 0 266px,#df0 0 268px,#0f1 0 270px,#0f2 0 275px,#6f0 0 280px,#0f0 0 285px,#6f0 0 288px,#ef0 0 290px,#2f0 0 295px,#4f0 0 300px,#9f0 0 304px,#8f0 0 306px,#0f1 0 310px,#3f0 0 315px,#0f8 0 320px,#9f0 0 324px,#1f0 0 325px,#4f0 0 328px,#af0 0 332px,#0f4 0 335px,#1f0 0 337px,#0f0 0 339px,#0f1 0 340px,#0f3 0 342px,#0f4 0 345px,#0f1 0 348px,#0f2 0 350px,#0f3 0)"></i><i style="background:linear-gradient(#0df 1px,#0ef 0 2px,#09f 0 4px,#08f 0 5px,#00c 0 8px,#01f 0 9px,#02f 0 11px,#00c 0 12px,#00e 0 14px,#00d 0 17px,#0df 0 18px,#0cf 0 20px,#06f 0 23px,#00f 0 26px,#00c 0 32px,#00e 0 35px,#05f 0 36px,#04f 0 38px,#00d 0 40px,#00c 0 44px,#00b 0 48px,#00c 0 51px,#00b 0 52px,#00c 0 60px,#00d 0 65px,#02f 0 68px,#00b 0 76px,#00d 0 80px,#00c 0 86px,#0df 0 88px,#0fe 0 89px,#00e 0 90px,#01f 0 91px,#0fe 0 92px,#0bf 0 96px,#0fe 0 100px,#06f 0 101px,#00e 0 102px,#00d 0 103px,#06f 0 104px,#00d 0 131px,#04f 0 134px,#00d 0 136px,#00e 0 142px,#00d 0 148px,#00e 0 166px,#03f 0 167px,#00e 0 196px,#00d 0 198px,#00e 0 201px,#0fd 0 209px,#0fe 0 211px,#0fd 0 215px,#0fe 0 225px,#02f 0 226px,#0fc 0 233px,#0fa 0 240px,#bf0 0 244px,#0f0 0 248px,#1f0 0 252px,#ff0 0 254px,#fff 0 260px,#2f0 0 261px,#3f0 0 262px,#7f0 0 264px,#3f0 0 265px,#1f0 0 270px,#8f0 0 272px,#0f0 0 275px,#bf0 0 279px,#cf0 0 280px,#af0 0 285px,#5f0 0 286px,#bf0 0 288px,#5f0 0 290px,#af0 0 295px,#2f0 0 300px,#7f0 0 305px,#0f0 0 308px,#cf0 0 310px,#0f0 0 315px,#4f0 0 316px,#cf0 0 320px,#df0 0 325px,#5f0 0 330px,#0f3 0 331px,#0f4 0 332px,#af0 0 334px,#0f5 0 335px,#0f0 0 337px,#0f1 0 340px,#0f5 0 341px,#0f6 0 344px,#0f7 0 348px,#0f8 0 350px,#0f4 0 352px,#0f5 0)"></i><i style="background:linear-gradient(#00d 11px,#04f 0 12px,#03f 0 14px,#00d 0 16px,#00c 0 20px,#00f 0 23px,#00d 0 24px,#00c 0 28px,#00d 0 32px,#00e 0 34px,#00d 0 35px,#00c 0 37px,#00d 0 38px,#00c 0 40px,#00b 0 44px,#01f 0 45px,#00b 0 48px,#00c 0 51px,#00b 0 56px,#00d 0 60px,#00c 0 64px,#00d 0 65px,#02f 0 68px,#00d 0 72px,#00c 0 79px,#00b 0 80px,#00c 0 86px,#0ef 0 88px,#0fd 0 92px,#0ff 0 95px,#00c 0 99px,#00d 0 100px,#00e 0 102px,#00d 0 131px,#04f 0 134px,#00d 0 136px,#00e 0 142px,#00d 0 148px,#00e 0 188px,#05f 0 190px,#03f 0 191px,#00e 0 197px,#0bf 0 198px,#0ef 0 202px,#0fc 0 206px,#0fd 0 210px,#0ff 0 211px,#0bf 0 213px,#0ff 0 214px,#0fe 0 218px,#0cf 0 222px,#0fd 0 226px,#0fe 0 230px,#0fc 0 234px,#0fd 0 235px,#0ef 0 236px,#af0 0 237px,#0ef 0 240px,#0fd 0 242px,#5f0 0 244px,#af0 0 248px,#9f0 0 252px,#4f0 0 254px,#fff 0 260px,#3f0 0 262px,#4f0 0 265px,#bf0 0 266px,#cf0 0 270px,#7f0 0 272px,#ef0 0 274px,#8f0 0 275px,#0f6 0 280px,#fe0 0 282px,#1f0 0 285px,#7f0 0 287px,#8f0 0 292px,#5f0 0 295px,#4f0 0 300px,#ff0 0 304px,#fe0 0 305px,#7f0 0 310px,#0f4 0 315px,#9f0 0 320px,#8f0 0 324px,#bf0 0 325px,#0f2 0 328px,#7f0 0 332px,#1f0 0 333px,#0f0 0 335px,#0f1 0 338px,#0f2 0 340px,#1f0 0 341px,#0f0 0 343px,#0f1 0 345px,#0f5 0 348px,#0f6 0 350px,#0f9 0 351px,#0fa 0)"></i><i style="background:linear-gradient(#00d 24px,#00b 0 28px,#00d 0 44px,#00b 0 48px,#00d 0 52px,#00c 0 65px,#00f 0 68px,#00b 0 72px,#00d 0 79px,#00c 0 80px,#00d 0 84px,#00b 0 86px,#00e 0 87px,#09f 0 88px,#00e 0 90px,#01f 0 93px,#00d 0 94px,#00c 0 99px,#00d 0 100px,#00e 0 102px,#00d 0 131px,#04f 0 134px,#00d 0 136px,#00e 0 142px,#00d 0 148px,#00e 0 185px,#0fe 0 190px,#0cf 0 193px,#00f 0 194px,#00e 0 195px,#05f 0 196px,#00e 0 197px,#0fd 0 198px,#0fe 0 203px,#0ef 0 205px,#00f 0 207px,#00d 0 208px,#00e 0 209px,#0fe 0 210px,#07f 0 212px,#0fa 0 217px,#0fe 0 218px,#0fd 0 221px,#00e 0 223px,#00d 0 224px,#00e 0 227px,#0f7 0 232px,#0fd 0 234px,#0fc 0 235px,#0fd 0 236px,#1f0 0 240px,#af0 0 244px,#6f0 0 248px,#1f0 0 252px,#4f0 0 254px,#fff 0 260px,#0f7 0 261px,#7f0 0 262px,#0f7 0 265px,#4f0 0 266px,#5f0 0 268px,#fd0 0 272px,#0f2 0 273px,#0f1 0 275px,#cf0 0 276px,#df0 0 278px,#bf0 0 280px,#0f0 0 282px,#1f0 0 284px,#bf0 0 288px,#0f1 0 290px,#8f0 0 292px,#cf0 0 296px,#3f0 0 300px,#af0 0 304px,#0f1 0 305px,#0f2 0 308px,#6f0 0 312px,#4f0 0 315px,#df0 0 316px,#cf0 0 318px,#df0 0 320px,#0f1 0 326px,#df0 0 328px,#0f2 0 330px,#8f0 0 332px,#7f0 0 333px,#6f0 0 335px,#0f4 0 336px,#0f5 0 339px,#0f6 0 340px,#0f4 0 342px,#0f5 0 345px,#0f9 0 347px,#0fa 0 350px,#0f4 0 352px,#0f5 0)"></i><i style="background:linear-gradient(#00c 4px,#00d 0 8px,#00c 0 12px,#00d 0 16px,#00c 0 20px,#00d 0 38px,#00c 0 40px,#00d 0 44px,#00c 0 48px,#00e 0 51px,#00d 0 52px,#00b 0 56px,#00c 0 60px,#00d 0 64px,#00b 0 65px,#00e 0 68px,#00d 0 76px,#00c 0 79px,#00b 0 80px,#00d 0 84px,#00c 0 86px,#00f 0 88px,#00e 0 90px,#01f 0 93px,#00c 0 99px,#00d 0 100px,#00e 0 102px,#00d 0 131px,#04f 0 134px,#00d 0 136px,#00e 0 142px,#00d 0 148px,#00e 0 183px,#0fe 0 185px,#0fb 0 189px,#0ff 0 190px,#0fb 0 194px,#0ff 0 203px,#0cf 0 207px,#0fc 0 211px,#0fd 0 214px,#08f 0 215px,#00d 0 217px,#08f 0 218px,#0ff 0 223px,#0fd 0 234px,#0af 0 235px,#02f 0 237px,#0af 0 238px,#5f0 0 240px,#6f0 0 244px,#4f0 0 248px,#9f0 0 252px,#5f0 0 254px,#fff 0 260px,#4f0 0 264px,#8f0 0 266px,#7f0 0 270px,#0f1 0 274px,#df0 0 276px,#4f0 0 280px,#2f0 0 282px,#cf0 0 284px,#2f0 0 285px,#0f2 0 288px,#7f0 0 292px,#3f0 0 295px,#4f0 0 296px,#bf0 0 300px,#8f0 0 304px,#df0 0 306px,#0f1 0 310px,#0f0 0 314px,#bf0 0 316px,#cf0 0 319px,#bf0 0 320px,#cf0 0 324px,#7f0 0 325px,#0f2 0 326px,#0f3 0 330px,#5f0 0 332px,#4f0 0 334px,#3f0 0 335px,#0f2 0 337px,#0f3 0 340px,#0f1 0 343px,#0f2 0 345px,#0f3 0 348px,#0f4 0 350px,#0fc 0)"></i><i style="background:linear-gradient(#00c 3px,#00d 0 4px,#00c 0 8px,#00d 0 12px,#00c 0 18px,#00b 0 32px,#00c 0 36px,#00d 0 44px,#00c 0 51px,#00b 0 64px,#00d 0 65px,#02f 0 68px,#00c 0 72px,#00b 0 76px,#00e 0 79px,#00d 0 80px,#00c 0 84px,#00b 0 86px,#00e 0 90px,#01f 0 93px,#00c 0 99px,#00d 0 100px,#00e 0 102px,#00d 0 131px,#04f 0 134px,#00d 0 136px,#00e 0 142px,#00d 0 148px,#00e 0 170px,#0ef 0 173px,#00e 0 175px,#0ff 0 177px,#00e 0 179px,#0df 0 182px,#0fe 0 185px,#00e 0 189px,#0fa 0 190px,#0af 0 193px,#0f8 0 200px,#0fb 0 207px,#0bf 0 210px,#0fe 0 213px,#01f 0 215px,#0ef 0 217px,#0fb 0 220px,#0f7 0 228px,#0ff 0 229px,#0fc 0 231px,#0ff 0 233px,#0fc 0 234px,#0f9 0 240px,#9f0 0 248px,#7f0 0 252px,#4f0 0 253px,#0fa 0 254px,#fff 0 260px,#0f0 0 261px,#8f0 0 262px,#1f0 0 265px,#7f0 0 272px,#8f0 0 274px,#9f0 0 275px,#af0 0 280px,#6f0 0 282px,#7f0 0 285px,#6f0 0 290px,#9f0 0 292px,#cf0 0 294px,#9f0 0 295px,#ef0 0 300px,#5f0 0 304px,#2f0 0 305px,#1f0 0 308px,#ef0 0 310px,#ff0 0 315px,#4f0 0 316px,#6f0 0 320px,#9f0 0 324px,#8f0 0 325px,#0f4 0 326px,#7f0 0 328px,#0f4 0 330px,#0f3 0 332px,#0f4 0 334px,#0f5 0 335px,#0f6 0 337px,#0f7 0 339px,#0f8 0 340px,#0f2 0 342px,#0f3 0 345px,#0f5 0 348px,#0f6 0 350px,#ef0 0 351px,#df0 0)"></i><i style="background:linear-gradient(#00c 4px,#00d 0 8px,#00c 0 12px,#00d 0 20px,#00c 0 24px,#00d 0 40px,#00b 0 44px,#00c 0 48px,#00d 0 52px,#00c 0 56px,#00d 0 60px,#00b 0 65px,#00e 0 68px,#00d 0 72px,#00c 0 80px,#00b 0 84px,#00c 0 86px,#00f 0 87px,#00e 0 90px,#01f 0 93px,#00c 0 99px,#00d 0 100px,#00e 0 102px,#00d 0 131px,#04f 0 134px,#00d 0 136px,#00e 0 142px,#00d 0 148px,#00e 0 167px,#0df 0 170px,#0af 0 173px,#00e 0 175px,#0fc 0 182px,#0fa 0 187px,#0fe 0 195px,#0ff 0 202px,#0fe 0 203px,#0ff 0 207px,#0fe 0 209px,#0ff 0 211px,#0fa 0 213px,#0ff 0 215px,#04f 0 217px,#0fe 0 218px,#0ff 0 220px,#0fc 0 226px,#0fe 0 229px,#0fc 0 230px,#0fe 0 233px,#0fd 0 237px,#0f0 0 240px,#0fd 0 243px,#9f0 0 248px,#5f0 0 253px,#0fb 0 254px,#fff 0 260px,#0f1 0 265px,#3f0 0 266px,#bf0 0 268px,#4f0 0 270px,#af0 0 272px,#bf0 0 275px,#1f0 0 277px,#2f0 0 280px,#df0 0 284px,#fe0 0 285px,#9f0 0 290px,#0f0 0 295px,#6f0 0 296px,#9f0 0 300px,#8f0 0 304px,#9f0 0 308px,#2f0 0 310px,#af0 0 311px,#9f0 0 312px,#ff0 0 316px,#bf0 0 320px,#7f0 0 324px,#0f3 0 325px,#3f0 0 328px,#ff0 0 332px,#4f0 0 333px,#3f0 0 336px,#2f0 0 337px,#1f0 0 339px,#0f0 0 340px,#0f3 0 341px,#0f4 0 344px,#0f5 0 345px,#0f3 0 347px,#0f4 0 350px,#0fa 0)"></i><i style="background:linear-gradient(#00c 12px,#00d 0 16px,#00c 0 18px,#00b 0 20px,#00d 0 24px,#00c 0 28px,#00d 0 32px,#00c 0 36px,#00d 0 38px,#00c 0 40px,#00d 0 48px,#00c 0 52px,#00d 0 60px,#00b 0 64px,#00d 0 65px,#02f 0 68px,#00d 0 76px,#00e 0 79px,#00d 0 84px,#00c 0 86px,#00e 0 90px,#01f 0 93px,#00c 0 99px,#00d 0 100px,#00e 0 102px,#00d 0 131px,#04f 0 134px,#00d 0 136px,#00e 0 142px,#00d 0 148px,#00e 0 165px,#0fd 0 166px,#0fe 0 167px,#00e 0 171px,#08f 0 174px,#0fb 0 178px,#0f7 0 184px,#0f9 0 189px,#0f6 0 195px,#0f7 0 198px,#0df 0 201px,#0fe 0 203px,#0fc 0 205px,#0f9 0 211px,#0fb 0 219px,#0fa 0 224px,#0f9 0 227px,#0fc 0 233px,#0f8 0 241px,#0f9 0 249px,#0fc 0 254px,#fff 0 260px,#7f0 0 262px,#ef0 0 264px,#8f0 0 265px,#9f0 0 268px,#8f0 0 270px,#1f0 0 274px,#2f0 0 275px,#0f1 0 276px,#0f0 0 278px,#cf0 0 280px,#af0 0 284px,#bf0 0 288px,#4f0 0 290px,#5f0 0 295px,#3f0 0 300px,#9f0 0 304px,#3f0 0 305px,#fe0 0 307px,#ff0 0 308px,#8f0 0 312px,#ff0 0 315px,#8f0 0 316px,#cf0 0 318px,#8f0 0 320px,#af0 0 324px,#bf0 0 328px,#2f0 0 330px,#3f0 0 332px,#2f0 0 333px,#1f0 0 335px,#5f0 0 336px,#4f0 0 338px,#3f0 0 339px,#2f0 0 340px,#5f0 0 342px,#4f0 0 343px,#3f0 0 345px,#0f5 0 347px,#0f6 0 350px,#0f8 0)"></i><i style="background:linear-gradient(#00d 16px,#00c 0 18px,#00b 0 20px,#00c 0 24px,#00d 0 28px,#00c 0 32px,#00d 0 40px,#00b 0 44px,#00d 0 48px,#00e 0 51px,#00d 0 52px,#00b 0 56px,#00d 0 60px,#00b 0 64px,#00c 0 65px,#00f 0 68px,#00d 0 76px,#00e 0 78px,#00d 0 80px,#00c 0 86px,#00f 0 88px,#00e 0 90px,#01f 0 93px,#00c 0 99px,#00d 0 100px,#00e 0 102px,#00d 0 131px,#04f 0 134px,#00d 0 136px,#00e 0 142px,#00d 0 148px,#00e 0 161px,#03f 0 163px,#0cf 0 167px,#0fe 0 171px,#01f 0 173px,#0fe 0 174px,#0fd 0 178px,#0cf 0 179px,#03f 0 181px,#0fe 0 182px,#0fd 0 186px,#0fe 0 190px,#04f 0 191px,#0df 0 194px,#0bf 0 198px,#0fb 0 202px,#0fd 0 206px,#0bf 0 210px,#0fd 0 214px,#0fe 0 218px,#0ff 0 219px,#0fc 0 224px,#0fd 0 230px,#0fc 0 234px,#01f 0 238px,#08f 0 239px,#0ff 0 241px,#0fe 0 243px,#6f0 0 244px,#2f0 0 246px,#0fe 0 247px,#0df 0 249px,#9f0 0 252px,#0df 0 254px,#fff 0 260px,#2f0 0 261px,#3f0 0 264px,#cf0 0 266px,#4f0 0 267px,#5f0 0 270px,#2f0 0 272px,#bf0 0 274px,#3f0 0 275px,#ef0 0 277px,#ff0 0 280px,#9f0 0 284px,#bf0 0 285px,#5f0 0 290px,#ff0 0 292px,#0f1 0 295px,#2f0 0 296px,#ff0 0 298px,#2f0 0 300px,#5f0 0 305px,#3f0 0 306px,#cf0 0 308px,#2f0 0 310px,#5f0 0 312px,#ef0 0 314px,#4f0 0 315px,#0f4 0 320px,#bf0 0 322px,#0f0 0 325px,#0f2 0 326px,#0f3 0 330px,#af0 0 332px,#0f2 0 333px,#0f3 0 335px,#2f0 0 337px,#1f0 0 339px,#0f0 0 340px,#0f1 0 342px,#0f2 0 345px,#0fa 0 348px,#0fb 0 350px,#0f1 0 352px,#0f2 0)"></i><i style="width:7px;background:linear-gradient(#00e 6px,#00f 0 8px,#00e 0 16px,#00d 0 20px,#00e 0 32px,#00d 0 36px,#00e 0 44px,#00d 0 48px,#00e 0 51px,#00d 0 52px,#00e 0 56px,#00d 0 59px,#00c 0 60px,#00b 0 65px,#00e 0 68px,#00c 0 72px,#00b 0 76px,#00d 0 79px,#00c 0 84px,#00b 0 86px,#00e 0 90px,#01f 0 93px,#00e 0 110px,#04f 0 113px,#00e 0 119px,#03f 0 122px,#00e 0 131px,#04f 0 134px,#00f 0 147px,#09f 0 154px,#0ff 0 164px,#02f 0 169px,#09f 0 174px,#0fc 0 188px,#0f8 0 208px,#0f5 0 218px,#0f2 0 254px,#fff 0 260px,#0f0 0 278px,#6f0 0 328px,#2f0 0 333px,#0f2 0 343px,#0f6 0)"></i></div>
<div class="p" style="left:91px;top:428px;height:76px"><i style="background:linear-gradient(#0f3 6px,#0fb 0 17px,#0f0 0 27px,#0f2 0 37px,#cf0 0 48px,#9f0 0 58px,#fc0 0 68px,#5f0 0)"></i><i style="background:linear-gradient(#0f5 6px,#0fc 0 17px,#0f2 0 27px,#1f0 0 37px,#fe0 0 48px,#fd0 0 58px,#9f0 0 68px,#6f0 0)"></i><i style="background:linear-gradient(#0fb 17px,#0f3 0 27px,#0f0 0 37px,#0f2 0 48px,#7f0 0 58px,#fc0 0 68px,#cf0 0)"></i><i style="background:linear-gradient(#0f4 6px,#0fc 0 17px,#0f6 0 27px,#0f1 0 37px,#af0 0 48px,#fd0 0 58px,#fe0 0 68px,#0f1 0)"></i><i style="background:linear-gradient(#0f4 6px,#0f3 0 17px,#0f2 0 27px,#ef0 0 37px,#7f0 0 48px,#fb0 0 58px,#ff0 0 68px,#cf0 0)"></i><i style="background:linear-gradient(#6f0 6px,#0f7 0 17px,#0f2 0 27px,#fe0 0 48px,#f80 0 58px,#f40 0 68px,#f90 0)"></i><i style="background:linear-gradient(#4f0 6px,#0fb 0 17px,#0f5 0 27px,#0f1 0 37px,#ff0 0 48px,#f50 0 58px,#f90 0 68px,#f70 0)"></i><i style="background:linear-gradient(#0f0 6px,#0f8 0 17px,#af0 0 27px,#bf0 0 37px,#fe0 0 48px,#f60 0 58px,#f40 0 68px,#f60 0)"></i><i style="background:linear-gradient(#bf0 6px,#0fc 0 17px,#cf0 0 27px,#ff0 0 37px,#f90 0 48px,#f20 0 58px,#f30 0 68px,#f70 0)"></i><i style="background:linear-gradient(#7f0 6px,#0f0 0 17px,#ff0 0 27px,#9f0 0 37px,#fc0 0 48px,#f30 0 58px,#f60 0 68px,#f50 0)"></i><i style="background:linear-gradient(#1f0 6px,#0f9 0 17px,#df0 0 27px,#4f0 0 37px,#f70 0 48px,#f50 0 58px,#f90 0 68px,#f00 0)"></i><i style="background:linear-gradient(#0f8 6px,#0f0 0 17px,#9f0 0 27px,#fd0 0 37px,#fb0 0 48px,#f50 0 58px,#f10 0 68px,#f40 0)"></i><i style="background:linear-gradient(#0f4 6px,#0f2 0 17px,#cf0 0 27px,#fe0 0 37px,#fd0 0 48px,#f40 0 58px,#f90 0 68px,#f40 0)"></i><i style="background:linear-gradient(#0f3 6px,#0f9 0 17px,#0f4 0 27px,#0f2 0 37px,#0f1 0 48px,#fe0 0 58px,#fb0 0 68px,#fc0 0)"></i><i style="background:linear-gradient(#0f7 6px,#0fb 0 17px,#6f0 0 27px,#7f0 0 37px,#2f0 0 48px,#fd0 0 58px,#ff0 0 68px,#fb0 0)"></i><i style="background:linear-gradient(#1f0 6px,#0fa 0 17px,#4f0 0 27px,#0f1 0 37px,#5f0 0 48px,#bf0 0 58px,#fb0 0)"></i><i style="background:linear-gradient(#0f4 6px,#0fa 0 17px,#6f0 0 27px,#0f5 0 37px,#2f0 0 48px,#bf0 0 58px,#fe0 0 68px,#fc0 0)"></i><i style="background:linear-gradient(#0f4 6px,#0f8 0 17px,#0f0 0 27px,#0f2 0 37px,#0f4 0 48px,#4f0 0 58px,#3f0 0 68px,#df0 0)"></i><i style="background:linear-gradient(#0f6 6px,#0bf 0 17px,#1f0 0 27px,#0f5 0 37px,#0f2 0 58px,#0f0 0 68px,#fe0 0)"></i><i style="background:linear-gradient(#2f0 6px,#0fe 0 17px,#0f8 0 27px,#1f0 0 37px,#0f2 0 48px,#0f1 0 58px,#4f0 0 68px,#9f0 0)"></i><i style="background:linear-gradient(#0f7 6px,#0fe 0 17px,#0f2 0 27px,#0f4 0 37px,#0f6 0 48px,#3f0 0 58px,#0f0 0 68px,#fb0 0)"></i><i style="background:linear-gradient(#0f2 6px,#0f8 0 17px,#2f0 0 27px,#5f0 0 37px,#1f0 0 48px,#4f0 0 58px,#0f2 0 68px,#fe0 0)"></i><i style="background:linear-gradient(#1f0 6px,#0ff 0 17px,#0f1 0 27px,#0f0 0 37px,#2f0 0 48px,#0f7 0 58px,#0f4 0 68px,#5f0 0)"></i><i style="background:linear-gradient(#0f2 6px,#0f7 0 17px,#5f0 0 27px,#0f0 0 37px,#0f2 0 48px,#0f3 0 68px,#8f0 0)"></i><i style="background:linear-gradient(#0f8 6px,#0fb 0 17px,#0f5 0 37px,#6f0 0 48px,#0f7 0 58px,#0f1 0 68px,#7f0 0)"></i><i style="background:linear-gradient(#0f3 6px,#0fa 0 17px,#2f0 0 27px,#0f7 0 37px,#0fc 0 48px,#0f9 0 58px,#4f0 0 68px,#bf0 0)"></i><i style="background:linear-gradient(#0f8 17px,#0f4 0 37px,#0f7 0 48px,#0f1 0 68px,#cf0 0)"></i><i style="width:1px;background:linear-gradient(#0f1 6px,#0f7 0 17px,#0f4 0 27px,#0f1 0 37px,#fff 0 48px,#0f1 0 58px,#0f4 0 68px,#3f0 0)"></i><i style="width:353px"></i><i style="width:1px;background:linear-gradient(#0f1 17px,#6f0 0 27px,#af0 0 37px,#ef0 0 48px,#fd0 0 58px,#fb0 0 68px,#fd0 0)"></i><i style="width:6px;background:linear-gradient(#0f1 17px,#6f0 0 27px,#af0 0 37px,#ef0 0 48px,#fd0 0 58px,#fb0 0 68px,#fd0 0)"></i><i style="background:linear-gradient(#4f0 6px,#0f2 0 17px,#ef0 0 27px,#df0 0 37px,#fe0 0 48px,#fa0 0 58px,#f80 0 68px,#f90 0)"></i><i style="background:linear-gradient(#0f4 6px,#2f0 0 17px,#fd0 0 37px,#af0 0 48px,#fb0 0 58px,#fc0 0 68px,#f90 0)"></i><i style="background:linear-gradient(#0f5 6px,#4f0 0 17px,#fc0 0 27px,#4f0 0 37px,#ff0 0 48px,#f90 0 58px,#f70 0 68px,#fa0 0)"></i><i style="background:linear-gradient(#df0 6px,#fc0 0 17px,#f50 0 27px,#f80 0 37px,#f50 0 58px,#f40 0 68px,#f30 0)"></i><i style="background:linear-gradient(#fe0 6px,#f90 0 17px,#fb0 0 27px,#f80 0 37px,#f60 0 48px,#f50 0 58px,#f30 0 68px,#f50 0)"></i><i style="background:linear-gradient(#9f0 6px,#fc0 0 17px,#f50 0 37px,#f30 0 58px,#f40 0 68px,#f20 0)"></i><i style="background:linear-gradient(#fc0 17px,#f70 0 27px,#f80 0 37px,#f40 0 48px,#f30 0 58px,#f40 0 68px,#f50 0)"></i><i style="background:linear-gradient(#fd0 6px,#f80 0 17px,#f50 0 27px,#f40 0 37px,#f60 0 48px,#f00 0 58px,#f20 0 68px,#f10 0)"></i><i style="background:linear-gradient(#fc0 6px,#f50 0 27px,#f90 0 37px,#f60 0 48px,#f10 0 58px,#f00 0 68px,#f40 0)"></i><i style="background:linear-gradient(#fe0 6px,#f60 0 17px,#f10 0 27px,#fb0 0 37px,#f40 0 48px,#f00 0 68px,#f10 0)"></i><i style="background:linear-gradient(#fd0 6px,#f80 0 17px,#f60 0 37px,#f20 0 48px,#f60 0 58px,#f00 0)"></i><i style="background:linear-gradient(#fd0 6px,#f60 0 17px,#f30 0 27px,#f20 0 37px,#f40 0 58px,#f00 0 68px,#f10 0)"></i><i style="background:linear-gradient(#3f0 6px,#f90 0 17px,#f30 0 27px,#f60 0 37px,#f40 0 48px,#f50 0 58px,#f20 0 68px,#f40 0)"></i><i style="background:linear-gradient(#fa0 6px,#fb0 0 17px,#f00 0 27px,#f60 0 37px,#f30 0 48px,#f50 0 58px,#f20 0)"></i><i style="background:linear-gradient(#fc0 6px,#f70 0 27px,#f20 0 37px,#f50 0 48px,#f00 0 58px,#f40 0)"></i><i style="background:linear-gradient(#fd0 6px,#fa0 0 17px,#f80 0 27px,#f40 0 37px,#f30 0 58px,#f10 0 68px,#f50 0)"></i><i style="background:linear-gradient(#f80 17px,#f50 0 27px,#f30 0 37px,#f60 0 48px,#f10 0 58px,#f30 0)"></i><i style="background:linear-gradient(#fb0 6px,#f80 0 17px,#f10 0 27px,#f60 0 37px,#f20 0 48px,#f40 0 58px,#f20 0 68px,#f40 0)"></i><i style="background:linear-gradient(#fa0 6px,#f90 0 17px,#f10 0 27px,#f90 0 37px,#f40 0 48px,#f60 0 68px,#f20 0)"></i><i style="background:linear-gradient(#fe0 6px,#fb0 0 17px,#f60 0 27px,#f10 0 37px,#f60 0 48px,#f40 0 58px,#f00 0)"></i><i style="background:linear-gradient(#fa0 6px,#f70 0 17px,#f50 0 27px,#f40 0 37px,#f30 0 58px,#f00 0)"></i><i style="background:linear-gradient(#fc0 6px,#f80 0 17px,#f50 0 27px,#f30 0 37px,#f40 0 58px,#f00 0 68px,#f20 0)"></i><i style="background:linear-gradient(#fd0 6px,#f70 0 17px,#f60 0 27px,#f50 0 37px,#f10 0 48px,#f60 0 58px,#f40 0 68px,#f00 0)"></i><i style="background:linear-gradient(#fb0 6px,#f50 0 17px,#f70 0 27px,#f30 0 37px,#f20 0 48px,#f60 0 58px,#f30 0 68px,#f00 0)"></i><i style="background:linear-gradient(#fc0 6px,#f80 0 17px,#f70 0 37px,#f30 0 48px,#f00 0 58px,#f40 0 68px,#f10 0)"></i><i style="background:linear-gradient(#bf0 6px,#f70 0 17px,#f40 0 27px,#f70 0 37px,#f40 0 48px,#f20 0)"></i><i style="background:linear-gradient(#fc0 6px,#fa0 0 17px,#f40 0 27px,#f30 0 48px,#f00 0)"></i><i style="background:linear-gradient(#fc0 6px,#f90 0 17px,#f70 0 27px,#f20 0 37px,#f40 0 48px,#f00 0 58px,#f20 0)"></i><i style="background:linear-gradient(#f90 6px,#fa0 0 17px,#f30 0 37px,#f60 0 48px,#f00 0)"></i><i style="background:linear-gradient(#f90 17px,#f30 0 27px,#f90 0 37px,#f30 0 48px,#f20 0 58px,#f00 0 68px,#f10 0)"></i><i style="background:linear-gradient(#ff0 6px,#f50 0 17px,#f80 0 27px,#f50 0 37px,#f70 0 48px,#f20 0 68px,#f10 0)"></i><i style="background:linear-gradient(#fb0 6px,#f90 0 17px,#f80 0 27px,#f50 0 37px,#f10 0 58px,#f80 0 68px,#f30 0)"></i><i style="background:linear-gradient(#af0 6px,#f80 0 17px,#f60 0 27px,#f50 0 37px,#f00 0 48px,#f50 0 58px,#f30 0 68px,#f10 0)"></i><i style="background:linear-gradient(#fd0 6px,#fc0 0 17px,#f60 0 27px,#f30 0 37px,#f00 0 48px,#f50 0 58px,#f30 0)"></i><i style="background:linear-gradient(#fa0 6px,#f60 0 17px,#f20 0 27px,#f80 0 37px,#f40 0 48px,#f10 0 58px,#f00 0 68px,#f70 0)"></i><i style="background:linear-gradient(#2f0 6px,#6f0 0 17px,#fe0 0 27px,#fd0 0 37px,#fb0 0 48px,#f50 0 68px,#f60 0)"></i><i style="background:linear-gradient(#0f5 6px,#3f0 0 17px,#ff0 0 27px,#fa0 0 37px,#fb0 0 48px,#f60 0 58px,#f00 0 68px,#f70 0)"></i><i style="background:linear-gradient(#fb0 27px,#fa0 0 58px,#f40 0 68px,#f50 0)"></i><i style="background:linear-gradient(#1f0 6px,#5f0 0 17px,#fe0 0 27px,#fb0 0 37px,#f70 0 58px,#f40 0 68px,#f70 0)"></i><i style="background:linear-gradient(#1f0 6px,#ef0 0 17px,#fc0 0 27px,#fe0 0 37px,#fc0 0 48px,#f60 0 58px,#f20 0 68px,#f10 0)"></i><i style="background:linear-gradient(#5f0 6px,#ff0 0 17px,#fc0 0 27px,#fd0 0 37px,#f50 0 48px,#fa0 0 58px,#f30 0)"></i><i style="background:linear-gradient(#fb0 37px,#f70 0 58px,#f30 0)"></i><i style="background:linear-gradient(#1f0 6px,#af0 0 17px,#ff0 0 27px,#fa0 0 37px,#fc0 0 48px,#f50 0 58px,#f30 0 68px,#f10 0)"></i><i style="background:linear-gradient(#5f0 6px,#fd0 0 17px,#fa0 0 27px,#fc0 0 37px,#f70 0 48px,#fb0 0 58px,#f30 0 68px,#f70 0)"></i><i style="background:linear-gradient(#0f1 6px,#df0 0 17px,#fb0 0 37px,#f80 0 48px,#fb0 0 58px,#f30 0 68px,#f20 0)"></i><i style="background:linear-gradient(#fb0 27px,#f80 0 37px,#fa0 0 48px,#f90 0 58px,#f30 0 68px,#f40 0)"></i><i style="background:linear-gradient(#3f0 6px,#4f0 0 17px,#fe0 0 27px,#fb0 0 37px,#f90 0 48px,#f70 0 58px,#f10 0 68px,#f50 0)"></i><i style="background:linear-gradient(#4f0 6px,#0f0 0 17px,#f90 0 27px,#fc0 0 37px,#fe0 0 48px,#f60 0 58px,#f70 0 68px,#f40 0)"></i><i style="background:linear-gradient(#3f0 6px,#1f0 0 17px,#fe0 0 37px,#f60 0 48px,#f70 0 58px,#f60 0 68px,#f10 0)"></i><i style="background:linear-gradient(#0f1 6px,#cf0 0 17px,#fe0 0 27px,#f70 0 37px,#fb0 0 48px,#fa0 0 58px,#f70 0 68px,#f20 0)"></i><i style="background:linear-gradient(#fb0 17px,#fa0 0 27px,#fb0 0 48px,#f30 0 58px,#f10 0 68px,#f40 0)"></i><i style="background:linear-gradient(#5f0 6px,#ef0 0 17px,#fc0 0 27px,#fd0 0 48px,#f60 0 58px,#f40 0 68px,#f10 0)"></i><i style="background:linear-gradient(#0f2 6px,#7f0 0 17px,#fe0 0 27px,#fc0 0 37px,#f90 0 48px,#f60 0 58px,#f90 0 68px,#fa0 0)"></i><i style="background:linear-gradient(#0f2 6px,#8f0 0 17px,#cf0 0 27px,#6f0 0 37px,#fb0 0 48px,#f40 0 58px,#f80 0 68px,#f30 0)"></i><i style="background:linear-gradient(#5f0 6px,#8f0 0 17px,#fc0 0 27px,#fe0 0 37px,#ef0 0 48px,#f60 0 58px,#f70 0 68px,#f20 0)"></i><i style="background:linear-gradient(#2f0 6px,#8f0 0 17px,#fe0 0 27px,#cf0 0 37px,#fb0 0 48px,#f60 0 58px,#f40 0 68px,#f50 0)"></i><i style="background:linear-gradient(#fb0 58px,#f70 0 68px,#f10 0)"></i><i style="background:linear-gradient(#af0 6px,#7f0 0 17px,#fb0 0 27px,#fa0 0 37px,#f90 0 58px,#f60 0 68px,#f80 0)"></i><i style="background:linear-gradient(#2f0 6px,#8f0 0 17px,#fc0 0 27px,#f90 0 37px,#fa0 0 48px,#fc0 0 58px,#f20 0 68px,#f10 0)"></i><i style="background:linear-gradient(#0f3 6px,#7f0 0 17px,#fd0 0 27px,#fb0 0 37px,#fd0 0 48px,#f50 0 58px,#f80 0 68px,#f40 0)"></i><i style="background:linear-gradient(#5f0 6px,#3f0 0 17px,#fd0 0 27px,#fb0 0 37px,#f70 0 48px,#f80 0 58px,#f30 0 68px,#f70 0)"></i><i style="background:linear-gradient(#5f0 6px,#8f0 0 17px,#fd0 0 27px,#fb0 0 37px,#fc0 0 48px,#f70 0 58px,#f40 0 68px,#f20 0)"></i><i style="background:linear-gradient(#5f0 6px,#ef0 0 17px,#fc0 0 27px,#fe0 0 37px,#fb0 0 48px,#f70 0 58px,#f40 0 68px,#f50 0)"></i><i style="background:linear-gradient(#fb0 48px,#f90 0 58px,#f70 0 68px,#f60 0)"></i><i style="background:linear-gradient(#0f0 6px,#7f0 0 17px,#fd0 0 48px,#f20 0 58px,#f40 0 68px,#f20 0)"></i><i style="background:linear-gradient(#8f0 6px,#fe0 0 27px,#fc0 0 37px,#f80 0 48px,#fa0 0 58px,#f60 0 68px,#f30 0)"></i><i style="background:linear-gradient(#8f0 6px,#9f0 0 17px,#df0 0 37px,#fb0 0 48px,#f90 0 58px,#f70 0 68px,#f30 0)"></i><i style="background:linear-gradient(#bf0 6px,#af0 0 27px,#fd0 0 37px,#f80 0 48px,#f70 0 58px,#f30 0)"></i><i style="background:linear-gradient(#0f5 6px,#3f0 0 17px,#fd0 0 27px,#fe0 0 37px,#ef0 0 48px,#f90 0 58px,#f60 0 68px,#f50 0)"></i><i style="background:linear-gradient(#0f2 6px,#bf0 0 17px,#fd0 0 27px,#fc0 0 37px,#fa0 0 58px,#f80 0 68px,#f30 0)"></i><i style="background:linear-gradient(#fb0 37px,#fa0 0 48px,#f90 0 58px,#f30 0 68px,#f60 0)"></i><i style="background:linear-gradient(#0f5 6px,#9f0 0 17px,#fe0 0 27px,#df0 0 37px,#f90 0 48px,#f70 0 58px,#f80 0 68px,#f30 0)"></i><i style="background:linear-gradient(#0f8 6px,#3f0 0 17px,#7f0 0 27px,#fe0 0 37px,#f90 0 48px,#f80 0 58px,#f90 0 68px,#f00 0)"></i><i style="background:linear-gradient(#0f6 6px,#0f3 0 17px,#8f0 0 37px,#ff0 0 48px,#fa0 0 58px,#f60 0 68px,#f40 0)"></i><i style="background:linear-gradient(#0f8 6px,#0f6 0 17px,#7f0 0 27px,#ff0 0 37px,#fb0 0 48px,#f90 0 58px,#f30 0 68px,#f20 0)"></i><i style="background:linear-gradient(#0f8 6px,#0f4 0 17px,#0f1 0 27px,#fb0 0 37px,#f90 0 48px,#fa0 0 58px,#f40 0 68px,#f20 0)"></i><i style="background:linear-gradient(#0f6 6px,#0f1 0 17px,#ef0 0 27px,#9f0 0 37px,#f80 0 48px,#f70 0 58px,#f90 0 68px,#f40 0)"></i><i style="background:linear-gradient(#0f3 6px,#0f7 0 17px,#fe0 0 27px,#af0 0 37px,#fa0 0 48px,#fc0 0 58px,#f40 0 68px,#f30 0)"></i><i style="background:linear-gradient(#0f4 6px,#0f7 0 17px,#6f0 0 27px,#ef0 0 37px,#fb0 0 48px,#f80 0 58px,#f70 0)"></i><i style="background:linear-gradient(#fb0 37px,#f80 0 48px,#f90 0 58px,#f70 0 68px,#f60 0)"></i><i style="background:linear-gradient(#0f4 17px,#0f0 0 27px,#ff0 0 37px,#bf0 0 48px,#f80 0 58px,#f70 0 68px,#f30 0)"></i><i style="background:linear-gradient(#0f8 6px,#0f2 0 17px,#cf0 0 27px,#fd0 0 37px,#fb0 0 48px,#f50 0 58px,#f90 0)"></i><i style="background:linear-gradient(#0f7 6px,#0f5 0 17px,#cf0 0 37px,#fb0 0 48px,#f80 0 58px,#f30 0)"></i><i style="background:linear-gradient(#0f8 6px,#0f2 0 17px,#0f0 0 27px,#cf0 0 37px,#f80 0 48px,#ff0 0 58px,#f60 0 68px,#f10 0)"></i><i style="background:linear-gradient(#0f5 6px,#0f4 0 17px,#1f0 0 27px,#fd0 0 37px,#fe0 0 48px,#f90 0 58px,#f50 0 68px,#f00 0)"></i><i style="background:linear-gradient(#fb0 37px,#f80 0 48px,#f60 0 58px,#f90 0 68px,#f50 0)"></i><i style="background:linear-gradient(#0fc 6px,#3f0 0 17px,#ef0 0 27px,#4f0 0 37px,#fc0 0 48px,#f80 0 58px,#f10 0 68px,#f40 0)"></i><i style="background:linear-gradient(#0f9 6px,#0f7 0 17px,#6f0 0 27px,#ff0 0 37px,#df0 0 48px,#fb0 0 58px,#f60 0 68px,#f50 0)"></i><i style="background:linear-gradient(#0f9 6px,#2f0 0 17px,#df0 0 37px,#fc0 0 48px,#f90 0 58px,#f60 0 68px,#f30 0)"></i><i style="background:linear-gradient(#0fa 6px,#0f8 0 17px,#2f0 0 27px,#fd0 0 37px,#f80 0 48px,#f90 0 58px,#fb0 0 68px,#f00 0)"></i><i style="background:linear-gradient(#0f3 6px,#0f5 0 17px,#cf0 0 27px,#fb0 0 37px,#fa0 0 48px,#f80 0 58px,#f40 0 68px,#f50 0)"></i><i style="background:linear-gradient(#0f3 6px,#0f9 0 17px,#2f0 0 27px,#fe0 0 37px,#fb0 0 48px,#f70 0 58px,#f60 0 68px,#f10 0)"></i><i style="background:linear-gradient(#0f6 6px,#0f3 0 17px,#ff0 0 27px,#ef0 0 37px,#f90 0 48px,#fa0 0 58px,#f90 0 68px,#f30 0)"></i><i style="background:linear-gradient(#0f0 6px,#5f0 0 17px,#2f0 0 27px,#fa0 0 37px,#fd0 0 48px,#fa0 0 58px,#f50 0 68px,#f40 0)"></i><i style="background:linear-gradient(#0f5 6px,#0f1 0 17px,#af0 0 27px,#fb0 0 37px,#f90 0 58px,#f40 0 68px,#f10 0)"></i><i style="background:linear-gradient(#fb0 6px,#f90 0 17px,#f70 0 27px,#fb0 0 37px,#fa0 0 48px,#f90 0 58px,#f50 0 68px,#f10 0)"></i><i style="background:linear-gradient(#f80 6px,#f70 0 17px,#f90 0 37px,#ff0 0 48px,#f90 0 58px,#f40 0 68px,#f00 0)"></i><i style="background:linear-gradient(#fb0 17px,#f90 0 27px,#fb0 0 48px,#f60 0 58px,#fb0 0 68px,#f30 0)"></i><i style="background:linear-gradient(#f90 6px,#fb0 0 17px,#fc0 0 27px,#fd0 0 37px,#fc0 0 48px,#f60 0 58px,#f00 0 68px,#f20 0)"></i><i style="background:linear-gradient(#fc0 6px,#fd0 0 17px,#f90 0 27px,#f70 0 37px,#f80 0 48px,#f70 0 58px,#f40 0 68px,#f30 0)"></i><i style="background:linear-gradient(#fe0 6px,#fc0 0 37px,#bf0 0 48px,#f70 0 58px,#f40 0 68px,#f30 0)"></i><i style="background:linear-gradient(#fc0 6px,#f60 0 17px,#f50 0 27px,#fb0 0 48px,#fa0 0 58px,#f70 0 68px,#f30 0)"></i><i style="background:linear-gradient(#fc0 6px,#fa0 0 17px,#f90 0 48px,#f70 0 58px,#f50 0 68px,#f10 0)"></i><i style="background:linear-gradient(#fb0 6px,#f90 0 17px,#fb0 0 37px,#f80 0 48px,#f40 0 58px,#f80 0)"></i><i style="background:linear-gradient(#f90 6px,#cf0 0 17px,#fa0 0 37px,#ff0 0 48px,#f60 0 58px,#f30 0 68px,#f20 0)"></i><i style="background:linear-gradient(#5f0 6px,#fc0 0 17px,#fa0 0 27px,#fc0 0 37px,#fa0 0 48px,#f20 0 58px,#f70 0 68px,#f00 0)"></i><i style="background:linear-gradient(#fc0 6px,#fd0 0 17px,#f70 0 27px,#f90 0 48px,#f70 0 58px,#f40 0 68px,#f10 0)"></i><i style="background:linear-gradient(#fb0 6px,#f90 0 17px,#fa0 0 27px,#f60 0 37px,#fc0 0 48px,#f60 0 58px,#f50 0 68px,#f40 0)"></i><i style="background:linear-gradient(#0f4 17px,#ff0 0 27px,#fd0 0 37px,#fb0 0 58px,#f60 0 68px,#f20 0)"></i><i style="background:linear-gradient(#0f2 6px,#7f0 0 17px,#0f0 0 27px,#fd0 0 37px,#ff0 0 48px,#f90 0 58px,#f50 0 68px,#f10 0)"></i><i style="background:linear-gradient(#2f0 17px,#6f0 0 27px,#fe0 0 37px,#fa0 0 48px,#f60 0 58px,#f20 0)"></i><i style="background:linear-gradient(#0f4 6px,#8f0 0 17px,#fc0 0 37px,#fb0 0 48px,#f90 0 58px,#f50 0 68px,#f10 0)"></i><i style="background:linear-gradient(#0f6 6px,#4f0 0 17px,#2f0 0 27px,#fb0 0 48px,#f40 0 58px,#f30 0)"></i><i style="background:linear-gradient(#0f4 6px,#1f0 0 17px,#9f0 0 27px,#cf0 0 37px,#fd0 0 48px,#f40 0 58px,#f30 0 68px,#f10 0)"></i><i style="background:linear-gradient(#6f0 6px,#8f0 0 17px,#af0 0 27px,#ff0 0 37px,#f80 0 48px,#fa0 0 58px,#f70 0 68px,#f10 0)"></i><i style="background:linear-gradient(#3f0 6px,#0f1 0 17px,#ff0 0 27px,#6f0 0 37px,#fa0 0 58px,#f30 0 68px,#f20 0)"></i><i style="background:linear-gradient(#0f9 6px,#1f0 0 17px,#fd0 0 27px,#ef0 0 37px,#fb0 0 48px,#f80 0 58px,#f40 0 68px,#f10 0)"></i><i style="background:linear-gradient(#0f2 6px,#2f0 0 17px,#fe0 0 37px,#f70 0 48px,#f90 0 58px,#f60 0 68px,#f00 0)"></i><i style="background:linear-gradient(#0f5 6px,#6f0 0 17px,#4f0 0 27px,#df0 0 37px,#f70 0 48px,#f60 0 58px,#f30 0 68px,#f40 0)"></i><i style="background:linear-gradient(#7f0 6px,#0f5 0 17px,#fe0 0 27px,#fb0 0 37px,#fc0 0 48px,#f90 0 58px,#f20 0 68px,#f00 0)"></i><i style="background:linear-gradient(#fb0 37px,#f90 0 48px,#f50 0 58px,#f00 0 68px,#f40 0)"></i><i style="background:linear-gradient(#0fa 6px,#6f0 0 17px,#fd0 0 27px,#fe0 0 37px,#f90 0 48px,#f80 0 58px,#f70 0 68px,#f50 0)"></i><i style="background:linear-gradient(#1f0 6px,#0f2 0 17px,#5f0 0 27px,#fc0 0 48px,#fe0 0 58px,#f20 0 68px,#f30 0)"></i><i style="background:linear-gradient(#0f7 6px,#af0 0 17px,#ff0 0 27px,#fe0 0 37px,#f80 0 48px,#f70 0 68px,#f30 0)"></i><i style="background:linear-gradient(#0f5 6px,#0f6 0 17px,#af0 0 27px,#fc0 0 48px,#f80 0 58px,#f30 0 68px,#f00 0)"></i><i style="background:linear-gradient(#0f8 6px,#1f0 0 17px,#af0 0 27px,#fd0 0 37px,#f80 0 48px,#fd0 0 58px,#f20 0)"></i><i style="background:linear-gradient(#fb0 48px,#f40 0 58px,#f60 0 68px,#f10 0)"></i><i style="background:linear-gradient(#0f3 6px,#1f0 0 17px,#8f0 0 27px,#ff0 0 37px,#af0 0 48px,#f70 0 58px,#f60 0 68px,#f30 0)"></i><i style="background:linear-gradient(#0f7 6px,#0f1 0 17px,#fe0 0 27px,#af0 0 37px,#f90 0 48px,#fa0 0 58px,#f60 0 68px,#f40 0)"></i><i style="background:linear-gradient(#0f5 6px,#cf0 0 17px,#af0 0 27px,#fe0 0 37px,#bf0 0 48px,#f60 0 58px,#f50 0 68px,#f30 0)"></i><i style="background:linear-gradient(#0f7 6px,#df0 0 17px,#fe0 0 27px,#fc0 0 37px,#f80 0 48px,#f70 0 58px,#f50 0 68px,#f00 0)"></i><i style="background:linear-gradient(#5f0 6px,#0f1 0 17px,#fd0 0 27px,#fe0 0 37px,#fb0 0 48px,#f90 0 58px,#f70 0 68px,#f30 0)"></i><i style="background:linear-gradient(#0f0 6px,#7f0 0 17px,#ff0 0 27px,#fe0 0 48px,#f70 0 58px,#f20 0 68px,#f10 0)"></i><i style="background:linear-gradient(#fb0 48px,#f80 0 58px,#fa0 0 68px,#f60 0)"></i><i style="background:linear-gradient(#0f6 6px,#7f0 0 17px,#cf0 0 27px,#af0 0 37px,#fe0 0 48px,#f20 0 58px,#f60 0 68px,#f40 0)"></i><i style="background:linear-gradient(#0f3 6px,#2f0 0 17px,#ff0 0 27px,#fd0 0 37px,#fb0 0 48px,#f80 0 58px,#f30 0 68px,#f50 0)"></i><i style="background:linear-gradient(#0f7 6px,#0f0 0 17px,#fe0 0 27px,#ef0 0 37px,#fd0 0 48px,#fa0 0 58px,#f80 0 68px,#f30 0)"></i><i style="background:linear-gradient(#0f0 6px,#2f0 0 17px,#bf0 0 27px,#ef0 0 37px,#fc0 0 48px,#f60 0 58px,#f80 0 68px,#f40 0)"></i><i style="background:linear-gradient(#0f7 6px,#9f0 0 17px,#fe0 0 27px,#fb0 0 48px,#fc0 0 58px,#f70 0 68px,#f10 0)"></i><i style="background:linear-gradient(#0f2 6px,#0f1 0 17px,#8f0 0 27px,#fb0 0 37px,#fe0 0 48px,#f70 0 58px,#f40 0 68px,#f30 0)"></i><i style="background:linear-gradient(#0f4 6px,#2f0 0 17px,#cf0 0 27px,#df0 0 37px,#fb0 0 48px,#fc0 0 58px,#f80 0 68px,#f10 0)"></i><i style="background:linear-gradient(#0f0 6px,#0f4 0 17px,#cf0 0 27px,#fb0 0 37px,#fc0 0 48px,#fd0 0 58px,#f80 0 68px,#f60 0)"></i><i style="background:linear-gradient(#fb0 37px,#fa0 0 58px,#f50 0 68px,#f00 0)"></i><i style="background:linear-gradient(#0f3 6px,#2f0 0 17px,#fd0 0 27px,#fc0 0 48px,#f90 0 58px,#f30 0 68px,#f20 0)"></i><i style="background:linear-gradient(#0f5 6px,#0f0 0 17px,#8f0 0 27px,#df0 0 37px,#fe0 0 48px,#f40 0 58px,#f50 0 68px,#f00 0)"></i><i style="background:linear-gradient(#fb0 27px,#fa0 0 37px,#fb0 0 48px,#f80 0 58px,#f40 0 68px,#f50 0)"></i><i style="background:linear-gradient(#1f0 6px,#5f0 0 17px,#cf0 0 27px,#fa0 0 37px,#fb0 0 48px,#fa0 0 58px,#f80 0 68px,#f00 0)"></i><i style="background:linear-gradient(#0f2 17px,#ff0 0 37px,#f90 0 48px,#fc0 0 58px,#f60 0 68px,#f30 0)"></i><i style="background:linear-gradient(#0f1 17px,#ff0 0 37px,#fc0 0 48px,#f40 0 58px,#f60 0 68px,#f10 0)"></i><i style="background:linear-gradient(#fb0 48px,#f70 0 58px,#f50 0 68px,#f20 0)"></i><i style="background:linear-gradient(#0f7 6px,#0f8 0 17px,#7f0 0 27px,#f90 0 37px,#f80 0 58px,#f10 0 68px,#f00 0)"></i><i style="background:linear-gradient(#0f3 6px,#0f4 0 17px,#bf0 0 27px,#f90 0 37px,#fc0 0 48px,#f50 0 68px,#f40 0)"></i><i style="background:linear-gradient(#fb0 6px,#f80 0 17px,#fc0 0 27px,#f60 0 37px,#f90 0 48px,#f60 0 58px,#f50 0 68px,#f30 0)"></i><i style="background:linear-gradient(#fb0 6px,#fc0 0 17px,#f80 0 27px,#fd0 0 37px,#fb0 0 48px,#f60 0 68px,#f40 0)"></i><i style="background:linear-gradient(#fe0 6px,#f70 0 17px,#fd0 0 27px,#f60 0 37px,#fb0 0 48px,#f70 0 58px,#f20 0 68px,#f30 0)"></i><i style="background:linear-gradient(#fd0 6px,#f90 0 17px,#f60 0 27px,#f70 0 37px,#fa0 0 48px,#f60 0 58px,#f50 0 68px,#f60 0)"></i><i style="background:linear-gradient(#fe0 6px,#f90 0 17px,#fa0 0 27px,#f90 0 37px,#fa0 0 48px,#f00 0 58px,#f40 0 68px,#f20 0)"></i><i style="background:linear-gradient(#fa0 6px,#fd0 0 17px,#fb0 0 27px,#fd0 0 48px,#f70 0 58px,#f00 0 68px,#f40 0)"></i><i style="background:linear-gradient(#fc0 6px,#fa0 0 27px,#fb0 0 37px,#f60 0 48px,#f80 0 58px,#f60 0 68px,#f10 0)"></i><i style="background:linear-gradient(#fd0 6px,#f80 0 17px,#f50 0 27px,#fa0 0 48px,#f70 0 58px,#f60 0 68px,#f50 0)"></i><i style="background:linear-gradient(#fa0 6px,#fe0 0 17px,#fa0 0 37px,#fb0 0 48px,#f70 0 58px,#f40 0 68px,#f80 0)"></i><i style="background:linear-gradient(#fc0 6px,#fa0 0 17px,#fd0 0 27px,#fa0 0 37px,#fd0 0 48px,#fa0 0 58px,#f50 0 68px,#f10 0)"></i><i style="background:linear-gradient(#f60 6px,#fb0 0 17px,#fa0 0 37px,#fc0 0 48px,#f80 0 58px,#f40 0 68px,#f20 0)"></i><i style="background:linear-gradient(#fb0 6px,#f90 0 17px,#fc0 0 27px,#f80 0 37px,#ef0 0 48px,#f30 0 58px,#f70 0 68px,#f00 0)"></i><i style="background:linear-gradient(#f80 17px,#fb0 0 27px,#fc0 0 37px,#fa0 0 48px,#f80 0 58px,#f50 0 68px,#f10 0)"></i><i style="background:linear-gradient(#fd0 6px,#f90 0 17px,#fd0 0 27px,#fa0 0 37px,#f90 0 48px,#f40 0)"></i><i style="background:linear-gradient(#fc0 6px,#f90 0 17px,#fb0 0 37px,#fe0 0 48px,#f60 0 68px,#f50 0)"></i><i style="background:linear-gradient(#f90 6px,#fd0 0 17px,#fc0 0 27px,#ef0 0 37px,#fa0 0 48px,#f60 0 58px,#f40 0 68px,#f00 0)"></i><i style="background:linear-gradient(#fe0 6px,#fb0 0 17px,#f80 0 27px,#fe0 0 37px,#fb0 0 48px,#f60 0 58px,#f30 0 68px,#f20 0)"></i><i style="background:linear-gradient(#fd0 6px,#f50 0 17px,#fb0 0 27px,#fc0 0 48px,#f60 0 58px,#f70 0 68px,#f00 0)"></i><i style="background:linear-gradient(#1f0 6px,#0f2 0 17px,#3f0 0 27px,#5f0 0 37px,#fe0 0 48px,#f90 0 58px,#fd0 0 68px,#f00 0)"></i><i style="background:linear-gradient(#0f4 6px,#9f0 0 27px,#cf0 0 37px,#fd0 0 48px,#fe0 0 58px,#f70 0)"></i><i style="background:linear-gradient(#1f0 6px,#4f0 0 17px,#0f3 0 27px,#8f0 0 37px,#df0 0 48px,#fb0 0 58px,#df0 0 68px,#f70 0)"></i><i style="background:linear-gradient(#1f0 6px,#0f8 0 17px,#3f0 0 27px,#ff0 0 37px,#fb0 0 58px,#fa0 0 68px,#f80 0)"></i><i style="background:linear-gradient(#0f2 6px,#0f0 0 17px,#1f0 0 27px,#5f0 0 37px,#fe0 0 48px,#f80 0 58px,#fa0 0 68px,#f70 0)"></i><i style="background:linear-gradient(#0f5 6px,#0f8 0 17px,#1f0 0 27px,#3f0 0 37px,#fd0 0 48px,#fa0 0 68px,#f70 0)"></i><i style="background:linear-gradient(#0f4 6px,#0f1 0 17px,#0f4 0 27px,#0f1 0 37px,#0f3 0 48px,#fe0 0 58px,#bf0 0 68px,#8f0 0)"></i><i style="background:linear-gradient(#0f5 6px,#5f0 0 17px,#0f8 0 27px,#3f0 0 37px,#6f0 0 48px,#0f5 0 58px,#8f0 0 68px,#9f0 0)"></i><i style="background:linear-gradient(#0fa 6px,#0f6 0 17px,#0f2 0 27px,#8f0 0 37px,#0f4 0 48px,#0f5 0 58px,#df0 0 68px,#fd0 0)"></i><i style="background:linear-gradient(#0f7 6px,#0f4 0 17px,#0f8 0 27px,#5f0 0 37px,#3f0 0 48px,#0f1 0 58px,#1f0 0 68px,#fe0 0)"></i><i style="background:linear-gradient(#0f8 6px,#0f3 0 17px,#1f0 0 27px,#5f0 0 37px,#0f1 0 48px,#ff0 0 58px,#5f0 0 68px,#fc0 0)"></i><i style="background:linear-gradient(#0fa 6px,#0f6 0 17px,#1f0 0 27px,#0f2 0 37px,#0f4 0 48px,#0f2 0 58px,#af0 0 68px,#ef0 0)"></i><i style="background:linear-gradient(#0fc 6px,#0f1 0 17px,#0f3 0 27px,#0f5 0 37px,#2f0 0 48px,#7f0 0 58px,#2f0 0 68px,#fd0 0)"></i><i style="background:linear-gradient(#0ff 6px,#1f0 0 17px,#0f2 0 27px,#0f3 0 37px,#2f0 0 48px,#0f0 0 58px,#df0 0 68px,#ff0 0)"></i><i style="background:linear-gradient(#0f2 6px,#0f3 0 17px,#0f1 0 27px,#6f0 0 48px,#5f0 0 58px,#0f2 0 68px,#fe0 0)"></i><i style="background:linear-gradient(#0f6 6px,#0f1 0 17px,#0f7 0 27px,#2f0 0 37px,#3f0 0 48px,#0f1 0 58px,#0f2 0 68px,#ff0 0)"></i><i style="background:linear-gradient(#0fd 6px,#0fb 0 17px,#0fa 0 27px,#0f2 0 37px,#4f0 0 48px,#7f0 0 58px,#3f0 0 68px,#bf0 0)"></i><i style="background:linear-gradient(#0fc 6px,#0ff 0 17px,#0f1 0 27px,#0f2 0 58px,#2f0 0 68px,#af0 0)"></i><i style="width:7px;background:linear-gradient(#0fb 6px,#0ef 0 17px,#0f9 0 27px,#0f4 0 37px,#0f0 0 48px,#4f0 0 58px,#0f0 0 68px,#9f0 0)"></i></div>
<svg width="1083" height="620" viewBox="0 0 1083 620">
<defs><linearGradient id="cb" x1="0" y1="0" x2="0" y2="1"><stop offset="0.00" stop-color="rgb(255,0,0)"/><stop offset="0.01" stop-color="rgb(255,7,0)"/><stop offset="0.02" stop-color="rgb(255,14,0)"/><stop offset="0.03" stop-color="rgb(255,21,0)"/><stop offset="0.04" stop-color="rgb(255,28,0)"/><stop offset="0.05" stop-color="rgb(255,35,0)"/><stop offset="0.06" stop-color="rgb(255,43,0)"/><stop offset="0.07" stop-color="rgb(255,50,0)"/><stop offset="0.08" stop-color="rgb(255,57,0)"/><stop offset="0.09" stop-color="rgb(255,64,0)"/><stop offset="0.10" stop-color="rgb(255,71,0)"/><stop offset="0.11" stop-color="rgb(255,79,0)"/><stop offset="0.12" stop-color="rgb(255,86,0)"/><stop offset="0.13" stop-color="rgb(255,93,0)"/><stop offset="0.14" stop-color="rgb(255,100,0)"/><stop offset="0.15" stop-color="rgb(255,107,0)"/><stop offset="0.16" stop-color="rgb(255,114,0)"/><stop offset="0.17" stop-color="rgb(255,122,0)"/><stop offset="0.18" stop-color="rgb(255,129,0)"/><stop offset="0.19" stop-color="rgb(255,136,0)"/><stop offset="0.20" stop-color="rgb(255,143,0)"/><stop offset="0.21" stop-color="rgb(255,150,0)"/><stop offset="0.22" stop-color="rgb(255,158,0)"/><stop offset="0.23" stop-color="rgb(255,165,0)"/><stop offset="0.24" stop-color="rgb(255,172,0)"/><stop offset="0.25" stop-color="rgb(255,179,0)"/><stop offset="0.26" stop-color="rgb(255,186,0)"/><stop offset="0.27" stop-color="rgb(255,193,0)"/><stop offset="0.28" stop-color="rgb(255,201,0)"/><stop offset="0.29" stop-color="rgb(255,208,0)"/><stop offset="0.30" stop-color="rgb(255,215,0)"/><stop offset="0.31" stop-color="rgb(255,222,0)"/><stop offset="0.32" stop-color="rgb(255,229,0)"/><stop offset="0.33" stop-color="rgb(255,237,0)"/><stop offset="0.34" stop-color="rgb(255,244,0)"/><stop offset="0.35" stop-color="rgb(255,251,0)"/><stop offset="0.36" stop-color="rgb(246,255,0)"/><stop offset="0.37" stop-color="rgb(228,255,0)"/><stop offset="0.38" stop-color="rgb(211,255,0)"/><stop offset="0.39" stop-color="rgb(193,255,0)"/><stop offset="0.40" stop-color="rgb(175,255,0)"/><stop offset="0.41" stop-color="rgb(158,255,0)"/><stop offset="0.42" stop-color="rgb(140,255,0)"/><stop offset="0.43" stop-color="rgb(123,255,0)"/><stop offset="0.44" stop-color="rgb(105,255,0)"/><stop offset="0.45" stop-color="rgb(87,255,0)"/><stop offset="0.46" stop-color="rgb(70,255,0)"/><stop offset="0.47" stop-color="rgb(52,255,0)"/><stop offset="0.48" stop-color="rgb(35,255,0)"/><stop offset="0.49" stop-color="rgb(17,255,0)"/><stop offset="0.50" stop-color="rgb(0,255,0)"/><stop offset="0.51" stop-color="rgb(0,255,9)"/><stop offset="0.52" stop-color="rgb(0,255,19)"/><stop offset="0.53" stop-color="rgb(0,255,29)"/><stop offset="0.54" stop-color="rgb(0,255,39)"/><stop offset="0.55" stop-color="rgb(0,255,49)"/><stop offset="0.56" stop-color="rgb(0,255,59)"/><stop offset="0.57" stop-color="rgb(0,255,69)"/><stop offset="0.58" stop-color="rgb(0,255,79)"/><stop offset="0.59" stop-color="rgb(0,255,89)"/><stop offset="0.60" stop-color="rgb(0,255,99)"/><stop offset="0.61" stop-color="rgb(0,255,109)"/><stop offset="0.62" stop-color="rgb(0,255,119)"/><stop offset="0.63" stop-color="rgb(0,255,129)"/><stop offset="0.64" stop-color="rgb(0,255,139)"/><stop offset="0.65" stop-color="rgb(0,255,149)"/><stop offset="0.66" stop-color="rgb(0,255,159)"/><stop offset="0.67" stop-color="rgb(0,255,169)"/><stop offset="0.68" stop-color="rgb(0,255,179)"/><stop offset="0.69" stop-color="rgb(0,255,189)"/><stop offset="0.70" stop-color="rgb(0,255,199)"/><stop offset="0.71" stop-color="rgb(0,255,209)"/><stop offset="0.72" stop-color="rgb(0,255,219)"/><stop offset="0.73" stop-color="rgb(0,255,229)"/><stop offset="0.74" stop-color="rgb(0,255,239)"/><stop offset="0.75" stop-color="rgb(0,255,249)"/><stop offset="0.76" stop-color="rgb(0,245,255)"/><stop offset="0.77" stop-color="rgb(0,221,255)"/><stop offset="0.78" stop-color="rgb(0,196,255)"/><stop offset="0.79" stop-color="rgb(0,172,255)"/><stop offset="0.80" stop-color="rgb(0,148,255)"/><stop offset="0.81" stop-color="rgb(0,123,255)"/><stop offset="0.82" stop-color="rgb(0,99,255)"/><stop offset="0.83" stop-color="rgb(0,75,255)"/><stop offset="0.84" stop-color="rgb(0,50,255)"/><stop offset="0.85" stop-color="rgb(0,26,255)"/><stop offset="0.86" stop-color="rgb(0,2,255)"/><stop offset="0.87" stop-color="rgb(0,0,246)"/><stop offset="0.88" stop-color="rgb(0,0,237)"/><stop offset="0.89" stop-color="rgb(0,0,227)"/><stop offset="0.90" stop-color="rgb(0,0,218)"/><stop offset="0.91" stop-color="rgb(0,0,209)"/><stop offset="0.92" stop-color="rgb(0,0,199)"/><stop offset="0.93" stop-color="rgb(0,0,190)"/><stop offset="0.94" stop-color="rgb(0,0,181)"/><stop offset="0.95" stop-color="rgb(0,0,171)"/><stop offset="0.96" stop-color="rgb(0,0,162)"/><stop offset="0.97" stop-color="rgb(0,0,153)"/><stop offset="0.98" stop-color="rgb(0,0,143)"/><stop offset="0.99" stop-color="rgb(0,0,134)"/><stop offset="1.00" stop-color="rgb(0,0,125)"/></linearGradient></defs>
<rect x="966" y="53" width="13" height="352" fill="url(#cb)"/>
<rect x="966" y="429" width="13" height="75" fill="url(#cb)"/>
<g fill="none" stroke="#000" stroke-width="1" shape-rendering="crispEdges">
<rect x="90.5" y="51.5" width="863" height="354"/>
<rect x="90.5" y="427.5" width="863" height="77"/>
</g>
<path d="M81 405.5H90 M86 375.5H90 M86 358.5H90 M86 346.5H90 M86 336.5H90 M86 328.5H90 M86 322.5H90 M86 316.5H90 M86 311.5H90 M81 307.5H90 M86 277.5H90 M86 260.5H90 M86 248.5H90 M86 238.5H90 M86 231.5H90 M86 224.5H90 M86 219.5H90 M86 214.5H90 M81 209.5H90 M86 180.5H90 M86 162.5H90 M86 150.5H90 M86 141.5H90 M86 133.5H90 M86 127.5H90 M86 121.5H90 M86 116.5H90 M81 111.5H90 M86 82.5H90 M86 65.5H90 M86 53.5H90 M86 498.5H90 M86 491.5H90 M86 486.5H90 M86 482.5H90 M86 479.5H90 M86 476.5H90 M86 474.5H90 M86 471.5H90 M81 470.5H90 M86 457.5H90 M86 450.5H90 M86 445.5H90 M86 441.5H90 M86 438.5H90 M86 435.5H90 M86 432.5H90 M86 430.5H90 M81 428.5H90 M114.5 505V514 M145.5 505V509 M177.5 505V509 M208.5 505V509 M239.5 505V514 M271.5 505V509 M302.5 505V509 M334.5 505V509 M365.5 505V514 M397.5 505V509 M428.5 505V509 M460.5 505V509 M491.5 505V514 M523.5 505V509 M554.5 505V509 M586.5 505V509 M617.5 505V514 M648.5 505V509 M680.5 505V509 M711.5 505V509 M743.5 505V514 M774.5 505V509 M806.5 505V509 M837.5 505V509 M869.5 505V514 M900.5 505V509 M932.5 505V509 M979 405.5H989 M979 370.5H985 M979 334.5H989 M979 299.5H985 M979 264.5H989 M979 228.5H985 M979 193.5H989 M979 158.5H985 M979 123.5H989 M979 87.5H985 M979 52.5H989 M979 428.5H985 M979 436.5H985 M979 443.5H985 M979 451.5H985 M979 459.5H989 M979 466.5H985 M979 474.5H985 M979 481.5H985 M979 489.5H985 M979 496.5H989 M979 504.5H985" stroke="#000" fill="none" shape-rendering="crispEdges"/>
<path d="M979.5 52V406M966 405.5H989M979.5 428V505M966 504.5H989" stroke="#000" fill="none" shape-rendering="crispEdges"/>
<path d="M883 118H889V111Z" fill="#000"/>
<path d="M883 206H889V199Z" fill="#000"/>
<path d="M883 287H889V280Z" fill="#000"/>
<path d="M883 385H889V378Z" fill="#000"/>
<rect x="682" y="116" width="2" height="2" fill="#000"/>
<rect x="682" y="204" width="2" height="2" fill="#000"/>
<rect x="682" y="285" width="2" height="2" fill="#000"/>
<rect x="682" y="383" width="2" height="2" fill="#000"/>
<path d="M128 52L141 72" stroke="#f0f" stroke-width="2" fill="none"/>
<path id="fce" d="M504 192.3 L507 192.1 L510 192.0 L513 191.8 L516 191.7 L519 191.5 L522 191.3 L525 191.1 L528 190.9 L531 190.7 L534 190.6 L537 190.4 L540 190.2 L543 189.9 L546 189.7 L549 189.5 L552 189.3 L555 189.1 L558 188.8 L561 188.6 L564 188.3 L567 188.1 L570 187.8 L573 187.6 L576 187.3 L579 187.0 L582 186.8 L585 186.5 L588 186.2 L591 185.9 L594 185.6 L597 185.3 L600 185.0 L603 184.6 L606 184.3 L609 184.0 L612 183.6 L615 183.3 L618 182.9 L621 182.5 L624 182.2 L627 181.8 L630 181.4 L633 181.0 L636 180.6 L639 180.1 L642 179.7 L645 179.3 L648 178.8 L651 178.4 L654 177.9 L657 177.4 L660 176.9 L663 176.4 L666 175.9 L669 175.4 L672 174.9 L675 174.3 L678 173.8 L681 173.2 L684 172.7 L687 172.1 L690 171.5 L693 170.9 L696 170.2 L699 169.6 L702 168.9 L705 168.3 L708 167.6 L711 166.9 L714 166.2 L717 165.5 L720 164.7 L723 164.0 L726 163.2 L729 162.4 L732 161.6 L735 160.8 L738 160.0 L741 159.1 L744 158.2 L747 157.3 L750 156.4 L753 155.5 L756 154.6 L759 153.6 L762 152.6 L765 151.6 L768 150.6 L771 149.5 L774 148.5 L777 147.4 L780 146.3 L783 145.1 L786 144.0 L789 142.8 L792 141.6 L795 140.3 L798 139.1 L801 137.8 L804 136.5 L807 135.2 L810 133.8 L813 132.4 L816 131.0 L819 129.5 L822 128.0 L825 126.5 L828 125.0 L831 123.4 L834 121.8 L837 120.2 L840 118.5 L843 116.8 L846 115.1 L849 113.3 L852 111.5 L855 109.6 L858 107.8 L861 105.8 L864 103.9 L867 101.9 L870 99.8 L873 97.7 L876 95.6 L879 93.5 L882 91.2 L884 89.7" stroke="#f0f" stroke-width="2" fill="none"/>
<g font-family="Liberation Sans, Arial, sans-serif" font-size="13" fill="#000">
<text x="279.8" y="31" textLength="483.8" lengthAdjust="spacing" xml:space="preserve">DE 1/PWI-SFC  Spin Plane E-Field Spectra, 200 meter antenna, 104 Hz to 409 kHz</text>
<text x="459.8" y="44" font-size="8.8" stroke="#000" stroke-width="0.45" textLength="123" lengthAdjust="spacing">(Magenta Line: Fce in Hz)</text>
<text x="282.6" y="419" textLength="478.2" lengthAdjust="spacing" xml:space="preserve">DE 1/PWI-LFC  Spin Plane E-Field Spectra, 200 meter antenna, 1.78 Hz to 100 Hz</text>
<text x="76.3" y="413.4" text-anchor="end">10<tspan dy="-6.7">2</tspan></text>
<text x="76.3" y="315.4" text-anchor="end">10<tspan dy="-6.7">3</tspan></text>
<text x="76.3" y="217.4" text-anchor="end">10<tspan dy="-6.7">4</tspan></text>
<text x="76.3" y="119.4" text-anchor="end">10<tspan dy="-6.7">5</tspan></text>
<text x="76.3" y="436.3" text-anchor="end">10<tspan dy="-6.7">2</tspan></text>
<text x="76.3" y="478.7" text-anchor="end">10<tspan dy="-6.7">1</tspan></text>
<text x="992.5" y="60.2">10<tspan dy="-6.7">-6</tspan></text>
<text x="992.5" y="130.5">10<tspan dy="-6.7">-8</tspan></text>
<text x="992.5" y="200.8">10<tspan dy="-6.7">-10</tspan></text>
<text x="992.5" y="271.1">10<tspan dy="-6.7">-12</tspan></text>
<text x="992.5" y="341.4">10<tspan dy="-6.7">-14</tspan></text>
<text x="992.5" y="411.7">10<tspan dy="-6.7">-16</tspan></text>
<text x="992.5" y="466.0">10<tspan dy="-6.7">-10</tspan></text>
<text x="992.5" y="504.1">10<tspan dy="-6.7">-15</tspan></text>
<text transform="translate(46.4 228) rotate(-90)" text-anchor="middle">Frequency (Hz)</text>
<text transform="translate(46.4 466) rotate(-90)" text-anchor="middle">Freq (Hz)</text>
<text transform="translate(1048.5 228.2) rotate(-90)" text-anchor="middle" xml:space="preserve">Ex (V<tspan dy="-6.7">2</tspan><tspan dy="6.7"> m</tspan><tspan dy="-6.7">-2</tspan><tspan dy="6.7"> Hz</tspan><tspan dy="-6.7">-1</tspan><tspan dy="6.7">)</tspan></text>
<text transform="translate(1041.7 466) rotate(-90)" text-anchor="middle">LFC Ex</text>
<text x="113.5" y="529.7" text-anchor="middle">03:00</text>
<text x="238.5" y="529.7" text-anchor="middle">04:00</text>
<text x="364.5" y="529.7" text-anchor="middle">05:00</text>
<text x="490.5" y="529.7" text-anchor="middle">06:00</text>
<text x="616.5" y="529.7" text-anchor="middle">07:00</text>
<text x="742.5" y="529.7" text-anchor="middle">08:00</text>
<text x="868.5" y="529.7" text-anchor="middle">09:00</text>
<text x="59.5" y="545.2" text-anchor="end">R<tspan font-size="7.6" dy="3">e</tspan></text>
<text x="59.5" y="561.0" text-anchor="end">L</text>
<text x="59.5" y="576.8" text-anchor="end">M<tspan font-size="7.6" dy="3">LT</tspan></text>
<text x="59.5" y="592.6" text-anchor="end">M<tspan font-size="7.6" dy="3">LAT</tspan></text>
<text x="129.3" y="545.2" text-anchor="end">1.231</text>
<text x="129.3" y="561.0" text-anchor="end">10.786</text>
<text x="129.3" y="576.8" text-anchor="end">2.522</text>
<text x="129.3" y="592.6" text-anchor="end">-73.884</text>
<text x="632.6" y="545.2" text-anchor="end">4.493</text>
<text x="632.6" y="561.0" text-anchor="end">68.153</text>
<text x="632.6" y="576.8" text-anchor="end">8.076</text>
<text x="632.6" y="592.6" text-anchor="end">76.065</text>
<text x="758.4" y="545.2" text-anchor="end">3.737</text>
<text x="758.4" y="561.0" text-anchor="end">****</text>
<text x="758.4" y="576.8" text-anchor="end">15.855</text>
<text x="758.4" y="592.6" text-anchor="end">78.515</text>
<text x="884.3" y="545.2" text-anchor="end">2.214</text>
<text x="884.3" y="561.0" text-anchor="end">3.897</text>
<text x="884.3" y="576.8" text-anchor="end">17.604</text>
<text x="884.3" y="592.6" text-anchor="end">40.061</text>
<text x="521.7" y="612" text-anchor="middle">1981-12-12 (346) 2:49 to 9:40</text>
</g>
</svg></div></body></html>
